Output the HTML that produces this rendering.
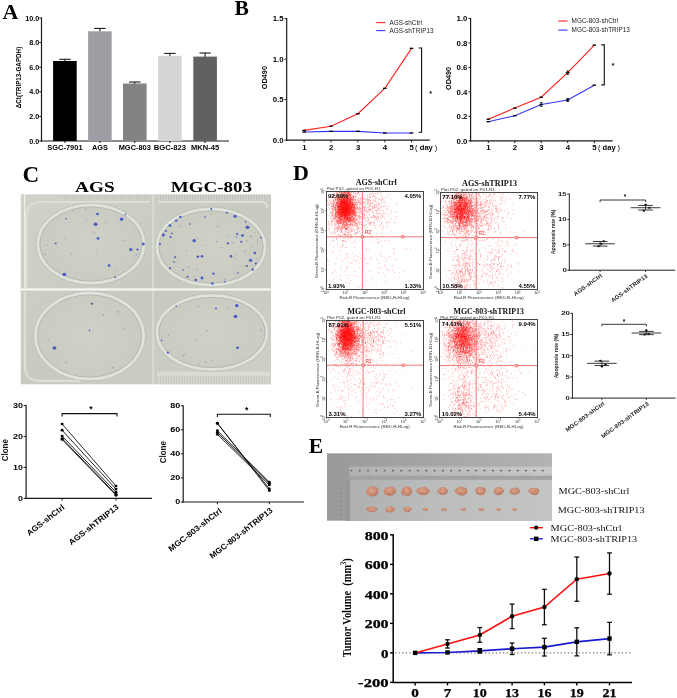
<!DOCTYPE html><html><head><meta charset="utf-8"><style>html,body{margin:0;padding:0;background:#fff;width:677px;height:698px;overflow:hidden}svg{display:block;will-change:transform}.S{font-family:"Liberation Sans", sans-serif}.Sb{font-family:"Liberation Sans", sans-serif;font-weight:bold}.R{font-family:"Liberation Serif", serif}.Rb{font-family:"Liberation Serif", serif;font-weight:bold}</style></head><body>
<svg width="677" height="698" viewBox="0 0 677 698">
<rect width="677" height="698" fill="#fff"/>
<text class="Rb" x="2.5" y="18.8" font-size="22" fill="#000">A</text>
<text class="Rb" x="234.6" y="14.6" font-size="21.5" fill="#000">B</text>
<text class="Rb" x="22.6" y="181.6" font-size="23" fill="#000">C</text>
<text class="Rb" x="293" y="179.7" font-size="22" fill="#000">D</text>
<text class="Rb" x="308.8" y="452.6" font-size="21.5" fill="#000">E</text>
<line x1="41.5" y1="17.5" x2="41.5" y2="141.6" stroke="#1a1a1a" stroke-width="1.2"/>
<line x1="40.9" y1="141" x2="229" y2="141" stroke="#1a1a1a" stroke-width="1.2"/>
<line x1="39.3" y1="141" x2="41.5" y2="141" stroke="#1a1a1a" stroke-width="1"/>
<text class="Sb" x="39.2" y="143.6" font-size="7.2" text-anchor="end">0.0</text>
<line x1="39.3" y1="116.4" x2="41.5" y2="116.4" stroke="#1a1a1a" stroke-width="1"/>
<text class="Sb" x="39.2" y="119" font-size="7.2" text-anchor="end">2.0</text>
<line x1="39.3" y1="91.8" x2="41.5" y2="91.8" stroke="#1a1a1a" stroke-width="1"/>
<text class="Sb" x="39.2" y="94.4" font-size="7.2" text-anchor="end">4.0</text>
<line x1="39.3" y1="67.2" x2="41.5" y2="67.2" stroke="#1a1a1a" stroke-width="1"/>
<text class="Sb" x="39.2" y="69.8" font-size="7.2" text-anchor="end">6.0</text>
<line x1="39.3" y1="42.6" x2="41.5" y2="42.6" stroke="#1a1a1a" stroke-width="1"/>
<text class="Sb" x="39.2" y="45.2" font-size="7.2" text-anchor="end">8.0</text>
<line x1="39.3" y1="18" x2="41.5" y2="18" stroke="#1a1a1a" stroke-width="1"/>
<text class="Sb" x="39.2" y="20.6" font-size="7.2" text-anchor="end">10.0</text>
<line x1="64.9" y1="59.3" x2="64.9" y2="61.5" stroke="#1a1a1a" stroke-width="1.1"/>
<line x1="59.2" y1="59.3" x2="70.6" y2="59.3" stroke="#1a1a1a" stroke-width="1.1"/>
<rect x="53.1" y="61" width="23.6" height="80" fill="#000000"/>
<line x1="64.9" y1="141" x2="64.9" y2="143" stroke="#1a1a1a" stroke-width="1"/>
<text class="Sb" x="64.9" y="149.7" font-size="7.3" text-anchor="middle" textLength="35.4" lengthAdjust="spacingAndGlyphs">SGC-7901</text>
<line x1="99.9" y1="28.4" x2="99.9" y2="31.8" stroke="#1a1a1a" stroke-width="1.1"/>
<line x1="94.2" y1="28.4" x2="105.6" y2="28.4" stroke="#1a1a1a" stroke-width="1.1"/>
<rect x="88.1" y="31.3" width="23.6" height="109.7" fill="#9e9da3"/>
<line x1="99.9" y1="141" x2="99.9" y2="143" stroke="#1a1a1a" stroke-width="1"/>
<text class="Sb" x="99.9" y="149.7" font-size="7.3" text-anchor="middle" textLength="16" lengthAdjust="spacingAndGlyphs">AGS</text>
<line x1="134.8" y1="82" x2="134.8" y2="84" stroke="#1a1a1a" stroke-width="1.1"/>
<line x1="129.1" y1="82" x2="140.5" y2="82" stroke="#1a1a1a" stroke-width="1.1"/>
<rect x="123" y="83.5" width="23.6" height="57.5" fill="#838383"/>
<line x1="134.8" y1="141" x2="134.8" y2="143" stroke="#1a1a1a" stroke-width="1"/>
<text class="Sb" x="134.8" y="149.7" font-size="7.3" text-anchor="middle" textLength="32.2" lengthAdjust="spacingAndGlyphs">MGC-803</text>
<line x1="169.9" y1="53.4" x2="169.9" y2="56.3" stroke="#1a1a1a" stroke-width="1.1"/>
<line x1="164.2" y1="53.4" x2="175.6" y2="53.4" stroke="#1a1a1a" stroke-width="1.1"/>
<rect x="158.1" y="55.8" width="23.6" height="85.2" fill="#d5d5d5"/>
<line x1="169.9" y1="141" x2="169.9" y2="143" stroke="#1a1a1a" stroke-width="1"/>
<text class="Sb" x="169.9" y="149.7" font-size="7.3" text-anchor="middle" textLength="32.3" lengthAdjust="spacingAndGlyphs">BGC-823</text>
<line x1="205.1" y1="53" x2="205.1" y2="57.1" stroke="#1a1a1a" stroke-width="1.1"/>
<line x1="199.4" y1="53" x2="210.8" y2="53" stroke="#1a1a1a" stroke-width="1.1"/>
<rect x="193.3" y="56.6" width="23.6" height="84.4" fill="#616161"/>
<line x1="205.1" y1="141" x2="205.1" y2="143" stroke="#1a1a1a" stroke-width="1"/>
<text class="Sb" x="205.1" y="149.7" font-size="7.3" text-anchor="middle" textLength="28" lengthAdjust="spacingAndGlyphs">MKN-45</text>
<text class="Sb" transform="translate(21.3 77.5) rotate(-90)" font-size="6.3" text-anchor="middle">ΔCt(TRIP13-GAPDH)</text>
<line x1="286.7" y1="18.1" x2="286.7" y2="140.7" stroke="#1a1a1a" stroke-width="1.2"/>
<line x1="286.1" y1="140.1" x2="429.7" y2="140.1" stroke="#1a1a1a" stroke-width="1.3"/>
<line x1="284.5" y1="140.1" x2="286.7" y2="140.1" stroke="#1a1a1a" stroke-width="1"/>
<text class="Sb" x="283.5" y="142.9" font-size="7.8" text-anchor="end">0.0</text>
<line x1="284.5" y1="99.6" x2="286.7" y2="99.6" stroke="#1a1a1a" stroke-width="1"/>
<text class="Sb" x="283.5" y="102.4" font-size="7.8" text-anchor="end">0.5</text>
<line x1="284.5" y1="59.1" x2="286.7" y2="59.1" stroke="#1a1a1a" stroke-width="1"/>
<text class="Sb" x="283.5" y="61.9" font-size="7.8" text-anchor="end">1.0</text>
<line x1="284.5" y1="18.6" x2="286.7" y2="18.6" stroke="#1a1a1a" stroke-width="1"/>
<text class="Sb" x="283.5" y="21.4" font-size="7.8" text-anchor="end">1.5</text>
<line x1="304.1" y1="140.1" x2="304.1" y2="142.3" stroke="#1a1a1a" stroke-width="1"/>
<text class="Sb" x="304.3" y="149.8" font-size="7.8" text-anchor="middle">1</text>
<line x1="331" y1="140.1" x2="331" y2="142.3" stroke="#1a1a1a" stroke-width="1"/>
<text class="Sb" x="331.2" y="149.8" font-size="7.8" text-anchor="middle">2</text>
<line x1="357.9" y1="140.1" x2="357.9" y2="142.3" stroke="#1a1a1a" stroke-width="1"/>
<text class="Sb" x="358.1" y="149.8" font-size="7.8" text-anchor="middle">3</text>
<line x1="384.8" y1="140.1" x2="384.8" y2="142.3" stroke="#1a1a1a" stroke-width="1"/>
<text class="Sb" x="385" y="149.8" font-size="7.8" text-anchor="middle">4</text>
<line x1="411.5" y1="140.1" x2="411.5" y2="142.3" stroke="#1a1a1a" stroke-width="1"/>
<text class="Sb" x="411.7" y="149.8" font-size="7.8" text-anchor="middle">5</text>
<text class="S" x="415.1" y="149.6" font-size="7.4">(</text>
<text class="Sb" x="419.8" y="149.8" font-size="7.6" textLength="13" lengthAdjust="spacingAndGlyphs">day</text>
<text class="S" x="434.8" y="149.6" font-size="7.4">)</text>
<polyline points="304.1,130.38 331,126.17 357.9,113.77 384.8,88.34 411.5,48.33" fill="none" stroke="#ff2020" stroke-width="1.1"/>
<polyline points="304.1,132 331,131.35 357.9,131.35 384.8,132.97 411.5,132.97" fill="none" stroke="#3333ff" stroke-width="1.1"/>
<line x1="302.3" y1="130.38" x2="305.9" y2="130.38" stroke="#000" stroke-width="1.3"/>
<line x1="329.2" y1="126.17" x2="332.8" y2="126.17" stroke="#000" stroke-width="1.3"/>
<line x1="356.1" y1="113.77" x2="359.7" y2="113.77" stroke="#000" stroke-width="1.3"/>
<line x1="383" y1="88.34" x2="386.6" y2="88.34" stroke="#000" stroke-width="1.3"/>
<line x1="409.7" y1="48.33" x2="413.3" y2="48.33" stroke="#000" stroke-width="1.3"/>
<line x1="302.3" y1="132" x2="305.9" y2="132" stroke="#000" stroke-width="1.3"/>
<line x1="329.2" y1="131.35" x2="332.8" y2="131.35" stroke="#000" stroke-width="1.3"/>
<line x1="356.1" y1="131.35" x2="359.7" y2="131.35" stroke="#000" stroke-width="1.3"/>
<line x1="383" y1="132.97" x2="386.6" y2="132.97" stroke="#000" stroke-width="1.3"/>
<line x1="409.7" y1="132.97" x2="413.3" y2="132.97" stroke="#000" stroke-width="1.3"/>
<polyline points="418.6,48 421.6,48 421.6,132.2 418.6,132.2" fill="none" stroke="#111" stroke-width="1.1"/>
<text class="Sb" x="430.5" y="96.2" font-size="7" text-anchor="middle">*</text>
<line x1="376.2" y1="22.6" x2="385.4" y2="22.6" stroke="#ff2020" stroke-width="1.1"/>
<line x1="376.2" y1="30.6" x2="385.4" y2="30.6" stroke="#3333ff" stroke-width="1.1"/>
<text class="S" x="389.5" y="24.8" font-size="6.4" fill="#222">AGS-shCtrl</text>
<text class="S" x="389.5" y="32.8" font-size="6.4" fill="#222">AGS-shTRIP13</text>
<text class="Sb" transform="translate(267 77.6) rotate(-90)" font-size="7.3" text-anchor="middle">OD490</text>
<line x1="470.6" y1="17.9" x2="470.6" y2="141.5" stroke="#1a1a1a" stroke-width="1.2"/>
<line x1="470" y1="140.9" x2="612.7" y2="140.9" stroke="#1a1a1a" stroke-width="1.3"/>
<line x1="468.4" y1="140.9" x2="470.6" y2="140.9" stroke="#1a1a1a" stroke-width="1"/>
<text class="Sb" x="467.4" y="143.7" font-size="7.8" text-anchor="end">0.0</text>
<line x1="468.4" y1="116.4" x2="470.6" y2="116.4" stroke="#1a1a1a" stroke-width="1"/>
<text class="Sb" x="467.4" y="119.2" font-size="7.8" text-anchor="end">0.2</text>
<line x1="468.4" y1="91.9" x2="470.6" y2="91.9" stroke="#1a1a1a" stroke-width="1"/>
<text class="Sb" x="467.4" y="94.7" font-size="7.8" text-anchor="end">0.4</text>
<line x1="468.4" y1="67.4" x2="470.6" y2="67.4" stroke="#1a1a1a" stroke-width="1"/>
<text class="Sb" x="467.4" y="70.2" font-size="7.8" text-anchor="end">0.6</text>
<line x1="468.4" y1="42.9" x2="470.6" y2="42.9" stroke="#1a1a1a" stroke-width="1"/>
<text class="Sb" x="467.4" y="45.7" font-size="7.8" text-anchor="end">0.8</text>
<line x1="468.4" y1="18.4" x2="470.6" y2="18.4" stroke="#1a1a1a" stroke-width="1"/>
<text class="Sb" x="467.4" y="21.2" font-size="7.8" text-anchor="end">1.0</text>
<line x1="488.3" y1="140.9" x2="488.3" y2="143.1" stroke="#1a1a1a" stroke-width="1"/>
<text class="Sb" x="488.5" y="149.8" font-size="7.8" text-anchor="middle">1</text>
<line x1="514.8" y1="140.9" x2="514.8" y2="143.1" stroke="#1a1a1a" stroke-width="1"/>
<text class="Sb" x="515" y="149.8" font-size="7.8" text-anchor="middle">2</text>
<line x1="541.2" y1="140.9" x2="541.2" y2="143.1" stroke="#1a1a1a" stroke-width="1"/>
<text class="Sb" x="541.4" y="149.8" font-size="7.8" text-anchor="middle">3</text>
<line x1="567.7" y1="140.9" x2="567.7" y2="143.1" stroke="#1a1a1a" stroke-width="1"/>
<text class="Sb" x="567.9" y="149.8" font-size="7.8" text-anchor="middle">4</text>
<line x1="594.3" y1="140.9" x2="594.3" y2="143.1" stroke="#1a1a1a" stroke-width="1"/>
<text class="Sb" x="594.5" y="149.8" font-size="7.8" text-anchor="middle">5</text>
<text class="S" x="597.9" y="149.6" font-size="7.4">(</text>
<text class="Sb" x="602.6" y="149.8" font-size="7.6" textLength="13" lengthAdjust="spacingAndGlyphs">day</text>
<text class="S" x="617.6" y="149.6" font-size="7.4">)</text>
<polyline points="488.3,119.22 514.8,108.07 541.2,97.17 567.7,72.67 594.3,45.11" fill="none" stroke="#ff2020" stroke-width="1.1"/>
<polyline points="488.3,121.67 514.8,115.67 541.2,104.52 567.7,99.99 594.3,85.16" fill="none" stroke="#3333ff" stroke-width="1.1"/>
<line x1="567.7" y1="70.95" x2="567.7" y2="74.38" stroke="#000" stroke-width="0.9"/>
<line x1="566.4" y1="70.95" x2="569" y2="70.95" stroke="#000" stroke-width="0.8"/>
<line x1="566.4" y1="74.38" x2="569" y2="74.38" stroke="#000" stroke-width="0.8"/>
<line x1="541.2" y1="102.68" x2="541.2" y2="106.36" stroke="#000" stroke-width="0.9"/>
<line x1="539.9" y1="102.68" x2="542.5" y2="102.68" stroke="#000" stroke-width="0.8"/>
<line x1="539.9" y1="106.36" x2="542.5" y2="106.36" stroke="#000" stroke-width="0.8"/>
<line x1="567.7" y1="98.52" x2="567.7" y2="101.46" stroke="#000" stroke-width="0.9"/>
<line x1="566.4" y1="98.52" x2="569" y2="98.52" stroke="#000" stroke-width="0.8"/>
<line x1="566.4" y1="101.46" x2="569" y2="101.46" stroke="#000" stroke-width="0.8"/>
<line x1="486.5" y1="119.22" x2="490.1" y2="119.22" stroke="#000" stroke-width="1.3"/>
<line x1="513" y1="108.07" x2="516.6" y2="108.07" stroke="#000" stroke-width="1.3"/>
<line x1="539.4" y1="97.17" x2="543" y2="97.17" stroke="#000" stroke-width="1.3"/>
<line x1="565.9" y1="72.67" x2="569.5" y2="72.67" stroke="#000" stroke-width="1.3"/>
<line x1="592.5" y1="45.11" x2="596.1" y2="45.11" stroke="#000" stroke-width="1.3"/>
<line x1="486.5" y1="121.67" x2="490.1" y2="121.67" stroke="#000" stroke-width="1.3"/>
<line x1="513" y1="115.67" x2="516.6" y2="115.67" stroke="#000" stroke-width="1.3"/>
<line x1="539.4" y1="104.52" x2="543" y2="104.52" stroke="#000" stroke-width="1.3"/>
<line x1="565.9" y1="99.99" x2="569.5" y2="99.99" stroke="#000" stroke-width="1.3"/>
<line x1="592.5" y1="85.16" x2="596.1" y2="85.16" stroke="#000" stroke-width="1.3"/>
<polyline points="601.3,44.9 604.3,44.9 604.3,84.9 601.3,84.9" fill="none" stroke="#111" stroke-width="1.1"/>
<text class="Sb" x="613" y="68" font-size="7" text-anchor="middle">*</text>
<line x1="558.3" y1="21" x2="567.5" y2="21" stroke="#ff2020" stroke-width="1.1"/>
<line x1="558.3" y1="30.1" x2="567.5" y2="30.1" stroke="#3333ff" stroke-width="1.1"/>
<text class="S" x="571.6" y="23.2" font-size="6.4" fill="#222">MGC-803-shCtrl</text>
<text class="S" x="571.6" y="32.3" font-size="6.4" fill="#222">MGC-803-shTRIP13</text>
<text class="Sb" transform="translate(451 78.4) rotate(-90)" font-size="7.3" text-anchor="middle">OD490</text>
<text class="Rb" x="75" y="191.6" font-size="15.2" textLength="39.6" lengthAdjust="spacingAndGlyphs" fill="#000">AGS</text>
<text class="Rb" x="170.8" y="191.6" font-size="15.2" textLength="81.3" lengthAdjust="spacingAndGlyphs" fill="#000">MGC-803</text>
<defs><linearGradient id="plbg" x1="0" y1="0" x2="1" y2="1"><stop offset="0" stop-color="#d0d3c9"/><stop offset="0.5" stop-color="#c7cabe"/><stop offset="1" stop-color="#cdd0c6"/></linearGradient><radialGradient id="wellg" cx="0.5" cy="0.5" r="0.6"><stop offset="0" stop-color="#d0d1c6"/><stop offset="0.8" stop-color="#cbccc1"/><stop offset="1" stop-color="#c6c8bd"/></radialGradient><pattern id="ribs" width="1.6" height="6" patternUnits="userSpaceOnUse"><rect width="1.6" height="6" fill="#d3d6ce"/><rect width="0.6" height="6" fill="#b9bcb3"/></pattern><pattern id="ribs2" width="1.6" height="9" patternUnits="userSpaceOnUse"><rect width="1.6" height="9" fill="#d8dad2"/><rect width="0.6" height="9" fill="#c2c4bb"/></pattern><clipPath id="plclip"><rect x="20.5" y="194" width="250.5" height="190.5"/></clipPath></defs>
<g clip-path="url(#plclip)">
<rect x="20.5" y="194" width="250.5" height="190.5" fill="url(#plbg)"/>
<rect x="60" y="194.3" width="90" height="4.2" fill="url(#ribs)"/>
<rect x="157" y="194.3" width="112" height="8" fill="url(#ribs)"/>
<rect x="20.5" y="194" width="250.5" height="0.8" fill="#e2e3de"/>
<rect x="157" y="376" width="113" height="8.5" fill="url(#ribs2)"/>
<rect x="157" y="371.5" width="113" height="4.5" fill="#d9dcd3"/>
<path d="M26.5 288V216Q26.5 202 41 202H150" fill="none" stroke="#dcdfd6" stroke-width="2.2"/>
<path d="M25 292V366Q25 381 41 381H80" fill="none" stroke="#dcdfd6" stroke-width="2.2"/>
<path d="M158 202H262Q267 202 267 208" fill="none" stroke="#dcdfd6" stroke-width="2.2"/>
<rect x="24" y="194" width="1.3" height="94" fill="#eeeeea"/>
<rect x="152.5" y="194" width="1.2" height="190" fill="#e2e3de"/>
<ellipse cx="91" cy="244" rx="55" ry="41" fill="url(#wellg)"/>
<ellipse cx="91" cy="244" rx="53.1" ry="39.1" fill="none" stroke="#dfe3d9" stroke-width="3.0"/>
<ellipse cx="91" cy="244" rx="51.1" ry="37.1" fill="none" stroke="#aeb1ad" stroke-width="0.7"/>
<ellipse cx="91" cy="244" rx="55" ry="41" fill="none" stroke="#b9bbb7" stroke-width="0.6"/>
<ellipse cx="211" cy="247" rx="56" ry="40" fill="url(#wellg)"/>
<ellipse cx="211" cy="247" rx="54.1" ry="38.1" fill="none" stroke="#dfe3d9" stroke-width="3.0"/>
<ellipse cx="211" cy="247" rx="52.1" ry="36.1" fill="none" stroke="#aeb1ad" stroke-width="0.7"/>
<ellipse cx="211" cy="247" rx="56" ry="40" fill="none" stroke="#b9bbb7" stroke-width="0.6"/>
<ellipse cx="89.5" cy="336" rx="56" ry="45" fill="url(#wellg)"/>
<ellipse cx="89.5" cy="336" rx="54.1" ry="43.1" fill="none" stroke="#dfe3d9" stroke-width="3.0"/>
<ellipse cx="89.5" cy="336" rx="52.1" ry="41.1" fill="none" stroke="#aeb1ad" stroke-width="0.7"/>
<ellipse cx="89.5" cy="336" rx="56" ry="45" fill="none" stroke="#b9bbb7" stroke-width="0.6"/>
<ellipse cx="212" cy="332.5" rx="57" ry="39" fill="url(#wellg)"/>
<ellipse cx="212" cy="332.5" rx="55.1" ry="37.1" fill="none" stroke="#dfe3d9" stroke-width="3.0"/>
<ellipse cx="212" cy="332.5" rx="53.1" ry="35.1" fill="none" stroke="#aeb1ad" stroke-width="0.7"/>
<ellipse cx="212" cy="332.5" rx="57" ry="39" fill="none" stroke="#b9bbb7" stroke-width="0.6"/>
<rect x="20.5" y="288.4" width="250.5" height="2.1" fill="#f8f8f6"/>
</g>
<ellipse cx="91.8" cy="303.8" rx="1.3" ry="1.0" fill="#5c6290"/>
<ellipse cx="97.6" cy="214" rx="1.43" ry="1.3" fill="#3c4fc8" opacity="0.9"/>
<ellipse cx="121.6" cy="219.2" rx="1.76" ry="1.6" fill="#3c4fc8" opacity="0.9"/>
<ellipse cx="95.6" cy="224.2" rx="1.98" ry="1.8" fill="#3c4fc8" opacity="0.9"/>
<ellipse cx="98" cy="238.4" rx="1.43" ry="1.3" fill="#3c4fc8" opacity="0.9"/>
<ellipse cx="55.7" cy="243.4" rx="0.99" ry="0.9" fill="#3c4fc8" opacity="0.9"/>
<ellipse cx="130.8" cy="249.5" rx="1.65" ry="1.5" fill="#3c4fc8" opacity="0.9"/>
<ellipse cx="137.5" cy="249.5" rx="1.21" ry="1.1" fill="#3c4fc8" opacity="0.9"/>
<ellipse cx="143.3" cy="244.1" rx="1.54" ry="1.4" fill="#3c4fc8" opacity="0.9"/>
<ellipse cx="109.1" cy="265.5" rx="1.43" ry="1.3" fill="#3c4fc8" opacity="0.9"/>
<ellipse cx="64.3" cy="274.5" rx="1.87" ry="1.7" fill="#3c4fc8" opacity="0.9"/>
<ellipse cx="115.2" cy="277.4" rx="0.88" ry="0.8" fill="#3c4fc8" opacity="0.9"/>
<ellipse cx="65.9" cy="218.8" rx="0.88" ry="0.8" fill="#3c4fc8" opacity="0.9"/>
<ellipse cx="125.4" cy="214.6" rx="0.88" ry="0.8" fill="#3c4fc8" opacity="0.9"/>
<ellipse cx="235.1" cy="216.3" rx="1.65" ry="1.5" fill="#3c4fc8" opacity="0.9"/>
<ellipse cx="247.5" cy="227.2" rx="1.98" ry="1.8" fill="#3c4fc8" opacity="0.9"/>
<ellipse cx="242.4" cy="235.5" rx="1.43" ry="1.3" fill="#3c4fc8" opacity="0.9"/>
<ellipse cx="237.2" cy="234" rx="1.1" ry="1" fill="#3c4fc8" opacity="0.9"/>
<ellipse cx="227.9" cy="243.3" rx="1.21" ry="1.1" fill="#3c4fc8" opacity="0.9"/>
<ellipse cx="194.2" cy="240.7" rx="1.76" ry="1.6" fill="#3c4fc8" opacity="0.9"/>
<ellipse cx="170.6" cy="237.1" rx="1.1" ry="1" fill="#3c4fc8" opacity="0.9"/>
<ellipse cx="163.4" cy="235" rx="1.54" ry="1.4" fill="#3c4fc8" opacity="0.9"/>
<ellipse cx="170" cy="225.6" rx="1.43" ry="1.3" fill="#3c4fc8" opacity="0.9"/>
<ellipse cx="176.2" cy="220.6" rx="1.32" ry="1.2" fill="#3c4fc8" opacity="0.9"/>
<ellipse cx="180.3" cy="216.9" rx="1.32" ry="1.2" fill="#3c4fc8" opacity="0.9"/>
<ellipse cx="172" cy="233.4" rx="0.88" ry="0.8" fill="#3c4fc8" opacity="0.9"/>
<ellipse cx="197.9" cy="256.6" rx="1.32" ry="1.2" fill="#3c4fc8" opacity="0.9"/>
<ellipse cx="202" cy="256.2" rx="1.32" ry="1.2" fill="#3c4fc8" opacity="0.9"/>
<ellipse cx="175.2" cy="257.2" rx="1.1" ry="1" fill="#3c4fc8" opacity="0.9"/>
<ellipse cx="231" cy="256.2" rx="1.32" ry="1.2" fill="#3c4fc8" opacity="0.9"/>
<ellipse cx="250.6" cy="260.3" rx="1.65" ry="1.5" fill="#3c4fc8" opacity="0.9"/>
<ellipse cx="254.8" cy="253" rx="1.32" ry="1.2" fill="#3c4fc8" opacity="0.9"/>
<ellipse cx="255.8" cy="263.4" rx="1.1" ry="1" fill="#3c4fc8" opacity="0.9"/>
<ellipse cx="252.7" cy="269.6" rx="1.32" ry="1.2" fill="#3c4fc8" opacity="0.9"/>
<ellipse cx="170" cy="268.2" rx="1.1" ry="1" fill="#3c4fc8" opacity="0.9"/>
<ellipse cx="195.8" cy="280" rx="1.32" ry="1.2" fill="#3c4fc8" opacity="0.9"/>
<ellipse cx="202" cy="277.9" rx="1.43" ry="1.3" fill="#3c4fc8" opacity="0.9"/>
<ellipse cx="213.4" cy="273.7" rx="1.21" ry="1.1" fill="#3c4fc8" opacity="0.9"/>
<ellipse cx="212.4" cy="283.5" rx="1.32" ry="1.2" fill="#3c4fc8" opacity="0.9"/>
<ellipse cx="187.6" cy="276.8" rx="1.1" ry="1" fill="#3c4fc8" opacity="0.9"/>
<ellipse cx="224.8" cy="282" rx="0.88" ry="0.8" fill="#3c4fc8" opacity="0.9"/>
<ellipse cx="211.3" cy="209" rx="0.99" ry="0.9" fill="#3c4fc8" opacity="0.9"/>
<ellipse cx="226.8" cy="212.7" rx="0.99" ry="0.9" fill="#3c4fc8" opacity="0.9"/>
<ellipse cx="245.5" cy="222" rx="0.88" ry="0.8" fill="#3c4fc8" opacity="0.9"/>
<ellipse cx="261" cy="237.6" rx="0.88" ry="0.8" fill="#3c4fc8" opacity="0.9"/>
<ellipse cx="241.3" cy="241.7" rx="1.1" ry="1" fill="#3c4fc8" opacity="0.9"/>
<ellipse cx="166" cy="231" rx="0.99" ry="0.9" fill="#3c4fc8" opacity="0.9"/>
<ellipse cx="160" cy="244" rx="0.99" ry="0.9" fill="#3c4fc8" opacity="0.9"/>
<ellipse cx="174" cy="262" rx="0.88" ry="0.8" fill="#3c4fc8" opacity="0.9"/>
<ellipse cx="183" cy="270" rx="0.88" ry="0.8" fill="#3c4fc8" opacity="0.9"/>
<ellipse cx="238" cy="273" rx="0.88" ry="0.8" fill="#3c4fc8" opacity="0.9"/>
<ellipse cx="247" cy="266" rx="0.99" ry="0.9" fill="#3c4fc8" opacity="0.9"/>
<ellipse cx="205" cy="217" rx="0.88" ry="0.8" fill="#3c4fc8" opacity="0.9"/>
<ellipse cx="190" cy="224" rx="0.88" ry="0.8" fill="#3c4fc8" opacity="0.9"/>
<ellipse cx="54.4" cy="348" rx="1.98" ry="1.8" fill="#3c4fc8" opacity="0.9"/>
<ellipse cx="89.5" cy="330.5" rx="0.88" ry="0.8" fill="#3c4fc8" opacity="0.9"/>
<ellipse cx="236.8" cy="305.7" rx="1.76" ry="1.6" fill="#3c4fc8" opacity="0.9"/>
<ellipse cx="235.5" cy="316.4" rx="1.87" ry="1.7" fill="#3c4fc8" opacity="0.9"/>
<ellipse cx="237.6" cy="347.7" rx="1.43" ry="1.3" fill="#3c4fc8" opacity="0.9"/>
<ellipse cx="167.9" cy="352.6" rx="1.21" ry="1.1" fill="#3c4fc8" opacity="0.9"/>
<ellipse cx="176.2" cy="306.3" rx="0.88" ry="0.8" fill="#3c4fc8" opacity="0.9"/>
<ellipse cx="216" cy="308.4" rx="0.99" ry="0.9" fill="#3c4fc8" opacity="0.9"/>
<ellipse cx="161.7" cy="340.2" rx="0.88" ry="0.8" fill="#3c4fc8" opacity="0.9"/>
<circle cx="180.2" cy="226.0" r="0.8" fill="#5a66b8" opacity="0.45"/>
<circle cx="251.2" cy="236.3" r="0.9" fill="#5a66b8" opacity="0.45"/>
<circle cx="244.6" cy="251.3" r="0.9" fill="#5a66b8" opacity="0.45"/>
<circle cx="182.9" cy="220.3" r="0.5" fill="#5a66b8" opacity="0.45"/>
<circle cx="186.6" cy="250.4" r="0.7" fill="#5a66b8" opacity="0.45"/>
<circle cx="205.9" cy="245.2" r="0.6" fill="#5a66b8" opacity="0.45"/>
<circle cx="202.2" cy="279.9" r="0.8" fill="#5a66b8" opacity="0.45"/>
<circle cx="235.0" cy="273.3" r="0.6" fill="#5a66b8" opacity="0.45"/>
<circle cx="197.8" cy="238.6" r="0.5" fill="#5a66b8" opacity="0.45"/>
<circle cx="226.8" cy="235.4" r="0.6" fill="#5a66b8" opacity="0.45"/>
<circle cx="257.4" cy="243.4" r="0.6" fill="#5a66b8" opacity="0.45"/>
<circle cx="246.6" cy="240.8" r="0.8" fill="#5a66b8" opacity="0.45"/>
<circle cx="224.6" cy="279.6" r="0.8" fill="#5a66b8" opacity="0.45"/>
<circle cx="257.2" cy="240.1" r="0.6" fill="#5a66b8" opacity="0.45"/>
<circle cx="197.9" cy="257.9" r="0.6" fill="#5a66b8" opacity="0.45"/>
<circle cx="236.2" cy="254.6" r="0.7" fill="#5a66b8" opacity="0.45"/>
<circle cx="252.2" cy="247.6" r="0.6" fill="#5a66b8" opacity="0.45"/>
<circle cx="194.4" cy="276.4" r="0.7" fill="#5a66b8" opacity="0.45"/>
<circle cx="197.1" cy="269.2" r="0.8" fill="#5a66b8" opacity="0.45"/>
<circle cx="257.2" cy="259.1" r="0.5" fill="#5a66b8" opacity="0.45"/>
<circle cx="210.9" cy="214.8" r="0.5" fill="#5a66b8" opacity="0.45"/>
<circle cx="218.1" cy="226.4" r="0.7" fill="#5a66b8" opacity="0.45"/>
<circle cx="221.8" cy="247.4" r="0.6" fill="#5a66b8" opacity="0.45"/>
<circle cx="232.3" cy="242.7" r="0.8" fill="#5a66b8" opacity="0.45"/>
<circle cx="254.9" cy="232.5" r="0.6" fill="#5a66b8" opacity="0.45"/>
<circle cx="188.8" cy="267.1" r="0.8" fill="#5a66b8" opacity="0.45"/>
<circle cx="244.7" cy="266.0" r="0.8" fill="#5a66b8" opacity="0.45"/>
<circle cx="217.1" cy="241.8" r="0.9" fill="#5a66b8" opacity="0.45"/>
<circle cx="235.5" cy="258.1" r="0.7" fill="#5a66b8" opacity="0.45"/>
<circle cx="236.4" cy="237.0" r="0.9" fill="#5a66b8" opacity="0.45"/>
<circle cx="65.2" cy="238.4" r="0.6" fill="#5a66b8" opacity="0.45"/>
<circle cx="96.9" cy="253.0" r="0.6" fill="#5a66b8" opacity="0.45"/>
<circle cx="73.1" cy="210.7" r="0.6" fill="#5a66b8" opacity="0.45"/>
<circle cx="136.5" cy="254.7" r="0.7" fill="#5a66b8" opacity="0.45"/>
<circle cx="71.6" cy="253.8" r="0.7" fill="#5a66b8" opacity="0.45"/>
<circle cx="105.9" cy="222.4" r="0.7" fill="#5a66b8" opacity="0.45"/>
<circle cx="134.2" cy="255.8" r="0.5" fill="#5a66b8" opacity="0.45"/>
<circle cx="47.1" cy="245.3" r="0.6" fill="#5a66b8" opacity="0.45"/>
<circle cx="85.6" cy="209.1" r="0.8" fill="#5a66b8" opacity="0.45"/>
<circle cx="94.7" cy="232.6" r="0.7" fill="#5a66b8" opacity="0.45"/>
<circle cx="117.1" cy="270.7" r="0.6" fill="#5a66b8" opacity="0.45"/>
<circle cx="45.1" cy="254.4" r="0.8" fill="#5a66b8" opacity="0.45"/>
<circle cx="123.0" cy="240.4" r="0.7" fill="#5a66b8" opacity="0.45"/>
<circle cx="86.7" cy="219.3" r="0.6" fill="#5a66b8" opacity="0.45"/>
<circle cx="196.3" cy="339.9" r="0.7" fill="#5a66b8" opacity="0.45"/>
<circle cx="260.9" cy="330.1" r="0.8" fill="#5a66b8" opacity="0.45"/>
<circle cx="182.9" cy="332.6" r="0.5" fill="#5a66b8" opacity="0.45"/>
<circle cx="205.8" cy="362.3" r="0.8" fill="#5a66b8" opacity="0.45"/>
<circle cx="183.5" cy="355.6" r="0.8" fill="#5a66b8" opacity="0.45"/>
<circle cx="198.1" cy="306.5" r="0.8" fill="#5a66b8" opacity="0.45"/>
<circle cx="184.6" cy="354.1" r="0.6" fill="#5a66b8" opacity="0.45"/>
<circle cx="168.3" cy="335.2" r="0.8" fill="#5a66b8" opacity="0.45"/>
<circle cx="198.8" cy="364.3" r="0.8" fill="#5a66b8" opacity="0.45"/>
<circle cx="207.3" cy="330.7" r="0.7" fill="#5a66b8" opacity="0.45"/>
<circle cx="211.8" cy="360.4" r="0.7" fill="#5a66b8" opacity="0.45"/>
<circle cx="228.4" cy="307.5" r="0.8" fill="#5a66b8" opacity="0.45"/>
<circle cx="66.3" cy="362.2" r="0.8" fill="#5a66b8" opacity="0.45"/>
<circle cx="103.5" cy="315.1" r="0.8" fill="#5a66b8" opacity="0.45"/>
<circle cx="117.9" cy="311.8" r="0.9" fill="#5a66b8" opacity="0.45"/>
<circle cx="124.2" cy="328.2" r="0.7" fill="#5a66b8" opacity="0.45"/>
<circle cx="112.5" cy="367.6" r="0.9" fill="#5a66b8" opacity="0.45"/>
<circle cx="48.3" cy="340.7" r="0.8" fill="#5a66b8" opacity="0.45"/>
<line x1="26.1" y1="404.9" x2="26.1" y2="499" stroke="#1a1a1a" stroke-width="1.2"/>
<line x1="25.5" y1="498.4" x2="152" y2="498.4" stroke="#1a1a1a" stroke-width="1.2"/>
<line x1="23.7" y1="498.4" x2="26.1" y2="498.4" stroke="#1a1a1a" stroke-width="1"/>
<text class="Sb" x="23.1" y="500.7" font-size="6.4" text-anchor="end" textLength="5" lengthAdjust="spacingAndGlyphs">0</text>
<line x1="23.7" y1="467.4" x2="26.1" y2="467.4" stroke="#1a1a1a" stroke-width="1"/>
<text class="Sb" x="23.1" y="469.7" font-size="6.4" text-anchor="end" textLength="10" lengthAdjust="spacingAndGlyphs">10</text>
<line x1="23.7" y1="436.4" x2="26.1" y2="436.4" stroke="#1a1a1a" stroke-width="1"/>
<text class="Sb" x="23.1" y="438.7" font-size="6.4" text-anchor="end" textLength="10" lengthAdjust="spacingAndGlyphs">20</text>
<line x1="23.7" y1="405.4" x2="26.1" y2="405.4" stroke="#1a1a1a" stroke-width="1"/>
<text class="Sb" x="23.1" y="407.7" font-size="6.4" text-anchor="end" textLength="10" lengthAdjust="spacingAndGlyphs">30</text>
<line x1="62.1" y1="498.4" x2="62.1" y2="500.6" stroke="#1a1a1a" stroke-width="1"/>
<line x1="116" y1="498.4" x2="116" y2="500.6" stroke="#1a1a1a" stroke-width="1"/>
<line x1="62.1" y1="424" x2="116" y2="486" stroke="#111" stroke-width="0.9"/>
<line x1="62.1" y1="430.2" x2="116" y2="489.1" stroke="#111" stroke-width="0.9"/>
<line x1="62.1" y1="436.09" x2="116" y2="492.2" stroke="#111" stroke-width="0.9"/>
<line x1="62.1" y1="439.5" x2="116" y2="495.3" stroke="#111" stroke-width="0.9"/>
<line x1="62.1" y1="438.57" x2="116" y2="494.37" stroke="#111" stroke-width="0.9"/>
<ellipse cx="62.1" cy="424" rx="1.5" ry="1.35" fill="#000"/>
<ellipse cx="62.1" cy="430.2" rx="1.5" ry="1.35" fill="#000"/>
<ellipse cx="62.1" cy="436.09" rx="1.5" ry="1.35" fill="#000"/>
<ellipse cx="62.1" cy="439.5" rx="1.5" ry="1.35" fill="#000"/>
<ellipse cx="62.1" cy="438.57" rx="1.5" ry="1.35" fill="#000"/>
<ellipse cx="116" cy="486" rx="1.5" ry="1.35" fill="#000"/>
<ellipse cx="116" cy="489.1" rx="1.5" ry="1.35" fill="#000"/>
<ellipse cx="116" cy="492.2" rx="1.5" ry="1.35" fill="#000"/>
<ellipse cx="116" cy="495.3" rx="1.5" ry="1.35" fill="#000"/>
<ellipse cx="116" cy="494.37" rx="1.5" ry="1.35" fill="#000"/>
<polyline points="62.1,416.4 62.1,413.6 117,413.6 117,416.4" fill="none" stroke="#111" stroke-width="1.1"/>
<text class="Sb" x="90.8" y="412.1" font-size="8.5" text-anchor="middle">*</text>
<text class="Sb" transform="translate(7.8 450.2) scale(1.2 1) rotate(-90)" font-size="8" text-anchor="middle" fill="#1a1a1a">Clone</text>
<text class="Sb" transform="translate(65.2 508.2) rotate(-38)" font-size="8" text-anchor="end" textLength="45.6" lengthAdjust="spacingAndGlyphs">AGS-shCtrl</text>
<text class="Sb" transform="translate(119.3 508) rotate(-38)" font-size="8" text-anchor="end" textLength="61" lengthAdjust="spacingAndGlyphs">AGS-shTRIP13</text>
<line x1="183.2" y1="405.18" x2="183.2" y2="502.6" stroke="#1a1a1a" stroke-width="1.2"/>
<line x1="182.6" y1="502" x2="304" y2="502" stroke="#1a1a1a" stroke-width="1.2"/>
<line x1="180.8" y1="502" x2="183.2" y2="502" stroke="#1a1a1a" stroke-width="1"/>
<text class="Sb" x="180.2" y="504.3" font-size="6.4" text-anchor="end" textLength="5" lengthAdjust="spacingAndGlyphs">0</text>
<line x1="180.8" y1="477.92" x2="183.2" y2="477.92" stroke="#1a1a1a" stroke-width="1"/>
<text class="Sb" x="180.2" y="480.22" font-size="6.4" text-anchor="end" textLength="10" lengthAdjust="spacingAndGlyphs">20</text>
<line x1="180.8" y1="453.84" x2="183.2" y2="453.84" stroke="#1a1a1a" stroke-width="1"/>
<text class="Sb" x="180.2" y="456.14" font-size="6.4" text-anchor="end" textLength="10" lengthAdjust="spacingAndGlyphs">40</text>
<line x1="180.8" y1="429.76" x2="183.2" y2="429.76" stroke="#1a1a1a" stroke-width="1"/>
<text class="Sb" x="180.2" y="432.06" font-size="6.4" text-anchor="end" textLength="10" lengthAdjust="spacingAndGlyphs">60</text>
<line x1="180.8" y1="405.68" x2="183.2" y2="405.68" stroke="#1a1a1a" stroke-width="1"/>
<text class="Sb" x="180.2" y="407.98" font-size="6.4" text-anchor="end" textLength="10" lengthAdjust="spacingAndGlyphs">80</text>
<line x1="217.4" y1="502" x2="217.4" y2="504.2" stroke="#1a1a1a" stroke-width="1"/>
<line x1="269.3" y1="502" x2="269.3" y2="504.2" stroke="#1a1a1a" stroke-width="1"/>
<line x1="217.4" y1="423.14" x2="269.3" y2="490.56" stroke="#111" stroke-width="0.9"/>
<line x1="217.4" y1="423.38" x2="269.3" y2="488.76" stroke="#111" stroke-width="0.9"/>
<line x1="217.4" y1="430.72" x2="269.3" y2="482.01" stroke="#111" stroke-width="0.9"/>
<line x1="217.4" y1="432.53" x2="269.3" y2="483.34" stroke="#111" stroke-width="0.9"/>
<line x1="217.4" y1="434.34" x2="269.3" y2="485.02" stroke="#111" stroke-width="0.9"/>
<ellipse cx="217.4" cy="423.14" rx="1.5" ry="1.35" fill="#000"/>
<ellipse cx="217.4" cy="423.38" rx="1.5" ry="1.35" fill="#000"/>
<ellipse cx="217.4" cy="430.72" rx="1.5" ry="1.35" fill="#000"/>
<ellipse cx="217.4" cy="432.53" rx="1.5" ry="1.35" fill="#000"/>
<ellipse cx="217.4" cy="434.34" rx="1.5" ry="1.35" fill="#000"/>
<ellipse cx="269.3" cy="490.56" rx="1.5" ry="1.35" fill="#000"/>
<ellipse cx="269.3" cy="488.76" rx="1.5" ry="1.35" fill="#000"/>
<ellipse cx="269.3" cy="482.01" rx="1.5" ry="1.35" fill="#000"/>
<ellipse cx="269.3" cy="483.34" rx="1.5" ry="1.35" fill="#000"/>
<ellipse cx="269.3" cy="485.02" rx="1.5" ry="1.35" fill="#000"/>
<polyline points="217.4,417.1 217.4,414.3 270.3,414.3 270.3,417.1" fill="none" stroke="#111" stroke-width="1.1"/>
<text class="Sb" x="246.7" y="412.7" font-size="8.5" text-anchor="middle">*</text>
<text class="Sb" transform="translate(166 452.2) scale(1.2 1) rotate(-90)" font-size="8" text-anchor="middle" fill="#1a1a1a">Clone</text>
<text class="Sb" transform="translate(222.3 512) rotate(-38)" font-size="8" text-anchor="end" textLength="65" lengthAdjust="spacingAndGlyphs">MGC-803-shCtrl</text>
<text class="Sb" transform="translate(273.3 511.4) rotate(-38)" font-size="8" text-anchor="end" textLength="77.5" lengthAdjust="spacingAndGlyphs">MGC-803-shTRIP13</text>
<rect x="326" y="191.2" width="97" height="98.1" fill="#fff"/>
<path d="M343.2 211.6h.7M343.4 205.0h.7M339.8 205.8h.7M350.1 210.9h.7M349.7 209.5h.7M346.5 209.0h.7M336.2 214.3h.7M347.0 211.5h.7M336.0 193.5h.7M340.1 203.8h.7M346.0 207.1h.7M347.1 202.4h.7M346.0 210.7h.7M341.2 221.2h.7M347.3 217.1h.7M341.4 201.6h.7M342.8 206.6h.7M347.7 209.5h.7M342.3 199.8h.7M341.9 217.3h.7M340.5 209.5h.7M346.6 195.6h.7M344.7 217.9h.7M334.4 204.9h.7M344.0 201.0h.7M347.0 207.0h.7M337.2 214.1h.7M347.8 215.1h.7M351.7 210.4h.7M345.1 197.1h.7M347.6 202.6h.7M342.2 197.4h.7M339.7 203.3h.7M337.2 209.4h.7M351.7 212.1h.7M346.3 201.6h.7M338.9 215.3h.7M350.0 208.8h.7M345.7 211.0h.7M352.5 212.5h.7M347.1 211.9h.7M336.7 217.8h.7M349.3 211.7h.7M334.6 202.4h.7M348.7 193.0h.7M343.6 215.7h.7M337.9 220.4h.7M347.3 206.3h.7M346.1 212.7h.7M345.1 216.7h.7M341.2 204.2h.7M349.7 207.7h.7M340.1 215.1h.7M351.8 203.9h.7M337.6 206.4h.7M343.8 205.1h.7M351.5 199.3h.7M350.8 197.4h.7M340.6 212.6h.7M350.1 214.4h.7M346.2 208.6h.7M345.3 212.1h.7M343.6 209.7h.7M347.4 207.5h.7M348.3 212.0h.7M354.6 210.1h.7M342.4 204.5h.7M344.4 214.9h.7M342.8 210.6h.7M338.9 209.5h.7M346.5 209.4h.7M342.3 212.7h.7M345.9 203.3h.7M356.7 210.3h.7M341.7 206.7h.7M343.4 207.0h.7M330.9 203.6h.7M349.5 198.2h.7M344.2 215.1h.7M348.8 219.4h.7M336.0 204.7h.7M342.8 212.5h.7M349.9 195.9h.7M347.9 195.6h.7M345.4 217.1h.7M343.8 209.0h.7M348.5 208.6h.7M344.1 219.8h.7M349.7 205.1h.7M358.2 198.3h.7M349.1 205.4h.7M345.2 213.1h.7M345.6 212.6h.7M336.9 195.4h.7M347.6 199.8h.7M339.4 195.7h.7M350.8 213.5h.7M351.9 200.0h.7M344.5 198.4h.7M348.3 220.2h.7M340.0 220.0h.7M349.4 206.1h.7M334.6 218.8h.7M344.0 202.7h.7M346.5 210.8h.7M352.0 199.3h.7M350.2 219.4h.7M351.8 206.1h.7M340.8 215.6h.7M345.1 208.5h.7M351.6 205.4h.7M333.0 204.4h.7M335.2 214.1h.7M346.1 202.6h.7M344.5 214.2h.7M344.9 218.1h.7M344.2 215.8h.7M352.0 220.4h.7M341.1 214.5h.7M335.1 198.8h.7M334.7 216.1h.7M338.3 207.4h.7M343.5 207.3h.7M341.5 209.4h.7M353.5 207.9h.7M347.2 215.5h.7M343.5 197.4h.7M341.7 216.1h.7M336.3 202.7h.7M349.5 213.8h.7M344.5 213.9h.7M345.3 198.1h.7M336.7 202.4h.7M349.1 203.0h.7M340.0 201.3h.7M336.8 206.6h.7M338.6 210.4h.7M332.7 210.1h.7M341.3 192.0h.7M348.1 205.3h.7M333.3 200.5h.7M346.0 203.8h.7M348.4 213.5h.7M347.8 210.1h.7M351.2 212.8h.7M349.0 218.0h.7M343.0 203.7h.7M354.2 193.4h.7M346.8 226.9h.7M339.9 213.0h.7M353.9 206.5h.7M347.3 214.7h.7M340.0 206.8h.7M346.0 214.1h.7M344.3 205.9h.7M339.4 204.6h.7M349.0 208.3h.7M340.2 200.8h.7M357.8 216.6h.7M347.6 211.3h.7M352.9 210.9h.7M344.2 211.7h.7M334.8 215.8h.7M346.1 201.9h.7M351.1 222.0h.7M337.5 202.2h.7M346.0 209.0h.7M342.5 199.7h.7M355.1 215.8h.7M338.5 196.7h.7M353.0 215.4h.7M353.6 214.0h.7M340.1 209.6h.7M333.7 201.5h.7M344.2 211.7h.7M340.9 206.5h.7M346.8 210.5h.7M347.7 209.2h.7M342.9 213.8h.7M344.7 200.9h.7M341.4 207.5h.7M344.0 208.8h.7M344.5 208.9h.7M343.8 197.4h.7M346.6 215.9h.7M346.7 206.0h.7M346.7 199.8h.7M335.0 208.0h.7M339.8 213.4h.7M339.3 220.1h.7M342.6 196.5h.7M340.7 211.7h.7M347.0 208.9h.7M351.9 213.2h.7M344.4 212.3h.7M352.8 215.3h.7M349.6 198.8h.7M343.8 213.3h.7M343.0 216.1h.7M347.5 214.8h.7M343.4 227.9h.7M350.7 205.8h.7M345.0 228.3h.7M342.8 214.5h.7M349.4 207.6h.7M338.7 209.0h.7M346.3 216.5h.7M348.4 207.7h.7M348.8 211.8h.7M345.5 207.9h.7M343.3 213.0h.7M339.2 202.5h.7M344.5 195.8h.7M341.1 212.0h.7M347.3 207.1h.7M343.3 196.2h.7M353.6 211.6h.7M350.0 200.4h.7M343.6 192.9h.7M348.4 215.0h.7M335.0 207.1h.7M347.7 193.4h.7M335.4 199.0h.7M341.4 196.3h.7M344.7 209.5h.7M347.7 213.1h.7M352.0 216.8h.7M337.9 203.5h.7M339.2 198.9h.7M344.1 207.5h.7M347.0 194.8h.7M338.3 207.3h.7M343.5 205.0h.7M344.2 201.4h.7M348.0 210.3h.7M344.1 202.1h.7M339.6 207.8h.7M337.0 209.1h.7M345.2 196.5h.7M343.2 205.0h.7M346.8 212.4h.7M344.3 200.7h.7M343.8 207.0h.7M348.2 209.9h.7M340.9 196.7h.7M342.6 201.6h.7M338.9 206.6h.7M342.0 208.3h.7M347.1 204.2h.7M356.1 204.9h.7M350.0 208.5h.7M340.7 209.5h.7M347.5 226.2h.7M346.1 217.7h.7M348.3 215.1h.7M347.1 206.3h.7M347.0 198.9h.7M350.4 199.4h.7M345.7 224.5h.7M343.4 207.7h.7M350.3 207.7h.7M340.5 209.6h.7M347.4 213.2h.7M340.6 221.5h.7M352.8 207.6h.7M345.8 204.1h.7M351.6 201.9h.7M347.9 203.7h.7M341.0 213.2h.7M351.2 207.4h.7M341.1 214.0h.7M344.3 210.0h.7M352.1 216.6h.7M341.9 225.8h.7M344.5 213.8h.7M341.3 207.1h.7M335.8 221.8h.7M351.3 197.8h.7M337.0 194.5h.7M350.4 203.8h.7M344.2 205.0h.7M343.9 198.8h.7M344.6 196.0h.7M344.1 210.0h.7M346.8 205.6h.7M340.0 208.8h.7M342.1 220.0h.7M348.3 206.6h.7M342.1 201.9h.7M339.8 204.7h.7M346.0 211.6h.7M347.3 224.3h.7M341.0 207.6h.7M358.5 192.6h.7M341.9 208.9h.7M345.3 210.8h.7M343.3 210.4h.7M344.8 213.7h.7M335.0 200.4h.7M344.5 199.2h.7M339.3 212.5h.7M341.3 212.6h.7M348.2 210.0h.7M347.0 206.7h.7M337.5 207.3h.7M346.8 203.3h.7M344.0 213.5h.7M340.1 212.6h.7M353.8 203.1h.7M345.2 206.3h.7M352.2 210.0h.7M349.0 202.0h.7M344.4 207.4h.7M335.6 219.0h.7M349.0 193.5h.7M348.2 206.5h.7M346.7 210.4h.7M337.0 205.8h.7M352.0 202.9h.7M339.4 196.6h.7M338.4 210.2h.7M353.0 210.9h.7M345.7 225.4h.7M341.9 202.1h.7M347.1 211.9h.7M339.4 198.1h.7M346.0 209.5h.7M338.0 205.9h.7M341.8 211.2h.7M343.9 206.8h.7M342.7 215.9h.7M351.5 204.6h.7M348.7 201.4h.7M344.9 213.5h.7M352.1 204.4h.7M344.1 209.1h.7M337.0 207.6h.7M341.1 210.5h.7M344.7 209.6h.7M341.8 214.6h.7M343.1 202.7h.7M346.9 195.0h.7M341.1 207.3h.7M348.7 206.2h.7M346.0 202.3h.7M346.0 220.8h.7M341.1 226.4h.7M341.3 207.6h.7M345.4 215.7h.7M347.5 213.9h.7M347.6 228.5h.7M345.5 209.5h.7M349.1 210.5h.7M352.8 197.6h.7M348.6 204.5h.7M349.1 224.7h.7M344.5 205.5h.7M342.0 200.8h.7M341.3 212.6h.7M344.7 208.0h.7M343.6 214.8h.7M347.0 206.4h.7M347.8 206.3h.7M338.7 219.1h.7M346.8 199.8h.7M349.9 210.3h.7M336.7 220.4h.7M346.2 214.6h.7M345.5 206.3h.7M336.8 215.3h.7M344.7 205.2h.7M346.3 208.1h.7M347.9 204.5h.7M342.4 212.9h.7M351.2 204.6h.7M343.9 220.2h.7M342.9 213.4h.7M352.9 207.8h.7M350.6 201.8h.7M345.5 206.9h.7M345.1 216.5h.7M356.4 202.2h.7M341.6 211.5h.7M339.2 211.5h.7M347.4 205.3h.7M347.2 195.1h.7M348.3 195.1h.7M341.0 203.1h.7M342.5 214.4h.7M344.9 204.3h.7M347.2 220.2h.7M344.5 210.4h.7M350.7 209.6h.7M338.1 227.4h.7M344.3 210.8h.7M349.3 212.9h.7M343.1 199.1h.7M345.0 215.8h.7M339.1 199.3h.7M344.4 192.0h.7M343.2 204.0h.7M346.8 201.9h.7M340.1 204.3h.7M344.3 202.2h.7M344.6 213.5h.7M350.4 221.1h.7M340.6 204.1h.7M332.1 222.7h.7M340.9 207.2h.7M347.1 196.6h.7M346.8 207.3h.7M335.4 209.8h.7M350.5 192.6h.7M348.5 209.2h.7M346.9 211.0h.7M351.0 205.7h.7M348.9 204.2h.7M348.1 201.0h.7M344.0 221.3h.7M346.7 206.2h.7M338.8 201.2h.7M345.5 215.0h.7M346.6 211.7h.7M344.3 218.3h.7M342.5 203.1h.7M348.9 208.0h.7M343.1 202.9h.7M343.2 212.5h.7M346.3 197.8h.7M346.6 208.9h.7M339.5 213.7h.7M343.1 204.8h.7M348.5 218.1h.7M341.1 211.0h.7M340.1 226.0h.7M342.0 217.1h.7M341.3 214.0h.7M342.3 211.5h.7M344.0 202.2h.7M355.3 208.1h.7M336.3 214.3h.7M335.9 216.7h.7M341.6 208.7h.7M350.8 208.4h.7M337.5 193.9h.7M350.4 213.4h.7M340.4 214.4h.7M347.0 212.7h.7M333.2 205.1h.7M349.0 213.4h.7M345.3 211.4h.7M357.3 199.9h.7M342.9 207.8h.7M348.9 204.0h.7M350.2 201.2h.7M345.8 203.3h.7M345.3 202.0h.7M336.5 216.2h.7M346.0 203.0h.7M345.5 215.4h.7M339.6 206.6h.7M347.2 211.7h.7M350.7 210.1h.7M344.6 205.3h.7M345.8 204.1h.7M339.4 201.6h.7M341.5 202.6h.7M338.7 212.6h.7M338.0 212.8h.7M339.4 210.3h.7M351.4 209.1h.7M340.8 207.9h.7M345.2 193.6h.7M341.5 208.8h.7M342.2 208.1h.7M348.2 213.6h.7M349.0 212.2h.7M343.1 207.4h.7M343.1 205.0h.7M343.6 193.7h.7M342.8 207.3h.7M339.6 207.3h.7M347.1 206.2h.7M343.5 192.9h.7M349.4 228.7h.7M332.0 208.5h.7M347.1 205.1h.7M348.8 210.5h.7M344.6 202.8h.7M347.7 203.6h.7M345.6 203.4h.7M333.3 207.2h.7M345.5 213.5h.7M340.1 207.2h.7M347.6 208.7h.7M350.7 223.4h.7M340.0 192.1h.7M348.8 219.7h.7M349.1 214.0h.7M341.4 201.8h.7M348.9 200.2h.7M335.4 199.5h.7M357.0 222.9h.7M341.1 201.7h.7M345.7 201.5h.7M351.1 206.9h.7M339.1 218.0h.7M341.6 209.3h.7M344.4 205.0h.7M346.1 202.0h.7M338.2 201.4h.7M344.4 207.9h.7M347.3 208.5h.7M340.5 201.8h.7M333.9 206.1h.7M346.9 211.7h.7M343.9 206.1h.7M349.2 207.6h.7M348.2 212.2h.7M345.6 218.0h.7M341.6 204.6h.7M340.5 201.1h.7M352.3 221.6h.7M344.6 212.0h.7M350.4 214.0h.7M350.5 197.4h.7M341.3 211.1h.7M351.7 208.3h.7M340.2 204.7h.7M341.2 200.6h.7M352.0 202.5h.7M344.6 224.8h.7M350.4 210.2h.7M341.4 210.8h.7M352.6 212.5h.7M350.8 208.3h.7M347.1 205.9h.7M346.6 217.9h.7M337.3 207.0h.7M345.7 202.9h.7M343.0 213.8h.7M354.5 212.5h.7M346.1 195.1h.7M354.1 208.1h.7M344.3 198.6h.7M344.2 198.7h.7M344.9 211.2h.7M344.7 209.7h.7M340.2 218.9h.7M341.2 193.0h.7M343.6 201.4h.7M339.5 204.7h.7M346.0 198.0h.7M343.8 218.9h.7M347.9 206.3h.7M345.1 206.5h.7M344.3 213.4h.7M344.4 200.4h.7M347.8 202.6h.7M345.2 224.9h.7M339.3 198.5h.7M335.1 210.4h.7M341.3 192.6h.7M337.1 212.4h.7M340.6 204.6h.7M346.2 218.4h.7M354.2 215.8h.7M345.2 209.0h.7M353.5 218.9h.7M342.9 211.2h.7M345.9 207.9h.7M342.0 196.9h.7M341.8 195.1h.7M350.6 211.8h.7M338.5 218.7h.7M349.0 192.2h.7M353.7 214.0h.7M354.8 197.7h.7M347.2 210.9h.7M345.5 208.9h.7M349.8 195.5h.7M338.3 196.3h.7M341.7 202.7h.7M346.3 209.6h.7M344.7 202.1h.7M342.3 215.1h.7M348.3 208.3h.7M342.9 219.9h.7M341.5 212.7h.7M350.3 205.4h.7M348.6 198.6h.7M349.6 209.1h.7M336.6 212.9h.7M340.0 217.8h.7M341.1 206.2h.7M345.9 204.8h.7M345.8 203.1h.7M347.9 207.5h.7M350.3 207.8h.7M335.6 208.3h.7M346.8 216.1h.7M339.1 219.9h.7M343.7 226.7h.7M343.8 212.9h.7M342.7 198.6h.7M350.0 214.8h.7M352.2 214.4h.7M341.6 194.2h.7M341.2 202.1h.7M340.4 212.2h.7M346.1 205.3h.7M345.4 206.3h.7M345.6 213.5h.7M349.3 202.0h.7M337.0 218.9h.7M345.1 216.3h.7M336.3 204.9h.7M344.6 196.0h.7M341.9 213.3h.7M349.9 220.3h.7M340.2 196.3h.7M347.1 215.0h.7M345.5 197.1h.7M348.4 213.8h.7M347.3 203.6h.7M346.0 213.8h.7M341.7 192.8h.7M346.1 211.3h.7M344.6 214.6h.7M341.6 206.8h.7M343.0 212.1h.7M352.5 205.5h.7M354.8 219.7h.7M348.5 212.2h.7M353.4 206.1h.7M343.9 199.0h.7M346.9 218.3h.7M347.2 210.9h.7M343.5 208.9h.7M337.4 215.9h.7M342.5 198.7h.7M340.7 200.9h.7M348.8 216.0h.7M337.7 214.9h.7M348.9 202.9h.7M337.1 201.5h.7M341.3 210.2h.7M345.7 195.2h.7M349.0 197.8h.7M341.0 200.7h.7M341.8 217.9h.7M348.8 212.3h.7M346.1 195.1h.7M341.9 203.1h.7M339.6 211.6h.7M340.8 201.8h.7M347.5 218.1h.7M345.4 199.7h.7M331.0 208.9h.7M350.6 209.9h.7M349.1 219.3h.7M350.1 204.0h.7M349.8 213.7h.7M336.8 204.3h.7M337.4 206.6h.7M347.4 199.0h.7M334.2 217.9h.7M346.4 219.3h.7M337.9 216.0h.7M354.9 223.6h.7M343.4 209.7h.7M343.7 215.5h.7M349.7 208.2h.7M337.7 213.4h.7M342.2 212.5h.7M345.8 220.5h.7M350.2 203.9h.7M346.2 221.6h.7M341.8 211.0h.7M350.5 217.6h.7M347.1 196.9h.7M338.2 209.5h.7M346.4 227.9h.7M340.2 216.6h.7M348.4 194.1h.7M340.4 208.8h.7M342.0 206.3h.7M346.9 201.0h.7M346.8 202.4h.7M341.8 211.8h.7M341.6 209.8h.7M352.5 207.7h.7M343.8 213.4h.7M342.7 216.2h.7M338.1 212.4h.7M341.9 201.1h.7M353.3 200.7h.7M353.3 212.8h.7M351.8 199.7h.7M350.5 219.2h.7M343.9 206.5h.7M356.8 208.9h.7M342.4 202.5h.7M346.7 210.1h.7M345.4 221.3h.7M342.9 211.3h.7M351.8 199.5h.7M349.7 222.2h.7M337.7 198.7h.7M339.3 192.7h.7M346.8 192.7h.7M347.0 219.1h.7M336.4 205.0h.7M334.9 213.7h.7M340.8 205.4h.7M344.8 211.9h.7M342.8 207.6h.7M341.8 208.4h.7M338.6 208.0h.7M334.8 203.6h.7M354.1 208.1h.7M338.2 209.6h.7M339.6 194.3h.7M340.8 213.4h.7M346.4 206.7h.7M339.9 198.9h.7M351.2 209.5h.7M337.7 227.3h.7M338.8 206.9h.7M345.6 206.2h.7M343.1 196.5h.7M339.2 221.0h.7M340.7 214.3h.7M336.0 205.3h.7M345.8 215.8h.7M338.9 212.3h.7M346.4 201.6h.7M346.9 200.3h.7M340.5 207.3h.7M330.9 206.6h.7M339.5 195.8h.7M342.4 213.6h.7M342.5 217.6h.7M338.7 197.0h.7M352.3 210.7h.7M349.2 200.9h.7M348.5 209.6h.7M347.7 207.7h.7M350.5 202.3h.7M339.7 195.7h.7M350.3 201.6h.7M339.3 200.0h.7M342.3 197.3h.7M343.0 202.5h.7M341.7 199.8h.7M344.7 203.8h.7M345.1 209.5h.7M341.8 201.1h.7M348.4 194.9h.7M340.9 205.1h.7M342.8 215.4h.7M342.3 215.2h.7M337.2 193.0h.7M350.6 211.0h.7M346.9 208.5h.7M346.9 197.8h.7M349.2 203.2h.7M349.4 208.2h.7M334.6 197.2h.7M350.1 206.4h.7M342.5 209.4h.7M342.4 203.1h.7M345.0 208.7h.7M352.1 207.9h.7M353.9 221.9h.7M353.1 216.0h.7M345.2 208.6h.7M343.8 201.7h.7M344.2 202.4h.7M352.7 211.8h.7M342.3 192.2h.7M344.2 204.2h.7M339.1 198.4h.7M333.2 212.1h.7M344.2 228.1h.7M344.3 206.3h.7M351.7 208.6h.7M345.3 204.5h.7M341.5 219.5h.7M349.5 221.2h.7M342.8 207.7h.7M340.1 215.2h.7M337.5 212.0h.7M350.0 218.8h.7M339.8 216.2h.7M340.9 201.4h.7M337.9 216.7h.7M352.7 202.7h.7M340.7 204.8h.7M357.0 215.5h.7M341.8 193.1h.7M341.1 217.0h.7M353.8 205.4h.7M341.0 203.4h.7M335.1 214.8h.7M339.1 216.0h.7M336.0 197.3h.7M345.9 201.4h.7M348.4 207.6h.7M338.6 212.5h.7M348.7 192.2h.7M353.6 211.5h.7M348.3 192.6h.7M340.9 204.7h.7M349.9 195.8h.7M343.3 210.3h.7M336.1 202.8h.7M347.1 220.2h.7M347.8 205.1h.7M338.6 200.0h.7M341.2 208.7h.7M344.3 220.8h.7M345.9 198.9h.7M352.2 215.1h.7M345.0 201.7h.7M335.1 199.3h.7M349.1 201.1h.7M337.9 209.1h.7M345.7 212.4h.7M347.8 218.8h.7M340.3 215.3h.7M339.6 213.1h.7M345.4 209.4h.7M349.3 207.4h.7M350.1 214.5h.7M345.2 203.0h.7M340.7 203.3h.7M343.5 207.3h.7M359.4 212.6h.7M348.3 200.6h.7M340.9 204.9h.7M345.5 199.2h.7M352.6 203.0h.7M344.5 209.7h.7M345.5 212.3h.7M345.9 208.8h.7M335.0 201.8h.7M332.8 212.5h.7M346.0 205.9h.7M340.4 202.8h.7M353.7 221.3h.7M344.2 217.8h.7M336.6 192.0h.7M342.1 200.5h.7M341.7 209.0h.7M359.6 202.2h.7M344.7 209.7h.7M344.3 214.9h.7M353.4 197.6h.7M345.3 205.4h.7M346.3 195.2h.7M347.1 209.0h.7M342.6 201.5h.7M337.4 200.2h.7M348.0 211.9h.7M344.4 211.6h.7M341.5 208.1h.7M344.7 211.9h.7M344.2 206.4h.7M343.8 202.3h.7M355.7 211.6h.7M346.6 225.8h.7M351.5 195.0h.7M348.0 214.2h.7M353.9 218.0h.7M348.4 198.1h.7M340.1 209.7h.7M347.0 199.3h.7M342.6 204.3h.7M344.8 210.2h.7M343.1 197.6h.7M350.7 220.3h.7M344.0 215.7h.7M346.7 212.8h.7M346.9 201.4h.7M347.4 215.6h.7M340.0 223.2h.7M354.9 222.1h.7M354.4 213.4h.7M342.8 202.7h.7M340.4 208.4h.7M344.3 212.9h.7M334.4 226.0h.7M355.9 207.3h.7M347.9 211.3h.7M345.9 205.8h.7M343.9 200.9h.7M345.4 207.3h.7M346.1 200.7h.7M344.7 207.9h.7M347.5 199.0h.7M346.6 215.4h.7M347.5 204.6h.7M342.0 205.6h.7M348.1 219.9h.7M343.7 202.4h.7M346.4 209.1h.7M340.0 201.6h.7M344.0 212.9h.7M338.5 199.4h.7M347.0 197.7h.7M345.0 210.3h.7M343.9 199.4h.7M344.2 204.8h.7M346.2 200.8h.7M350.0 194.1h.7M343.6 207.6h.7M349.3 202.6h.7M347.2 203.0h.7M348.2 221.4h.7M342.5 211.0h.7M339.9 215.3h.7M350.6 207.8h.7M338.8 210.7h.7M350.2 216.2h.7M348.6 192.9h.7M341.1 218.9h.7M338.4 216.6h.7M353.9 213.6h.7M350.1 204.8h.7M338.4 206.7h.7M343.5 207.1h.7M348.0 206.3h.7M345.5 210.9h.7M344.5 222.2h.7M346.7 208.2h.7M343.5 202.5h.7M351.2 208.7h.7M339.1 203.0h.7M343.8 203.9h.7M349.9 198.2h.7M347.0 208.6h.7M338.6 207.9h.7M344.0 211.5h.7M342.2 209.9h.7M336.2 198.8h.7M348.4 215.8h.7M344.4 202.7h.7M340.5 212.9h.7M347.8 199.2h.7M335.1 219.1h.7M345.3 200.3h.7M344.8 214.7h.7M331.5 216.4h.7M348.4 193.3h.7M350.2 210.7h.7M355.8 202.6h.7M344.5 215.9h.7M341.3 201.9h.7M342.6 206.9h.7M339.1 211.4h.7M347.2 208.1h.7M353.0 204.9h.7M351.0 203.1h.7M348.3 192.0h.7M345.5 206.1h.7M342.0 202.6h.7M342.8 201.7h.7M333.5 202.7h.7M341.8 203.3h.7M339.2 206.4h.7M348.4 205.5h.7M342.0 218.4h.7M349.4 214.9h.7M350.3 204.9h.7M343.9 216.4h.7M341.7 206.5h.7M346.4 210.5h.7M343.1 215.4h.7M343.6 213.3h.7M349.9 212.8h.7M348.2 198.2h.7M337.9 202.6h.7M346.9 219.5h.7M338.4 210.0h.7M340.2 201.6h.7M343.1 213.0h.7M345.6 216.9h.7M339.6 214.6h.7M349.2 208.1h.7M346.9 203.0h.7M339.1 204.3h.7M341.3 230.6h.7M342.1 220.7h.7M345.5 210.0h.7M348.2 201.3h.7M349.1 210.5h.7M336.9 212.3h.7M347.3 211.1h.7M352.4 204.2h.7M347.1 213.5h.7M340.0 217.1h.7M337.2 197.1h.7M347.1 198.8h.7M343.9 194.3h.7M344.8 198.4h.7M346.2 195.2h.7M346.7 205.4h.7M344.8 207.0h.7M345.2 196.9h.7M331.7 207.8h.7M339.8 203.9h.7M340.7 202.6h.7M339.2 210.1h.7M343.8 200.9h.7M339.6 214.0h.7M341.2 212.2h.7M346.7 192.3h.7M339.1 207.5h.7M346.2 213.7h.7M348.5 215.8h.7M342.6 205.8h.7M348.4 204.1h.7M349.8 194.8h.7M347.8 206.1h.7M334.7 215.3h.7M346.1 207.7h.7M339.1 203.8h.7M352.1 200.9h.7M327.1 200.6h.7M338.5 206.4h.7M342.5 200.2h.7M340.3 215.9h.7M337.3 223.2h.7M341.8 198.8h.7M348.4 212.0h.7M339.3 213.5h.7M335.3 200.1h.7M350.1 205.5h.7M338.0 211.6h.7M349.1 207.3h.7M335.5 204.7h.7M346.6 213.6h.7M353.8 205.5h.7M342.1 207.2h.7M350.5 200.0h.7M348.5 202.1h.7M346.8 213.0h.7M338.6 206.8h.7M345.7 212.2h.7M339.8 199.6h.7M334.9 227.8h.7M343.5 205.7h.7M337.0 214.9h.7M341.8 219.0h.7M348.8 207.7h.7M348.1 198.6h.7M342.9 202.9h.7M338.2 207.6h.7M343.8 219.0h.7M327.7 202.1h.7M339.9 203.8h.7M346.6 210.7h.7M344.6 203.7h.7M347.0 210.4h.7M335.3 205.4h.7M337.6 198.0h.7M345.2 208.0h.7M345.1 200.5h.7M343.5 200.2h.7M346.4 213.0h.7M353.3 217.6h.7M340.5 203.8h.7M339.8 209.9h.7M354.4 213.2h.7M333.5 197.4h.7M338.0 211.6h.7M344.5 209.9h.7M353.4 200.9h.7M340.3 223.2h.7M346.2 201.3h.7M334.4 195.3h.7M332.3 208.0h.7M344.7 215.4h.7M343.8 202.0h.7M340.8 222.7h.7M335.7 208.9h.7M344.6 212.4h.7M342.5 211.5h.7M348.6 206.3h.7M342.2 206.0h.7M339.7 205.8h.7M343.0 209.2h.7M351.2 218.0h.7M342.3 212.3h.7M346.0 213.6h.7M344.6 209.6h.7M342.2 201.2h.7M348.9 217.9h.7M347.8 211.0h.7M345.8 203.9h.7M335.6 212.8h.7M345.5 203.1h.7M339.7 217.7h.7M335.5 221.6h.7M347.7 226.5h.7M340.9 207.3h.7M342.0 208.7h.7M343.5 201.5h.7M349.9 201.2h.7M342.0 211.9h.7M341.8 204.0h.7M346.3 204.6h.7M338.3 206.7h.7M343.4 221.1h.7M339.0 215.3h.7M340.6 204.7h.7M342.9 209.7h.7M348.8 221.5h.7M341.3 218.1h.7M349.5 214.0h.7M340.7 214.7h.7M344.0 210.3h.7M343.2 212.8h.7M350.1 216.5h.7M343.5 215.5h.7M351.8 200.0h.7M351.9 196.8h.7M347.2 212.3h.7M351.9 209.7h.7M342.1 201.1h.7M338.2 213.6h.7M343.3 201.8h.7M347.2 201.4h.7M342.3 203.8h.7M352.8 219.2h.7M343.7 194.9h.7M345.9 208.1h.7M346.2 212.0h.7M342.9 214.9h.7M348.7 209.2h.7M342.5 203.7h.7M348.0 198.7h.7M343.7 201.5h.7M337.5 212.3h.7M344.4 207.8h.7M348.9 195.5h.7M344.2 209.8h.7M348.7 198.8h.7M348.1 209.3h.7M351.3 216.6h.7M347.2 224.7h.7M344.5 204.1h.7M342.8 200.0h.7M344.4 192.5h.7M344.1 210.9h.7M349.5 204.7h.7M351.4 202.3h.7M343.8 192.5h.7M340.7 201.2h.7M351.8 211.6h.7M339.1 211.7h.7M346.9 205.7h.7M344.6 205.1h.7M341.9 193.7h.7M344.1 217.5h.7M351.5 205.3h.7M340.9 205.8h.7M348.9 210.2h.7M341.7 210.3h.7M343.5 211.5h.7M342.5 196.0h.7M344.8 213.4h.7M339.1 206.7h.7M348.8 204.6h.7M341.3 223.3h.7M348.5 215.5h.7M339.9 220.2h.7M336.4 203.5h.7M348.1 217.9h.7M340.0 202.3h.7M345.5 192.5h.7M347.6 211.9h.7M342.3 211.7h.7M348.3 209.9h.7M347.0 219.3h.7M342.2 208.8h.7M342.0 215.5h.7M342.5 211.2h.7M345.2 208.0h.7M352.8 206.8h.7M351.4 213.9h.7M350.9 206.2h.7M349.0 213.4h.7M341.5 209.6h.7M343.9 207.2h.7M350.8 201.9h.7M336.4 194.0h.7M342.3 202.5h.7M344.6 211.9h.7M353.0 209.9h.7M346.7 201.8h.7M347.3 218.0h.7M351.0 192.4h.7M348.8 219.7h.7M348.5 196.0h.7M343.0 212.0h.7M346.5 201.2h.7M340.2 214.9h.7M338.1 218.6h.7M344.6 209.8h.7M338.1 202.9h.7M347.8 196.2h.7M354.5 196.7h.7M338.6 207.8h.7M346.8 213.1h.7M342.7 205.9h.7M343.4 203.1h.7M332.1 214.9h.7M345.7 208.7h.7M341.5 209.4h.7M344.4 206.9h.7M349.8 194.3h.7M345.7 199.3h.7M343.0 219.0h.7M339.3 206.7h.7M341.7 214.8h.7M339.8 194.6h.7M347.0 204.8h.7M343.0 215.8h.7M340.2 204.6h.7M345.2 210.7h.7M342.0 215.5h.7M355.3 204.4h.7M351.3 204.9h.7M345.2 204.9h.7M341.4 197.7h.7M342.6 217.5h.7M350.0 204.8h.7M342.0 202.1h.7M338.7 221.4h.7M347.7 208.4h.7M342.1 199.6h.7M350.8 213.5h.7M339.9 215.1h.7M339.2 212.4h.7M339.9 204.3h.7M346.9 210.8h.7M349.4 201.1h.7M352.1 217.8h.7M344.5 211.1h.7M340.8 206.3h.7M338.2 208.2h.7M345.5 217.8h.7M349.0 213.8h.7M342.8 205.8h.7M342.9 209.2h.7M335.2 213.4h.7M337.0 203.5h.7M344.6 203.6h.7M352.5 206.7h.7M352.0 216.5h.7M342.1 210.6h.7M350.7 204.9h.7M344.9 203.2h.7M344.8 204.8h.7M344.9 215.2h.7M351.2 208.5h.7M345.5 214.1h.7M343.1 199.4h.7M349.8 200.3h.7M349.0 200.1h.7M353.3 199.5h.7M348.6 219.0h.7M339.9 218.9h.7M340.5 194.0h.7M348.0 212.9h.7M344.2 205.2h.7M342.7 205.3h.7M335.9 203.1h.7M353.1 219.4h.7M342.8 202.0h.7M346.4 215.7h.7M348.0 198.5h.7M345.3 208.6h.7M351.4 216.7h.7M347.0 216.8h.7M342.6 219.3h.7M342.5 210.5h.7M348.9 200.5h.7M341.1 194.0h.7M345.3 207.1h.7M342.9 211.3h.7M334.3 207.3h.7M344.9 205.5h.7M348.3 221.0h.7M342.4 200.3h.7M341.6 208.2h.7M347.3 200.9h.7M349.3 199.6h.7M348.5 210.8h.7M346.7 224.1h.7M343.2 206.2h.7M346.8 214.1h.7M338.1 209.6h.7M340.9 212.3h.7M351.1 207.9h.7M344.0 208.9h.7M330.3 213.4h.7M347.2 208.8h.7M342.6 201.9h.7M343.6 216.8h.7M344.0 217.8h.7M332.2 204.0h.7M345.8 207.4h.7M336.5 202.4h.7M350.5 197.6h.7M339.7 199.1h.7M341.9 212.4h.7M347.4 191.9h.7M351.5 203.0h.7M341.7 220.3h.7M344.1 198.0h.7M341.4 201.9h.7M339.7 204.9h.7M348.7 210.2h.7M337.9 228.9h.7M339.7 208.4h.7M344.7 213.3h.7M342.9 211.0h.7M354.6 208.2h.7M339.3 210.0h.7M340.6 204.7h.7M345.4 210.1h.7M343.1 214.0h.7M343.6 197.5h.7M348.7 204.7h.7M350.3 202.5h.7M347.2 209.9h.7M331.6 196.0h.7M339.1 218.3h.7M335.4 214.5h.7M349.7 211.3h.7M347.7 203.7h.7M344.4 209.2h.7M346.5 212.9h.7M343.5 202.1h.7M341.8 210.7h.7M336.5 197.9h.7M342.5 203.3h.7M342.9 205.6h.7M348.2 192.3h.7M343.0 211.1h.7M346.8 216.7h.7M349.6 199.4h.7M347.6 204.9h.7M340.6 219.3h.7M341.5 200.9h.7M342.5 200.9h.7M349.3 210.4h.7M351.2 210.7h.7M341.5 215.6h.7M341.4 203.9h.7M343.7 207.8h.7M350.2 202.8h.7M346.2 207.3h.7M338.4 199.1h.7M343.4 210.6h.7M346.0 211.2h.7M344.7 204.0h.7M346.6 199.8h.7M338.0 204.9h.7M337.6 203.5h.7M340.9 203.2h.7M344.3 201.3h.7M342.5 194.3h.7M345.2 200.7h.7M340.6 209.4h.7M332.7 204.7h.7M345.0 208.3h.7M337.3 209.3h.7M345.2 200.0h.7M348.1 207.1h.7M344.6 204.0h.7M347.1 208.3h.7M350.0 211.0h.7M341.5 205.8h.7M348.9 204.7h.7M346.3 211.5h.7M345.1 209.2h.7M345.2 201.6h.7M350.3 206.5h.7M341.5 202.0h.7M346.2 199.1h.7M339.7 223.0h.7M350.8 215.7h.7M351.1 212.1h.7M336.4 216.7h.7M350.5 211.3h.7M335.0 217.1h.7M351.1 203.7h.7M345.1 213.5h.7M344.1 216.0h.7M344.9 212.9h.7M344.9 196.0h.7M339.7 232.0h.7M345.9 217.7h.7M350.0 220.8h.7M347.2 202.9h.7M344.6 192.6h.7M343.6 214.5h.7M334.0 209.0h.7M348.5 217.8h.7M340.0 202.4h.7M335.4 199.6h.7M347.1 223.6h.7M338.9 218.2h.7M346.6 203.7h.7M344.2 209.2h.7M354.8 221.5h.7M355.5 208.5h.7M349.3 218.1h.7M347.0 210.3h.7M343.6 204.3h.7M338.5 222.7h.7M345.8 207.2h.7M345.4 221.6h.7M344.0 205.4h.7M340.9 207.3h.7M342.4 209.1h.7M359.7 210.6h.7M340.3 222.5h.7M348.7 213.9h.7M348.0 213.9h.7M347.8 218.5h.7M349.4 218.0h.7M342.1 207.5h.7M341.0 215.0h.7M348.5 203.9h.7M347.3 227.9h.7M350.5 198.8h.7M344.1 212.4h.7M344.3 210.5h.7M350.2 210.1h.7M339.2 213.1h.7M344.0 208.4h.7M341.7 196.7h.7M338.4 204.7h.7M350.1 198.5h.7M341.0 211.6h.7M332.8 218.0h.7M340.8 212.6h.7M342.2 209.9h.7M345.0 207.5h.7M335.6 196.0h.7M344.3 218.5h.7M341.8 211.6h.7M345.3 211.3h.7M349.3 195.8h.7M345.8 206.1h.7M343.0 200.8h.7M340.7 199.5h.7M339.2 227.1h.7M352.8 207.6h.7M348.1 199.9h.7M330.9 193.3h.7M345.2 218.7h.7M344.3 199.7h.7M343.3 199.7h.7M337.7 205.7h.7M342.6 201.2h.7M340.2 200.2h.7M345.7 218.4h.7M343.5 224.9h.7M336.6 209.6h.7M338.9 206.2h.7M345.0 211.9h.7M350.0 203.2h.7M338.4 206.0h.7M345.9 202.1h.7M348.9 220.6h.7M337.6 210.3h.7M349.5 192.5h.7M345.5 205.7h.7M337.6 217.8h.7M345.6 203.8h.7M346.7 212.5h.7M348.2 212.0h.7M346.5 198.3h.7M342.4 208.5h.7M331.0 224.1h.7M342.7 199.3h.7M335.6 209.4h.7M344.7 202.9h.7M342.5 200.6h.7M340.8 206.7h.7M341.4 212.8h.7M343.8 208.5h.7M346.5 217.4h.7M347.4 209.3h.7M343.7 201.2h.7M342.8 212.8h.7M345.6 204.5h.7M338.0 195.5h.7M346.1 215.5h.7M346.3 196.8h.7M343.5 209.2h.7M340.0 210.2h.7M343.5 201.0h.7M338.4 213.8h.7M346.2 200.6h.7M339.6 214.4h.7M347.4 205.1h.7M352.3 205.2h.7M339.4 216.0h.7M343.6 210.2h.7M344.7 199.7h.7M338.7 206.0h.7M351.3 199.7h.7M351.1 209.2h.7M339.1 209.6h.7M347.3 200.5h.7M334.1 210.3h.7M339.1 210.9h.7M335.2 206.4h.7M340.6 196.0h.7M343.3 208.8h.7M341.8 198.3h.7M345.5 193.9h.7M347.1 211.3h.7M352.7 214.4h.7M346.2 209.6h.7M344.6 197.2h.7M351.6 211.6h.7M343.1 198.6h.7M351.7 211.6h.7M338.7 212.7h.7M353.7 207.3h.7M346.4 204.3h.7M341.4 215.8h.7M359.5 208.4h.7M343.9 213.7h.7M343.0 213.2h.7M348.5 199.6h.7M339.3 206.9h.7M348.5 209.7h.7M350.5 196.8h.7M346.9 202.7h.7M345.0 210.0h.7M339.8 205.7h.7M338.9 209.6h.7M340.4 203.7h.7M345.6 202.4h.7M350.1 202.6h.7M348.6 209.7h.7M339.5 205.8h.7M340.4 204.7h.7M343.2 221.6h.7M342.5 219.7h.7M346.7 197.4h.7M333.3 212.8h.7M334.9 213.1h.7M349.5 210.5h.7M343.5 205.6h.7M345.8 205.2h.7M341.9 204.6h.7M350.2 202.7h.7M346.3 198.6h.7M341.0 196.9h.7M343.5 212.8h.7M346.0 203.7h.7M347.5 204.8h.7M346.3 209.6h.7M338.2 213.5h.7M344.0 224.9h.7M343.4 203.2h.7M351.7 211.8h.7M353.7 211.4h.7M343.5 213.1h.7M340.7 204.0h.7M341.8 205.8h.7M348.3 203.8h.7M346.1 203.6h.7M343.5 208.8h.7M339.3 215.3h.7M345.5 217.4h.7M349.1 212.5h.7M343.8 199.1h.7M343.4 203.9h.7M345.7 203.9h.7M359.3 195.1h.7M350.2 203.9h.7M343.3 214.7h.7M344.5 198.1h.7M346.5 206.0h.7M334.6 209.0h.7M339.4 201.7h.7M346.8 209.8h.7M343.1 224.3h.7M346.5 202.8h.7M345.6 206.6h.7M333.9 195.3h.7M337.8 223.5h.7M343.6 205.4h.7M341.8 215.1h.7M344.6 220.7h.7M348.3 220.2h.7M343.9 210.4h.7M342.4 206.2h.7M336.2 203.0h.7M339.9 202.5h.7M350.4 209.5h.7M350.4 214.1h.7M348.9 215.2h.7M341.6 213.7h.7M342.9 203.4h.7M350.3 224.2h.7M339.8 220.9h.7M348.5 201.0h.7M345.8 210.4h.7M346.3 204.8h.7M338.3 207.7h.7M348.7 213.6h.7M347.7 216.0h.7M339.7 207.2h.7M346.1 215.2h.7M345.3 211.5h.7M345.1 223.7h.7M334.0 207.3h.7M356.4 209.3h.7M335.7 208.5h.7M337.6 202.3h.7M345.6 220.7h.7M346.7 212.7h.7M349.4 209.0h.7M340.4 206.7h.7M346.1 205.4h.7M341.3 204.7h.7M337.3 199.6h.7M344.1 204.7h.7M344.7 218.3h.7M345.9 207.3h.7M338.9 199.2h.7M346.3 200.8h.7M346.6 199.2h.7M345.1 206.9h.7M349.3 204.5h.7M342.7 209.4h.7M344.8 220.5h.7M343.3 203.4h.7M343.0 211.1h.7M345.6 212.8h.7M337.8 226.6h.7M353.4 207.3h.7M338.7 208.7h.7M344.6 196.1h.7M346.7 218.1h.7M349.5 195.9h.7M351.1 214.5h.7M342.8 211.4h.7M351.8 204.9h.7M344.4 203.2h.7M351.3 200.1h.7M349.0 195.0h.7M340.0 202.9h.7M348.5 195.0h.7M347.4 202.6h.7M350.5 205.1h.7M346.8 206.2h.7M353.1 204.7h.7M344.4 222.8h.7M344.9 212.8h.7M341.0 209.0h.7M333.6 208.3h.7M341.4 195.9h.7M337.7 216.3h.7M346.6 195.8h.7M353.2 202.1h.7M342.7 209.4h.7M339.0 195.1h.7M340.9 216.6h.7M349.1 195.3h.7M350.3 207.8h.7M346.9 207.9h.7M346.5 199.8h.7M340.1 202.1h.7M342.7 212.3h.7M338.6 219.8h.7M341.5 203.0h.7M347.9 210.8h.7M342.9 199.3h.7M339.7 195.2h.7M350.0 215.8h.7M353.5 211.3h.7M346.1 213.3h.7M349.1 205.5h.7M346.2 224.1h.7M336.3 196.7h.7M339.9 213.3h.7M350.2 204.9h.7M347.7 207.1h.7M345.9 203.3h.7M344.4 207.5h.7M349.9 224.7h.7M335.8 211.6h.7M344.5 215.0h.7M349.6 213.5h.7M348.4 200.2h.7M336.3 220.4h.7M350.3 200.2h.7M350.7 212.6h.7M332.7 214.4h.7M339.7 216.5h.7M341.2 201.8h.7M337.1 205.8h.7M349.4 202.3h.7M335.5 224.0h.7M353.4 212.8h.7M341.9 198.2h.7M336.6 211.8h.7M350.8 199.3h.7M344.5 205.4h.7M343.3 211.4h.7M354.6 202.6h.7M348.6 215.9h.7M343.1 206.4h.7M338.0 215.8h.7M341.9 202.5h.7M344.8 200.9h.7M339.5 205.2h.7M351.7 205.9h.7M347.0 196.2h.7M335.1 221.5h.7M342.6 195.6h.7M344.0 212.2h.7M336.2 200.7h.7M345.8 200.4h.7M348.3 214.9h.7M346.6 204.2h.7M344.3 202.6h.7M343.9 210.0h.7M343.1 215.0h.7M357.0 203.3h.7M346.2 213.9h.7M347.6 205.7h.7M342.2 215.3h.7M347.5 211.4h.7M340.6 212.4h.7M348.3 206.1h.7M347.6 224.3h.7M335.4 212.2h.7M338.8 197.0h.7M343.4 211.7h.7M344.8 198.5h.7M337.6 203.2h.7M344.6 201.1h.7M337.2 221.1h.7M340.4 206.3h.7M341.8 203.0h.7M344.7 205.2h.7M347.5 198.3h.7M337.3 222.6h.7M344.1 213.4h.7M350.2 211.8h.7M344.7 195.5h.7M336.8 215.1h.7M347.8 211.9h.7M339.4 198.3h.7M345.3 199.6h.7M352.2 202.7h.7M341.8 214.2h.7M346.1 200.5h.7M348.5 222.4h.7M338.6 205.6h.7M339.3 192.4h.7M347.5 212.9h.7M349.2 210.8h.7M334.7 207.3h.7M341.3 198.4h.7M339.1 213.4h.7M343.1 222.8h.7M346.8 192.7h.7M348.8 217.2h.7M344.7 198.1h.7M353.1 197.3h.7M344.1 192.7h.7M338.4 194.3h.7M349.8 216.7h.7M342.5 196.9h.7M344.2 210.4h.7M337.1 198.5h.7M344.0 213.0h.7M344.9 211.0h.7M346.0 200.3h.7M343.9 204.6h.7M346.8 201.5h.7M351.5 207.7h.7M347.1 212.4h.7M349.6 210.7h.7M336.0 202.6h.7M353.6 211.2h.7M347.2 211.2h.7M341.4 202.2h.7M341.3 216.6h.7M346.3 221.4h.7M346.9 222.3h.7M346.7 198.2h.7M353.0 210.1h.7M350.3 209.2h.7M342.9 208.8h.7M339.0 198.1h.7M340.1 203.4h.7M337.9 206.7h.7M346.0 223.4h.7M353.5 207.1h.7M348.8 205.8h.7M346.4 207.2h.7M341.8 208.1h.7M337.2 211.0h.7M343.1 199.0h.7M342.7 211.9h.7M341.2 211.2h.7M347.3 219.8h.7M339.2 206.6h.7M347.0 219.3h.7M345.8 213.4h.7M337.3 202.9h.7M352.7 205.3h.7M355.1 201.8h.7M343.1 194.9h.7M347.6 209.6h.7M354.4 208.8h.7M343.3 196.4h.7M344.1 215.0h.7M348.2 217.2h.7M348.8 207.1h.7M347.5 208.9h.7M337.9 221.0h.7M346.3 199.2h.7M346.4 209.8h.7M349.4 218.9h.7M329.5 211.9h.7M352.1 200.0h.7M335.3 209.7h.7M346.2 210.3h.7M339.0 203.8h.7M345.5 213.4h.7M355.3 209.8h.7M349.8 206.5h.7M344.0 199.7h.7M348.1 193.3h.7M345.0 208.5h.7M346.0 217.8h.7M344.0 208.2h.7M348.7 195.2h.7M343.1 208.0h.7M349.2 201.1h.7M348.5 210.6h.7M337.1 195.8h.7M337.4 208.6h.7M345.5 213.2h.7M348.6 203.1h.7M349.8 214.0h.7M346.8 211.3h.7M338.1 210.4h.7M339.4 198.0h.7M342.8 208.6h.7M344.2 204.9h.7M339.5 209.0h.7M340.8 196.3h.7M345.0 219.1h.7M342.5 199.1h.7M351.4 221.1h.7M343.0 205.8h.7M345.6 231.0h.7M345.2 215.4h.7M346.7 193.0h.7M339.0 197.7h.7M346.7 208.3h.7M353.4 205.3h.7M346.0 208.1h.7M345.2 226.0h.7M345.9 219.2h.7M351.0 202.7h.7M347.9 204.5h.7M345.0 208.8h.7M344.6 203.8h.7M352.3 205.4h.7M348.0 220.9h.7M347.6 215.7h.7M351.4 216.2h.7M353.1 196.1h.7M354.3 207.7h.7M335.8 202.4h.7M337.5 207.3h.7M337.1 199.5h.7M346.0 208.8h.7M340.5 205.6h.7M344.0 208.1h.7M344.5 205.7h.7M348.9 194.7h.7M342.0 208.6h.7M342.5 203.1h.7M342.3 209.2h.7M350.7 206.0h.7M343.2 210.3h.7M343.3 192.0h.7M345.8 204.5h.7M341.6 212.5h.7M344.7 203.0h.7M333.6 193.7h.7M344.6 206.6h.7M346.7 209.3h.7M342.1 197.4h.7M339.0 206.4h.7M338.8 213.5h.7M337.9 193.2h.7M343.5 193.3h.7M352.6 199.6h.7M344.2 205.5h.7M340.4 193.4h.7M335.2 214.4h.7M349.6 224.8h.7M337.2 212.0h.7M344.4 214.3h.7M341.9 213.3h.7M349.0 212.4h.7M351.7 206.1h.7M352.2 201.9h.7M344.6 201.1h.7M344.5 215.7h.7M348.1 208.3h.7M353.0 195.7h.7M340.4 219.6h.7M346.2 198.0h.7M351.9 216.7h.7M341.8 217.8h.7M340.3 214.9h.7M347.4 206.5h.7M337.4 205.3h.7M333.1 203.0h.7M335.2 217.2h.7M347.4 210.5h.7M342.0 224.4h.7M348.4 208.0h.7M346.9 215.2h.7M341.5 196.2h.7M344.3 194.1h.7M344.5 213.7h.7M352.0 209.6h.7M345.5 213.5h.7M351.5 204.9h.7M338.4 201.2h.7M338.2 200.4h.7M343.9 210.2h.7M345.3 208.1h.7M342.7 210.9h.7M348.9 213.6h.7M352.0 205.2h.7M343.2 221.1h.7M345.5 210.8h.7M342.8 215.3h.7M342.5 199.4h.7M344.2 204.0h.7M348.7 204.5h.7M345.1 205.8h.7M346.2 202.5h.7M350.0 196.1h.7M342.6 201.8h.7M347.7 207.8h.7M346.9 204.9h.7M340.9 198.5h.7M342.8 203.2h.7M345.9 210.3h.7M349.4 206.6h.7M340.8 199.0h.7M344.8 210.4h.7M354.2 209.0h.7M353.3 222.5h.7M339.3 217.2h.7M350.2 218.3h.7M344.5 215.1h.7M342.1 206.9h.7M344.6 221.8h.7M343.4 215.1h.7M344.8 201.8h.7M345.7 212.8h.7M340.9 212.6h.7M340.9 200.5h.7M345.6 205.6h.7M339.6 194.5h.7M344.6 209.4h.7M342.2 209.0h.7M336.9 210.6h.7M346.6 209.7h.7M341.4 208.1h.7M345.2 216.1h.7M345.9 209.5h.7M340.9 214.4h.7M350.4 203.6h.7M347.7 210.0h.7M344.3 197.2h.7M353.3 192.6h.7M346.0 204.5h.7M350.2 204.1h.7M344.7 212.4h.7M346.8 203.3h.7M347.9 210.6h.7M349.4 203.4h.7M344.3 204.4h.7M340.3 209.5h.7M346.5 218.8h.7M342.9 210.6h.7M350.2 206.6h.7M344.8 208.6h.7M341.1 199.6h.7M350.1 208.9h.7M344.1 197.6h.7M345.1 216.9h.7M338.8 200.4h.7M350.0 218.9h.7M352.2 203.1h.7M347.5 201.5h.7M347.1 204.6h.7M345.5 218.2h.7M346.2 205.6h.7M344.8 209.6h.7M341.9 209.1h.7M347.5 219.9h.7M334.2 198.0h.7M338.3 214.5h.7M356.6 209.0h.7M345.1 216.6h.7M332.4 206.1h.7M329.0 208.7h.7M342.0 203.6h.7M346.2 202.9h.7M350.0 207.5h.7M346.4 227.7h.7M342.3 214.9h.7M340.4 217.4h.7M349.3 208.6h.7M349.4 220.3h.7M351.3 207.5h.7M344.2 216.3h.7M337.2 202.7h.7M346.9 212.0h.7M353.7 221.5h.7M346.1 211.0h.7M338.0 206.0h.7M345.8 205.7h.7M344.8 212.3h.7M339.8 203.0h.7M335.7 216.6h.7M339.3 194.0h.7M348.3 205.8h.7M349.3 204.6h.7M355.0 213.2h.7M345.2 208.4h.7M343.5 213.9h.7M354.4 204.2h.7M339.1 212.2h.7M349.8 195.7h.7M341.1 199.6h.7M347.3 211.5h.7M340.9 198.6h.7M347.7 206.3h.7M354.0 215.4h.7M341.6 205.3h.7M343.1 201.8h.7M344.9 215.1h.7M337.1 205.7h.7M351.9 213.4h.7M340.5 201.1h.7M340.3 194.8h.7M350.2 208.0h.7M341.1 196.2h.7M342.6 203.5h.7M353.0 203.9h.7M345.1 215.9h.7M347.8 206.1h.7M333.8 218.5h.7M347.4 204.1h.7M344.1 200.0h.7M340.1 195.8h.7M347.0 211.6h.7M345.4 213.6h.7M347.1 208.5h.7M340.2 212.1h.7M350.3 212.5h.7M350.6 203.8h.7M339.7 217.3h.7M341.6 209.4h.7M343.6 207.7h.7M343.2 203.3h.7M335.7 222.5h.7M345.5 192.4h.7M340.0 198.7h.7M347.3 220.4h.7M343.3 213.3h.7M347.4 197.7h.7M350.5 194.3h.7M341.7 204.7h.7M350.7 208.4h.7M343.9 201.2h.7M344.9 207.8h.7M348.1 218.4h.7M348.1 207.6h.7M343.8 220.0h.7M345.5 207.4h.7M353.3 219.8h.7M347.3 206.6h.7M341.4 215.9h.7M342.3 215.0h.7M340.7 208.3h.7M346.5 208.6h.7M345.6 210.5h.7M339.0 198.8h.7M343.8 221.6h.7M343.9 200.2h.7M341.3 207.8h.7M350.3 203.1h.7M347.2 209.0h.7M342.8 200.1h.7M343.8 201.8h.7M347.1 193.7h.7M350.0 213.4h.7M347.3 219.2h.7M347.4 194.1h.7M344.8 211.0h.7M341.2 198.7h.7M346.6 211.5h.7M342.4 205.6h.7M342.0 203.1h.7M344.2 215.9h.7M336.6 204.8h.7M352.4 210.0h.7M345.3 214.0h.7M339.6 198.1h.7M336.4 196.1h.7M345.7 214.1h.7M342.5 202.2h.7M346.5 212.3h.7M345.8 192.6h.7M345.7 200.9h.7M341.3 219.2h.7M350.9 211.3h.7M345.8 208.8h.7M341.6 207.1h.7M353.8 200.7h.7M341.3 208.8h.7M348.8 214.0h.7M339.8 206.5h.7M343.2 197.9h.7M344.9 203.8h.7M349.0 210.9h.7M340.7 208.1h.7M342.8 202.6h.7M342.1 215.8h.7M342.5 194.2h.7M340.7 213.8h.7M355.0 199.3h.7M342.8 204.9h.7M337.7 210.6h.7M344.3 209.7h.7M355.4 205.4h.7M348.4 214.0h.7M341.4 202.9h.7M352.1 213.1h.7M345.2 199.0h.7M348.8 211.6h.7M355.2 219.0h.7M348.4 209.6h.7M344.8 203.2h.7M346.0 209.4h.7M347.7 216.0h.7M346.0 203.3h.7M348.4 219.6h.7M340.4 210.8h.7M347.2 211.7h.7M347.0 206.8h.7M344.0 220.6h.7M352.9 196.6h.7M332.2 210.9h.7M341.2 203.5h.7M336.8 210.3h.7M344.2 203.3h.7M348.9 226.4h.7M351.7 216.6h.7M342.5 212.6h.7M344.3 216.5h.7M347.3 207.2h.7M347.2 201.9h.7M348.4 219.2h.7M342.7 211.8h.7M336.4 214.8h.7M348.8 199.6h.7M353.0 208.4h.7M336.1 196.9h.7M348.7 205.4h.7M349.9 195.5h.7M344.0 215.1h.7M341.2 212.8h.7M342.8 210.2h.7M346.1 224.9h.7M338.5 213.6h.7M350.9 198.8h.7M344.9 225.5h.7M343.3 194.2h.7M346.0 201.9h.7M341.8 201.0h.7M345.9 203.9h.7M340.1 205.7h.7M346.5 200.8h.7M349.9 194.6h.7M346.5 204.5h.7M352.1 202.5h.7M341.3 197.1h.7M354.1 212.3h.7M339.2 204.9h.7M339.8 219.3h.7M345.5 214.6h.7M344.5 211.2h.7M344.0 209.1h.7M345.5 202.0h.7M346.2 208.8h.7M344.3 202.2h.7M339.6 209.4h.7M341.9 218.0h.7M348.9 202.0h.7M351.1 199.8h.7M340.7 222.6h.7M342.4 205.8h.7M336.5 199.6h.7M338.8 206.4h.7M335.6 215.8h.7M342.8 202.8h.7M341.4 213.3h.7M352.0 204.3h.7M352.3 220.0h.7M351.0 209.8h.7M337.3 212.7h.7M342.5 209.0h.7M335.3 205.3h.7M345.6 200.2h.7M345.9 220.5h.7M345.6 202.2h.7M340.0 210.7h.7M345.8 214.0h.7M340.6 218.9h.7M346.9 216.8h.7M337.1 207.5h.7M352.3 223.2h.7M350.9 207.5h.7M345.4 202.6h.7M349.8 202.1h.7M337.2 221.4h.7M344.8 209.2h.7M333.8 207.2h.7M354.6 195.8h.7M332.9 206.2h.7M341.9 205.9h.7M338.4 196.9h.7M338.5 212.5h.7M344.3 213.9h.7M339.2 212.1h.7M342.3 208.2h.7M349.1 207.8h.7M342.8 194.5h.7M344.8 213.6h.7M341.4 207.0h.7M335.9 197.1h.7M346.5 217.6h.7M343.0 194.4h.7M342.6 195.3h.7M343.2 222.6h.7M346.0 206.3h.7M349.6 204.5h.7M346.1 209.1h.7M346.7 196.0h.7M348.0 214.4h.7M340.1 219.2h.7M344.6 212.8h.7M347.2 214.5h.7M341.4 202.9h.7M346.3 212.3h.7M347.3 210.2h.7M342.1 216.2h.7M346.8 215.9h.7M332.0 215.4h.7M332.5 209.2h.7M341.2 208.4h.7M342.2 205.1h.7M345.4 210.2h.7M340.7 211.8h.7M340.3 210.9h.7M342.7 200.1h.7M350.3 220.6h.7M344.0 207.1h.7M349.2 197.0h.7M340.2 216.4h.7M348.9 203.6h.7M340.7 210.3h.7M337.6 203.6h.7M347.4 213.5h.7M349.8 196.1h.7M338.2 201.1h.7M338.0 223.8h.7M339.7 205.0h.7M345.5 211.1h.7M351.7 198.9h.7M348.9 208.7h.7M338.7 208.7h.7M337.6 220.4h.7M340.9 215.5h.7M350.9 202.6h.7M340.1 208.5h.7M339.3 214.6h.7M345.4 201.4h.7M341.1 213.3h.7M337.3 220.9h.7M340.6 205.9h.7M339.9 220.4h.7M348.6 217.8h.7M347.7 208.2h.7M352.9 212.8h.7M346.7 212.1h.7M348.2 209.7h.7M343.7 194.8h.7M354.7 197.1h.7M333.8 201.8h.7M354.1 217.2h.7M341.5 209.6h.7M342.8 209.8h.7M350.3 197.9h.7M333.3 194.9h.7M346.1 208.1h.7M345.2 208.7h.7M342.7 196.6h.7M346.8 210.6h.7M347.4 217.5h.7M335.6 224.6h.7M339.9 210.7h.7M344.4 213.3h.7M360.5 203.4h.7M343.7 202.7h.7M345.7 211.7h.7M339.7 218.0h.7M350.2 211.1h.7M343.9 205.6h.7M336.3 212.7h.7M339.6 203.5h.7M349.5 200.1h.7M341.9 214.4h.7M353.8 202.0h.7M350.0 202.3h.7M346.4 211.4h.7M338.8 215.7h.7M353.5 207.9h.7M345.8 198.1h.7M353.4 208.0h.7M338.1 213.6h.7M337.2 202.0h.7M333.8 218.5h.7M355.6 202.4h.7M341.2 202.9h.7M341.7 211.9h.7M351.8 199.4h.7M346.7 193.1h.7M352.1 206.8h.7M341.0 219.7h.7M344.0 218.5h.7M349.9 220.8h.7M340.5 208.0h.7M346.3 205.9h.7M352.1 201.8h.7M349.5 218.4h.7M334.7 199.7h.7M340.0 203.1h.7M346.5 206.1h.7M344.9 203.8h.7M344.1 211.4h.7M348.2 201.2h.7M343.9 201.4h.7M343.6 196.0h.7M349.3 212.9h.7M343.9 202.0h.7M342.2 202.2h.7M336.8 220.6h.7M360.9 197.7h.7M338.7 212.1h.7M347.5 194.9h.7M334.9 211.8h.7M334.5 218.9h.7M342.0 208.2h.7M344.5 203.0h.7M343.8 205.1h.7M350.7 206.8h.7M344.3 203.3h.7M341.3 201.6h.7M344.6 222.2h.7M350.1 209.4h.7M352.8 215.6h.7M345.5 206.2h.7M339.0 209.5h.7M342.9 194.8h.7M338.1 223.0h.7M345.6 211.5h.7M345.5 203.8h.7M346.8 216.2h.7M343.0 211.6h.7M349.6 203.6h.7M345.3 201.6h.7M347.5 204.5h.7M350.2 201.4h.7M352.9 205.0h.7M340.3 200.3h.7M347.8 200.7h.7M353.5 217.8h.7M347.1 196.1h.7M344.4 201.7h.7M335.4 210.9h.7M355.5 203.2h.7M348.5 217.8h.7M339.7 204.8h.7M345.8 211.3h.7M338.8 209.2h.7M344.0 215.1h.7M336.5 203.0h.7M342.0 205.0h.7M348.1 202.5h.7M358.2 201.8h.7M348.7 215.7h.7M349.3 205.9h.7M340.4 205.5h.7M347.8 208.5h.7M347.4 212.1h.7M340.1 200.0h.7M351.7 203.6h.7M336.6 222.4h.7M340.3 200.0h.7M349.3 198.4h.7M340.1 215.9h.7M340.4 227.6h.7M345.0 229.0h.7M345.1 207.9h.7M341.3 205.7h.7M342.0 207.3h.7M348.4 197.3h.7M352.0 206.9h.7M344.4 207.0h.7M349.5 210.1h.7M348.8 206.2h.7M343.9 207.1h.7M335.2 216.2h.7M336.6 199.5h.7M347.9 207.9h.7M348.6 221.1h.7M353.8 218.6h.7M343.4 223.9h.7M340.1 206.8h.7M349.5 205.8h.7M343.9 204.7h.7M350.9 216.0h.7M344.1 212.0h.7M339.7 216.4h.7M359.8 200.1h.7M351.5 207.0h.7M342.8 203.6h.7M343.6 197.5h.7M337.7 220.8h.7M344.4 211.9h.7M346.1 211.3h.7M336.9 199.9h.7M347.7 215.5h.7M338.8 202.9h.7M339.2 212.7h.7M346.2 207.8h.7M341.3 210.2h.7M346.3 203.7h.7M348.8 204.7h.7M354.1 220.8h.7M340.2 220.3h.7M346.6 204.2h.7M338.2 192.2h.7M336.4 217.3h.7M356.3 205.1h.7M347.4 217.3h.7M352.6 218.5h.7M356.4 222.6h.7M339.5 218.0h.7M346.2 220.2h.7M343.4 223.4h.7M357.2 202.5h.7M341.4 216.3h.7M350.2 214.8h.7M353.1 198.2h.7M352.6 227.6h.7M355.4 218.3h.7M344.0 218.0h.7M345.4 193.2h.7M340.9 212.5h.7M341.6 201.3h.7M344.0 208.4h.7M346.6 212.4h.7M347.5 225.4h.7M347.2 218.1h.7M342.6 221.5h.7M343.1 205.2h.7M335.5 224.1h.7M341.5 216.1h.7M355.6 219.7h.7M365.1 211.3h.7M354.1 221.7h.7M340.4 213.6h.7M341.2 200.2h.7M348.5 203.3h.7M360.3 203.7h.7M341.4 214.1h.7M341.6 213.7h.7M340.8 195.2h.7M358.9 218.6h.7M347.3 207.2h.7M344.8 216.7h.7M334.2 203.0h.7M338.4 228.7h.7M337.0 227.7h.7M342.0 247.1h.7M345.3 213.4h.7M357.5 223.9h.7M354.0 199.6h.7M355.7 234.0h.7M345.1 206.9h.7M336.7 225.7h.7M348.5 213.1h.7M335.5 233.3h.7M353.4 212.7h.7M358.5 201.1h.7M353.5 200.5h.7M358.0 209.6h.7M356.4 207.8h.7M349.4 227.3h.7M338.3 214.2h.7M338.9 223.7h.7M340.9 208.3h.7M344.3 227.6h.7M337.1 212.7h.7M343.2 206.1h.7M339.3 211.0h.7M347.7 193.7h.7M348.0 198.2h.7M346.1 241.5h.7M337.8 212.2h.7M343.8 225.3h.7M332.3 215.2h.7M348.2 226.3h.7M341.4 221.3h.7M337.0 229.2h.7M345.4 204.5h.7M347.5 234.8h.7M338.8 197.5h.7M337.4 198.6h.7M345.6 217.4h.7M344.6 215.5h.7M356.1 209.4h.7M348.1 204.5h.7M343.9 218.1h.7M349.9 193.4h.7M337.9 213.9h.7M344.8 227.3h.7M355.9 192.6h.7M337.8 217.9h.7M337.0 244.1h.7M348.0 219.7h.7M342.3 240.7h.7M350.6 204.0h.7M356.7 191.9h.7M341.0 216.6h.7M347.2 201.0h.7M359.4 231.4h.7M338.1 217.7h.7M340.6 207.6h.7M354.4 214.6h.7M345.1 214.3h.7M336.0 228.3h.7M339.6 229.4h.7M342.1 207.3h.7M358.6 215.4h.7M340.6 206.3h.7M351.1 236.4h.7M351.2 208.1h.7M336.5 204.6h.7M345.0 216.1h.7M340.4 229.0h.7M337.9 204.1h.7M350.2 219.0h.7M342.7 225.0h.7M334.0 233.4h.7M364.6 237.4h.7M347.0 237.6h.7M346.5 229.6h.7M344.3 215.4h.7M344.2 234.5h.7M353.8 217.1h.7M347.7 230.3h.7M338.0 209.3h.7M347.2 207.4h.7M345.1 233.9h.7M354.0 220.5h.7M346.1 213.8h.7M349.1 216.0h.7M339.9 222.8h.7M339.0 212.5h.7M343.0 198.6h.7M351.1 212.1h.7M336.1 212.0h.7M334.3 230.9h.7M350.4 237.8h.7M341.2 221.8h.7M337.8 202.4h.7M345.2 218.1h.7M353.8 209.7h.7M355.4 225.0h.7M338.6 210.8h.7M338.2 234.3h.7M341.3 224.0h.7M353.7 209.8h.7M341.9 217.3h.7M339.4 197.2h.7M337.8 217.2h.7M347.6 235.0h.7M330.5 219.3h.7M336.2 227.4h.7M351.9 214.6h.7M358.5 208.4h.7M341.5 199.9h.7M340.4 214.4h.7M351.7 228.9h.7M343.7 203.9h.7M343.2 207.7h.7M342.0 208.0h.7M338.6 212.4h.7M341.7 210.9h.7M334.3 214.8h.7M350.8 221.0h.7M341.4 198.8h.7M335.0 198.4h.7M340.6 209.2h.7M331.0 221.3h.7M333.0 204.5h.7M339.9 223.3h.7M361.5 208.6h.7M343.7 208.1h.7M344.3 210.9h.7M366.8 199.5h.7M345.1 203.2h.7M349.0 206.6h.7M350.8 199.6h.7M363.8 215.6h.7M331.1 221.7h.7M342.0 198.7h.7M349.7 206.6h.7M352.2 206.2h.7M353.6 214.8h.7M349.0 215.0h.7M342.9 208.5h.7M349.8 221.8h.7M342.6 240.6h.7M360.2 198.9h.7M355.1 212.1h.7M348.0 203.3h.7M359.9 202.8h.7M345.3 204.1h.7M362.2 228.5h.7M334.9 207.5h.7M349.1 207.7h.7M343.0 199.7h.7M348.1 199.6h.7M353.0 242.5h.7M343.3 233.3h.7M349.1 204.8h.7M343.1 201.2h.7M347.0 221.6h.7M353.8 209.6h.7M336.0 212.1h.7M360.0 216.5h.7M342.4 219.7h.7M338.1 229.6h.7M341.3 202.3h.7M341.1 211.9h.7M354.4 206.1h.7M331.1 212.1h.7M350.4 231.9h.7M336.6 231.2h.7M351.7 218.6h.7M339.6 202.2h.7M338.0 224.5h.7M347.8 226.1h.7M361.2 213.3h.7M345.6 236.6h.7M335.1 207.5h.7M342.9 208.4h.7M347.2 202.8h.7M355.7 196.3h.7M339.2 192.3h.7M334.3 220.2h.7M351.3 210.6h.7M353.1 220.6h.7M341.2 212.6h.7M349.1 237.7h.7M342.3 217.6h.7M350.6 228.0h.7M349.6 226.2h.7M337.1 209.8h.7M329.8 212.4h.7M365.5 216.0h.7M346.7 216.3h.7M347.2 196.9h.7M340.2 210.9h.7M347.4 202.5h.7M345.1 204.1h.7M335.0 205.0h.7M339.3 223.3h.7M357.2 220.2h.7M344.2 206.3h.7M332.9 206.6h.7M359.1 227.2h.7M347.9 210.1h.7M346.0 218.2h.7M345.9 218.3h.7M339.6 213.6h.7M343.1 226.2h.7M335.6 228.9h.7M345.3 206.9h.7M346.2 214.6h.7M344.1 218.3h.7M341.2 192.4h.7M351.8 212.8h.7M359.9 217.8h.7M329.3 228.2h.7M340.3 219.8h.7M364.5 226.4h.7M336.9 212.0h.7M332.6 221.2h.7M350.7 200.6h.7M349.8 224.5h.7M352.7 204.9h.7M340.2 199.4h.7M335.2 216.9h.7M346.3 229.0h.7M348.3 209.2h.7M334.1 231.9h.7M347.4 212.7h.7M337.6 200.3h.7M351.3 201.3h.7M350.9 220.7h.7M342.8 193.4h.7M349.4 230.2h.7M339.1 197.7h.7M355.1 214.9h.7M340.8 228.0h.7M343.7 218.6h.7M342.6 204.0h.7M347.8 202.7h.7M331.2 206.5h.7M356.3 226.5h.7M364.1 225.2h.7M359.5 216.2h.7M342.4 218.8h.7M338.1 222.0h.7M342.3 216.3h.7M338.9 211.5h.7M354.2 210.5h.7M340.4 216.6h.7M353.3 210.9h.7M336.3 194.2h.7M334.8 226.0h.7M345.3 218.9h.7M355.0 216.6h.7M350.0 207.0h.7M332.6 220.7h.7M345.2 220.1h.7M337.1 211.4h.7M362.8 202.9h.7M346.8 229.0h.7M344.1 214.6h.7M328.2 222.5h.7M342.3 228.7h.7M345.2 208.6h.7M349.6 210.2h.7M341.7 231.8h.7M354.2 214.5h.7M352.7 223.1h.7M350.8 213.7h.7M346.6 218.1h.7M350.7 217.4h.7M341.4 212.2h.7M349.8 201.3h.7M345.9 222.3h.7M347.4 209.7h.7M345.8 207.3h.7M354.2 208.6h.7M332.1 198.6h.7M348.5 215.7h.7M342.1 197.4h.7M344.8 203.1h.7M340.5 213.2h.7M339.6 216.9h.7M339.8 207.6h.7M344.1 230.7h.7M359.1 224.5h.7M339.9 213.2h.7M353.6 222.9h.7M332.5 212.5h.7M339.8 222.2h.7M351.3 206.8h.7M363.8 209.9h.7M366.3 211.2h.7M345.3 235.9h.7M341.6 207.5h.7M358.3 212.7h.7M350.0 198.1h.7M360.9 224.9h.7M349.0 221.6h.7M341.8 207.5h.7M332.9 217.6h.7M356.3 223.4h.7M353.7 221.7h.7M338.3 197.6h.7M351.3 215.2h.7M354.2 209.9h.7M338.7 218.5h.7M341.4 193.6h.7M340.9 202.7h.7M336.7 206.6h.7M353.9 241.2h.7M360.4 208.3h.7M355.5 212.3h.7M349.3 205.1h.7M345.4 193.2h.7M360.9 204.1h.7M350.9 206.2h.7M348.2 199.2h.7M342.9 224.1h.7M353.1 197.6h.7M348.4 219.4h.7M340.7 209.4h.7M344.0 218.0h.7M353.6 229.4h.7M348.7 236.9h.7M338.1 234.4h.7M343.8 222.3h.7M345.0 214.2h.7M338.4 217.8h.7M362.8 215.0h.7M345.8 213.3h.7M351.9 210.8h.7M346.0 215.8h.7M356.8 224.5h.7M337.2 205.7h.7M346.2 223.3h.7M354.1 210.7h.7M363.7 211.3h.7M357.7 230.1h.7M359.3 215.6h.7M350.8 195.1h.7M331.2 206.0h.7M352.0 225.8h.7M345.1 225.6h.7M350.8 231.3h.7M332.8 203.4h.7M338.0 200.8h.7M359.7 202.2h.7M339.1 208.5h.7M353.4 207.7h.7M352.1 219.7h.7M338.4 198.4h.7M359.6 204.7h.7M337.1 217.7h.7M346.5 202.1h.7M355.1 224.1h.7M348.3 204.2h.7M349.2 217.9h.7M338.3 213.5h.7M373.3 199.8h.7M331.8 220.4h.7M342.5 207.3h.7M351.2 211.6h.7M354.3 219.3h.7M355.7 214.6h.7M328.0 229.3h.7M331.8 225.6h.7M348.1 196.7h.7M346.6 223.6h.7M337.5 213.7h.7M339.8 201.2h.7M340.9 228.3h.7M351.7 212.8h.7M345.3 214.7h.7M348.4 215.3h.7M331.7 224.1h.7M351.9 198.8h.7M344.8 212.0h.7M341.1 219.5h.7M343.7 209.8h.7M338.0 209.8h.7M337.4 213.6h.7M357.0 225.1h.7M349.6 197.0h.7M354.6 224.2h.7M346.1 209.2h.7M355.1 200.2h.7M342.8 240.7h.7M346.2 229.4h.7M340.8 220.2h.7M346.8 195.7h.7M340.8 226.6h.7M355.9 206.0h.7M355.4 204.6h.7M348.1 212.9h.7M335.6 216.9h.7M339.1 203.0h.7M339.0 201.5h.7M353.4 214.0h.7M348.1 209.9h.7M346.5 210.0h.7M336.9 195.0h.7M346.6 225.2h.7M348.0 232.3h.7M334.6 209.9h.7M340.8 227.8h.7M360.2 206.9h.7M352.1 210.2h.7M337.7 211.8h.7M337.3 231.6h.7M350.9 227.2h.7M352.7 214.2h.7M354.5 233.5h.7M337.4 222.5h.7M348.8 211.0h.7M343.6 219.4h.7M350.8 220.9h.7M342.6 197.3h.7M357.0 228.6h.7M341.3 212.7h.7M352.8 192.1h.7M350.2 242.0h.7M348.3 204.6h.7M363.1 213.2h.7M347.8 208.0h.7M335.3 195.4h.7M353.5 211.9h.7M341.0 230.5h.7M339.8 208.9h.7M345.9 228.6h.7M357.1 231.6h.7M350.9 207.0h.7M341.9 195.3h.7M356.6 228.0h.7M346.7 202.4h.7M351.6 218.9h.7M347.3 199.1h.7M348.0 206.2h.7M352.2 220.2h.7M349.7 207.9h.7M358.7 222.3h.7M356.6 223.1h.7M351.5 217.7h.7M338.2 220.4h.7M353.6 215.2h.7M346.7 235.0h.7M333.1 209.2h.7M351.8 221.8h.7M344.2 222.8h.7M345.6 204.3h.7M342.8 222.1h.7M354.0 199.6h.7M337.8 214.5h.7M363.7 199.0h.7M335.6 218.0h.7M350.2 205.7h.7M345.8 218.8h.7M331.5 212.7h.7M351.0 224.1h.7M355.7 212.2h.7M334.0 229.1h.7M352.4 205.4h.7M354.6 225.5h.7M342.1 203.9h.7M339.0 212.0h.7M337.0 217.7h.7M361.7 198.8h.7M354.7 206.6h.7M350.5 211.5h.7M356.7 204.5h.7M352.1 203.7h.7M347.9 212.8h.7M355.1 194.1h.7M334.8 229.7h.7M349.2 233.3h.7M337.4 215.5h.7M351.0 234.2h.7M345.6 207.6h.7M352.0 211.8h.7M339.8 222.1h.7M330.2 200.8h.7M357.3 207.0h.7M343.3 217.5h.7M355.3 219.3h.7M338.0 206.2h.7M354.7 211.6h.7M340.8 223.5h.7M355.5 239.1h.7M337.1 204.5h.7M340.2 217.3h.7M342.0 226.4h.7M340.7 209.7h.7M350.7 215.4h.7M337.6 231.0h.7M350.8 207.1h.7M347.7 199.7h.7M335.8 209.4h.7M349.0 214.2h.7M339.6 196.4h.7M332.1 232.1h.7M349.1 203.4h.7M355.9 219.5h.7M342.6 205.7h.7M355.5 216.9h.7M359.6 217.4h.7M341.2 205.8h.7M340.2 216.0h.7M348.1 220.3h.7M349.7 200.4h.7M344.3 201.7h.7M350.0 197.2h.7M341.2 202.7h.7M340.9 209.9h.7M358.5 209.9h.7M334.1 209.4h.7M352.2 219.6h.7M348.0 236.9h.7M355.2 214.1h.7M356.1 196.9h.7M344.6 202.6h.7M347.5 232.4h.7M341.9 232.1h.7M337.6 230.1h.7M332.0 202.8h.7M354.3 211.9h.7M347.2 212.9h.7M347.5 210.9h.7M337.9 209.5h.7M346.9 202.2h.7M349.9 234.1h.7M332.4 206.5h.7M343.7 213.2h.7M346.8 204.3h.7M345.7 213.1h.7M345.3 231.5h.7M347.1 195.3h.7M333.1 220.1h.7M343.2 205.6h.7M334.8 209.3h.7M345.2 204.8h.7M343.1 223.6h.7M352.5 219.6h.7M344.6 196.7h.7M352.4 230.9h.7M356.5 227.0h.7M348.3 217.5h.7M345.9 228.0h.7M343.8 238.7h.7M352.4 209.1h.7M346.0 193.7h.7M340.0 209.4h.7M366.2 203.2h.7M353.6 213.9h.7M343.6 220.5h.7M329.5 224.3h.7M362.0 216.6h.7M345.5 214.9h.7M351.5 207.1h.7M347.0 219.1h.7M343.1 217.7h.7M348.8 221.6h.7M337.9 206.6h.7M342.5 227.4h.7M348.1 193.2h.7M335.5 236.3h.7M348.8 197.5h.7M338.5 214.7h.7M357.8 232.4h.7M343.0 209.4h.7M361.8 201.2h.7M358.9 217.1h.7M346.8 228.4h.7M350.0 203.0h.7M333.4 213.2h.7M350.2 229.4h.7M351.1 231.2h.7M352.6 215.6h.7M349.6 217.8h.7M340.8 211.6h.7M347.1 207.6h.7M333.9 195.7h.7M350.2 219.3h.7M346.9 199.0h.7M353.0 208.3h.7M328.9 231.8h.7M333.7 240.1h.7M350.4 207.7h.7M358.2 229.3h.7M348.1 192.4h.7M342.9 209.6h.7M349.8 211.5h.7M348.9 193.4h.7M340.7 230.3h.7M334.0 224.1h.7M365.1 220.8h.7M334.5 228.0h.7M330.7 217.1h.7M342.6 227.9h.7M355.7 215.3h.7M360.8 224.8h.7M342.1 201.2h.7M366.3 208.1h.7M349.4 211.6h.7M342.1 193.7h.7M344.8 211.6h.7M354.1 206.8h.7M333.1 200.1h.7M345.7 216.0h.7M352.0 208.4h.7M350.5 214.7h.7M359.9 212.3h.7M347.2 219.8h.7M356.1 201.9h.7M342.1 209.7h.7M328.4 228.7h.7M354.9 213.3h.7M373.8 228.3h.7M362.7 231.9h.7M353.5 196.0h.7M358.6 218.1h.7M336.1 213.6h.7M352.2 224.8h.7M347.4 206.7h.7M352.3 203.8h.7M345.4 222.2h.7M334.1 217.5h.7M329.8 201.8h.7M335.8 211.9h.7M351.9 212.4h.7M353.5 214.2h.7M344.3 218.9h.7M344.0 214.6h.7M354.6 206.1h.7M355.5 199.7h.7M344.2 192.1h.7M341.6 232.1h.7M348.9 228.3h.7M333.9 200.8h.7M349.9 223.0h.7M352.9 192.8h.7M350.2 212.1h.7M347.0 218.8h.7M343.7 192.6h.7M337.2 195.6h.7M335.1 211.4h.7M356.8 204.4h.7M339.7 199.2h.7M331.7 213.8h.7M342.0 210.1h.7M338.1 218.9h.7M336.1 219.6h.7M340.5 222.5h.7M338.7 218.3h.7M349.6 212.0h.7M359.5 215.1h.7M338.7 221.3h.7M339.2 206.5h.7M346.1 215.2h.7M360.1 191.9h.7M343.9 226.6h.7M344.7 216.9h.7M358.6 198.1h.7M346.4 222.6h.7M341.1 191.9h.7M337.7 215.3h.7M347.6 235.2h.7M357.0 194.3h.7M354.6 224.0h.7M359.4 211.2h.7M341.4 214.8h.7M358.8 220.5h.7M360.1 222.5h.7M341.1 200.8h.7M361.3 194.7h.7M343.1 209.2h.7M338.5 206.1h.7M346.1 241.7h.7M345.5 206.7h.7M347.0 224.3h.7M339.2 208.1h.7M331.5 221.5h.7M351.6 231.1h.7M336.1 239.3h.7M353.2 209.7h.7M342.8 209.3h.7M336.0 222.3h.7M341.0 204.3h.7M350.3 214.4h.7M341.2 210.2h.7M341.9 229.3h.7M354.3 204.2h.7M345.7 229.6h.7M343.6 234.5h.7M349.7 221.1h.7M328.8 223.3h.7M348.8 220.0h.7M350.0 219.4h.7M341.8 223.9h.7M346.5 200.3h.7M337.6 215.0h.7M328.9 225.7h.7M345.9 247.5h.7M333.3 210.0h.7M341.0 219.8h.7M357.7 232.5h.7M337.6 228.0h.7M335.9 216.7h.7M347.4 220.5h.7M339.4 229.2h.7M345.4 212.8h.7M343.8 200.1h.7M352.0 217.1h.7M349.8 235.6h.7M338.8 209.6h.7M346.1 223.4h.7M344.5 224.3h.7M343.6 207.9h.7M350.9 215.1h.7M345.5 228.3h.7M350.9 198.1h.7M340.3 217.0h.7M360.1 210.6h.7M344.6 216.2h.7M352.5 211.9h.7M348.4 207.9h.7M341.4 203.4h.7M351.5 206.3h.7M350.6 217.9h.7M338.0 198.2h.7M344.6 222.8h.7M367.0 231.7h.7M357.3 217.6h.7M342.8 219.5h.7M327.9 224.3h.7M346.1 220.5h.7M337.5 199.7h.7M340.7 212.5h.7M348.9 208.7h.7M348.9 221.3h.7M336.4 211.8h.7M333.1 206.3h.7M353.5 204.3h.7M361.5 219.1h.7M353.4 214.3h.7M353.2 226.3h.7M346.9 206.6h.7M341.4 236.5h.7M344.5 207.4h.7M340.1 192.5h.7M341.9 216.9h.7M342.0 203.8h.7M349.4 218.6h.7M342.4 216.7h.7M337.9 223.5h.7M337.8 208.9h.7M347.1 207.9h.7M336.5 238.5h.7M358.6 191.8h.7M347.0 197.6h.7M348.6 197.2h.7M350.8 219.5h.7M360.2 227.7h.7M342.2 224.5h.7M342.2 211.6h.7M344.0 219.4h.7M347.0 193.8h.7M340.6 221.3h.7M355.1 232.4h.7M330.9 218.6h.7M342.0 222.3h.7M332.0 211.3h.7M351.9 205.2h.7M343.0 201.1h.7M355.3 196.9h.7M338.4 209.0h.7M343.4 238.7h.7M348.3 202.9h.7M350.8 217.2h.7M348.3 212.2h.7M349.8 198.7h.7M336.0 207.8h.7M336.8 221.5h.7M362.1 228.0h.7M349.7 217.1h.7M340.3 197.2h.7M350.6 195.0h.7M348.5 211.3h.7M352.2 213.6h.7M346.9 205.9h.7M331.7 208.8h.7M351.8 225.7h.7M357.4 200.9h.7M338.2 221.5h.7M342.2 244.3h.7M348.6 194.5h.7M341.4 232.1h.7M330.8 214.9h.7M334.5 232.5h.7M342.3 200.5h.7M331.8 204.3h.7M364.1 214.2h.7M343.8 198.9h.7M348.8 207.3h.7M339.0 229.9h.7M349.7 202.2h.7M358.3 212.3h.7M350.2 214.8h.7M355.8 220.5h.7M343.1 221.7h.7M342.8 214.6h.7M359.6 200.1h.7M337.4 208.1h.7M341.9 228.9h.7M332.8 240.9h.7M359.2 207.5h.7M347.5 208.6h.7M351.6 221.1h.7M352.3 222.3h.7M362.1 210.9h.7M351.8 210.7h.7M346.3 215.7h.7M345.6 217.2h.7M338.9 211.1h.7M341.0 198.8h.7M340.1 206.9h.7M344.8 194.0h.7M343.9 199.2h.7M339.2 215.3h.7M355.2 216.5h.7M341.9 207.6h.7M357.1 193.2h.7M355.5 194.7h.7M340.7 213.6h.7M344.2 233.3h.7M350.1 212.4h.7M353.9 213.5h.7M339.3 226.7h.7M358.5 228.6h.7M336.2 236.3h.7M342.5 222.4h.7M355.9 242.0h.7M332.6 200.5h.7M355.8 219.0h.7M349.7 210.7h.7M346.0 215.8h.7M352.3 209.8h.7M338.5 208.6h.7M328.5 199.4h.7M362.4 204.6h.7M345.3 236.2h.7M354.8 214.5h.7M352.1 209.7h.7M338.5 225.2h.7M347.1 232.6h.7M343.8 208.4h.7M348.9 210.7h.7M343.4 202.1h.7M348.1 217.0h.7M361.2 212.7h.7M331.4 218.7h.7M365.1 207.6h.7M339.3 211.0h.7M344.4 194.5h.7M350.8 202.3h.7M330.6 204.2h.7M351.3 236.5h.7M356.4 215.4h.7M341.7 209.8h.7M354.1 206.7h.7M349.5 224.8h.7M338.4 205.8h.7M349.7 213.1h.7M345.0 206.5h.7M345.5 235.7h.7M357.3 193.3h.7M346.4 214.1h.7M346.3 196.1h.7M344.9 214.8h.7M340.3 216.8h.7M346.8 217.8h.7M344.6 207.4h.7M347.5 226.3h.7M353.5 212.0h.7M342.1 226.0h.7M350.5 223.8h.7M343.7 202.5h.7M347.6 205.4h.7M355.6 223.5h.7M327.8 221.2h.7M357.1 225.7h.7M342.1 202.5h.7M354.1 225.4h.7M346.5 198.9h.7M333.3 216.3h.7M339.1 204.7h.7M349.7 225.8h.7M328.8 204.8h.7M356.8 212.5h.7M343.1 220.8h.7M336.5 198.0h.7M346.2 232.1h.7M354.5 212.9h.7M354.4 208.0h.7M336.2 192.5h.7M348.3 224.0h.7M349.1 212.5h.7M342.7 226.3h.7M345.6 195.4h.7M357.4 205.1h.7M349.3 213.0h.7M354.8 216.0h.7M356.2 215.6h.7M342.2 206.8h.7M351.4 202.9h.7M353.7 210.1h.7M338.3 202.3h.7M344.8 234.7h.7M352.4 213.2h.7M338.4 236.3h.7M343.7 213.0h.7M342.5 229.3h.7M347.5 207.4h.7M347.5 200.8h.7M337.2 211.0h.7M362.6 199.4h.7M344.8 193.7h.7M347.4 215.6h.7M352.2 196.7h.7M341.0 205.1h.7M343.9 241.0h.7M344.3 212.5h.7M341.8 222.8h.7M367.4 227.2h.7M358.8 199.9h.7M354.8 213.3h.7M356.4 226.0h.7M351.5 192.5h.7M347.1 206.9h.7M349.7 213.5h.7M354.8 193.3h.7M339.8 212.1h.7M348.7 208.0h.7M345.8 213.7h.7M354.8 211.6h.7M349.4 211.8h.7M346.0 204.0h.7M342.5 223.2h.7M349.0 212.7h.7M341.9 215.6h.7M356.0 212.8h.7M342.9 198.5h.7M346.8 201.7h.7M334.0 223.7h.7M340.0 235.6h.7M345.1 196.7h.7M336.8 221.8h.7M349.4 215.6h.7M344.4 218.9h.7M358.9 219.0h.7M344.6 195.8h.7M349.7 232.2h.7M351.4 197.6h.7M347.5 229.0h.7M340.7 219.1h.7M356.1 233.1h.7M349.1 221.6h.7M343.0 212.7h.7M342.6 227.7h.7M327.5 216.1h.7M335.3 204.7h.7M333.2 201.8h.7M345.8 213.3h.7M361.0 210.3h.7M348.9 217.4h.7M348.2 231.0h.7M347.2 214.8h.7M345.1 213.1h.7M345.5 225.2h.7M346.2 213.8h.7M345.6 222.3h.7M342.0 224.6h.7M341.2 221.5h.7M362.1 215.9h.7M345.3 198.5h.7M352.2 213.2h.7M353.6 204.9h.7M350.4 235.2h.7M349.4 209.0h.7M335.1 212.9h.7M351.5 220.4h.7M336.6 200.3h.7M337.8 200.4h.7M343.7 216.3h.7M362.1 215.4h.7M358.2 192.6h.7M358.9 222.8h.7M349.7 223.2h.7M351.2 236.6h.7M331.3 232.9h.7M345.3 229.3h.7M343.1 204.9h.7M343.1 216.9h.7M347.6 205.4h.7M350.5 220.6h.7M338.3 199.3h.7M329.5 209.2h.7M346.1 204.4h.7M340.9 211.4h.7M346.2 220.0h.7M353.0 218.4h.7M355.4 201.0h.7M351.1 217.6h.7M337.2 204.6h.7M349.7 213.9h.7M335.5 206.2h.7M358.8 223.4h.7M346.7 229.6h.7M338.4 210.9h.7M354.0 208.9h.7M336.6 220.2h.7M347.3 197.6h.7M343.5 195.6h.7M367.8 204.6h.7M346.4 204.3h.7M337.7 207.4h.7M347.7 234.6h.7M348.4 232.3h.7M337.1 213.9h.7M342.3 193.7h.7M377.3 210.0h.7M348.1 203.7h.7M341.2 200.2h.7M354.6 208.0h.7M344.8 215.2h.7M335.7 215.9h.7M344.6 218.5h.7M342.8 213.5h.7M350.4 224.9h.7M340.2 225.0h.7M337.7 210.7h.7M347.1 214.8h.7M344.5 224.4h.7M340.1 231.7h.7M330.9 213.9h.7M350.5 213.2h.7M348.2 224.5h.7M339.2 220.3h.7M354.9 210.1h.7M338.8 199.9h.7M349.6 203.1h.7M366.8 220.0h.7M335.0 209.5h.7M358.8 221.4h.7M337.4 225.8h.7M342.0 240.3h.7M341.4 220.4h.7M350.7 207.5h.7M344.7 227.3h.7M350.2 212.3h.7M349.7 234.6h.7M353.8 218.9h.7M348.8 193.7h.7M347.1 207.0h.7M352.2 205.5h.7M349.8 200.0h.7M353.5 204.0h.7M345.8 220.1h.7M343.3 213.1h.7M354.9 234.8h.7M330.8 201.8h.7M351.7 224.6h.7M342.0 214.2h.7M344.4 241.1h.7M344.3 198.3h.7M333.0 197.2h.7M356.9 208.2h.7M362.4 220.9h.7M349.2 221.0h.7M352.6 224.4h.7M337.8 206.1h.7M341.4 214.3h.7M343.9 197.8h.7M340.2 235.1h.7M363.8 202.4h.7M349.2 212.6h.7M338.9 221.8h.7M345.4 233.6h.7M349.8 209.2h.7M353.1 204.2h.7M353.4 221.4h.7M331.2 210.6h.7M348.7 222.3h.7M347.3 212.8h.7M343.1 209.4h.7M346.0 199.9h.7M351.4 209.0h.7M350.4 206.7h.7M349.4 214.6h.7M353.5 218.7h.7M353.8 210.9h.7M345.5 209.8h.7M335.5 211.5h.7M355.1 222.5h.7M338.9 216.7h.7M352.3 196.2h.7M348.9 217.1h.7M352.3 216.2h.7M362.7 208.1h.7M356.7 228.6h.7M346.7 198.9h.7M357.5 212.5h.7M350.4 218.9h.7M354.0 225.5h.7M334.1 195.6h.7M347.2 213.1h.7M352.5 211.3h.7M344.5 238.0h.7M357.5 227.3h.7M354.7 203.3h.7M345.3 212.1h.7M336.8 202.3h.7M347.4 198.0h.7M350.6 218.8h.7M344.0 208.8h.7M351.1 218.9h.7M349.1 197.9h.7M332.4 238.2h.7M340.5 208.5h.7M330.7 203.2h.7M339.8 222.8h.7M342.5 207.0h.7M339.5 207.6h.7M332.8 216.3h.7M356.0 214.9h.7M341.5 228.5h.7M350.1 200.3h.7M341.2 205.5h.7M345.6 227.9h.7M340.1 211.2h.7M346.9 198.4h.7M342.0 220.5h.7M351.9 209.4h.7M356.8 220.6h.7M362.5 216.8h.7M342.7 202.8h.7M334.0 219.8h.7M350.3 223.1h.7M348.9 194.6h.7M342.6 210.0h.7M347.3 222.4h.7M357.9 216.5h.7M328.7 200.5h.7M328.1 203.6h.7M335.9 215.9h.7M344.1 226.7h.7M355.1 207.4h.7M353.9 213.2h.7M349.8 229.5h.7M336.4 212.2h.7M358.9 203.6h.7M347.8 214.6h.7M342.5 197.0h.7M340.2 201.0h.7M355.1 216.1h.7M351.9 198.4h.7M350.2 214.8h.7M354.8 204.2h.7M352.8 229.8h.7M361.1 201.6h.7M336.6 195.0h.7M354.1 220.3h.7M348.9 202.4h.7M356.5 232.7h.7M345.7 211.5h.7M356.0 219.2h.7M357.3 208.1h.7M348.9 208.9h.7M341.2 209.4h.7M343.6 219.2h.7M343.5 213.9h.7M339.2 198.0h.7M358.0 201.0h.7M361.2 224.5h.7M326.8 205.2h.7M342.5 213.3h.7M344.5 205.6h.7M356.5 211.4h.7M354.1 204.6h.7M340.2 229.3h.7M343.6 199.6h.7M344.6 225.9h.7M344.7 204.2h.7M351.4 225.0h.7M344.3 209.1h.7M342.9 246.1h.7M344.4 234.4h.7M344.8 218.0h.7M328.9 215.2h.7M346.5 209.1h.7M342.6 196.3h.7M333.5 215.0h.7M340.6 211.9h.7M344.5 206.8h.7M339.9 235.7h.7M336.8 206.8h.7M343.5 198.9h.7M338.0 223.6h.7M353.8 214.6h.7M373.2 223.1h.7M356.4 203.0h.7M355.1 233.6h.7M342.8 235.1h.7M339.3 199.1h.7M345.6 203.2h.7M351.4 199.5h.7M345.8 225.8h.7M343.8 216.8h.7M355.2 199.6h.7M335.4 214.0h.7M348.4 209.7h.7M337.9 227.8h.7M336.3 209.8h.7M345.7 221.9h.7M342.3 203.0h.7M362.9 202.7h.7M352.7 211.1h.7M342.0 212.5h.7M343.9 216.8h.7M346.6 201.1h.7M342.8 241.6h.7M361.5 220.8h.7M348.0 209.3h.7M357.7 207.5h.7M339.1 221.5h.7M337.9 203.4h.7M358.2 193.4h.7M345.5 214.5h.7M348.2 195.2h.7M344.1 208.9h.7M362.2 225.3h.7M339.7 223.7h.7M351.5 211.6h.7M344.0 209.7h.7M333.1 205.3h.7M353.9 230.6h.7M361.6 208.4h.7M369.4 196.4h.7M380.2 192.2h.7M361.8 198.1h.7M376.0 219.0h.7M363.0 229.4h.7M373.6 201.1h.7M375.5 209.9h.7M380.3 213.7h.7M393.7 222.6h.7M365.7 218.5h.7M379.6 199.3h.7M364.7 201.3h.7M347.7 216.8h.7M369.9 223.2h.7M366.5 210.8h.7M379.2 220.4h.7M375.2 198.8h.7M393.8 219.3h.7M385.5 227.4h.7M385.9 214.5h.7M376.7 216.8h.7M357.2 218.7h.7M362.4 214.5h.7M362.1 217.7h.7M367.3 236.7h.7M374.0 215.5h.7M363.1 206.9h.7M371.5 206.9h.7M367.8 200.6h.7M379.6 205.9h.7M364.0 213.9h.7M364.1 208.1h.7M367.0 200.1h.7M369.8 201.2h.7M359.7 213.8h.7M369.1 194.3h.7M368.2 212.0h.7M376.3 214.0h.7M374.6 216.4h.7M367.2 201.5h.7M378.1 205.6h.7M372.2 217.0h.7M381.3 223.1h.7M365.3 206.0h.7M377.6 194.7h.7M359.7 216.5h.7M366.0 200.1h.7M380.0 215.7h.7M381.1 206.5h.7M369.2 206.4h.7M365.3 217.6h.7M364.4 209.3h.7M373.3 215.6h.7M367.4 197.9h.7M396.7 202.3h.7M373.2 207.9h.7M390.7 231.8h.7M381.7 199.2h.7M364.2 202.0h.7M367.0 212.8h.7M364.3 207.4h.7M386.6 225.4h.7M353.8 199.8h.7M368.4 223.9h.7M368.8 230.4h.7M375.7 225.4h.7M363.6 206.7h.7M382.1 216.1h.7M353.7 207.1h.7M373.9 216.7h.7M365.8 228.6h.7M373.6 225.5h.7M376.1 210.9h.7M369.0 197.5h.7M380.6 218.1h.7M381.3 206.0h.7M362.2 206.0h.7M369.0 209.9h.7M381.8 200.3h.7M367.3 217.4h.7M381.0 233.6h.7M377.3 201.0h.7M361.9 201.6h.7M372.8 212.7h.7M371.5 203.5h.7M370.3 209.2h.7M377.9 210.9h.7M364.2 197.5h.7M386.7 209.1h.7M370.4 209.8h.7M383.2 206.7h.7M373.8 207.5h.7M377.8 199.2h.7M374.1 221.0h.7M383.7 216.6h.7M375.0 226.8h.7M379.1 224.9h.7M360.3 198.3h.7M380.0 207.2h.7M367.9 199.9h.7M386.7 197.3h.7M373.2 195.2h.7M370.4 234.0h.7M396.0 204.8h.7M362.2 227.4h.7M375.5 198.5h.7M357.9 222.0h.7M365.0 198.7h.7M373.8 208.0h.7M383.1 211.0h.7M387.7 222.1h.7M389.6 222.0h.7M372.8 215.8h.7M372.4 193.5h.7M360.6 217.9h.7M349.0 201.2h.7M359.6 209.3h.7M362.0 212.7h.7M370.2 205.0h.7M372.9 196.3h.7M369.3 214.0h.7M382.4 217.5h.7M386.6 194.9h.7M378.8 226.7h.7M376.0 198.2h.7M376.0 204.5h.7M365.8 221.4h.7M370.4 198.1h.7M365.5 230.9h.7M363.9 217.2h.7M373.9 222.5h.7M369.4 200.0h.7M365.9 199.1h.7M397.5 212.1h.7M369.0 223.4h.7M378.6 208.1h.7M378.2 212.9h.7M383.2 227.6h.7M369.1 209.7h.7M370.4 223.0h.7M375.9 218.4h.7M381.0 203.3h.7M373.4 224.8h.7M381.2 218.7h.7M369.4 206.2h.7M363.8 207.2h.7M371.5 194.8h.7M383.5 201.9h.7M374.6 216.4h.7M381.6 214.4h.7M369.7 222.1h.7M380.9 199.9h.7M369.6 225.0h.7M364.0 218.8h.7M357.4 206.9h.7M381.4 228.3h.7M376.6 218.1h.7M355.5 230.1h.7M396.2 216.4h.7M372.8 212.8h.7M372.4 203.5h.7M372.0 208.7h.7M378.7 217.3h.7M381.7 216.3h.7M362.7 224.8h.7M346.1 211.3h.7M375.4 204.4h.7M390.4 198.4h.7M360.8 204.7h.7M376.2 218.5h.7M373.2 217.1h.7M365.3 203.6h.7M373.4 195.7h.7M374.0 205.8h.7M378.8 199.3h.7M367.0 204.0h.7M368.6 199.4h.7M369.6 195.7h.7M377.4 217.2h.7M372.0 208.0h.7M363.5 199.8h.7M370.0 200.4h.7M360.7 211.8h.7M372.0 205.7h.7M364.3 209.5h.7M365.4 205.5h.7M374.0 217.7h.7M379.5 203.6h.7M383.9 197.7h.7M370.5 223.9h.7M395.2 211.4h.7M368.7 206.1h.7M360.4 208.5h.7M368.1 202.0h.7M383.8 201.8h.7M388.6 219.0h.7M378.4 203.8h.7M374.8 207.2h.7M375.9 202.9h.7M376.9 194.1h.7M351.0 215.1h.7M384.6 206.3h.7M370.6 193.7h.7M362.5 217.6h.7M365.0 209.6h.7M370.7 231.2h.7M380.8 196.0h.7M367.5 197.8h.7M358.7 202.8h.7M382.8 210.5h.7M378.7 208.6h.7M368.1 210.9h.7M371.4 230.5h.7M389.5 214.0h.7M371.0 235.4h.7M364.4 218.7h.7M383.9 205.8h.7M370.0 205.2h.7M379.8 210.3h.7M386.7 222.6h.7M372.0 237.7h.7M369.2 203.5h.7M369.9 200.7h.7M368.1 209.3h.7M380.7 193.2h.7M358.6 201.8h.7M369.2 214.9h.7M364.5 226.1h.7M367.0 207.7h.7M372.7 222.5h.7M375.0 210.3h.7M366.9 211.8h.7M376.0 206.3h.7M367.0 222.6h.7M385.8 209.2h.7M351.3 229.6h.7M370.5 237.4h.7M368.2 220.7h.7M366.2 224.6h.7M383.3 198.7h.7M384.6 240.5h.7M370.0 197.1h.7M374.8 205.8h.7M357.7 198.8h.7M374.5 193.8h.7M382.5 214.8h.7M370.4 224.9h.7M363.2 217.3h.7M359.1 206.5h.7M378.3 204.3h.7M371.0 216.9h.7M386.8 223.9h.7M376.5 207.2h.7M358.2 228.3h.7M380.5 209.6h.7M378.9 213.4h.7M370.2 210.0h.7M371.7 222.4h.7M369.6 204.2h.7M378.4 216.9h.7M376.3 213.0h.7M386.3 221.9h.7M374.1 207.8h.7M367.1 202.5h.7M373.8 205.9h.7M395.8 217.9h.7M376.0 234.0h.7M372.1 206.6h.7M384.0 218.9h.7M381.0 222.9h.7M368.6 202.9h.7M365.2 211.1h.7M381.7 198.8h.7M367.0 195.7h.7M391.3 218.6h.7M374.2 197.0h.7M362.2 203.1h.7M372.4 196.4h.7M369.9 223.1h.7M372.2 211.1h.7M352.0 207.1h.7M370.7 202.6h.7M358.8 209.2h.7M362.3 204.2h.7M356.8 209.0h.7M380.8 201.0h.7M375.2 193.8h.7M377.7 215.8h.7M368.4 219.5h.7M363.7 210.5h.7M388.3 209.8h.7M361.3 222.4h.7M377.2 207.0h.7M357.5 225.9h.7M374.9 200.9h.7M383.2 225.7h.7M364.0 215.2h.7M356.3 214.0h.7M389.5 194.9h.7M372.6 203.2h.7M371.2 210.9h.7M374.8 219.6h.7M377.0 221.2h.7M381.8 221.8h.7M365.6 214.4h.7M368.5 201.0h.7M390.9 213.1h.7M369.9 218.3h.7M370.1 204.2h.7M386.2 206.7h.7M368.9 208.9h.7M369.8 221.3h.7M377.6 209.3h.7M368.6 207.6h.7M388.3 206.7h.7M378.4 193.1h.7M375.2 217.4h.7M384.3 213.4h.7M377.6 213.5h.7M382.3 232.0h.7M374.0 201.3h.7M377.8 208.8h.7M378.2 218.3h.7M373.6 205.3h.7M375.0 196.6h.7M374.7 200.5h.7M376.4 211.3h.7M370.0 197.1h.7M372.6 202.7h.7M370.7 217.5h.7M381.2 196.2h.7M381.1 224.6h.7M382.9 213.0h.7M371.2 228.7h.7M369.0 193.6h.7M373.0 213.1h.7M362.2 196.9h.7M391.1 211.2h.7M379.6 203.7h.7M357.6 208.1h.7M384.9 202.8h.7M355.0 208.1h.7M369.4 210.2h.7M362.1 206.7h.7M339.9 275.8h.7M346.6 275.6h.7M344.6 228.7h.7M353.5 275.7h.7M344.4 234.1h.7M340.4 268.3h.7M358.3 256.6h.7M339.7 249.9h.7M354.9 275.6h.7M327.6 281.0h.7M336.3 239.0h.7M329.9 250.7h.7M333.2 251.5h.7M346.6 268.5h.7M340.5 237.3h.7M341.2 251.4h.7M328.0 264.3h.7M331.1 234.9h.7M359.6 276.7h.7M359.0 263.9h.7M341.2 260.7h.7M332.0 273.6h.7M347.7 257.3h.7M327.2 260.3h.7M360.7 284.6h.7M353.5 256.5h.7M346.4 270.7h.7M347.0 278.4h.7M338.7 225.8h.7M331.9 272.4h.7M355.4 262.0h.7M350.3 263.2h.7M346.8 254.6h.7M341.2 280.6h.7M342.5 261.4h.7M356.6 277.4h.7M341.4 266.0h.7M335.4 264.1h.7M348.1 262.0h.7M346.7 267.7h.7M345.8 254.3h.7M335.9 258.3h.7M360.5 258.4h.7M338.9 254.5h.7M333.7 269.6h.7M335.7 276.2h.7M353.8 271.0h.7M355.1 260.7h.7M328.3 261.0h.7M351.2 237.8h.7M333.4 279.1h.7M349.3 283.1h.7M351.5 263.0h.7M349.2 275.3h.7M344.8 258.7h.7M348.1 257.1h.7M368.2 250.0h.7M330.6 241.8h.7M355.2 255.7h.7M346.6 258.6h.7M347.8 239.3h.7M345.9 253.0h.7M355.5 271.7h.7M333.0 246.9h.7M350.6 280.7h.7M352.5 259.6h.7M355.8 225.1h.7M340.0 246.8h.7M335.2 270.8h.7M347.8 266.4h.7M343.9 271.7h.7M352.7 253.0h.7M354.1 247.5h.7M362.1 241.6h.7M342.4 245.1h.7M345.5 282.6h.7M358.7 268.0h.7M371.4 270.4h.7M345.1 247.5h.7M389.3 257.5h.7M406.9 248.7h.7M362.8 255.1h.7M384.9 281.4h.7M357.8 260.2h.7M392.8 248.8h.7M372.9 241.4h.7M387.0 269.4h.7M385.0 261.4h.7M389.7 256.3h.7M386.5 269.2h.7M393.2 265.0h.7M379.1 267.7h.7M360.2 233.8h.7M396.9 259.9h.7M365.9 250.0h.7M376.4 259.0h.7M369.3 271.7h.7M365.6 280.8h.7M385.9 234.9h.7M363.9 258.8h.7M381.3 252.2h.7M378.3 260.2h.7M364.8 258.8h.7M404.7 249.1h.7M366.3 267.1h.7M393.9 272.4h.7M370.8 257.0h.7M380.5 255.1h.7M382.8 272.9h.7M384.6 257.9h.7M375.8 282.6h.7M363.8 285.6h.7M386.8 259.2h.7M369.4 283.3h.7M392.4 270.6h.7M402.6 233.3h.7M379.3 253.8h.7M369.6 259.0h.7M384.5 265.2h.7M376.5 239.8h.7M384.7 266.4h.7M403.1 270.9h.7M378.4 242.2h.7M410.2 248.7h.7M380.5 268.3h.7M384.1 276.4h.7M366.0 248.5h.7M380.2 241.0h.7M370.9 277.1h.7M381.6 256.6h.7M371.4 258.7h.7M377.8 243.1h.7M387.5 240.3h.7M393.3 253.3h.7M351.2 236.6h.7M381.6 246.0h.7M399.5 277.1h.7M403.0 270.4h.7M394.1 249.6h.7M393.6 252.0h.7M377.6 239.2h.7M378.8 263.6h.7M377.4 242.7h.7M388.9 270.6h.7M377.1 268.9h.7M389.9 244.4h.7M377.7 232.2h.7M365.9 263.9h.7M367.7 263.4h.7M382.5 229.4h.7M372.4 279.1h.7M347.5 192.8h.7M392.1 266.5h.7M358.3 287.5h.7M395.3 222.8h.7M399.2 273.0h.7M340.3 279.5h.7M368.3 218.3h.7M362.9 242.7h.7M377.1 220.3h.7M332.7 252.6h.7M395.2 258.7h.7M364.7 274.3h.7M328.6 204.4h.7M328.7 245.2h.7M376.7 213.8h.7M376.9 192.3h.7M330.4 284.4h.7M411.1 198.7h.7M389.3 240.8h.7M378.1 272.7h.7" stroke="#ff1010" stroke-width=".75" stroke-opacity=".5" fill="none"/>
<line x1="362.4" y1="191.2" x2="362.4" y2="289.3" stroke="#f26a6a" stroke-width="0.9"/>
<line x1="326" y1="236.8" x2="423" y2="236.8" stroke="#f26a6a" stroke-width="0.9"/>
<circle cx="362.4" cy="236.8" r="1.5" fill="#f7b0b0" stroke="#f05050" stroke-width=".6"/>
<circle cx="402.7" cy="236.8" r="1.5" fill="#f7b0b0" stroke="#f05050" stroke-width=".6"/>
<text class="S" x="364.7" y="234.2" font-size="4.8" fill="#e03030">R2</text>
<rect x="326.5" y="191.5" width="97" height="98" fill="none" stroke="#444" stroke-width="1"/>
<text class="Sb" x="328" y="197.8" font-size="6" fill="#000">92.69%</text>
<text class="Sb" x="421.4" y="197.8" font-size="6" text-anchor="end" fill="#000">4.05%</text>
<text class="Sb" x="328" y="287.5" font-size="6" fill="#000">1.93%</text>
<text class="Sb" x="421.4" y="287.5" font-size="6" text-anchor="end" fill="#000">1.33%</text>
<text class="S" x="326.5" y="189.9" font-size="4" textLength="54" lengthAdjust="spacingAndGlyphs" fill="#333">Plot P02, gated on P01.R1</text>
<text class="S" x="326" y="294.1" font-size="3.8" text-anchor="middle" fill="#333">10<tspan font-size="2.6" dy="-1.5">0</tspan></text>
<text class="S" transform="translate(324.4 289.3) rotate(-90)" font-size="3.8" text-anchor="middle" fill="#333">10<tspan font-size="2.6" dy="-1.5">0</tspan></text>
<line x1="326" y1="289.3" x2="326" y2="290.5" stroke="#666" stroke-width="0.5"/>
<line x1="324.8" y1="289.3" x2="326" y2="289.3" stroke="#666" stroke-width="0.5"/>
<text class="S" x="345.4" y="294.1" font-size="3.8" text-anchor="middle" fill="#333">10<tspan font-size="2.6" dy="-1.5">1</tspan></text>
<text class="S" transform="translate(324.4 269.68) rotate(-90)" font-size="3.8" text-anchor="middle" fill="#333">10<tspan font-size="2.6" dy="-1.5">1</tspan></text>
<line x1="345.4" y1="289.3" x2="345.4" y2="290.5" stroke="#666" stroke-width="0.5"/>
<line x1="324.8" y1="269.68" x2="326" y2="269.68" stroke="#666" stroke-width="0.5"/>
<text class="S" x="364.8" y="294.1" font-size="3.8" text-anchor="middle" fill="#333">10<tspan font-size="2.6" dy="-1.5">2</tspan></text>
<text class="S" transform="translate(324.4 250.06) rotate(-90)" font-size="3.8" text-anchor="middle" fill="#333">10<tspan font-size="2.6" dy="-1.5">2</tspan></text>
<line x1="364.8" y1="289.3" x2="364.8" y2="290.5" stroke="#666" stroke-width="0.5"/>
<line x1="324.8" y1="250.06" x2="326" y2="250.06" stroke="#666" stroke-width="0.5"/>
<text class="S" x="384.2" y="294.1" font-size="3.8" text-anchor="middle" fill="#333">10<tspan font-size="2.6" dy="-1.5">3</tspan></text>
<text class="S" transform="translate(324.4 230.44) rotate(-90)" font-size="3.8" text-anchor="middle" fill="#333">10<tspan font-size="2.6" dy="-1.5">3</tspan></text>
<line x1="384.2" y1="289.3" x2="384.2" y2="290.5" stroke="#666" stroke-width="0.5"/>
<line x1="324.8" y1="230.44" x2="326" y2="230.44" stroke="#666" stroke-width="0.5"/>
<text class="S" x="403.6" y="294.1" font-size="3.8" text-anchor="middle" fill="#333">10<tspan font-size="2.6" dy="-1.5">4</tspan></text>
<text class="S" transform="translate(324.4 210.82) rotate(-90)" font-size="3.8" text-anchor="middle" fill="#333">10<tspan font-size="2.6" dy="-1.5">4</tspan></text>
<line x1="403.6" y1="289.3" x2="403.6" y2="290.5" stroke="#666" stroke-width="0.5"/>
<line x1="324.8" y1="210.82" x2="326" y2="210.82" stroke="#666" stroke-width="0.5"/>
<text class="S" x="423" y="294.1" font-size="3.8" text-anchor="middle" fill="#333">10<tspan font-size="2.6" dy="-1.5">5</tspan></text>
<text class="S" transform="translate(324.4 191.2) rotate(-90)" font-size="3.8" text-anchor="middle" fill="#333">10<tspan font-size="2.6" dy="-1.5">5</tspan></text>
<line x1="423" y1="289.3" x2="423" y2="290.5" stroke="#666" stroke-width="0.5"/>
<line x1="324.8" y1="191.2" x2="326" y2="191.2" stroke="#666" stroke-width="0.5"/>
<text class="S" x="374.5" y="299.1" font-size="4.4" text-anchor="middle" textLength="70" lengthAdjust="spacingAndGlyphs" fill="#333">Red-R Fluorescence (RED-R-HLog)</text>
<text class="S" transform="translate(318 241.25) rotate(-90)" font-size="4.4" text-anchor="middle" textLength="74" lengthAdjust="spacingAndGlyphs" fill="#333">Green-B Fluorescence (GRN-B-HLog)</text>
<text class="Rb" x="376.3" y="185.2" font-size="8.8" text-anchor="middle" textLength="40.9" lengthAdjust="spacingAndGlyphs" fill="#111">AGS-shCtrl</text>
<rect x="440.3" y="192" width="96.7" height="97.5" fill="#fff"/>
<path d="M452.5 192.8h.7M469.8 219.1h.7M455.8 225.8h.7M461.7 200.0h.7M451.1 206.3h.7M468.5 212.3h.7M452.8 202.9h.7M457.0 218.2h.7M461.0 200.2h.7M456.5 216.1h.7M450.1 210.1h.7M460.9 215.4h.7M454.7 216.2h.7M470.9 227.9h.7M451.8 208.2h.7M460.3 209.5h.7M455.6 215.8h.7M475.7 221.3h.7M455.8 203.6h.7M465.9 209.7h.7M457.0 219.0h.7M464.7 217.2h.7M460.5 219.4h.7M458.8 199.0h.7M461.5 196.6h.7M469.1 214.7h.7M451.4 210.0h.7M466.7 205.5h.7M464.1 203.5h.7M461.1 207.8h.7M464.5 200.3h.7M454.7 211.3h.7M458.5 212.9h.7M458.5 197.3h.7M466.0 210.8h.7M465.9 205.6h.7M459.4 219.3h.7M451.3 223.3h.7M464.6 208.0h.7M462.1 213.6h.7M456.9 210.9h.7M455.8 192.8h.7M462.7 209.3h.7M465.4 213.2h.7M465.8 215.2h.7M455.2 218.9h.7M477.7 203.7h.7M453.9 214.3h.7M467.1 217.1h.7M470.8 196.7h.7M463.8 212.4h.7M469.1 200.9h.7M461.7 205.3h.7M460.6 207.3h.7M460.6 193.4h.7M461.3 209.1h.7M457.3 202.9h.7M456.3 222.2h.7M467.1 206.9h.7M465.2 236.6h.7M455.7 212.5h.7M457.9 221.2h.7M468.2 207.5h.7M465.2 201.7h.7M452.0 215.7h.7M471.4 205.9h.7M458.3 193.2h.7M474.5 198.3h.7M455.7 206.8h.7M468.8 209.0h.7M461.4 208.7h.7M466.6 208.2h.7M462.5 207.9h.7M454.8 220.0h.7M457.3 197.2h.7M458.9 208.8h.7M466.5 196.0h.7M453.9 210.0h.7M463.8 199.1h.7M454.7 210.0h.7M460.6 194.7h.7M456.2 221.2h.7M455.1 217.5h.7M452.3 221.2h.7M471.2 203.1h.7M457.4 213.9h.7M454.0 213.2h.7M468.9 210.7h.7M463.5 207.2h.7M467.6 201.5h.7M471.1 208.3h.7M459.5 194.6h.7M458.9 210.5h.7M469.0 194.7h.7M460.7 202.6h.7M454.3 208.5h.7M456.9 215.9h.7M445.3 214.8h.7M464.6 205.6h.7M462.3 200.2h.7M455.2 202.2h.7M461.2 201.3h.7M459.0 201.2h.7M462.9 198.8h.7M461.4 209.3h.7M467.3 202.2h.7M454.6 195.8h.7M466.1 203.2h.7M467.5 207.8h.7M459.8 192.6h.7M457.4 215.2h.7M457.8 214.3h.7M451.6 217.2h.7M478.3 218.0h.7M463.4 198.0h.7M458.3 202.9h.7M456.3 215.3h.7M462.4 214.8h.7M466.6 198.7h.7M453.4 212.5h.7M461.7 209.2h.7M456.6 217.2h.7M464.5 218.2h.7M459.4 214.4h.7M461.1 200.5h.7M461.0 194.4h.7M460.4 210.0h.7M465.7 199.5h.7M453.5 202.3h.7M449.0 202.9h.7M477.3 209.7h.7M456.9 202.7h.7M472.1 198.6h.7M460.8 207.8h.7M457.1 202.4h.7M451.4 201.3h.7M469.3 220.6h.7M459.8 214.5h.7M464.3 209.4h.7M460.7 218.9h.7M464.9 206.6h.7M460.1 216.5h.7M457.9 202.4h.7M459.8 204.3h.7M469.1 211.5h.7M461.0 204.0h.7M470.0 212.3h.7M474.0 216.3h.7M460.2 203.8h.7M459.8 210.0h.7M466.3 212.6h.7M471.0 195.5h.7M461.7 196.4h.7M455.3 203.4h.7M457.6 200.2h.7M452.4 218.2h.7M459.6 216.7h.7M457.9 216.0h.7M458.1 211.9h.7M455.0 220.4h.7M464.1 217.5h.7M459.8 219.4h.7M461.9 204.3h.7M457.6 209.0h.7M456.0 198.3h.7M462.3 214.6h.7M459.7 215.7h.7M471.0 197.7h.7M463.0 200.3h.7M457.6 210.0h.7M447.2 213.7h.7M466.5 213.1h.7M465.4 224.0h.7M459.3 217.8h.7M470.2 212.7h.7M450.8 207.2h.7M459.7 194.7h.7M461.1 214.9h.7M459.9 206.9h.7M470.3 203.3h.7M455.8 208.8h.7M468.2 213.6h.7M461.9 204.3h.7M468.9 216.0h.7M451.1 211.3h.7M447.0 221.2h.7M465.2 203.1h.7M453.7 205.9h.7M451.0 213.3h.7M458.4 193.4h.7M461.4 218.6h.7M453.9 205.5h.7M472.4 210.1h.7M458.2 210.1h.7M466.2 199.9h.7M460.9 194.6h.7M452.0 195.4h.7M466.6 211.1h.7M465.9 218.9h.7M461.8 210.5h.7M463.9 212.5h.7M455.1 206.2h.7M460.6 208.8h.7M457.0 207.4h.7M463.2 210.1h.7M465.0 215.5h.7M464.8 216.7h.7M466.6 220.4h.7M465.3 203.2h.7M475.5 218.1h.7M469.0 214.7h.7M461.8 198.7h.7M464.1 205.5h.7M470.8 198.5h.7M454.9 212.5h.7M464.9 201.7h.7M461.5 210.6h.7M462.4 213.0h.7M466.2 205.4h.7M451.7 226.9h.7M459.2 200.0h.7M466.0 213.5h.7M457.8 228.5h.7M447.3 219.4h.7M461.3 211.1h.7M463.4 206.5h.7M463.4 197.4h.7M459.1 224.2h.7M446.0 219.0h.7M448.1 201.2h.7M466.8 205.0h.7M458.0 195.7h.7M460.8 207.0h.7M457.6 195.2h.7M462.4 212.1h.7M468.4 212.9h.7M470.6 218.7h.7M444.5 222.7h.7M460.9 199.6h.7M464.1 216.7h.7M452.2 198.0h.7M465.6 203.8h.7M470.3 210.3h.7M458.2 197.2h.7M465.1 193.8h.7M453.6 197.3h.7M471.7 223.0h.7M460.2 205.2h.7M465.7 219.1h.7M456.6 227.3h.7M460.2 218.1h.7M447.3 208.0h.7M457.3 225.4h.7M460.2 197.6h.7M473.2 202.6h.7M461.5 197.8h.7M465.6 210.1h.7M459.8 205.1h.7M458.1 202.4h.7M453.0 218.8h.7M466.9 196.6h.7M454.5 212.0h.7M475.1 206.7h.7M459.6 206.3h.7M463.0 207.0h.7M468.0 216.9h.7M464.8 221.9h.7M460.1 203.8h.7M463.6 199.4h.7M460.7 205.1h.7M455.0 218.0h.7M459.1 212.3h.7M458.3 209.8h.7M458.8 209.1h.7M460.9 202.7h.7M464.1 206.9h.7M455.7 199.5h.7M464.2 219.8h.7M453.6 204.9h.7M464.2 217.4h.7M465.8 198.4h.7M461.7 216.2h.7M462.9 206.6h.7M454.4 209.9h.7M461.1 208.8h.7M470.5 218.6h.7M456.7 210.5h.7M459.6 209.3h.7M471.3 216.3h.7M461.7 202.9h.7M460.5 211.6h.7M458.5 217.9h.7M461.6 198.4h.7M459.9 207.5h.7M467.5 218.0h.7M470.3 221.8h.7M463.4 209.5h.7M467.6 208.3h.7M453.9 204.6h.7M465.5 213.7h.7M454.8 218.7h.7M463.4 195.7h.7M464.3 217.1h.7M464.7 205.8h.7M456.7 218.1h.7M462.9 208.4h.7M459.1 199.7h.7M450.2 205.6h.7M468.2 215.0h.7M457.4 221.5h.7M460.1 199.9h.7M467.4 220.3h.7M459.2 198.1h.7M461.8 221.5h.7M463.1 202.2h.7M465.8 204.3h.7M469.1 205.4h.7M473.8 205.5h.7M462.7 200.5h.7M453.8 211.4h.7M463.6 200.2h.7M464.9 205.0h.7M458.2 207.9h.7M463.9 214.7h.7M468.9 211.7h.7M457.1 202.7h.7M463.7 198.3h.7M460.5 205.2h.7M460.9 210.0h.7M467.8 222.5h.7M466.8 217.1h.7M455.1 217.3h.7M469.3 196.9h.7M476.7 203.7h.7M447.2 223.5h.7M461.9 201.7h.7M458.0 217.6h.7M463.0 205.3h.7M468.4 200.5h.7M456.4 203.7h.7M457.0 214.4h.7M460.1 199.5h.7M462.5 209.4h.7M465.2 206.5h.7M463.9 200.5h.7M461.6 209.8h.7M454.2 213.5h.7M462.4 208.9h.7M458.6 225.6h.7M461.5 202.0h.7M456.4 213.5h.7M460.2 201.8h.7M457.1 216.4h.7M462.0 217.5h.7M461.4 198.4h.7M466.7 211.2h.7M457.6 205.9h.7M455.7 215.6h.7M459.0 212.6h.7M463.1 206.3h.7M463.7 206.4h.7M454.4 205.0h.7M454.4 214.9h.7M465.4 203.5h.7M465.2 210.6h.7M467.4 200.6h.7M461.7 200.1h.7M457.4 220.1h.7M449.4 200.7h.7M464.4 215.1h.7M451.2 211.6h.7M468.1 216.2h.7M457.1 220.0h.7M460.4 213.7h.7M460.3 222.0h.7M459.6 210.1h.7M463.2 202.4h.7M460.1 198.8h.7M460.1 209.2h.7M462.9 222.5h.7M449.5 212.9h.7M464.1 198.7h.7M461.9 208.4h.7M455.5 214.6h.7M473.0 214.2h.7M466.2 217.6h.7M460.7 216.8h.7M456.7 210.0h.7M465.7 219.6h.7M459.8 206.0h.7M464.3 207.8h.7M462.3 215.3h.7M456.9 215.9h.7M463.8 206.3h.7M454.0 203.2h.7M461.2 216.5h.7M449.7 214.5h.7M462.7 198.9h.7M466.6 211.9h.7M464.1 200.2h.7M454.9 216.2h.7M469.9 211.6h.7M460.3 204.7h.7M451.3 216.8h.7M460.9 218.9h.7M457.2 217.4h.7M457.2 213.4h.7M469.7 202.5h.7M466.9 208.4h.7M455.9 210.2h.7M465.3 202.5h.7M459.9 203.7h.7M456.9 206.7h.7M466.4 204.3h.7M468.9 205.3h.7M457.4 217.5h.7M469.9 203.0h.7M465.0 198.7h.7M459.1 205.3h.7M465.7 197.9h.7M458.5 202.7h.7M462.1 198.1h.7M453.5 232.3h.7M462.8 195.8h.7M466.5 197.4h.7M450.3 222.5h.7M468.9 201.4h.7M455.0 212.5h.7M473.6 213.5h.7M465.4 198.5h.7M450.9 211.8h.7M467.5 209.6h.7M461.5 220.1h.7M456.5 217.7h.7M466.4 203.2h.7M462.2 209.4h.7M464.9 200.3h.7M460.1 209.3h.7M461.7 208.7h.7M463.0 206.9h.7M458.5 217.2h.7M457.7 205.8h.7M456.3 198.9h.7M464.1 208.1h.7M460.7 212.3h.7M460.5 214.2h.7M472.2 211.4h.7M459.9 222.4h.7M465.7 194.5h.7M469.4 210.3h.7M466.5 198.8h.7M456.5 203.1h.7M464.8 199.1h.7M457.3 216.5h.7M457.7 209.5h.7M456.2 194.2h.7M461.0 207.5h.7M453.0 216.6h.7M466.3 215.9h.7M458.5 198.9h.7M461.0 209.9h.7M460.5 203.6h.7M455.6 202.3h.7M461.0 204.4h.7M471.3 206.2h.7M464.2 204.6h.7M460.4 200.4h.7M458.6 196.0h.7M449.3 219.7h.7M455.3 212.1h.7M460.8 203.7h.7M465.8 203.8h.7M464.1 205.4h.7M467.2 216.5h.7M461.9 217.6h.7M464.5 221.5h.7M460.8 195.6h.7M462.7 210.5h.7M459.4 206.8h.7M459.9 198.0h.7M471.6 202.0h.7M455.2 195.3h.7M456.5 208.2h.7M470.2 213.5h.7M457.2 198.1h.7M454.9 207.8h.7M466.6 204.5h.7M470.9 224.6h.7M467.9 207.7h.7M465.4 216.7h.7M455.6 209.0h.7M462.5 202.2h.7M465.6 207.4h.7M459.1 224.1h.7M462.5 222.1h.7M460.6 217.1h.7M457.1 209.7h.7M464.6 206.2h.7M467.9 210.0h.7M461.0 197.8h.7M478.7 202.3h.7M459.6 202.5h.7M459.7 210.3h.7M453.6 217.3h.7M459.9 213.5h.7M449.1 204.1h.7M459.7 205.2h.7M457.6 211.1h.7M463.9 200.3h.7M450.0 214.5h.7M459.6 217.4h.7M466.6 207.6h.7M453.1 205.5h.7M457.2 218.8h.7M451.5 216.1h.7M452.4 203.7h.7M453.2 202.7h.7M458.9 211.6h.7M458.0 214.2h.7M471.7 209.8h.7M454.7 207.0h.7M460.9 205.5h.7M468.2 218.1h.7M473.2 212.8h.7M445.9 207.4h.7M465.4 201.8h.7M457.9 216.0h.7M462.3 199.1h.7M461.4 198.3h.7M461.2 198.6h.7M456.0 204.2h.7M477.8 198.6h.7M454.5 204.0h.7M467.7 215.1h.7M465.5 205.8h.7M462.2 202.1h.7M460.4 201.8h.7M452.9 200.2h.7M472.8 211.8h.7M457.1 207.6h.7M458.8 218.6h.7M461.3 203.2h.7M465.4 211.1h.7M457.5 202.0h.7M462.3 194.8h.7M456.1 216.9h.7M466.5 217.7h.7M458.8 203.5h.7M459.9 204.5h.7M468.9 206.6h.7M469.4 202.6h.7M463.6 222.0h.7M457.1 203.0h.7M457.9 195.1h.7M459.7 203.1h.7M474.3 204.5h.7M448.9 216.3h.7M467.0 208.2h.7M463.1 214.4h.7M458.2 208.8h.7M462.3 222.3h.7M469.7 209.9h.7M453.6 215.8h.7M461.1 218.2h.7M461.7 210.0h.7M465.3 202.4h.7M457.6 227.6h.7M456.4 216.2h.7M465.4 215.3h.7M469.4 197.3h.7M461.7 211.3h.7M467.4 217.5h.7M456.0 206.2h.7M460.5 202.7h.7M456.6 203.0h.7M468.1 219.8h.7M465.8 222.5h.7M462.0 199.4h.7M457.6 210.2h.7M467.4 218.6h.7M456.2 216.4h.7M458.3 213.4h.7M466.8 220.8h.7M458.3 210.5h.7M463.9 205.0h.7M462.0 213.4h.7M451.8 203.1h.7M474.9 212.2h.7M458.2 193.2h.7M455.8 212.8h.7M465.4 212.2h.7M464.9 203.5h.7M470.7 199.1h.7M464.4 206.3h.7M451.4 216.0h.7M459.8 214.4h.7M468.8 209.9h.7M457.6 206.7h.7M461.0 220.5h.7M466.4 221.7h.7M465.9 202.1h.7M466.8 216.6h.7M460.7 212.3h.7M459.6 198.0h.7M460.9 214.8h.7M456.8 217.6h.7M462.7 217.8h.7M457.0 205.0h.7M455.6 202.0h.7M464.4 209.7h.7M458.6 211.0h.7M453.8 205.2h.7M452.7 196.0h.7M453.5 199.3h.7M470.6 220.0h.7M468.8 203.6h.7M465.1 199.0h.7M458.2 210.5h.7M452.1 210.1h.7M447.1 206.2h.7M460.7 209.7h.7M454.8 213.2h.7M462.1 202.4h.7M471.0 210.7h.7M465.7 224.0h.7M458.5 206.6h.7M451.3 206.6h.7M464.0 229.4h.7M464.7 210.2h.7M454.0 201.4h.7M450.6 197.0h.7M462.1 211.0h.7M456.1 206.7h.7M456.7 213.7h.7M465.1 203.8h.7M458.7 198.2h.7M458.7 226.8h.7M461.3 215.7h.7M464.8 220.9h.7M459.5 200.9h.7M467.5 216.2h.7M457.5 217.7h.7M461.3 208.1h.7M472.1 212.9h.7M463.2 205.8h.7M462.6 217.3h.7M464.1 202.2h.7M464.0 207.5h.7M463.2 206.9h.7M448.6 194.9h.7M452.6 225.5h.7M465.5 204.6h.7M462.9 216.8h.7M462.5 197.5h.7M467.1 204.0h.7M458.1 210.2h.7M459.6 225.6h.7M460.6 226.5h.7M464.0 198.1h.7M461.4 208.9h.7M469.8 219.3h.7M476.4 202.9h.7M458.8 228.1h.7M456.2 211.5h.7M470.8 200.0h.7M459.4 202.2h.7M464.5 211.9h.7M461.2 214.0h.7M456.8 205.3h.7M464.1 225.5h.7M461.2 209.0h.7M469.1 209.1h.7M469.0 210.5h.7M468.2 210.0h.7M456.0 201.3h.7M463.9 224.4h.7M472.3 205.8h.7M476.1 199.1h.7M456.4 216.4h.7M452.5 216.2h.7M463.6 213.8h.7M454.3 211.7h.7M466.9 208.1h.7M467.4 208.7h.7M463.4 205.8h.7M453.4 207.2h.7M464.3 202.1h.7M449.9 195.4h.7M469.1 206.6h.7M456.9 219.0h.7M460.4 195.8h.7M458.8 201.0h.7M460.3 200.8h.7M461.8 212.4h.7M458.0 206.8h.7M460.5 215.5h.7M457.2 214.9h.7M468.7 206.9h.7M455.7 205.9h.7M451.0 203.9h.7M454.4 207.1h.7M459.2 212.9h.7M462.1 212.1h.7M461.1 210.9h.7M454.7 214.1h.7M469.1 217.9h.7M453.5 212.0h.7M451.8 214.9h.7M460.2 204.6h.7M457.0 206.5h.7M461.4 200.3h.7M461.8 210.7h.7M464.5 208.1h.7M461.4 228.1h.7M467.4 211.2h.7M453.2 213.8h.7M460.4 211.7h.7M461.6 209.3h.7M460.5 220.2h.7M463.7 206.1h.7M460.1 226.2h.7M456.3 204.0h.7M463.3 209.8h.7M463.2 220.0h.7M468.1 212.1h.7M461.7 208.0h.7M460.1 217.0h.7M454.0 199.7h.7M458.7 200.3h.7M457.1 218.6h.7M448.1 213.4h.7M453.7 206.4h.7M458.0 200.1h.7M452.7 209.1h.7M459.1 217.8h.7M472.4 206.0h.7M456.7 206.1h.7M464.2 216.4h.7M455.8 212.5h.7M461.2 218.2h.7M459.0 206.7h.7M456.4 197.3h.7M463.0 214.6h.7M468.1 210.8h.7M458.7 200.7h.7M454.6 202.4h.7M463.4 209.3h.7M447.9 207.6h.7M459.7 199.6h.7M461.3 213.0h.7M455.3 197.0h.7M459.5 210.7h.7M459.9 221.6h.7M462.3 200.0h.7M466.0 203.0h.7M465.5 209.3h.7M468.7 200.0h.7M465.7 212.1h.7M456.1 214.5h.7M474.9 211.5h.7M456.9 207.2h.7M469.2 210.7h.7M470.2 203.0h.7M469.2 195.1h.7M460.5 206.0h.7M458.5 218.9h.7M457.9 211.5h.7M472.5 215.5h.7M459.0 202.3h.7M449.5 211.7h.7M466.7 217.9h.7M462.9 226.8h.7M456.2 215.3h.7M459.1 215.6h.7M476.7 202.0h.7M474.6 207.8h.7M452.7 209.3h.7M466.8 203.6h.7M470.9 201.1h.7M460.3 216.3h.7M460.2 203.8h.7M461.4 214.1h.7M471.8 220.1h.7M472.6 208.3h.7M451.6 208.2h.7M459.0 200.0h.7M458.4 207.9h.7M461.8 216.3h.7M456.0 218.3h.7M461.7 214.8h.7M468.9 198.0h.7M471.0 202.4h.7M463.8 217.8h.7M467.0 195.2h.7M462.4 218.2h.7M460.7 207.8h.7M461.9 222.5h.7M458.2 200.5h.7M454.9 204.0h.7M460.1 211.5h.7M461.0 193.9h.7M452.1 214.3h.7M465.8 197.0h.7M475.4 213.5h.7M451.6 212.9h.7M461.3 204.6h.7M459.3 206.6h.7M460.9 200.8h.7M458.1 213.3h.7M464.6 197.2h.7M458.5 221.8h.7M465.8 222.6h.7M453.4 199.7h.7M459.2 199.6h.7M455.0 202.6h.7M460.4 215.6h.7M464.8 193.5h.7M470.4 205.7h.7M455.5 208.2h.7M459.1 196.7h.7M470.8 203.6h.7M457.9 213.1h.7M471.5 212.6h.7M456.1 212.2h.7M468.1 211.7h.7M465.4 204.4h.7M461.1 194.2h.7M457.2 198.8h.7M461.5 221.2h.7M448.0 197.3h.7M455.9 207.7h.7M468.5 201.9h.7M456.8 218.8h.7M463.7 213.0h.7M466.5 202.2h.7M462.8 202.9h.7M457.2 209.6h.7M464.1 197.6h.7M456.9 213.7h.7M462.5 214.2h.7M459.6 201.7h.7M466.2 213.6h.7M444.4 215.9h.7M456.9 214.2h.7M470.9 206.1h.7M455.7 210.7h.7M462.0 213.3h.7M453.0 210.6h.7M466.9 214.5h.7M465.3 218.7h.7M456.5 218.9h.7M462.8 200.0h.7M459.7 210.8h.7M463.5 220.0h.7M462.6 204.1h.7M474.6 205.7h.7M456.5 216.4h.7M459.0 201.8h.7M455.1 218.6h.7M455.1 209.4h.7M458.7 206.9h.7M456.6 209.8h.7M465.1 217.5h.7M459.3 198.6h.7M452.6 208.6h.7M446.5 219.9h.7M461.7 209.6h.7M453.1 203.0h.7M457.0 214.3h.7M459.0 213.8h.7M460.1 219.3h.7M458.4 209.6h.7M460.7 198.1h.7M474.6 207.4h.7M465.3 204.7h.7M469.9 218.4h.7M468.6 216.7h.7M465.7 220.4h.7M463.9 209.7h.7M466.4 200.9h.7M446.2 215.5h.7M462.4 202.6h.7M459.9 200.4h.7M456.4 210.2h.7M462.2 215.6h.7M460.9 213.9h.7M465.6 202.6h.7M451.3 202.7h.7M460.0 204.0h.7M474.8 202.8h.7M464.4 202.1h.7M465.7 197.8h.7M467.2 210.1h.7M459.1 198.4h.7M471.5 203.7h.7M454.3 224.0h.7M472.2 208.7h.7M467.5 213.7h.7M459.3 209.7h.7M454.6 197.2h.7M462.2 214.8h.7M462.5 198.2h.7M466.6 209.3h.7M466.0 206.1h.7M459.9 217.5h.7M469.8 198.4h.7M454.8 216.8h.7M463.7 209.0h.7M455.6 217.2h.7M462.6 210.4h.7M463.8 204.2h.7M463.9 209.7h.7M465.8 211.8h.7M453.8 202.6h.7M459.9 218.5h.7M457.6 218.2h.7M468.0 216.0h.7M475.1 208.5h.7M463.4 219.0h.7M463.9 217.0h.7M460.7 220.6h.7M468.0 207.0h.7M456.2 206.1h.7M459.8 218.3h.7M463.5 208.0h.7M461.4 201.0h.7M457.6 204.7h.7M460.1 198.7h.7M459.1 217.1h.7M464.2 208.6h.7M463.6 206.6h.7M454.4 216.1h.7M475.0 212.9h.7M465.6 229.5h.7M454.2 213.1h.7M459.4 206.3h.7M451.5 208.0h.7M463.9 195.1h.7M460.2 204.5h.7M455.5 214.0h.7M471.4 212.2h.7M467.7 215.1h.7M461.1 213.5h.7M469.5 205.0h.7M460.6 197.0h.7M450.3 201.7h.7M466.9 211.7h.7M463.1 219.7h.7M450.9 220.3h.7M462.0 215.2h.7M469.8 201.8h.7M456.3 212.0h.7M461.2 203.7h.7M460.7 202.5h.7M462.3 205.4h.7M471.7 199.8h.7M465.0 209.3h.7M471.0 200.5h.7M458.7 223.2h.7M457.5 205.4h.7M459.1 200.4h.7M468.9 221.4h.7M460.6 202.3h.7M453.3 214.2h.7M458.3 213.2h.7M447.0 205.1h.7M465.3 212.1h.7M444.2 211.1h.7M462.3 208.4h.7M459.4 204.9h.7M462.4 212.9h.7M442.4 208.5h.7M467.1 206.8h.7M468.9 200.7h.7M473.0 216.7h.7M459.1 231.8h.7M470.2 222.0h.7M454.3 207.7h.7M464.3 217.5h.7M462.0 197.7h.7M468.9 207.2h.7M464.1 205.9h.7M460.8 197.0h.7M465.5 203.3h.7M450.8 212.1h.7M461.3 216.7h.7M466.4 198.4h.7M460.4 208.6h.7M462.0 199.7h.7M462.0 216.9h.7M469.0 220.9h.7M459.9 204.0h.7M444.0 221.6h.7M467.0 208.5h.7M463.7 212.7h.7M460.2 220.2h.7M472.5 215.5h.7M458.2 210.7h.7M467.4 214.7h.7M457.4 216.6h.7M465.9 213.5h.7M459.0 208.4h.7M450.0 208.3h.7M458.8 206.1h.7M459.8 205.9h.7M462.0 209.4h.7M457.8 207.5h.7M461.0 212.7h.7M464.2 205.6h.7M456.5 194.8h.7M454.0 212.0h.7M456.0 222.1h.7M460.5 205.4h.7M460.6 204.0h.7M457.7 209.1h.7M452.8 209.7h.7M460.9 201.0h.7M467.7 211.6h.7M468.0 203.0h.7M454.0 198.6h.7M452.0 192.7h.7M470.9 204.6h.7M462.7 204.1h.7M460.6 221.8h.7M451.1 200.3h.7M462.3 201.0h.7M465.7 219.5h.7M466.9 214.9h.7M460.5 217.0h.7M456.7 198.6h.7M459.9 206.5h.7M468.9 200.3h.7M468.4 202.0h.7M453.9 194.3h.7M461.3 196.4h.7M462.8 209.0h.7M458.4 212.3h.7M450.8 214.4h.7M461.6 204.0h.7M462.7 214.0h.7M461.4 202.0h.7M466.2 202.9h.7M463.7 216.7h.7M469.4 222.0h.7M467.7 209.8h.7M460.3 210.1h.7M464.7 233.7h.7M465.5 201.6h.7M470.7 195.2h.7M467.5 197.8h.7M454.9 204.3h.7M459.8 197.2h.7M465.2 207.6h.7M469.6 200.0h.7M450.6 214.3h.7M460.1 216.8h.7M447.4 198.1h.7M462.0 225.0h.7M458.8 220.4h.7M471.0 197.1h.7M457.8 193.1h.7M456.4 200.5h.7M464.1 218.1h.7M475.8 205.5h.7M466.4 210.4h.7M462.3 224.8h.7M465.7 221.7h.7M463.3 215.8h.7M464.6 207.7h.7M457.3 205.2h.7M461.6 205.3h.7M459.5 202.6h.7M466.7 206.5h.7M460.8 206.7h.7M469.4 204.0h.7M470.0 201.3h.7M470.7 213.7h.7M458.6 212.4h.7M468.3 200.5h.7M460.1 211.2h.7M460.3 206.1h.7M461.6 211.2h.7M466.2 221.0h.7M459.6 233.2h.7M459.5 223.5h.7M460.7 196.3h.7M458.9 205.6h.7M457.7 207.4h.7M465.5 211.9h.7M466.7 207.2h.7M460.1 218.7h.7M471.8 211.7h.7M462.4 201.3h.7M474.1 211.9h.7M465.2 195.1h.7M465.2 229.0h.7M460.5 206.8h.7M470.7 207.0h.7M466.6 224.9h.7M454.5 201.6h.7M465.6 209.5h.7M461.8 207.1h.7M462.3 211.5h.7M458.7 206.2h.7M462.9 199.4h.7M465.4 207.5h.7M454.5 219.9h.7M454.5 225.9h.7M457.2 218.7h.7M461.1 222.1h.7M460.2 217.2h.7M459.6 192.8h.7M463.9 212.5h.7M463.9 222.6h.7M457.1 196.5h.7M463.1 202.7h.7M460.9 208.5h.7M456.6 217.7h.7M460.8 223.6h.7M463.0 217.4h.7M459.8 203.0h.7M458.4 201.1h.7M464.2 209.7h.7M455.1 195.6h.7M456.4 193.2h.7M456.2 195.8h.7M465.7 198.8h.7M458.0 207.5h.7M461.7 212.1h.7M466.1 213.9h.7M459.5 219.1h.7M463.7 202.6h.7M470.5 198.6h.7M464.4 219.1h.7M462.2 211.4h.7M462.3 214.1h.7M462.9 208.6h.7M463.0 206.0h.7M473.2 211.0h.7M457.6 214.0h.7M459.2 198.5h.7M459.9 212.8h.7M468.6 217.4h.7M462.9 207.2h.7M462.7 218.7h.7M460.8 218.3h.7M456.8 208.4h.7M466.1 214.4h.7M462.7 204.2h.7M450.9 204.8h.7M456.5 205.1h.7M470.9 202.0h.7M466.6 208.4h.7M455.0 209.4h.7M466.0 198.5h.7M454.6 205.3h.7M465.8 203.5h.7M464.0 212.4h.7M461.6 212.3h.7M469.1 206.9h.7M463.5 199.6h.7M457.3 207.7h.7M466.3 202.9h.7M453.3 216.3h.7M455.2 209.5h.7M464.4 200.6h.7M463.5 217.8h.7M459.9 214.7h.7M462.3 200.7h.7M457.9 203.4h.7M469.4 218.2h.7M463.0 195.4h.7M458.6 205.1h.7M450.1 208.4h.7M463.2 197.4h.7M459.0 204.7h.7M472.4 214.1h.7M466.1 209.2h.7M454.0 216.3h.7M465.8 205.6h.7M461.5 212.8h.7M460.2 212.0h.7M469.1 205.8h.7M459.4 208.7h.7M465.3 205.2h.7M462.0 202.8h.7M461.1 213.1h.7M456.7 207.0h.7M452.9 202.6h.7M462.0 213.0h.7M455.5 207.7h.7M456.1 211.2h.7M463.1 212.2h.7M460.3 196.6h.7M458.2 197.3h.7M457.5 208.0h.7M467.8 203.1h.7M457.0 210.2h.7M449.4 225.2h.7M452.5 217.0h.7M467.3 216.6h.7M460.9 214.6h.7M459.5 216.6h.7M457.7 201.7h.7M463.7 204.7h.7M465.4 201.3h.7M463.1 200.3h.7M460.9 226.5h.7M455.2 198.2h.7M452.1 206.6h.7M471.0 204.7h.7M467.0 207.0h.7M457.8 225.3h.7M467.8 193.1h.7M455.8 212.0h.7M465.3 206.6h.7M463.3 213.0h.7M459.5 216.9h.7M456.6 214.8h.7M466.9 210.2h.7M459.5 208.4h.7M448.6 210.6h.7M466.0 200.9h.7M463.6 208.9h.7M451.3 201.0h.7M459.9 212.4h.7M461.9 197.9h.7M458.4 209.4h.7M454.1 204.8h.7M471.6 215.9h.7M458.8 216.4h.7M455.4 221.3h.7M459.3 209.7h.7M458.1 209.3h.7M463.4 208.8h.7M456.7 214.8h.7M464.8 208.5h.7M467.6 202.3h.7M468.9 207.2h.7M470.3 204.8h.7M460.0 210.3h.7M467.9 220.6h.7M458.9 202.4h.7M465.9 218.9h.7M465.6 205.8h.7M468.9 208.3h.7M462.5 213.7h.7M462.8 214.5h.7M464.1 213.0h.7M462.5 217.2h.7M462.2 221.0h.7M461.8 215.2h.7M458.3 211.0h.7M464.0 209.7h.7M470.5 208.9h.7M468.0 211.5h.7M467.9 201.0h.7M459.4 216.6h.7M456.8 211.8h.7M464.8 210.1h.7M464.0 213.0h.7M460.1 212.0h.7M458.5 204.7h.7M452.3 207.6h.7M451.6 208.7h.7M462.7 199.4h.7M461.9 210.9h.7M459.5 200.9h.7M460.9 211.9h.7M466.9 224.7h.7M450.0 211.4h.7M464.0 203.2h.7M463.4 226.0h.7M462.2 219.9h.7M467.7 204.8h.7M448.1 218.2h.7M470.4 193.8h.7M460.4 202.7h.7M462.7 209.0h.7M468.1 203.6h.7M472.7 194.2h.7M462.8 231.0h.7M460.9 213.8h.7M458.8 236.2h.7M466.7 205.6h.7M450.4 210.3h.7M458.7 213.2h.7M447.6 206.9h.7M452.3 197.3h.7M463.9 218.0h.7M468.3 203.0h.7M464.5 193.6h.7M452.9 213.1h.7M459.2 200.0h.7M450.7 206.5h.7M455.4 217.9h.7M450.4 203.3h.7M461.9 218.0h.7M461.1 223.8h.7M461.3 207.6h.7M464.1 211.5h.7M452.8 200.5h.7M460.1 211.4h.7M454.4 202.5h.7M457.2 211.4h.7M459.0 213.6h.7M463.8 200.8h.7M459.8 198.1h.7M462.1 215.3h.7M455.8 193.6h.7M464.5 206.1h.7M461.3 212.4h.7M463.7 216.3h.7M458.7 205.9h.7M459.1 211.8h.7M460.1 219.4h.7M457.8 208.4h.7M459.4 226.3h.7M455.9 200.1h.7M459.3 214.9h.7M461.6 207.0h.7M460.3 206.5h.7M471.8 211.6h.7M464.0 216.7h.7M456.3 198.1h.7M459.4 221.0h.7M467.3 203.6h.7M454.2 216.3h.7M467.9 199.2h.7M470.9 202.0h.7M465.9 206.8h.7M459.6 203.3h.7M465.6 213.7h.7M466.2 206.1h.7M456.5 226.6h.7M471.5 206.9h.7M454.8 221.2h.7M462.3 209.0h.7M466.5 211.5h.7M462.2 225.3h.7M450.4 213.9h.7M455.7 209.1h.7M460.5 210.7h.7M447.4 214.4h.7M475.2 205.0h.7M466.8 213.8h.7M463.2 204.3h.7M465.2 210.8h.7M470.0 215.5h.7M470.4 212.6h.7M462.5 203.4h.7M476.2 219.8h.7M462.1 205.4h.7M464.9 220.0h.7M464.6 216.5h.7M463.0 211.5h.7M454.0 209.5h.7M461.8 207.9h.7M460.1 211.1h.7M458.1 206.8h.7M453.8 228.1h.7M456.2 198.3h.7M458.3 205.0h.7M471.2 217.1h.7M459.3 213.2h.7M454.9 194.8h.7M463.5 213.4h.7M457.4 208.5h.7M443.3 207.4h.7M467.8 209.9h.7M462.6 213.4h.7M449.1 197.6h.7M454.0 210.6h.7M466.8 206.9h.7M467.4 225.5h.7M451.7 197.7h.7M467.9 220.4h.7M463.9 211.6h.7M465.6 214.1h.7M453.9 214.8h.7M467.4 205.1h.7M456.1 204.4h.7M458.0 213.0h.7M466.1 208.7h.7M459.7 193.5h.7M459.0 200.1h.7M458.2 211.4h.7M462.5 238.2h.7M456.3 204.0h.7M454.7 206.3h.7M459.8 217.0h.7M449.9 216.2h.7M465.3 204.1h.7M457.4 210.2h.7M464.6 207.2h.7M460.6 208.7h.7M455.0 210.8h.7M464.9 208.9h.7M454.7 208.5h.7M460.8 211.2h.7M459.0 215.5h.7M468.0 215.5h.7M462.9 218.8h.7M461.2 207.1h.7M453.0 208.7h.7M468.7 200.5h.7M466.1 197.8h.7M463.3 223.9h.7M461.8 198.7h.7M463.2 207.3h.7M466.2 204.1h.7M451.2 204.5h.7M465.0 217.1h.7M463.1 208.7h.7M465.6 206.9h.7M458.8 210.4h.7M468.0 204.3h.7M464.4 203.2h.7M457.1 210.0h.7M453.5 201.4h.7M454.4 203.5h.7M456.0 228.0h.7M465.1 209.1h.7M464.1 203.3h.7M467.7 205.2h.7M453.7 203.2h.7M452.4 196.7h.7M465.7 204.1h.7M465.6 203.9h.7M460.1 203.9h.7M458.2 203.0h.7M470.4 208.1h.7M449.8 222.6h.7M468.9 217.9h.7M460.8 207.2h.7M458.6 209.6h.7M464.3 208.5h.7M456.6 200.5h.7M471.4 222.5h.7M454.1 203.2h.7M461.2 213.4h.7M460.8 210.5h.7M463.6 218.0h.7M453.7 217.6h.7M464.1 213.0h.7M452.4 206.6h.7M459.9 213.8h.7M465.5 214.2h.7M449.7 230.0h.7M462.5 225.8h.7M461.8 205.1h.7M486.7 222.4h.7M469.1 208.2h.7M459.8 228.1h.7M466.1 236.1h.7M473.3 200.4h.7M447.3 228.7h.7M467.6 210.8h.7M459.1 207.0h.7M478.9 212.0h.7M448.8 225.5h.7M461.1 218.5h.7M458.3 213.6h.7M444.1 220.8h.7M455.4 209.2h.7M464.9 230.1h.7M441.5 212.4h.7M467.0 226.8h.7M453.3 218.1h.7M465.6 225.8h.7M456.0 211.7h.7M457.0 228.4h.7M472.1 208.5h.7M460.6 216.8h.7M453.3 212.7h.7M470.0 223.8h.7M455.4 205.9h.7M460.8 195.7h.7M464.8 215.6h.7M449.2 211.2h.7M455.6 210.7h.7M453.6 231.1h.7M452.7 223.6h.7M463.8 232.1h.7M461.3 214.1h.7M484.6 211.5h.7M458.9 200.1h.7M460.5 234.2h.7M454.7 219.6h.7M471.6 225.9h.7M465.7 221.2h.7M458.7 208.8h.7M478.4 194.5h.7M457.0 206.6h.7M447.0 205.5h.7M454.3 229.6h.7M445.3 197.1h.7M464.3 194.9h.7M442.8 206.4h.7M450.4 202.1h.7M460.3 219.8h.7M455.7 210.7h.7M468.6 212.3h.7M468.8 206.9h.7M466.5 229.9h.7M448.7 251.2h.7M458.8 210.0h.7M460.3 219.9h.7M450.4 214.6h.7M456.3 231.8h.7M445.5 222.2h.7M458.8 204.9h.7M463.1 211.2h.7M462.2 217.1h.7M473.2 209.2h.7M479.1 229.2h.7M476.6 216.6h.7M464.5 201.7h.7M474.5 199.9h.7M454.3 214.2h.7M464.0 218.4h.7M450.8 209.9h.7M466.5 228.8h.7M469.1 219.3h.7M459.4 207.5h.7M457.0 213.0h.7M466.8 208.0h.7M481.3 201.8h.7M469.5 211.7h.7M460.5 209.5h.7M476.4 210.5h.7M467.0 215.6h.7M468.9 221.4h.7M477.5 205.2h.7M454.0 235.0h.7M473.9 215.1h.7M459.1 217.3h.7M474.2 204.8h.7M475.6 213.5h.7M458.4 209.3h.7M442.0 218.1h.7M449.4 207.3h.7M453.3 217.1h.7M468.7 214.7h.7M463.6 219.2h.7M477.0 221.3h.7M476.7 213.4h.7M465.2 206.2h.7M467.4 203.7h.7M466.3 206.4h.7M458.5 229.2h.7M463.2 223.9h.7M475.8 212.0h.7M455.7 225.8h.7M451.1 205.1h.7M472.7 205.7h.7M472.5 210.4h.7M459.8 215.0h.7M457.1 227.3h.7M472.2 215.0h.7M467.6 220.8h.7M477.8 194.8h.7M471.5 225.4h.7M458.9 214.4h.7M458.6 229.4h.7M451.0 221.6h.7M474.0 221.2h.7M457.3 208.6h.7M441.8 201.6h.7M472.2 202.6h.7M446.3 211.2h.7M447.7 219.8h.7M453.6 225.9h.7M460.7 196.8h.7M454.5 206.3h.7M453.8 229.3h.7M452.3 218.7h.7M456.3 221.4h.7M448.3 195.0h.7M466.7 231.7h.7M448.7 210.4h.7M457.0 202.8h.7M471.0 214.8h.7M448.7 211.6h.7M474.5 205.5h.7M457.0 204.1h.7M463.4 207.4h.7M470.3 204.0h.7M448.0 219.7h.7M464.5 217.2h.7M456.4 208.8h.7M466.8 259.8h.7M454.2 212.0h.7M457.5 221.0h.7M461.9 221.0h.7M477.3 210.9h.7M459.1 218.8h.7M481.7 209.8h.7M477.8 228.7h.7M452.5 219.1h.7M474.4 214.9h.7M463.4 240.8h.7M465.2 240.6h.7M453.4 234.4h.7M454.0 208.4h.7M461.4 223.5h.7M468.4 220.6h.7M454.8 236.1h.7M473.2 214.7h.7M456.4 213.6h.7M459.7 205.7h.7M461.8 206.1h.7M467.9 206.2h.7M466.5 218.1h.7M463.4 220.6h.7M452.1 245.8h.7M455.3 223.2h.7M462.1 208.9h.7M478.4 227.7h.7M459.3 221.1h.7M468.3 233.6h.7M471.5 212.2h.7M459.5 199.9h.7M464.4 224.8h.7M458.2 222.4h.7M463.1 208.5h.7M450.3 227.9h.7M485.9 220.9h.7M451.6 201.5h.7M464.3 222.2h.7M479.4 216.2h.7M463.2 219.0h.7M458.5 210.7h.7M471.9 192.9h.7M460.8 221.1h.7M446.2 212.2h.7M476.4 218.8h.7M468.6 222.9h.7M464.0 218.6h.7M454.2 211.6h.7M479.4 199.1h.7M460.3 198.6h.7M456.8 204.7h.7M450.3 217.2h.7M452.9 220.7h.7M460.7 218.8h.7M463.9 229.1h.7M463.4 192.9h.7M476.2 202.5h.7M461.0 218.2h.7M453.6 215.3h.7M476.1 193.4h.7M446.1 208.7h.7M460.3 198.4h.7M465.6 197.8h.7M467.4 213.4h.7M463.5 197.7h.7M459.9 220.1h.7M445.3 201.2h.7M471.1 238.8h.7M468.2 213.3h.7M451.6 209.2h.7M459.5 219.6h.7M459.5 244.8h.7M450.8 214.1h.7M471.3 219.2h.7M474.8 221.5h.7M486.3 224.1h.7M466.3 233.1h.7M457.7 207.4h.7M452.3 217.2h.7M466.1 225.8h.7M475.7 221.9h.7M473.7 211.1h.7M452.8 223.2h.7M471.6 230.8h.7M460.4 208.3h.7M458.5 218.6h.7M461.5 211.9h.7M464.4 210.5h.7M465.2 206.7h.7M447.3 210.3h.7M480.0 204.1h.7M470.7 230.9h.7M456.8 217.3h.7M476.6 216.4h.7M443.0 206.9h.7M454.9 215.5h.7M464.7 209.0h.7M459.0 204.0h.7M467.4 216.6h.7M465.3 207.9h.7M466.7 210.4h.7M464.8 212.1h.7M455.7 200.5h.7M444.2 197.1h.7M466.4 254.7h.7M446.3 204.0h.7M461.9 258.6h.7M460.0 199.6h.7M466.0 240.1h.7M473.8 199.6h.7M461.0 206.2h.7M469.3 196.0h.7M464.9 216.8h.7M467.4 219.4h.7M458.9 202.3h.7M467.0 211.2h.7M463.4 227.9h.7M461.0 235.2h.7M469.9 195.5h.7M456.4 229.3h.7M457.2 229.1h.7M456.6 212.6h.7M471.8 194.3h.7M462.7 208.4h.7M463.6 235.5h.7M466.7 197.1h.7M471.1 208.4h.7M463.6 228.6h.7M459.0 226.1h.7M463.7 202.7h.7M459.0 197.0h.7M473.2 216.1h.7M471.2 200.1h.7M470.1 199.1h.7M464.7 213.9h.7M456.4 217.9h.7M462.3 203.2h.7M454.9 197.7h.7M475.0 215.9h.7M458.5 222.7h.7M453.8 199.4h.7M465.4 234.0h.7M464.9 216.0h.7M478.6 194.6h.7M491.1 200.2h.7M461.3 197.2h.7M450.4 211.0h.7M485.2 202.2h.7M456.1 217.4h.7M452.3 210.8h.7M459.1 210.3h.7M457.1 212.5h.7M444.9 208.5h.7M457.0 201.1h.7M474.0 239.2h.7M469.6 203.1h.7M475.5 220.3h.7M454.2 221.6h.7M456.5 221.2h.7M470.7 228.6h.7M452.0 212.4h.7M462.0 198.6h.7M465.9 222.7h.7M448.9 207.1h.7M451.5 198.0h.7M451.9 231.3h.7M455.7 209.0h.7M471.4 226.9h.7M456.0 208.8h.7M456.6 238.8h.7M460.4 228.8h.7M460.3 213.3h.7M466.9 219.6h.7M466.8 218.0h.7M467.7 213.3h.7M465.9 197.6h.7M472.8 198.7h.7M475.3 226.8h.7M461.4 210.3h.7M469.4 210.2h.7M450.7 217.5h.7M450.4 208.2h.7M479.1 224.2h.7M457.7 213.1h.7M455.8 213.9h.7M448.2 222.6h.7M462.1 206.3h.7M456.1 247.2h.7M457.8 208.0h.7M456.5 207.8h.7M474.4 222.6h.7M466.0 218.6h.7M476.3 223.1h.7M464.1 217.5h.7M463.9 214.3h.7M467.4 214.6h.7M471.3 217.9h.7M459.3 221.6h.7M463.8 208.4h.7M458.4 208.7h.7M459.2 208.4h.7M471.3 250.9h.7M460.9 228.2h.7M457.5 212.0h.7M455.0 196.8h.7M453.9 207.5h.7M463.5 209.7h.7M450.6 209.3h.7M476.4 202.9h.7M462.6 226.7h.7M454.3 206.8h.7M489.5 229.7h.7M457.0 216.0h.7M463.0 215.9h.7M466.4 210.2h.7M440.9 201.8h.7M463.4 196.7h.7M458.9 233.0h.7M464.3 205.7h.7M463.3 227.3h.7M445.7 198.2h.7M455.7 208.5h.7M461.2 206.7h.7M463.0 215.1h.7M450.9 206.1h.7M450.2 217.6h.7M464.5 222.3h.7M453.7 207.3h.7M440.9 214.1h.7M446.6 218.4h.7M472.2 219.6h.7M468.0 216.9h.7M465.5 225.9h.7M474.0 239.5h.7M459.5 224.5h.7M470.2 219.4h.7M464.5 198.0h.7M472.3 202.8h.7M455.8 203.2h.7M467.3 201.8h.7M466.3 221.1h.7M463.0 209.7h.7M467.6 230.5h.7M457.6 200.7h.7M456.3 202.9h.7M459.7 212.0h.7M454.3 208.6h.7M452.4 216.9h.7M464.1 233.1h.7M459.3 225.6h.7M464.9 202.3h.7M471.4 206.3h.7M465.4 208.9h.7M459.9 215.9h.7M474.5 192.8h.7M451.4 215.3h.7M471.2 211.6h.7M460.2 220.6h.7M476.9 202.6h.7M446.9 210.4h.7M469.3 197.4h.7M472.7 225.8h.7M469.5 203.3h.7M449.7 222.3h.7M464.5 222.7h.7M472.6 226.6h.7M459.4 213.9h.7M466.3 223.4h.7M460.2 207.5h.7M452.7 226.9h.7M465.2 206.8h.7M449.9 207.5h.7M449.9 208.3h.7M456.8 220.4h.7M456.3 196.7h.7M469.0 211.4h.7M446.1 203.0h.7M461.7 213.5h.7M444.5 212.4h.7M464.8 226.4h.7M472.4 212.4h.7M449.7 209.3h.7M468.2 202.4h.7M473.9 201.9h.7M451.3 224.4h.7M461.0 218.0h.7M459.1 214.4h.7M456.5 237.8h.7M468.2 212.4h.7M466.5 224.5h.7M457.0 216.2h.7M463.9 206.9h.7M454.7 211.5h.7M459.1 208.9h.7M443.6 214.9h.7M468.2 214.9h.7M478.2 224.8h.7M458.6 205.5h.7M466.7 209.3h.7M446.7 215.5h.7M459.2 211.2h.7M467.8 216.4h.7M481.2 204.7h.7M461.1 217.9h.7M457.8 207.5h.7M478.6 195.7h.7M450.9 228.3h.7M476.6 215.6h.7M464.3 200.1h.7M458.6 197.4h.7M461.1 212.9h.7M463.2 223.9h.7M450.9 198.2h.7M458.5 208.5h.7M461.6 231.2h.7M462.2 200.5h.7M459.1 203.0h.7M459.7 221.3h.7M451.3 222.8h.7M478.9 233.1h.7M477.4 215.1h.7M449.2 239.1h.7M461.5 216.9h.7M458.6 202.2h.7M467.8 196.5h.7M449.0 220.9h.7M458.5 203.5h.7M466.7 231.8h.7M459.3 212.3h.7M467.3 225.7h.7M471.8 222.5h.7M455.7 220.7h.7M462.1 192.7h.7M473.7 221.2h.7M475.0 213.2h.7M468.9 213.1h.7M463.5 225.4h.7M462.5 221.6h.7M461.7 229.3h.7M468.2 193.3h.7M477.7 219.5h.7M457.2 206.2h.7M480.8 215.1h.7M466.8 221.4h.7M456.3 235.9h.7M481.9 204.3h.7M472.7 193.6h.7M458.8 214.8h.7M462.5 221.1h.7M465.8 218.7h.7M460.7 217.8h.7M456.8 238.5h.7M462.6 229.5h.7M463.0 212.1h.7M460.3 197.9h.7M481.6 219.2h.7M463.2 208.2h.7M474.1 209.9h.7M457.7 207.3h.7M476.6 217.9h.7M460.6 206.0h.7M474.1 217.6h.7M458.9 225.2h.7M470.3 201.6h.7M472.9 227.6h.7M459.7 197.4h.7M472.3 209.7h.7M460.1 210.4h.7M459.5 224.4h.7M451.7 220.6h.7M472.9 227.1h.7M468.8 217.3h.7M460.2 212.5h.7M453.8 234.8h.7M460.9 201.5h.7M469.9 232.8h.7M464.7 210.1h.7M451.6 222.0h.7M459.8 205.8h.7M467.7 198.0h.7M456.3 196.3h.7M459.8 223.9h.7M449.8 230.9h.7M455.7 208.0h.7M471.4 205.0h.7M475.7 211.5h.7M461.2 202.1h.7M472.8 213.2h.7M457.5 202.3h.7M456.1 212.8h.7M455.4 223.9h.7M461.7 206.4h.7M466.4 231.7h.7M442.6 218.5h.7M472.2 215.7h.7M469.8 195.0h.7M455.1 226.5h.7M461.2 214.8h.7M468.0 218.6h.7M466.3 207.9h.7M459.3 230.2h.7M457.5 196.2h.7M458.8 225.1h.7M478.8 215.9h.7M456.3 221.5h.7M464.9 228.6h.7M467.0 223.3h.7M466.9 219.2h.7M453.7 212.0h.7M477.0 230.4h.7M471.1 218.9h.7M461.1 218.3h.7M459.1 227.4h.7M459.3 204.7h.7M447.2 233.2h.7M455.2 203.4h.7M465.9 236.2h.7M468.4 209.9h.7M467.4 203.9h.7M459.9 214.4h.7M462.3 223.6h.7M467.2 237.2h.7M469.9 210.5h.7M464.6 203.6h.7M456.5 209.8h.7M471.6 205.5h.7M447.8 201.6h.7M451.1 211.8h.7M459.4 199.7h.7M454.9 208.9h.7M465.9 221.6h.7M474.5 210.9h.7M468.1 215.0h.7M452.2 206.2h.7M482.5 212.1h.7M477.5 224.2h.7M477.6 211.7h.7M470.9 210.3h.7M452.1 199.7h.7M466.4 194.2h.7M465.7 203.3h.7M465.6 197.2h.7M470.2 211.2h.7M448.2 196.4h.7M462.9 193.9h.7M465.4 220.0h.7M456.3 231.2h.7M475.7 217.9h.7M466.5 219.8h.7M459.9 230.1h.7M462.5 219.4h.7M469.9 200.5h.7M475.2 204.0h.7M468.2 223.0h.7M464.0 228.0h.7M457.8 239.2h.7M466.9 208.9h.7M486.3 214.0h.7M447.5 231.5h.7M476.6 206.9h.7M453.3 227.9h.7M462.9 202.2h.7M457.9 214.9h.7M471.4 233.3h.7M456.7 232.9h.7M448.5 222.8h.7M461.1 219.4h.7M458.4 205.3h.7M465.0 227.9h.7M442.0 214.7h.7M458.7 200.9h.7M450.0 220.4h.7M467.5 222.0h.7M444.1 195.3h.7M456.8 208.7h.7M478.6 209.3h.7M463.6 226.3h.7M477.7 218.6h.7M465.5 237.8h.7M455.5 210.2h.7M474.4 217.9h.7M473.5 215.3h.7M462.8 206.9h.7M451.1 220.3h.7M465.7 221.1h.7M457.5 208.9h.7M465.9 221.5h.7M480.7 203.3h.7M471.5 224.9h.7M460.0 215.7h.7M461.9 232.8h.7M485.8 218.0h.7M460.1 225.7h.7M466.9 211.8h.7M469.3 224.8h.7M458.8 224.5h.7M441.8 198.2h.7M459.6 216.0h.7M449.0 232.2h.7M458.9 215.9h.7M462.0 223.3h.7M457.1 223.2h.7M454.8 195.8h.7M467.1 216.0h.7M463.4 206.1h.7M460.7 209.2h.7M459.0 205.8h.7M471.8 192.8h.7M447.0 218.3h.7M480.9 204.6h.7M454.1 199.6h.7M453.0 229.4h.7M468.7 225.1h.7M465.6 216.9h.7M457.1 202.1h.7M468.1 244.6h.7M459.0 229.7h.7M455.9 214.5h.7M478.0 213.1h.7M468.2 207.1h.7M479.7 198.9h.7M467.6 211.1h.7M464.2 218.5h.7M474.5 224.8h.7M472.1 218.6h.7M452.6 230.6h.7M476.5 220.0h.7M469.7 211.2h.7M449.2 226.2h.7M455.7 237.7h.7M468.7 213.8h.7M456.8 215.4h.7M453.1 209.4h.7M477.1 210.4h.7M479.3 212.8h.7M466.2 202.6h.7M459.6 208.5h.7M449.6 237.9h.7M467.8 213.0h.7M452.3 214.4h.7M452.7 202.1h.7M460.7 240.7h.7M446.4 220.9h.7M449.4 212.4h.7M462.9 204.7h.7M478.7 220.6h.7M456.6 193.7h.7M464.0 205.7h.7M471.8 201.1h.7M473.4 208.3h.7M464.2 210.7h.7M468.1 228.2h.7M457.4 202.8h.7M479.8 225.8h.7M479.9 225.9h.7M463.6 234.2h.7M456.2 208.7h.7M458.7 222.5h.7M454.5 211.8h.7M454.6 211.1h.7M472.7 227.8h.7M460.3 245.6h.7M455.9 219.7h.7M451.4 229.4h.7M447.1 250.3h.7M461.2 217.4h.7M473.9 214.4h.7M456.5 206.5h.7M453.6 220.9h.7M458.0 220.4h.7M448.5 208.7h.7M481.3 218.5h.7M461.4 228.7h.7M464.9 233.0h.7M451.6 223.5h.7M452.5 222.5h.7M485.0 233.0h.7M454.4 219.2h.7M466.5 205.1h.7M464.5 200.8h.7M471.2 225.4h.7M460.8 222.6h.7M484.3 212.0h.7M445.0 218.2h.7M458.1 204.3h.7M470.6 226.5h.7M467.8 234.3h.7M456.5 208.9h.7M460.3 214.8h.7M453.4 216.8h.7M472.0 206.2h.7M467.5 212.1h.7M460.8 215.5h.7M476.2 220.5h.7M468.6 215.9h.7M442.4 225.7h.7M462.1 215.2h.7M457.6 194.9h.7M476.0 236.8h.7M467.3 199.4h.7M460.5 207.6h.7M456.5 204.4h.7M457.8 223.7h.7M477.1 225.6h.7M462.1 212.2h.7M460.0 213.8h.7M456.5 211.8h.7M470.1 211.2h.7M454.7 212.5h.7M463.0 213.0h.7M459.8 222.8h.7M461.8 201.5h.7M467.5 205.2h.7M469.4 224.2h.7M466.7 217.9h.7M449.7 211.6h.7M463.4 222.0h.7M451.8 212.1h.7M447.9 216.2h.7M462.9 215.5h.7M477.5 223.2h.7M460.4 206.8h.7M458.1 223.8h.7M470.7 207.8h.7M461.1 208.6h.7M468.6 216.4h.7M455.5 203.0h.7M474.3 196.6h.7M481.1 207.3h.7M470.1 221.0h.7M470.0 228.2h.7M457.8 213.8h.7M471.3 221.0h.7M455.1 204.6h.7M448.7 217.3h.7M457.2 194.7h.7M457.0 218.1h.7M463.9 211.3h.7M463.7 222.1h.7M451.0 203.9h.7M471.2 223.2h.7M449.1 205.0h.7M475.7 223.4h.7M460.8 226.7h.7M475.0 231.6h.7M449.2 197.9h.7M457.4 213.4h.7M458.9 217.1h.7M476.0 227.7h.7M471.4 214.0h.7M477.6 219.7h.7M464.4 213.8h.7M445.0 240.8h.7M462.0 225.2h.7M483.4 211.7h.7M451.3 226.7h.7M464.4 202.3h.7M471.2 214.2h.7M452.9 218.8h.7M452.5 226.1h.7M482.8 218.0h.7M464.3 213.1h.7M470.2 214.4h.7M471.9 231.7h.7M470.2 202.1h.7M468.4 210.8h.7M465.1 226.1h.7M456.0 216.6h.7M475.9 203.7h.7M460.4 223.0h.7M460.0 226.8h.7M452.7 195.4h.7M465.7 212.3h.7M465.1 226.0h.7M472.0 209.7h.7M453.0 217.1h.7M464.2 195.7h.7M469.5 213.5h.7M472.5 209.7h.7M471.2 200.3h.7M444.8 204.1h.7M468.7 219.1h.7M444.5 215.9h.7M468.5 234.8h.7M469.5 220.4h.7M447.3 218.7h.7M443.7 210.4h.7M458.7 202.0h.7M452.7 212.3h.7M467.6 206.1h.7M465.0 222.8h.7M462.0 237.7h.7M459.2 205.0h.7M444.3 227.3h.7M468.5 211.8h.7M465.1 212.4h.7M470.4 213.9h.7M464.3 213.1h.7M467.3 198.7h.7M465.9 221.9h.7M479.9 204.9h.7M463.6 225.7h.7M455.9 206.8h.7M466.4 239.5h.7M472.3 225.8h.7M453.1 222.2h.7M472.9 198.5h.7M462.3 211.7h.7M468.8 214.0h.7M442.7 207.3h.7M468.3 219.3h.7M469.2 193.1h.7M464.1 230.6h.7M447.6 222.1h.7M455.3 220.8h.7M463.1 194.0h.7M452.3 229.7h.7M461.1 229.3h.7M465.3 225.0h.7M458.4 216.7h.7M458.7 225.2h.7M456.7 227.7h.7M476.9 199.1h.7M460.6 220.7h.7M478.8 228.2h.7M463.0 192.7h.7M470.1 206.8h.7M464.0 219.0h.7M448.9 227.1h.7M470.8 221.1h.7M467.8 218.4h.7M449.0 207.8h.7M469.8 210.0h.7M462.4 218.6h.7M463.0 217.2h.7M466.7 214.1h.7M451.8 210.7h.7M471.1 205.7h.7M466.6 217.8h.7M462.0 204.5h.7M456.2 225.5h.7M454.9 218.3h.7M463.2 216.5h.7M471.2 212.3h.7M459.5 205.8h.7M462.5 214.6h.7M453.5 234.1h.7M455.2 212.4h.7M450.2 215.9h.7M465.5 227.3h.7M471.3 207.9h.7M477.2 212.7h.7M476.7 235.0h.7M458.4 200.8h.7M467.2 231.7h.7M465.9 227.5h.7M467.7 224.9h.7M474.6 210.4h.7M448.9 212.6h.7M454.7 199.4h.7M460.6 222.8h.7M444.8 195.5h.7M469.6 203.1h.7M458.5 230.6h.7M472.7 218.4h.7M467.3 218.7h.7M449.1 216.3h.7M466.4 212.6h.7M469.5 224.8h.7M462.6 211.0h.7M451.1 228.0h.7M456.8 217.9h.7M476.5 223.5h.7M450.2 213.0h.7M455.4 193.9h.7M454.6 221.2h.7M465.3 211.5h.7M463.8 199.7h.7M454.9 212.0h.7M469.6 210.1h.7M460.6 218.1h.7M475.9 198.6h.7M467.1 216.3h.7M461.5 217.0h.7M443.5 214.4h.7M459.9 198.9h.7M470.0 212.6h.7M458.9 223.3h.7M453.5 205.2h.7M469.8 224.7h.7M481.0 208.4h.7M448.5 195.8h.7M450.9 215.3h.7M459.9 205.8h.7M452.7 205.5h.7M458.7 228.6h.7M468.0 230.8h.7M469.8 223.3h.7M473.1 219.5h.7M476.5 227.9h.7M479.1 216.7h.7M454.9 244.8h.7M459.5 220.4h.7M458.6 205.5h.7M466.2 200.3h.7M460.6 231.3h.7M463.3 224.1h.7M468.1 218.7h.7M463.1 221.5h.7M453.0 221.1h.7M452.0 204.8h.7M456.6 197.7h.7M443.7 218.7h.7M466.8 222.1h.7M482.8 216.2h.7M469.1 204.9h.7M468.7 200.1h.7M480.5 202.2h.7M458.2 223.2h.7M441.5 230.4h.7M453.2 216.4h.7M471.3 215.9h.7M470.8 207.9h.7M476.2 205.9h.7M454.0 214.2h.7M478.0 205.4h.7M461.9 209.6h.7M453.3 198.0h.7M467.6 222.7h.7M455.0 216.8h.7M466.3 218.7h.7M460.5 214.6h.7M464.6 201.0h.7M460.7 223.7h.7M456.8 230.1h.7M459.8 200.5h.7M459.3 197.5h.7M467.8 194.5h.7M462.2 211.1h.7M459.2 219.2h.7M464.7 207.2h.7M469.7 208.5h.7M470.5 230.4h.7M465.6 225.4h.7M449.5 220.9h.7M448.1 211.9h.7M454.7 204.6h.7M453.2 214.3h.7M468.0 199.9h.7M447.9 219.7h.7M470.2 204.1h.7M465.3 204.5h.7M472.0 235.4h.7M456.0 208.2h.7M476.7 233.2h.7M461.9 221.8h.7M447.1 210.4h.7M459.3 212.2h.7M464.8 194.9h.7M452.3 240.2h.7M445.8 214.7h.7M468.8 220.0h.7M462.6 194.3h.7M457.6 194.9h.7M480.4 218.4h.7M468.8 216.5h.7M458.4 228.5h.7M470.3 221.8h.7M467.5 223.0h.7M459.4 219.3h.7M462.8 210.9h.7M468.1 240.2h.7M443.0 231.6h.7M457.9 228.7h.7M452.5 211.7h.7M471.6 213.1h.7M465.3 199.2h.7M451.3 234.4h.7M463.5 212.9h.7M449.1 201.3h.7M452.3 213.4h.7M460.9 206.5h.7M455.7 215.4h.7M473.0 196.8h.7M448.7 227.8h.7M448.6 209.0h.7M463.1 236.3h.7M461.3 227.1h.7M463.3 204.1h.7M469.7 232.1h.7M460.1 224.0h.7M452.1 232.1h.7M456.0 204.2h.7M468.3 238.5h.7M448.6 211.6h.7M466.2 207.1h.7M447.4 218.1h.7M471.4 215.3h.7M452.0 210.3h.7M443.9 213.3h.7M473.4 227.6h.7M461.2 219.3h.7M457.1 215.6h.7M456.4 216.0h.7M457.2 216.4h.7M468.5 213.8h.7M449.9 220.1h.7M459.7 207.9h.7M467.3 203.8h.7M470.7 220.9h.7M455.5 205.5h.7M460.9 202.9h.7M463.4 209.7h.7M451.7 221.7h.7M457.5 219.6h.7M457.9 210.5h.7M466.9 225.7h.7M471.3 213.7h.7M475.9 209.9h.7M448.5 203.4h.7M445.3 218.0h.7M462.3 213.6h.7M464.2 212.7h.7M459.6 210.1h.7M462.4 200.2h.7M474.0 232.9h.7M462.3 242.0h.7M452.9 225.1h.7M446.9 221.4h.7M455.0 226.4h.7M463.1 225.7h.7M467.7 220.5h.7M459.5 233.6h.7M465.4 219.9h.7M475.4 210.8h.7M478.3 227.4h.7M462.8 196.2h.7M473.4 210.2h.7M462.9 215.5h.7M470.9 221.8h.7M445.0 205.9h.7M465.3 216.1h.7M469.5 221.0h.7M477.2 205.1h.7M474.2 218.7h.7M464.8 222.4h.7M458.9 222.8h.7M460.1 222.9h.7M454.9 228.4h.7M447.8 206.0h.7M461.6 217.0h.7M454.6 209.1h.7M464.4 226.9h.7M474.1 208.2h.7M461.4 210.2h.7M447.8 208.5h.7M472.6 197.5h.7M488.7 226.0h.7M478.2 216.3h.7M476.9 207.0h.7M473.9 223.3h.7M469.4 223.2h.7M467.5 222.0h.7M473.2 219.2h.7M467.9 219.3h.7M463.4 203.3h.7M445.3 201.6h.7M450.5 195.9h.7M468.5 210.0h.7M473.9 252.5h.7M469.3 208.3h.7M465.6 211.5h.7M464.7 239.7h.7M477.0 229.8h.7M464.7 236.0h.7M469.8 225.0h.7M451.2 206.5h.7M463.7 211.4h.7M455.1 212.7h.7M465.0 200.8h.7M460.8 236.3h.7M460.3 214.1h.7M473.9 216.4h.7M474.9 218.1h.7M473.0 230.7h.7M476.4 216.5h.7M468.1 262.4h.7M450.7 216.5h.7M466.5 205.4h.7M469.8 212.1h.7M469.5 216.4h.7M453.4 227.0h.7M480.8 225.5h.7M464.7 192.8h.7M465.1 213.7h.7M466.3 226.1h.7M468.7 242.2h.7M444.4 218.4h.7M461.8 231.6h.7M461.8 202.1h.7M461.6 219.4h.7M455.2 204.4h.7M464.6 224.9h.7M459.9 220.1h.7M457.4 209.8h.7M463.9 226.0h.7M476.9 212.5h.7M466.3 238.4h.7M469.9 209.6h.7M465.9 196.5h.7M442.6 204.6h.7M455.4 197.5h.7M471.7 208.5h.7M462.9 215.0h.7M460.2 199.6h.7M461.8 222.7h.7M460.2 212.8h.7M465.0 217.0h.7M459.0 227.4h.7M466.8 232.7h.7M446.8 207.7h.7M466.4 193.9h.7M456.9 229.5h.7M465.2 205.3h.7M461.1 215.5h.7M458.2 210.2h.7M456.2 216.8h.7M476.8 232.1h.7M450.6 242.8h.7M461.0 196.7h.7M448.3 215.9h.7M464.3 206.2h.7M454.7 211.4h.7M464.6 222.4h.7M456.6 217.3h.7M465.6 224.0h.7M448.4 233.5h.7M451.1 211.6h.7M457.8 208.2h.7M455.0 224.2h.7M469.4 218.4h.7M450.4 206.3h.7M461.6 219.0h.7M457.0 210.8h.7M486.4 214.8h.7M455.2 234.3h.7M470.0 199.3h.7M469.4 216.2h.7M454.8 223.9h.7M456.5 210.3h.7M462.4 216.7h.7M458.1 217.8h.7M462.2 216.5h.7M465.8 206.2h.7M449.5 213.2h.7M473.5 218.2h.7M464.2 204.9h.7M451.6 198.7h.7M453.7 209.5h.7M447.9 212.6h.7M447.7 222.2h.7M457.1 216.9h.7M465.7 223.7h.7M458.9 212.3h.7M460.0 220.8h.7M455.8 212.1h.7M463.5 209.8h.7M452.2 230.9h.7M466.8 202.8h.7M480.3 204.6h.7M454.1 209.5h.7M467.1 232.6h.7M474.8 220.9h.7M462.8 222.3h.7M454.9 205.4h.7M467.0 216.6h.7M464.3 201.5h.7M464.4 196.3h.7M470.7 214.2h.7M456.2 208.3h.7M487.7 252.8h.7M455.7 231.0h.7M462.3 217.3h.7M453.4 197.9h.7M464.3 208.6h.7M466.8 227.2h.7M461.1 220.7h.7M463.8 217.0h.7M457.4 217.1h.7M466.2 215.0h.7M458.0 196.1h.7M452.4 233.5h.7M471.5 217.8h.7M464.9 212.2h.7M468.4 226.0h.7M459.9 217.9h.7M471.0 194.5h.7M453.6 207.0h.7M451.5 208.7h.7M454.4 209.2h.7M466.6 199.6h.7M463.1 231.2h.7M463.9 199.0h.7M456.6 228.5h.7M459.8 206.3h.7M469.4 205.3h.7M452.0 221.7h.7M462.4 206.1h.7M466.5 227.8h.7M472.1 215.4h.7M466.4 220.2h.7M448.6 234.7h.7M456.1 207.2h.7M454.7 202.2h.7M472.2 214.2h.7M463.7 213.5h.7M452.7 212.9h.7M445.5 222.1h.7M451.0 220.3h.7M451.9 206.0h.7M469.4 221.5h.7M468.0 234.8h.7M459.6 207.8h.7M445.0 201.3h.7M467.3 203.7h.7M454.2 225.9h.7M466.5 214.0h.7M470.5 209.9h.7M461.1 231.6h.7M456.8 219.3h.7M468.0 212.7h.7M495.5 218.0h.7M495.0 192.7h.7M475.3 215.5h.7M498.6 228.5h.7M486.4 203.6h.7M480.9 218.7h.7M485.5 195.2h.7M485.2 212.7h.7M478.3 228.8h.7M490.9 224.7h.7M487.3 201.0h.7M497.7 224.8h.7M480.0 196.9h.7M494.9 205.6h.7M474.0 211.2h.7M492.1 203.5h.7M486.6 223.5h.7M494.1 194.3h.7M493.8 232.4h.7M495.9 211.1h.7M490.1 194.1h.7M480.0 206.2h.7M508.1 212.1h.7M476.0 231.5h.7M499.2 193.2h.7M484.1 192.8h.7M505.8 200.0h.7M475.2 236.3h.7M491.9 216.2h.7M495.3 200.8h.7M495.5 208.9h.7M491.7 214.8h.7M500.8 197.4h.7M471.6 219.6h.7M511.2 218.4h.7M484.5 219.8h.7M473.5 213.2h.7M468.5 213.5h.7M493.9 231.6h.7M480.9 222.8h.7M500.4 200.1h.7M477.0 217.1h.7M464.9 208.7h.7M493.9 228.6h.7M459.9 216.5h.7M475.5 218.9h.7M486.0 220.2h.7M483.1 219.7h.7M476.0 200.9h.7M499.2 209.3h.7M475.9 202.2h.7M476.1 213.5h.7M482.4 222.0h.7M474.1 211.3h.7M470.4 206.8h.7M500.5 210.7h.7M495.6 211.4h.7M474.7 202.0h.7M474.4 216.0h.7M488.7 245.9h.7M503.8 221.9h.7M475.9 213.4h.7M476.7 239.1h.7M478.6 225.6h.7M472.0 220.9h.7M473.3 206.8h.7M488.0 213.7h.7M485.6 211.4h.7M477.2 210.9h.7M485.5 201.4h.7M492.2 214.1h.7M478.3 227.1h.7M499.5 207.8h.7M501.6 217.1h.7M476.8 225.0h.7M491.0 222.8h.7M486.6 230.1h.7M496.0 208.3h.7M470.4 211.6h.7M486.9 200.7h.7M484.2 229.4h.7M481.2 225.1h.7M476.4 200.9h.7M496.0 210.1h.7M488.5 224.0h.7M503.3 197.8h.7M492.3 214.7h.7M487.7 232.8h.7M483.6 205.3h.7M490.0 201.8h.7M489.6 203.5h.7M491.5 209.2h.7M478.6 218.3h.7M494.0 193.6h.7M472.6 209.1h.7M482.2 227.4h.7M502.8 217.6h.7M497.7 208.3h.7M471.8 215.6h.7M467.7 230.9h.7M488.8 225.5h.7M479.4 193.5h.7M484.0 217.7h.7M483.9 206.2h.7M487.0 209.9h.7M500.8 197.0h.7M462.9 211.0h.7M489.0 194.4h.7M485.7 217.2h.7M489.7 215.6h.7M478.2 195.4h.7M496.2 208.0h.7M471.7 230.0h.7M513.3 213.8h.7M469.2 223.1h.7M489.6 226.5h.7M486.3 192.9h.7M484.4 207.1h.7M489.2 209.9h.7M492.0 198.0h.7M480.4 206.1h.7M486.1 239.7h.7M467.2 224.0h.7M487.2 223.5h.7M486.7 215.1h.7M490.0 217.4h.7M473.4 210.5h.7M505.3 228.5h.7M477.2 201.1h.7M484.3 224.3h.7M495.8 205.3h.7M461.1 211.5h.7M468.6 225.9h.7M501.7 219.8h.7M492.4 218.6h.7M505.5 224.7h.7M501.3 198.8h.7M480.6 212.0h.7M462.6 208.8h.7M485.9 211.3h.7M512.7 209.7h.7M484.0 210.7h.7M482.5 195.6h.7M497.9 212.3h.7M489.9 212.5h.7M477.9 193.6h.7M483.1 218.2h.7M484.8 220.5h.7M477.8 208.7h.7M487.7 210.9h.7M487.9 228.7h.7M481.7 213.6h.7M479.2 218.4h.7M488.4 203.5h.7M475.5 198.2h.7M483.1 213.8h.7M480.9 210.8h.7M487.5 239.3h.7M498.5 238.9h.7M487.5 214.6h.7M506.6 216.5h.7M493.0 206.2h.7M480.3 221.1h.7M479.7 204.4h.7M470.3 215.5h.7M485.1 218.4h.7M476.9 197.7h.7M497.7 212.3h.7M494.4 198.7h.7M489.2 223.5h.7M500.1 232.6h.7M466.8 199.4h.7M480.5 202.9h.7M483.8 202.8h.7M470.6 211.5h.7M487.4 203.1h.7M486.4 197.0h.7M482.6 208.1h.7M481.2 211.1h.7M472.7 196.5h.7M477.3 220.5h.7M476.0 201.2h.7M507.0 209.1h.7M482.0 201.8h.7M501.6 218.1h.7M488.8 230.5h.7M497.7 217.0h.7M480.6 221.3h.7M485.0 234.7h.7M472.6 216.2h.7M496.4 222.3h.7M482.2 207.4h.7M481.4 220.0h.7M481.8 210.4h.7M496.9 210.7h.7M488.6 210.6h.7M476.1 216.3h.7M479.3 204.9h.7M486.6 238.6h.7M478.0 200.9h.7M467.0 217.4h.7M485.4 202.3h.7M481.7 223.4h.7M496.8 216.3h.7M498.2 223.8h.7M481.1 221.2h.7M487.7 220.9h.7M489.0 236.8h.7M472.7 216.2h.7M474.5 239.0h.7M480.5 207.7h.7M485.8 211.5h.7M504.1 211.4h.7M488.6 224.4h.7M502.0 200.9h.7M489.2 196.6h.7M491.2 228.5h.7M480.5 208.8h.7M498.6 217.1h.7M494.5 206.7h.7M482.7 207.7h.7M502.6 194.6h.7M480.5 230.2h.7M485.3 199.3h.7M488.5 209.5h.7M484.7 217.8h.7M494.4 194.6h.7M488.1 229.5h.7M471.8 210.9h.7M473.7 219.8h.7M477.0 208.1h.7M481.6 217.3h.7M472.1 195.7h.7M488.0 227.9h.7M480.6 216.8h.7M488.8 213.3h.7M485.8 205.6h.7M483.4 226.0h.7M490.7 227.0h.7M478.3 213.4h.7M479.2 196.6h.7M495.5 208.7h.7M488.5 195.5h.7M483.3 210.6h.7M481.9 223.9h.7M490.8 213.6h.7M488.4 206.8h.7M478.5 208.7h.7M475.2 210.0h.7M484.8 225.2h.7M481.4 240.4h.7M480.4 213.5h.7M485.7 204.8h.7M497.8 205.2h.7M492.0 197.0h.7M500.3 199.8h.7M478.2 219.8h.7M468.1 230.9h.7M490.6 194.2h.7M481.3 220.2h.7M481.8 229.7h.7M478.4 214.0h.7M498.1 229.4h.7M488.5 218.8h.7M482.4 211.2h.7M479.9 216.6h.7M494.8 200.2h.7M473.6 212.5h.7M507.1 214.7h.7M487.3 211.5h.7M468.3 203.6h.7M504.9 197.9h.7M507.4 242.9h.7M501.7 210.4h.7M492.2 205.5h.7M481.2 214.4h.7M452.7 218.6h.7M482.6 199.2h.7M483.0 219.6h.7M477.8 216.2h.7M471.7 213.1h.7M473.8 221.0h.7M474.9 219.3h.7M464.9 214.1h.7M497.5 202.2h.7M486.5 201.8h.7M491.0 220.9h.7M498.0 227.7h.7M499.6 203.4h.7M487.1 218.2h.7M487.9 196.5h.7M507.3 242.1h.7M505.2 209.8h.7M509.8 199.6h.7M491.5 221.3h.7M470.7 208.0h.7M491.1 219.8h.7M460.8 216.3h.7M502.7 193.8h.7M490.0 223.0h.7M475.6 193.2h.7M488.7 206.7h.7M484.9 209.6h.7M484.7 215.6h.7M480.3 211.6h.7M479.9 201.6h.7M489.6 202.1h.7M491.5 211.6h.7M497.3 218.9h.7M464.8 211.6h.7M492.8 213.3h.7M486.3 224.8h.7M493.0 196.0h.7M486.9 223.8h.7M487.5 196.8h.7M494.1 219.1h.7M498.0 214.0h.7M487.1 222.1h.7M474.3 232.3h.7M490.1 214.6h.7M493.9 221.3h.7M462.7 223.0h.7M484.7 202.6h.7M495.4 223.1h.7M489.9 204.6h.7M487.0 200.6h.7M512.5 204.1h.7M495.1 231.3h.7M476.8 205.6h.7M462.3 209.1h.7M471.9 213.8h.7M483.5 212.1h.7M486.3 206.4h.7M487.1 211.2h.7M478.3 208.2h.7M479.9 196.6h.7M491.5 211.5h.7M487.6 225.7h.7M495.9 206.7h.7M489.5 226.1h.7M484.2 216.5h.7M490.3 199.6h.7M488.8 207.3h.7M483.1 217.1h.7M492.8 201.2h.7M483.2 209.6h.7M475.9 216.4h.7M483.7 203.6h.7M495.8 211.0h.7M473.6 210.8h.7M483.9 215.4h.7M509.6 218.5h.7M501.1 209.9h.7M490.8 217.9h.7M484.8 214.9h.7M481.1 220.2h.7M476.3 232.3h.7M446.7 195.5h.7M484.5 216.3h.7M487.4 192.7h.7M490.3 201.4h.7M488.0 206.9h.7M483.0 193.9h.7M472.1 205.3h.7M474.6 214.9h.7M471.1 214.5h.7M491.7 203.1h.7M475.8 207.8h.7M494.2 228.5h.7M508.6 213.0h.7M492.4 214.2h.7M485.6 199.2h.7M482.1 225.2h.7M500.4 204.8h.7M468.8 234.4h.7M486.2 217.3h.7M489.2 200.4h.7M482.9 204.5h.7M483.1 240.5h.7M469.6 205.9h.7M478.8 221.2h.7M502.3 203.2h.7M491.9 209.5h.7M465.0 225.9h.7M504.2 202.2h.7M492.5 205.8h.7M484.8 206.5h.7M484.4 212.5h.7M479.4 215.2h.7M472.2 221.6h.7M494.6 207.9h.7M480.2 222.8h.7M485.5 235.1h.7M490.3 194.9h.7M480.5 204.0h.7M482.8 232.0h.7M514.5 232.3h.7M490.6 218.5h.7M464.0 241.2h.7M459.4 271.5h.7M458.1 269.1h.7M457.1 256.2h.7M471.0 244.9h.7M469.8 256.0h.7M461.2 244.0h.7M467.3 258.0h.7M479.6 259.0h.7M464.6 281.1h.7M456.4 260.4h.7M455.7 279.7h.7M464.9 286.1h.7M453.3 259.0h.7M462.1 265.7h.7M465.0 287.6h.7M463.8 260.9h.7M462.6 261.9h.7M461.5 271.0h.7M454.4 275.3h.7M467.8 281.6h.7M455.1 273.5h.7M469.1 265.4h.7M467.6 264.9h.7M462.9 263.9h.7M453.0 260.3h.7M464.1 268.0h.7M462.8 263.9h.7M468.8 269.5h.7M465.5 265.3h.7M471.7 270.5h.7M465.8 250.3h.7M458.4 276.4h.7M454.1 251.5h.7M462.1 250.0h.7M470.2 278.0h.7M460.8 288.7h.7M458.4 255.5h.7M469.0 272.2h.7M461.4 286.3h.7M462.0 280.9h.7M464.4 288.0h.7M466.6 265.4h.7M473.0 267.0h.7M474.6 254.3h.7M463.3 240.9h.7M460.3 278.5h.7M465.2 276.9h.7M470.3 250.8h.7M467.6 273.8h.7M471.6 272.4h.7M467.0 271.2h.7M456.3 265.0h.7M461.7 253.5h.7M462.6 265.4h.7M475.2 268.6h.7M463.8 273.3h.7M467.6 249.6h.7M457.3 259.6h.7M470.8 276.1h.7M457.6 282.3h.7M460.8 276.6h.7M456.5 270.6h.7M477.3 243.7h.7M459.7 275.8h.7M461.5 278.1h.7M470.7 256.2h.7M476.0 234.9h.7M466.6 285.8h.7M458.4 259.9h.7M455.4 269.2h.7M455.3 281.8h.7M458.4 279.2h.7M452.5 284.3h.7M467.5 285.1h.7M469.5 272.7h.7M473.7 267.0h.7M459.9 271.9h.7M464.7 274.6h.7M461.4 286.0h.7M477.4 266.6h.7M453.1 265.5h.7M453.7 254.4h.7M456.0 286.7h.7M464.0 281.8h.7M462.3 286.2h.7M468.9 275.0h.7M453.2 256.7h.7M464.7 257.6h.7M461.9 269.8h.7M472.2 262.5h.7M463.9 265.6h.7M457.9 278.1h.7M469.5 252.2h.7M464.0 279.2h.7M456.0 266.4h.7M465.1 270.8h.7M472.2 259.8h.7M461.3 279.3h.7M462.5 268.6h.7M462.2 277.6h.7M468.0 257.4h.7M456.9 256.3h.7M465.9 246.3h.7M479.4 264.4h.7M463.0 278.9h.7M461.7 268.5h.7M476.8 244.7h.7M464.7 261.8h.7M460.7 271.2h.7M450.7 280.6h.7M464.4 279.7h.7M459.0 282.3h.7M459.9 282.7h.7M472.1 280.7h.7M453.4 273.0h.7M464.4 254.4h.7M456.3 277.7h.7M460.8 270.0h.7M460.1 272.1h.7M473.8 259.9h.7M466.5 278.7h.7M458.5 256.9h.7M457.1 280.0h.7M464.1 286.2h.7M465.5 273.6h.7M463.1 275.2h.7M463.3 281.3h.7M457.3 286.8h.7M473.9 270.8h.7M466.8 255.8h.7M463.7 252.3h.7M469.7 272.7h.7M470.3 287.6h.7M458.1 283.3h.7M462.3 279.6h.7M458.8 280.8h.7M462.0 272.9h.7M466.4 269.7h.7M476.9 241.5h.7M451.6 265.1h.7M467.7 272.3h.7M465.9 251.2h.7M467.0 279.5h.7M474.0 283.4h.7M458.9 261.9h.7M455.5 265.4h.7M474.1 273.1h.7M467.0 269.8h.7M454.4 279.4h.7M458.2 249.9h.7M453.9 271.1h.7M466.4 266.6h.7M456.5 272.1h.7M474.3 281.1h.7M464.4 280.0h.7M461.2 260.0h.7M456.4 273.0h.7M461.0 272.2h.7M457.3 261.3h.7M455.2 257.1h.7M452.1 260.8h.7M461.4 281.6h.7M451.1 278.1h.7M462.3 272.0h.7M448.5 278.7h.7M467.5 287.8h.7M463.5 259.5h.7M466.6 285.5h.7M464.6 271.7h.7M461.4 281.3h.7M450.9 276.2h.7M454.4 265.0h.7M463.0 259.4h.7M481.4 276.5h.7M444.8 270.8h.7M458.1 263.8h.7M463.7 253.7h.7M468.9 273.4h.7M460.3 274.9h.7M455.2 274.8h.7M465.4 288.4h.7M476.6 263.5h.7M465.6 261.3h.7M463.9 287.9h.7M467.4 268.1h.7M475.2 284.3h.7M471.4 273.2h.7M472.1 270.1h.7M468.9 272.7h.7M463.0 250.9h.7M469.7 280.0h.7M458.8 273.0h.7M467.1 280.8h.7M470.8 274.0h.7M464.4 276.0h.7M458.5 264.8h.7M461.5 250.4h.7M470.1 255.9h.7M473.3 285.1h.7M476.8 264.0h.7M461.0 265.9h.7M468.5 259.8h.7M460.9 240.4h.7M463.4 275.0h.7M476.6 260.6h.7M469.6 279.9h.7M469.1 256.9h.7M469.6 274.5h.7M458.3 266.5h.7M473.5 249.2h.7M445.9 275.9h.7M468.1 271.6h.7M459.2 246.8h.7M466.6 263.7h.7M460.4 276.6h.7M449.1 270.9h.7M462.2 287.7h.7M456.3 250.2h.7M469.1 267.3h.7M453.8 286.9h.7M466.5 248.3h.7M463.8 253.3h.7M473.4 281.7h.7M452.7 283.6h.7M457.4 265.1h.7M459.6 287.1h.7M466.6 280.2h.7M460.0 265.0h.7M470.5 263.6h.7M461.1 279.9h.7M461.8 285.9h.7M466.9 281.1h.7M479.0 264.5h.7M477.5 254.2h.7M457.6 237.3h.7M458.4 260.9h.7M479.1 264.7h.7M470.5 269.5h.7M450.3 213.7h.7M460.6 244.9h.7M469.1 259.0h.7M467.6 262.7h.7M466.4 258.7h.7M465.7 252.8h.7M457.6 274.0h.7M468.7 254.7h.7M456.7 249.3h.7M475.3 276.2h.7M465.3 265.9h.7M476.4 280.2h.7M467.1 268.1h.7M460.5 272.2h.7M472.7 252.0h.7M451.5 281.6h.7M467.1 250.9h.7M468.8 274.5h.7M456.1 249.5h.7M452.3 273.0h.7M454.1 277.1h.7M462.0 281.2h.7M469.1 259.1h.7M460.5 282.6h.7M458.6 286.4h.7M467.2 284.8h.7M458.9 283.2h.7M461.6 275.2h.7M467.5 264.1h.7M462.8 238.3h.7M458.3 280.8h.7M455.5 242.0h.7M453.1 267.8h.7M467.7 279.6h.7M453.2 277.8h.7M454.6 287.5h.7M465.8 263.0h.7M459.8 270.9h.7M459.1 288.6h.7M465.2 263.9h.7M466.2 252.4h.7M464.1 267.4h.7M459.1 271.2h.7M464.6 251.2h.7M468.5 263.6h.7M457.4 286.9h.7M469.2 276.8h.7M457.3 286.9h.7M465.6 256.5h.7M466.9 269.6h.7M462.3 258.0h.7M464.5 284.3h.7M457.3 283.5h.7M450.6 273.6h.7M464.9 258.4h.7M464.1 253.3h.7M475.8 277.6h.7M470.5 258.7h.7M447.7 270.8h.7M472.2 269.7h.7M470.9 277.7h.7M465.3 287.0h.7M459.0 266.1h.7M470.5 278.5h.7M459.4 256.5h.7M473.1 225.8h.7M469.2 269.9h.7M454.3 277.8h.7M465.0 236.1h.7M456.8 282.9h.7M459.8 271.1h.7M465.3 269.7h.7M458.7 286.4h.7M458.4 277.9h.7M465.9 282.6h.7M468.3 276.0h.7M476.3 283.2h.7M458.0 259.0h.7M465.9 263.6h.7M456.4 270.6h.7M468.1 270.9h.7M467.8 274.4h.7M472.1 265.0h.7M462.2 255.8h.7M460.9 257.8h.7M453.0 268.8h.7M467.6 239.9h.7M454.6 252.0h.7M465.5 280.0h.7M465.2 269.3h.7M457.9 274.6h.7M457.3 268.7h.7M465.7 268.3h.7M471.0 240.9h.7M452.5 286.2h.7M459.3 265.3h.7M459.4 271.1h.7M462.0 277.1h.7M449.0 270.4h.7M457.2 275.0h.7M456.4 272.9h.7M464.9 271.4h.7M464.6 281.3h.7M456.1 271.3h.7M470.0 285.2h.7M469.5 260.1h.7M458.7 286.0h.7M463.1 276.2h.7M460.7 285.0h.7M464.2 257.8h.7M465.5 267.0h.7M461.3 280.0h.7M464.0 263.8h.7M455.3 265.6h.7M462.1 255.0h.7M458.8 272.9h.7M454.9 267.4h.7M464.7 274.3h.7M451.9 272.5h.7M456.6 287.5h.7M465.4 255.4h.7M469.3 265.0h.7M462.3 273.3h.7M454.5 288.6h.7M464.0 257.3h.7M454.0 278.5h.7M471.0 277.7h.7M465.1 266.0h.7M470.2 279.7h.7M457.8 263.3h.7M448.8 288.4h.7M482.7 270.3h.7M465.9 282.8h.7M456.4 260.1h.7M473.7 285.0h.7M468.0 270.5h.7M462.7 274.1h.7M465.8 263.4h.7M459.5 258.5h.7M458.6 261.3h.7M470.2 269.6h.7M462.7 282.0h.7M470.5 275.4h.7M473.3 262.5h.7M459.6 281.7h.7M467.3 247.5h.7M461.0 281.8h.7M452.6 274.9h.7M457.5 249.5h.7M461.5 271.2h.7M460.3 263.1h.7M468.7 257.3h.7M487.6 242.3h.7M506.1 241.3h.7M511.9 249.1h.7M493.5 285.2h.7M483.0 280.8h.7M480.5 255.6h.7M499.8 266.9h.7M497.5 266.6h.7M510.3 239.3h.7M486.9 274.5h.7M478.8 252.3h.7M519.3 281.2h.7M499.3 263.3h.7M492.3 249.7h.7M485.0 248.3h.7M480.8 264.1h.7M498.4 248.9h.7M495.4 243.4h.7M497.9 257.6h.7M493.3 264.9h.7M507.5 265.2h.7M487.3 264.4h.7M498.1 269.8h.7M504.9 250.6h.7M481.6 271.1h.7M482.3 268.6h.7M522.3 279.9h.7M478.8 250.6h.7M498.1 258.2h.7M501.3 265.7h.7M497.5 270.1h.7M477.8 278.4h.7M479.3 249.7h.7M469.0 262.3h.7M498.2 256.9h.7M481.6 231.4h.7M499.8 245.9h.7M490.2 265.7h.7M493.3 268.1h.7M511.3 272.3h.7M483.5 261.7h.7M491.6 250.1h.7M500.8 256.8h.7M496.5 271.4h.7M515.9 253.7h.7M510.6 266.6h.7M486.4 264.6h.7M487.5 256.4h.7M476.1 258.2h.7M473.1 276.3h.7M499.5 256.5h.7M494.4 264.0h.7M491.4 266.4h.7M492.2 268.7h.7M485.6 263.3h.7M511.6 250.9h.7M485.6 275.7h.7M497.4 264.5h.7M496.0 256.6h.7M488.5 269.6h.7M495.9 271.5h.7M495.0 282.3h.7M504.3 251.7h.7M510.6 254.4h.7M504.7 251.7h.7M497.8 264.6h.7M509.0 232.0h.7M473.9 276.4h.7M502.0 255.2h.7M495.1 237.7h.7M490.1 253.1h.7M503.4 266.0h.7M492.4 278.9h.7M487.3 273.3h.7M491.7 269.0h.7M491.0 282.4h.7M502.4 250.8h.7M489.4 281.5h.7M509.5 245.4h.7M495.8 271.4h.7M519.1 272.1h.7M492.0 275.8h.7M494.9 250.4h.7M493.6 259.5h.7M491.9 263.8h.7M497.9 251.6h.7M501.2 240.4h.7M501.1 269.6h.7M498.5 241.5h.7M488.9 265.6h.7M499.0 273.3h.7M478.0 263.0h.7M505.5 246.3h.7M481.3 256.1h.7M491.3 259.0h.7M507.3 266.7h.7M474.0 273.9h.7M495.1 274.9h.7M493.8 282.4h.7M495.6 255.9h.7M481.5 275.9h.7M492.7 238.1h.7M503.0 281.2h.7M472.1 270.9h.7M501.0 287.2h.7M507.0 252.3h.7M498.9 273.3h.7M478.6 283.3h.7M499.3 274.8h.7M484.8 274.6h.7M493.6 258.5h.7M494.5 267.8h.7M478.1 262.9h.7M498.0 240.1h.7M501.2 262.9h.7M483.2 247.3h.7M481.2 275.5h.7M484.9 265.6h.7M489.5 275.7h.7M507.5 275.9h.7M501.1 278.1h.7M512.1 250.7h.7M496.9 253.8h.7M494.6 259.9h.7M495.3 273.1h.7M480.4 226.3h.7M497.0 278.0h.7M489.9 283.9h.7M517.9 264.0h.7M491.9 270.3h.7M502.2 241.9h.7M499.4 234.1h.7M482.8 266.2h.7M497.4 246.2h.7M494.6 281.3h.7M476.8 271.0h.7M507.5 244.1h.7M506.7 269.4h.7M490.8 263.4h.7M493.7 263.6h.7M491.9 252.7h.7M503.7 287.2h.7M492.0 283.2h.7M485.9 245.0h.7M500.8 266.5h.7M498.9 249.5h.7M489.9 277.5h.7M510.9 266.8h.7M498.1 225.9h.7M487.2 281.6h.7M514.2 251.5h.7M467.4 270.3h.7M480.3 257.2h.7M487.7 257.9h.7M483.9 272.4h.7M497.2 244.5h.7M500.0 266.1h.7M483.1 264.9h.7M497.5 252.9h.7M495.4 256.7h.7M472.3 243.6h.7M487.5 255.7h.7M498.6 286.6h.7M489.4 264.8h.7M491.6 239.3h.7M493.2 260.2h.7M485.2 273.8h.7M498.2 258.8h.7M484.7 267.5h.7M485.5 251.1h.7M488.7 276.6h.7M490.9 260.9h.7M490.4 271.7h.7M492.2 275.0h.7M492.3 275.2h.7M490.8 252.6h.7M498.2 260.3h.7M489.1 283.7h.7M488.7 252.2h.7M490.3 283.7h.7M479.8 279.8h.7M499.3 257.6h.7M490.3 252.9h.7M472.6 250.1h.7M479.1 240.5h.7M489.2 271.7h.7M484.0 258.6h.7M485.7 260.4h.7M497.9 280.5h.7M500.0 268.6h.7M508.2 273.5h.7M498.8 271.4h.7M502.3 248.7h.7M484.4 264.6h.7M475.1 259.5h.7M490.2 267.9h.7M500.9 281.9h.7M468.9 266.4h.7M497.2 283.8h.7M487.1 269.3h.7M492.0 250.0h.7M496.2 277.0h.7M489.9 264.7h.7M505.0 260.7h.7M490.3 267.5h.7M498.2 269.1h.7M506.5 269.7h.7M481.0 240.3h.7M492.6 287.2h.7M493.9 257.2h.7M496.4 270.9h.7M506.5 245.2h.7M501.6 266.0h.7M502.1 278.7h.7M470.2 276.5h.7M498.7 252.2h.7M492.2 278.4h.7M477.8 275.9h.7M501.8 288.3h.7M484.7 254.6h.7M504.0 259.4h.7M497.7 226.3h.7M518.5 236.9h.7M476.2 270.5h.7M498.7 251.8h.7M470.3 271.2h.7M495.9 250.3h.7M494.8 255.1h.7M482.7 273.3h.7M493.4 263.9h.7M480.4 253.3h.7M490.5 254.8h.7M497.0 263.8h.7M491.1 260.9h.7M497.7 277.8h.7M482.1 277.0h.7M502.8 274.6h.7M487.6 266.3h.7M515.5 244.4h.7M502.2 259.6h.7M510.8 265.3h.7M502.3 254.5h.7M488.2 286.3h.7M480.1 255.9h.7M490.8 245.5h.7M500.0 245.8h.7M493.9 259.9h.7M486.8 279.8h.7M487.3 259.4h.7M491.5 282.5h.7M448.2 220.1h.7M456.8 276.6h.7M533.6 211.4h.7M468.2 216.7h.7M498.5 261.1h.7M465.3 272.4h.7M483.9 240.7h.7M475.7 236.8h.7M444.2 196.8h.7M532.9 220.7h.7M474.3 287.0h.7M470.5 201.9h.7M523.6 231.4h.7M502.6 221.6h.7M453.0 214.0h.7M513.8 244.8h.7M504.0 263.1h.7M495.4 258.3h.7M459.4 210.7h.7M482.5 273.8h.7M462.3 267.8h.7M519.6 263.6h.7" stroke="#ff1010" stroke-width=".75" stroke-opacity=".5" fill="none"/>
<line x1="476.2" y1="192" x2="476.2" y2="289.5" stroke="#f26a6a" stroke-width="0.9"/>
<line x1="440.3" y1="237.6" x2="537" y2="237.6" stroke="#f26a6a" stroke-width="0.9"/>
<circle cx="476.2" cy="237.6" r="1.5" fill="#f7b0b0" stroke="#f05050" stroke-width=".6"/>
<circle cx="516.5" cy="237.6" r="1.5" fill="#f7b0b0" stroke="#f05050" stroke-width=".6"/>
<text class="S" x="478.5" y="235" font-size="4.8" fill="#e03030">R2</text>
<rect x="440.5" y="192.5" width="97" height="97" fill="none" stroke="#444" stroke-width="1"/>
<text class="Sb" x="442.3" y="198.6" font-size="6" fill="#000">77.10%</text>
<text class="Sb" x="535.4" y="198.6" font-size="6" text-anchor="end" fill="#000">7.77%</text>
<text class="Sb" x="442.3" y="287.7" font-size="6" fill="#000">10.58%</text>
<text class="Sb" x="535.4" y="287.7" font-size="6" text-anchor="end" fill="#000">4.55%</text>
<text class="S" x="440.8" y="190.7" font-size="4" textLength="54" lengthAdjust="spacingAndGlyphs" fill="#333">Plot P02, gated on P01.R1</text>
<text class="S" x="440.3" y="294.3" font-size="3.8" text-anchor="middle" fill="#333">10<tspan font-size="2.6" dy="-1.5">0</tspan></text>
<text class="S" transform="translate(438.7 289.5) rotate(-90)" font-size="3.8" text-anchor="middle" fill="#333">10<tspan font-size="2.6" dy="-1.5">0</tspan></text>
<line x1="440.3" y1="289.5" x2="440.3" y2="290.7" stroke="#666" stroke-width="0.5"/>
<line x1="439.1" y1="289.5" x2="440.3" y2="289.5" stroke="#666" stroke-width="0.5"/>
<text class="S" x="459.64" y="294.3" font-size="3.8" text-anchor="middle" fill="#333">10<tspan font-size="2.6" dy="-1.5">1</tspan></text>
<text class="S" transform="translate(438.7 270) rotate(-90)" font-size="3.8" text-anchor="middle" fill="#333">10<tspan font-size="2.6" dy="-1.5">1</tspan></text>
<line x1="459.64" y1="289.5" x2="459.64" y2="290.7" stroke="#666" stroke-width="0.5"/>
<line x1="439.1" y1="270" x2="440.3" y2="270" stroke="#666" stroke-width="0.5"/>
<text class="S" x="478.98" y="294.3" font-size="3.8" text-anchor="middle" fill="#333">10<tspan font-size="2.6" dy="-1.5">2</tspan></text>
<text class="S" transform="translate(438.7 250.5) rotate(-90)" font-size="3.8" text-anchor="middle" fill="#333">10<tspan font-size="2.6" dy="-1.5">2</tspan></text>
<line x1="478.98" y1="289.5" x2="478.98" y2="290.7" stroke="#666" stroke-width="0.5"/>
<line x1="439.1" y1="250.5" x2="440.3" y2="250.5" stroke="#666" stroke-width="0.5"/>
<text class="S" x="498.32" y="294.3" font-size="3.8" text-anchor="middle" fill="#333">10<tspan font-size="2.6" dy="-1.5">3</tspan></text>
<text class="S" transform="translate(438.7 231) rotate(-90)" font-size="3.8" text-anchor="middle" fill="#333">10<tspan font-size="2.6" dy="-1.5">3</tspan></text>
<line x1="498.32" y1="289.5" x2="498.32" y2="290.7" stroke="#666" stroke-width="0.5"/>
<line x1="439.1" y1="231" x2="440.3" y2="231" stroke="#666" stroke-width="0.5"/>
<text class="S" x="517.66" y="294.3" font-size="3.8" text-anchor="middle" fill="#333">10<tspan font-size="2.6" dy="-1.5">4</tspan></text>
<text class="S" transform="translate(438.7 211.5) rotate(-90)" font-size="3.8" text-anchor="middle" fill="#333">10<tspan font-size="2.6" dy="-1.5">4</tspan></text>
<line x1="517.66" y1="289.5" x2="517.66" y2="290.7" stroke="#666" stroke-width="0.5"/>
<line x1="439.1" y1="211.5" x2="440.3" y2="211.5" stroke="#666" stroke-width="0.5"/>
<text class="S" x="537" y="294.3" font-size="3.8" text-anchor="middle" fill="#333">10<tspan font-size="2.6" dy="-1.5">5</tspan></text>
<text class="S" transform="translate(438.7 192) rotate(-90)" font-size="3.8" text-anchor="middle" fill="#333">10<tspan font-size="2.6" dy="-1.5">5</tspan></text>
<line x1="537" y1="289.5" x2="537" y2="290.7" stroke="#666" stroke-width="0.5"/>
<line x1="439.1" y1="192" x2="440.3" y2="192" stroke="#666" stroke-width="0.5"/>
<text class="S" x="488.65" y="299.3" font-size="4.4" text-anchor="middle" textLength="70" lengthAdjust="spacingAndGlyphs" fill="#333">Red-R Fluorescence (RED-R-HLog)</text>
<text class="S" transform="translate(432.3 241.75) rotate(-90)" font-size="4.4" text-anchor="middle" textLength="74" lengthAdjust="spacingAndGlyphs" fill="#333">Green-B Fluorescence (GRN-B-HLog)</text>
<text class="Rb" x="489.5" y="186" font-size="8.8" text-anchor="middle" textLength="55" lengthAdjust="spacingAndGlyphs" fill="#111">AGS-shTRIP13</text>
<rect x="326.5" y="320" width="96.5" height="97.8" fill="#fff"/>
<path d="M348.5 338.3h.7M347.7 329.9h.7M352.8 337.1h.7M345.1 324.3h.7M339.5 350.4h.7M345.9 344.8h.7M351.3 342.7h.7M344.3 326.1h.7M345.5 337.3h.7M345.6 333.6h.7M346.9 323.7h.7M351.1 326.0h.7M346.8 328.6h.7M352.4 331.4h.7M342.0 333.0h.7M350.3 325.5h.7M340.3 331.6h.7M350.5 356.0h.7M345.4 344.4h.7M344.3 341.6h.7M341.1 333.6h.7M343.2 339.6h.7M357.6 336.9h.7M340.3 350.8h.7M344.9 332.6h.7M348.5 342.9h.7M347.2 339.3h.7M347.1 325.7h.7M349.8 343.9h.7M342.6 320.9h.7M343.5 337.8h.7M352.7 338.2h.7M331.2 330.8h.7M346.5 338.3h.7M339.2 333.1h.7M346.9 342.3h.7M350.0 350.7h.7M343.1 332.4h.7M344.2 340.5h.7M355.5 337.8h.7M347.0 328.2h.7M340.3 351.8h.7M345.8 348.7h.7M350.0 331.9h.7M347.4 328.2h.7M349.2 334.9h.7M349.9 347.2h.7M343.5 343.3h.7M348.3 331.6h.7M347.5 347.1h.7M347.0 344.8h.7M347.8 347.3h.7M345.6 333.3h.7M343.9 349.7h.7M342.8 352.5h.7M353.7 331.8h.7M342.8 339.7h.7M350.5 351.6h.7M353.4 330.0h.7M350.3 331.7h.7M351.3 340.3h.7M353.0 335.4h.7M350.1 325.0h.7M341.8 340.7h.7M346.8 343.9h.7M357.0 330.7h.7M340.8 326.8h.7M343.4 346.4h.7M348.1 333.5h.7M349.4 334.7h.7M347.5 336.0h.7M340.0 343.4h.7M347.1 355.8h.7M346.8 330.9h.7M347.1 329.7h.7M346.1 332.9h.7M347.9 328.0h.7M345.8 332.5h.7M341.8 335.5h.7M349.5 342.6h.7M347.8 335.1h.7M350.8 333.6h.7M349.5 320.8h.7M340.7 329.7h.7M351.6 333.8h.7M348.5 326.4h.7M339.3 360.9h.7M354.0 351.7h.7M346.4 330.2h.7M347.5 333.9h.7M344.0 322.5h.7M355.7 324.7h.7M344.5 339.4h.7M344.9 338.2h.7M350.7 330.4h.7M348.8 334.9h.7M340.2 338.6h.7M341.3 345.2h.7M346.4 337.6h.7M351.0 328.7h.7M342.6 348.8h.7M349.8 339.9h.7M337.0 336.2h.7M341.9 330.6h.7M338.7 321.4h.7M344.3 339.4h.7M344.0 334.4h.7M346.7 348.0h.7M343.6 337.1h.7M359.4 335.7h.7M350.3 325.4h.7M341.4 332.0h.7M360.9 330.4h.7M353.1 331.5h.7M347.2 345.4h.7M342.6 332.4h.7M341.1 329.5h.7M351.2 331.1h.7M341.4 341.4h.7M347.7 335.5h.7M356.2 338.6h.7M351.9 324.9h.7M346.1 347.2h.7M350.0 344.1h.7M339.4 333.4h.7M354.4 348.9h.7M353.0 343.0h.7M346.9 343.0h.7M352.3 327.3h.7M351.5 343.0h.7M343.9 350.1h.7M352.6 343.9h.7M344.2 338.4h.7M346.3 350.7h.7M358.3 328.3h.7M356.1 339.8h.7M343.2 329.4h.7M353.9 338.8h.7M343.2 334.2h.7M344.6 334.7h.7M355.2 329.8h.7M348.9 344.3h.7M356.5 330.4h.7M345.0 332.3h.7M340.4 335.9h.7M342.7 333.9h.7M347.2 342.6h.7M346.8 357.3h.7M348.1 340.5h.7M349.0 335.0h.7M351.2 337.3h.7M339.9 331.2h.7M353.7 321.5h.7M355.1 336.9h.7M347.8 346.9h.7M347.6 331.6h.7M335.8 330.3h.7M340.7 342.1h.7M347.0 327.5h.7M352.2 343.7h.7M357.4 338.2h.7M340.4 336.7h.7M350.2 343.7h.7M340.0 340.1h.7M349.8 339.3h.7M338.5 331.7h.7M345.9 333.8h.7M351.0 332.4h.7M348.8 328.6h.7M346.3 345.6h.7M343.9 335.5h.7M339.4 325.1h.7M349.4 346.1h.7M343.3 334.1h.7M348.1 331.9h.7M346.9 332.2h.7M349.5 331.2h.7M344.2 323.6h.7M342.7 322.5h.7M345.8 344.6h.7M340.2 328.2h.7M342.7 339.8h.7M345.0 332.8h.7M341.8 333.3h.7M344.8 328.6h.7M353.5 340.0h.7M345.7 338.5h.7M357.8 341.1h.7M343.9 335.4h.7M352.1 339.7h.7M345.1 336.5h.7M341.0 332.8h.7M344.5 333.5h.7M353.2 335.9h.7M352.2 335.6h.7M339.1 346.4h.7M343.8 334.6h.7M351.9 348.0h.7M347.3 346.8h.7M344.1 341.3h.7M342.0 344.3h.7M343.7 341.4h.7M340.6 348.3h.7M354.5 333.4h.7M346.8 327.2h.7M345.5 322.9h.7M350.1 335.0h.7M352.2 335.6h.7M345.4 328.3h.7M349.6 334.5h.7M340.6 322.5h.7M351.2 334.7h.7M346.2 330.8h.7M343.9 335.5h.7M347.5 325.1h.7M358.7 343.6h.7M337.1 336.2h.7M352.1 329.9h.7M339.8 340.3h.7M343.5 335.6h.7M354.7 335.6h.7M353.1 328.8h.7M337.5 332.2h.7M344.6 341.5h.7M341.0 331.8h.7M342.9 329.9h.7M344.9 337.0h.7M339.1 327.5h.7M342.0 346.1h.7M345.7 322.6h.7M348.9 343.7h.7M338.6 324.9h.7M348.7 336.0h.7M349.5 349.6h.7M349.8 344.3h.7M344.1 347.9h.7M343.1 338.5h.7M336.6 332.0h.7M350.4 327.5h.7M344.8 324.1h.7M346.8 331.4h.7M343.1 332.6h.7M344.5 335.5h.7M345.2 345.5h.7M353.1 333.7h.7M348.2 327.6h.7M349.5 340.5h.7M343.7 325.7h.7M349.0 339.4h.7M341.0 339.0h.7M352.8 327.0h.7M343.7 326.1h.7M348.2 328.6h.7M354.8 340.6h.7M345.6 332.0h.7M351.5 332.0h.7M344.6 336.4h.7M351.7 347.9h.7M344.8 324.9h.7M342.1 334.0h.7M349.7 339.0h.7M347.5 322.6h.7M347.0 331.0h.7M341.9 340.7h.7M352.6 337.1h.7M349.4 344.1h.7M346.7 331.8h.7M353.8 330.1h.7M345.1 338.4h.7M344.5 327.2h.7M351.9 335.3h.7M343.2 330.4h.7M349.5 342.5h.7M347.6 345.4h.7M346.5 349.2h.7M351.0 325.5h.7M346.2 338.3h.7M346.5 326.9h.7M348.9 334.9h.7M339.4 324.4h.7M344.7 343.4h.7M346.4 337.0h.7M351.2 333.5h.7M346.7 334.8h.7M351.0 329.8h.7M348.5 329.2h.7M347.1 344.9h.7M342.8 339.6h.7M347.0 337.4h.7M349.2 336.1h.7M349.0 351.0h.7M343.4 326.1h.7M350.2 338.8h.7M356.2 330.0h.7M350.1 330.7h.7M344.4 330.3h.7M342.8 327.3h.7M345.1 334.0h.7M346.9 342.4h.7M342.4 334.7h.7M342.5 342.5h.7M342.3 332.4h.7M342.9 344.6h.7M340.9 325.6h.7M344.8 332.4h.7M342.3 345.1h.7M345.7 324.1h.7M343.6 331.2h.7M342.4 331.8h.7M344.8 340.7h.7M358.6 329.5h.7M344.5 345.1h.7M354.7 342.1h.7M345.5 352.0h.7M347.1 345.6h.7M344.1 324.9h.7M353.0 327.8h.7M341.8 336.6h.7M342.3 341.2h.7M347.0 333.7h.7M344.0 347.9h.7M353.2 345.1h.7M340.5 349.6h.7M347.2 350.1h.7M349.2 329.6h.7M338.9 329.7h.7M352.4 331.6h.7M354.4 324.4h.7M349.7 334.4h.7M340.1 338.7h.7M344.8 333.0h.7M336.9 326.8h.7M343.6 334.1h.7M342.8 352.9h.7M344.7 337.2h.7M345.1 346.3h.7M349.4 344.0h.7M339.4 336.8h.7M346.0 340.9h.7M343.5 336.7h.7M342.0 332.4h.7M348.3 331.1h.7M342.7 334.2h.7M348.2 339.0h.7M341.1 331.8h.7M341.2 326.8h.7M357.8 345.8h.7M349.9 333.0h.7M350.7 348.7h.7M352.4 341.7h.7M342.0 356.0h.7M350.2 342.9h.7M348.3 338.7h.7M344.7 320.9h.7M355.0 357.7h.7M348.9 341.3h.7M346.5 342.0h.7M345.9 334.8h.7M349.5 320.8h.7M353.2 332.1h.7M349.2 340.7h.7M354.1 349.9h.7M340.5 327.2h.7M347.4 321.4h.7M349.5 334.4h.7M342.9 342.7h.7M342.2 329.1h.7M346.5 342.9h.7M345.6 332.5h.7M347.5 332.3h.7M337.8 343.4h.7M348.8 344.9h.7M347.1 339.5h.7M338.7 323.7h.7M337.4 345.6h.7M343.2 346.9h.7M348.5 331.6h.7M346.0 328.6h.7M344.4 338.4h.7M349.7 331.3h.7M339.0 345.2h.7M341.2 341.6h.7M339.3 327.7h.7M337.0 341.1h.7M348.5 362.1h.7M355.3 336.6h.7M336.8 333.5h.7M347.6 338.6h.7M347.1 326.8h.7M344.9 351.7h.7M343.8 332.1h.7M340.8 330.1h.7M352.1 338.6h.7M344.0 332.3h.7M350.2 330.6h.7M342.6 332.8h.7M334.3 345.3h.7M342.5 342.0h.7M346.3 344.2h.7M343.8 356.6h.7M349.0 333.6h.7M345.1 354.1h.7M347.9 322.9h.7M339.0 338.7h.7M349.3 333.7h.7M353.2 337.6h.7M355.9 342.7h.7M349.9 342.2h.7M353.4 340.6h.7M348.2 338.2h.7M347.3 340.3h.7M354.0 321.7h.7M344.2 322.9h.7M343.6 337.9h.7M347.2 338.8h.7M349.8 339.2h.7M344.8 334.4h.7M341.3 331.7h.7M345.8 338.7h.7M338.8 345.0h.7M346.0 322.2h.7M345.6 340.4h.7M346.8 331.9h.7M342.1 337.4h.7M347.1 338.1h.7M344.5 346.0h.7M337.7 335.4h.7M347.1 342.6h.7M344.9 339.3h.7M345.4 345.3h.7M343.5 340.1h.7M347.8 322.0h.7M351.8 330.5h.7M340.9 329.8h.7M350.3 332.0h.7M349.9 327.4h.7M347.5 320.7h.7M344.9 346.5h.7M343.8 337.0h.7M337.7 349.7h.7M345.2 339.3h.7M344.4 326.6h.7M344.6 332.7h.7M341.3 334.1h.7M341.6 331.3h.7M332.8 327.1h.7M347.7 337.3h.7M345.1 339.0h.7M354.3 338.5h.7M346.8 334.7h.7M347.8 340.9h.7M335.7 353.4h.7M350.7 339.5h.7M343.3 334.5h.7M342.6 346.8h.7M343.0 321.7h.7M345.1 328.2h.7M347.1 336.7h.7M342.2 322.4h.7M344.6 324.5h.7M345.2 336.9h.7M344.3 336.8h.7M344.2 349.4h.7M337.8 326.2h.7M351.4 325.1h.7M349.0 333.6h.7M346.1 323.5h.7M344.2 334.2h.7M336.1 335.6h.7M346.8 332.4h.7M339.0 345.1h.7M345.5 325.8h.7M341.9 337.9h.7M343.5 341.4h.7M340.2 337.6h.7M348.2 339.8h.7M342.2 327.4h.7M340.7 336.1h.7M336.3 358.9h.7M344.7 345.5h.7M344.5 346.5h.7M344.8 343.9h.7M350.7 337.8h.7M340.1 338.9h.7M346.7 332.8h.7M344.9 341.2h.7M336.4 340.0h.7M353.5 329.7h.7M351.7 331.5h.7M344.6 332.4h.7M345.9 328.9h.7M343.2 333.4h.7M341.7 334.8h.7M350.7 328.4h.7M346.9 329.0h.7M340.6 335.2h.7M344.7 343.7h.7M349.2 336.1h.7M343.0 346.7h.7M339.9 328.9h.7M349.3 338.7h.7M348.8 333.5h.7M349.3 345.1h.7M337.0 339.7h.7M350.4 326.7h.7M341.6 338.4h.7M348.8 335.2h.7M338.4 337.1h.7M345.5 332.2h.7M346.4 330.3h.7M348.6 332.6h.7M353.9 336.8h.7M343.5 321.7h.7M344.7 334.9h.7M353.2 338.4h.7M346.8 327.7h.7M346.9 327.2h.7M339.5 339.0h.7M343.9 324.1h.7M351.2 345.4h.7M348.0 321.6h.7M342.1 327.2h.7M347.1 363.6h.7M350.2 334.4h.7M342.1 323.7h.7M342.6 336.7h.7M344.8 339.5h.7M348.4 325.8h.7M349.8 335.5h.7M353.4 334.1h.7M344.3 334.3h.7M351.6 339.5h.7M351.4 343.9h.7M347.5 354.6h.7M345.6 333.3h.7M351.2 325.6h.7M347.5 343.5h.7M339.5 344.7h.7M357.5 327.8h.7M340.0 324.8h.7M353.3 341.6h.7M349.2 329.2h.7M349.1 329.1h.7M348.7 328.9h.7M340.2 331.5h.7M348.0 337.9h.7M343.5 342.8h.7M348.8 333.9h.7M345.9 331.4h.7M348.5 337.1h.7M352.5 327.3h.7M340.2 334.1h.7M344.9 332.7h.7M336.1 338.2h.7M353.9 338.2h.7M351.8 340.1h.7M347.3 338.5h.7M351.2 339.0h.7M349.2 334.7h.7M342.7 338.1h.7M344.3 340.0h.7M335.8 349.9h.7M352.3 347.8h.7M348.0 326.4h.7M344.3 325.5h.7M348.1 335.3h.7M352.7 339.4h.7M346.5 332.2h.7M337.9 332.1h.7M344.3 328.2h.7M347.0 341.9h.7M350.0 322.7h.7M333.2 346.7h.7M352.9 333.8h.7M345.0 338.0h.7M351.3 336.2h.7M344.7 337.0h.7M348.1 352.3h.7M346.4 327.5h.7M355.3 347.7h.7M353.2 327.3h.7M343.5 323.7h.7M345.7 346.3h.7M350.7 335.6h.7M347.4 339.3h.7M345.7 326.4h.7M343.1 349.0h.7M341.9 325.7h.7M349.0 332.4h.7M344.8 336.5h.7M345.7 321.4h.7M350.8 337.0h.7M354.5 342.3h.7M343.7 331.6h.7M349.9 329.6h.7M351.1 336.7h.7M345.9 348.8h.7M342.0 349.9h.7M344.7 353.2h.7M351.9 330.9h.7M354.8 338.8h.7M348.1 331.9h.7M346.2 331.8h.7M344.9 341.9h.7M350.3 345.6h.7M352.2 334.6h.7M350.0 333.2h.7M349.2 340.5h.7M348.3 328.6h.7M340.9 349.6h.7M342.8 330.1h.7M348.3 332.1h.7M348.5 346.7h.7M339.2 336.1h.7M349.3 323.6h.7M350.0 347.6h.7M346.7 339.3h.7M345.1 343.5h.7M344.1 335.4h.7M343.4 329.3h.7M352.0 334.9h.7M350.8 322.0h.7M340.9 327.8h.7M355.5 345.1h.7M357.1 331.6h.7M349.4 338.4h.7M345.3 340.3h.7M346.4 339.3h.7M338.2 326.6h.7M341.8 349.4h.7M350.7 327.3h.7M348.9 330.6h.7M341.2 327.6h.7M360.6 336.1h.7M346.1 345.7h.7M347.9 326.1h.7M356.7 353.7h.7M350.3 328.2h.7M346.3 336.3h.7M341.3 357.4h.7M346.6 330.7h.7M345.3 332.6h.7M334.6 336.5h.7M352.1 337.2h.7M348.6 334.7h.7M338.3 340.3h.7M349.8 326.7h.7M341.2 330.5h.7M344.7 330.4h.7M347.1 345.3h.7M342.3 322.4h.7M346.1 341.0h.7M353.4 343.2h.7M347.2 335.7h.7M338.4 341.1h.7M350.3 334.7h.7M345.1 338.8h.7M348.6 339.7h.7M348.5 322.6h.7M343.9 321.6h.7M350.3 356.9h.7M342.8 334.2h.7M347.7 329.5h.7M354.6 337.1h.7M356.7 354.4h.7M348.8 329.0h.7M352.8 333.1h.7M342.7 333.6h.7M351.9 328.7h.7M345.5 342.6h.7M345.2 342.7h.7M352.3 331.2h.7M341.0 325.5h.7M352.5 339.9h.7M346.9 332.1h.7M351.6 331.4h.7M359.4 338.0h.7M339.0 344.1h.7M347.7 335.2h.7M345.7 345.3h.7M344.2 348.3h.7M342.9 342.9h.7M339.4 343.3h.7M341.9 333.3h.7M350.1 328.9h.7M349.0 335.3h.7M352.7 342.8h.7M347.7 333.7h.7M342.3 347.0h.7M345.4 324.9h.7M342.4 331.6h.7M347.7 342.9h.7M344.2 340.2h.7M348.1 335.1h.7M342.7 341.1h.7M346.1 333.2h.7M345.9 333.3h.7M347.9 344.3h.7M346.8 330.0h.7M345.9 334.0h.7M348.8 341.5h.7M354.2 342.6h.7M338.5 328.2h.7M340.5 337.7h.7M357.5 339.0h.7M343.8 346.7h.7M349.4 328.5h.7M341.9 347.4h.7M342.9 339.9h.7M340.0 335.2h.7M342.3 321.4h.7M344.0 330.8h.7M347.7 321.0h.7M347.6 332.2h.7M338.9 345.2h.7M344.3 338.7h.7M353.8 338.6h.7M350.8 337.0h.7M343.7 336.8h.7M339.0 339.2h.7M350.3 338.8h.7M343.2 325.2h.7M342.9 332.8h.7M339.6 351.1h.7M342.6 336.3h.7M344.2 336.3h.7M336.2 326.7h.7M346.2 334.9h.7M348.3 330.8h.7M350.3 337.0h.7M346.2 335.4h.7M351.4 334.9h.7M353.8 336.3h.7M347.5 335.2h.7M347.8 339.1h.7M343.4 341.8h.7M358.6 339.7h.7M346.9 328.6h.7M342.7 328.4h.7M347.6 329.5h.7M354.0 331.7h.7M342.1 327.7h.7M345.9 334.0h.7M350.8 329.2h.7M348.0 343.1h.7M345.0 320.8h.7M347.5 343.7h.7M348.2 335.3h.7M337.2 348.6h.7M345.5 325.4h.7M344.8 336.5h.7M346.6 327.8h.7M357.8 345.5h.7M351.1 340.5h.7M344.5 325.5h.7M340.3 344.1h.7M346.7 348.7h.7M335.6 346.2h.7M348.6 330.7h.7M350.5 329.7h.7M345.0 339.5h.7M347.1 337.6h.7M347.4 343.8h.7M355.6 329.7h.7M346.1 338.0h.7M342.6 331.1h.7M347.6 335.3h.7M350.2 333.2h.7M343.2 323.1h.7M338.3 337.4h.7M347.8 331.8h.7M349.4 325.3h.7M344.7 333.3h.7M342.8 332.8h.7M347.7 355.0h.7M346.3 341.1h.7M350.3 327.3h.7M348.6 331.8h.7M350.6 330.4h.7M351.4 327.8h.7M344.1 342.2h.7M351.2 342.4h.7M355.8 343.7h.7M346.3 343.0h.7M342.4 341.9h.7M348.2 334.0h.7M342.9 344.0h.7M336.8 333.8h.7M339.6 332.3h.7M344.2 328.3h.7M343.4 337.6h.7M355.7 349.6h.7M345.4 331.7h.7M349.2 328.2h.7M339.2 343.3h.7M344.4 347.8h.7M347.9 323.1h.7M347.7 339.2h.7M346.6 323.9h.7M339.1 350.7h.7M333.0 327.2h.7M350.2 350.1h.7M349.4 335.0h.7M348.1 344.7h.7M343.8 345.8h.7M347.5 336.9h.7M348.4 337.8h.7M341.9 348.1h.7M344.0 333.0h.7M335.1 321.5h.7M349.0 334.4h.7M345.8 332.1h.7M349.3 329.8h.7M339.3 321.7h.7M342.5 337.8h.7M353.2 339.9h.7M343.1 324.2h.7M350.3 339.4h.7M346.1 340.4h.7M349.1 339.4h.7M352.7 322.4h.7M343.2 330.8h.7M341.6 351.6h.7M348.0 338.7h.7M350.1 333.2h.7M350.3 333.5h.7M349.9 339.9h.7M352.6 322.6h.7M341.9 328.9h.7M342.4 338.4h.7M350.9 332.3h.7M351.5 342.6h.7M343.5 340.7h.7M353.2 331.2h.7M335.9 339.8h.7M347.7 340.4h.7M348.8 334.8h.7M346.3 328.5h.7M355.7 348.2h.7M345.7 328.1h.7M348.4 348.6h.7M346.6 328.4h.7M350.8 337.4h.7M342.6 333.4h.7M347.1 326.0h.7M347.7 345.9h.7M351.4 345.7h.7M349.9 334.5h.7M349.3 345.5h.7M346.6 339.6h.7M343.4 335.4h.7M344.1 326.4h.7M348.3 353.8h.7M338.3 331.3h.7M347.3 329.1h.7M347.2 342.4h.7M338.7 334.5h.7M349.2 340.1h.7M355.1 337.0h.7M352.3 330.6h.7M342.1 330.9h.7M344.3 342.8h.7M350.0 335.5h.7M342.2 336.6h.7M344.5 332.2h.7M338.2 348.5h.7M349.2 360.2h.7M359.2 335.8h.7M357.0 331.9h.7M359.7 335.0h.7M337.7 335.3h.7M350.3 349.7h.7M351.1 350.2h.7M347.3 322.7h.7M347.2 328.0h.7M341.8 325.7h.7M347.0 344.1h.7M345.0 324.5h.7M344.0 334.1h.7M352.0 336.4h.7M354.9 353.9h.7M344.0 358.2h.7M339.1 343.3h.7M340.3 330.3h.7M348.9 337.3h.7M347.9 333.9h.7M337.7 321.8h.7M342.4 327.0h.7M344.2 321.1h.7M345.9 339.5h.7M344.1 346.7h.7M347.4 343.3h.7M342.2 337.2h.7M338.1 332.0h.7M347.6 353.4h.7M348.0 332.3h.7M351.5 336.4h.7M346.5 336.6h.7M351.1 349.0h.7M339.7 336.3h.7M344.2 335.6h.7M357.8 333.5h.7M334.7 342.7h.7M344.2 327.6h.7M357.0 352.4h.7M351.4 337.6h.7M343.0 347.8h.7M345.3 337.4h.7M345.6 336.8h.7M337.0 325.1h.7M340.9 331.2h.7M345.6 334.7h.7M344.4 344.3h.7M336.5 330.9h.7M345.3 328.1h.7M353.1 334.4h.7M351.7 340.1h.7M345.2 343.8h.7M339.5 325.0h.7M344.4 333.7h.7M338.1 326.6h.7M340.2 355.5h.7M352.5 340.5h.7M347.5 346.7h.7M347.0 345.9h.7M350.7 353.4h.7M351.6 330.6h.7M349.4 344.9h.7M349.6 354.0h.7M347.9 331.9h.7M350.7 345.1h.7M346.4 339.8h.7M347.1 337.6h.7M348.2 332.0h.7M350.0 338.5h.7M354.8 338.0h.7M347.0 325.0h.7M357.3 333.4h.7M344.0 333.1h.7M346.5 334.5h.7M354.6 331.3h.7M345.4 331.6h.7M349.4 321.5h.7M351.3 332.3h.7M339.6 347.9h.7M340.1 341.3h.7M346.6 329.7h.7M338.5 329.3h.7M350.1 334.8h.7M343.7 343.6h.7M346.7 336.0h.7M342.3 323.6h.7M344.2 337.8h.7M344.5 338.0h.7M345.2 333.3h.7M346.3 338.3h.7M335.7 335.2h.7M345.5 331.5h.7M351.1 345.1h.7M352.0 341.5h.7M348.6 336.4h.7M350.1 329.7h.7M345.8 338.0h.7M345.8 324.8h.7M346.0 331.8h.7M343.4 340.5h.7M351.6 336.0h.7M340.9 333.8h.7M345.6 326.4h.7M343.5 336.4h.7M343.6 339.0h.7M340.2 340.7h.7M343.1 336.3h.7M346.5 330.9h.7M347.4 340.6h.7M345.3 334.7h.7M340.9 334.8h.7M347.2 330.2h.7M346.5 332.1h.7M341.5 334.5h.7M342.7 342.5h.7M342.6 346.9h.7M346.3 334.9h.7M342.9 338.8h.7M341.5 322.2h.7M351.9 330.7h.7M354.0 337.1h.7M354.3 322.9h.7M344.3 337.3h.7M343.7 335.7h.7M345.6 340.6h.7M349.4 325.4h.7M354.3 322.7h.7M342.4 339.4h.7M345.6 340.8h.7M348.2 328.6h.7M338.5 344.8h.7M345.4 334.2h.7M344.9 332.9h.7M342.9 335.5h.7M347.6 324.7h.7M338.8 339.7h.7M350.6 330.5h.7M345.6 330.9h.7M348.3 334.4h.7M343.7 328.7h.7M348.5 338.1h.7M344.3 338.4h.7M331.4 331.4h.7M343.6 337.0h.7M352.5 338.3h.7M340.4 342.5h.7M345.1 341.9h.7M339.6 321.4h.7M338.7 340.0h.7M352.2 337.1h.7M347.3 334.1h.7M347.4 326.5h.7M352.4 341.7h.7M351.1 334.4h.7M350.5 343.2h.7M358.6 344.0h.7M342.8 328.4h.7M350.6 339.2h.7M349.1 335.5h.7M342.5 336.2h.7M339.3 337.4h.7M357.5 341.1h.7M342.3 327.8h.7M358.1 340.5h.7M343.9 339.9h.7M344.8 326.2h.7M347.1 339.3h.7M352.7 324.6h.7M353.6 333.0h.7M336.7 343.3h.7M351.3 339.5h.7M350.5 327.6h.7M348.9 321.4h.7M343.2 356.1h.7M354.5 338.3h.7M348.9 335.8h.7M349.5 336.8h.7M341.9 332.1h.7M337.1 327.8h.7M345.6 338.2h.7M357.4 321.6h.7M356.7 331.5h.7M344.3 334.4h.7M357.2 326.1h.7M344.6 339.6h.7M351.1 338.3h.7M347.0 343.3h.7M341.7 348.2h.7M344.0 338.2h.7M341.9 330.0h.7M351.3 339.8h.7M345.5 341.8h.7M336.4 336.6h.7M338.1 343.5h.7M342.4 335.1h.7M342.4 352.2h.7M353.9 321.0h.7M349.7 332.6h.7M353.7 337.9h.7M342.8 331.5h.7M346.7 349.2h.7M346.9 330.8h.7M344.5 342.1h.7M345.0 349.7h.7M350.8 336.4h.7M347.0 332.4h.7M334.8 344.9h.7M353.9 333.4h.7M347.9 323.9h.7M345.5 336.6h.7M346.1 335.6h.7M351.4 341.0h.7M350.3 330.3h.7M344.0 335.2h.7M338.6 323.2h.7M348.1 335.2h.7M346.9 345.0h.7M336.0 338.5h.7M345.3 324.3h.7M349.8 346.8h.7M339.2 335.5h.7M351.2 335.5h.7M344.3 343.2h.7M338.0 334.8h.7M343.3 334.5h.7M340.3 336.6h.7M352.6 338.9h.7M340.1 330.9h.7M342.7 322.8h.7M350.1 339.3h.7M345.6 347.4h.7M350.0 330.3h.7M346.7 334.0h.7M346.4 346.1h.7M352.7 327.2h.7M356.1 321.9h.7M345.2 355.4h.7M349.9 344.9h.7M347.2 339.4h.7M343.3 347.4h.7M345.5 330.8h.7M339.2 353.4h.7M339.2 326.7h.7M348.9 335.5h.7M355.0 340.4h.7M348.1 328.7h.7M349.2 323.3h.7M342.8 346.7h.7M347.8 325.6h.7M343.4 334.1h.7M348.0 336.9h.7M344.3 336.3h.7M351.7 330.1h.7M340.0 328.4h.7M347.8 355.2h.7M340.4 331.0h.7M343.0 344.7h.7M349.3 334.0h.7M348.0 348.4h.7M345.1 325.9h.7M346.6 325.0h.7M347.6 342.5h.7M344.7 343.0h.7M352.4 350.6h.7M344.8 340.2h.7M350.5 342.1h.7M351.2 339.4h.7M349.9 343.0h.7M348.9 340.2h.7M347.9 334.8h.7M337.6 334.8h.7M346.7 330.8h.7M344.4 345.8h.7M344.0 334.4h.7M352.6 337.9h.7M349.1 330.9h.7M343.8 322.2h.7M349.6 335.6h.7M343.1 335.9h.7M352.0 343.1h.7M350.5 345.0h.7M347.7 335.4h.7M346.5 339.4h.7M338.2 337.8h.7M346.7 328.1h.7M343.8 345.0h.7M344.6 334.6h.7M353.8 327.4h.7M346.3 331.9h.7M344.0 333.9h.7M349.2 333.2h.7M351.1 341.5h.7M341.3 335.9h.7M345.7 324.7h.7M337.9 343.8h.7M348.0 345.5h.7M354.2 341.8h.7M348.3 346.0h.7M345.9 332.2h.7M351.3 340.8h.7M344.0 332.0h.7M340.4 352.7h.7M344.7 331.3h.7M343.6 331.1h.7M347.1 335.7h.7M347.2 349.2h.7M346.8 330.5h.7M356.3 331.1h.7M349.9 337.4h.7M345.8 327.1h.7M347.3 337.1h.7M355.4 322.9h.7M339.0 340.0h.7M344.9 344.8h.7M337.7 323.0h.7M353.8 328.1h.7M342.2 334.0h.7M354.3 333.8h.7M350.3 334.0h.7M341.3 337.5h.7M337.7 343.8h.7M338.7 336.5h.7M336.1 334.5h.7M348.5 329.2h.7M356.0 335.3h.7M348.7 323.2h.7M344.1 337.3h.7M350.2 340.2h.7M339.7 323.1h.7M341.1 344.6h.7M338.0 325.1h.7M347.1 334.9h.7M346.2 328.5h.7M348.2 334.4h.7M345.6 337.2h.7M345.4 333.7h.7M352.0 341.1h.7M346.9 336.4h.7M353.1 324.3h.7M337.1 335.6h.7M338.2 326.5h.7M347.6 337.0h.7M344.8 329.0h.7M339.4 329.4h.7M342.5 335.0h.7M351.0 332.8h.7M341.0 338.8h.7M352.4 337.9h.7M344.3 332.1h.7M344.9 326.6h.7M350.9 332.7h.7M355.8 345.2h.7M344.1 356.5h.7M344.2 328.8h.7M337.9 335.3h.7M348.4 332.3h.7M345.9 339.1h.7M342.7 334.8h.7M345.2 347.7h.7M349.7 334.5h.7M341.5 334.1h.7M342.6 332.3h.7M348.2 341.9h.7M351.3 330.5h.7M347.4 335.0h.7M350.5 353.3h.7M351.4 342.7h.7M347.7 339.6h.7M336.9 338.1h.7M345.7 335.0h.7M350.0 361.1h.7M347.8 325.4h.7M344.6 342.1h.7M349.9 336.9h.7M349.1 328.9h.7M344.8 329.1h.7M344.3 337.2h.7M347.0 343.3h.7M355.6 339.5h.7M342.0 335.5h.7M342.8 328.9h.7M344.5 343.1h.7M342.7 338.1h.7M342.9 342.5h.7M352.0 323.6h.7M350.0 328.3h.7M348.1 334.6h.7M350.6 325.1h.7M355.6 338.2h.7M343.4 345.8h.7M353.0 339.7h.7M344.1 328.8h.7M342.2 348.6h.7M346.8 335.2h.7M344.8 345.4h.7M344.8 342.4h.7M337.9 329.0h.7M348.1 327.6h.7M348.4 339.8h.7M348.6 334.9h.7M346.0 364.4h.7M347.8 330.3h.7M333.5 350.7h.7M346.4 350.2h.7M346.4 344.4h.7M353.0 330.8h.7M335.4 345.1h.7M355.7 323.2h.7M344.1 334.8h.7M345.3 340.4h.7M345.9 340.3h.7M342.6 322.5h.7M355.2 337.6h.7M348.4 326.0h.7M348.7 335.0h.7M348.8 336.5h.7M351.5 346.9h.7M344.8 332.3h.7M350.0 323.6h.7M343.1 332.5h.7M336.4 351.2h.7M345.2 333.7h.7M340.8 339.9h.7M344.3 325.7h.7M348.1 348.0h.7M339.4 335.2h.7M356.9 333.8h.7M343.1 348.6h.7M347.6 343.1h.7M354.4 340.8h.7M348.1 351.3h.7M339.3 326.2h.7M345.4 330.4h.7M338.8 341.3h.7M345.6 338.9h.7M344.6 335.3h.7M339.2 350.0h.7M351.5 324.5h.7M344.3 338.4h.7M344.5 335.1h.7M350.1 339.4h.7M341.8 334.0h.7M346.1 333.3h.7M346.7 323.0h.7M346.8 338.9h.7M348.4 339.2h.7M343.8 336.6h.7M351.1 336.1h.7M347.6 336.0h.7M349.1 324.9h.7M346.2 342.5h.7M342.2 340.1h.7M344.3 332.0h.7M341.1 328.0h.7M352.1 323.5h.7M347.2 324.3h.7M356.2 341.3h.7M342.7 326.1h.7M345.2 338.3h.7M354.5 347.5h.7M341.8 337.4h.7M350.9 329.6h.7M344.2 343.1h.7M339.9 335.8h.7M346.2 333.1h.7M346.6 322.1h.7M350.4 331.8h.7M355.9 351.8h.7M344.3 351.4h.7M353.3 328.9h.7M345.3 345.4h.7M343.0 332.6h.7M334.5 323.9h.7M340.9 329.6h.7M343.0 337.6h.7M347.7 332.5h.7M340.0 337.5h.7M349.4 335.1h.7M353.1 331.8h.7M350.5 337.7h.7M352.8 348.9h.7M340.9 320.6h.7M351.4 338.1h.7M348.1 331.9h.7M342.9 345.4h.7M348.8 331.1h.7M346.7 337.9h.7M340.2 330.3h.7M348.9 336.7h.7M339.9 338.1h.7M356.0 340.6h.7M340.2 331.7h.7M343.5 329.1h.7M342.5 330.7h.7M346.1 325.3h.7M350.9 338.2h.7M355.8 342.4h.7M351.1 339.8h.7M346.0 326.7h.7M349.7 336.3h.7M343.4 338.9h.7M348.1 330.2h.7M353.4 331.6h.7M347.1 344.3h.7M344.0 333.0h.7M348.7 332.9h.7M344.1 326.3h.7M347.6 332.4h.7M350.5 343.9h.7M346.4 341.9h.7M343.1 348.7h.7M343.9 334.5h.7M344.7 331.5h.7M350.3 335.6h.7M342.3 341.9h.7M346.7 340.3h.7M347.5 331.8h.7M337.9 333.1h.7M342.3 345.5h.7M345.5 347.7h.7M357.5 345.1h.7M357.9 328.0h.7M344.1 327.1h.7M340.1 325.1h.7M350.8 329.1h.7M345.0 340.3h.7M344.6 348.3h.7M352.2 341.5h.7M354.5 340.0h.7M347.4 344.6h.7M351.5 324.6h.7M351.8 344.0h.7M335.8 352.3h.7M347.3 347.2h.7M340.9 337.4h.7M343.2 328.8h.7M347.8 323.8h.7M346.4 341.3h.7M343.0 326.8h.7M349.2 343.2h.7M350.9 331.3h.7M344.6 346.9h.7M350.7 338.4h.7M347.6 334.4h.7M349.4 341.4h.7M346.7 337.9h.7M339.9 334.6h.7M354.1 337.5h.7M340.0 331.9h.7M347.0 347.5h.7M356.7 335.4h.7M345.8 336.8h.7M341.3 346.5h.7M340.8 341.7h.7M344.4 327.3h.7M348.1 349.3h.7M340.8 337.5h.7M343.2 344.5h.7M339.5 325.3h.7M344.7 325.2h.7M351.2 323.6h.7M346.8 331.7h.7M351.2 331.4h.7M345.6 349.5h.7M349.6 346.0h.7M353.3 339.8h.7M348.0 322.1h.7M338.3 332.4h.7M347.9 344.8h.7M342.9 333.1h.7M356.4 326.7h.7M345.6 334.9h.7M343.2 347.9h.7M339.0 333.4h.7M338.6 330.0h.7M338.6 335.8h.7M348.2 329.8h.7M348.6 334.1h.7M344.7 336.5h.7M352.3 326.1h.7M350.6 338.0h.7M345.5 329.8h.7M348.1 342.3h.7M342.1 341.8h.7M346.7 342.5h.7M347.8 334.1h.7M347.5 341.0h.7M339.6 335.8h.7M335.0 337.4h.7M344.2 335.9h.7M351.2 343.3h.7M353.3 343.4h.7M345.5 329.3h.7M358.8 330.2h.7M344.8 339.2h.7M342.6 337.0h.7M347.5 331.4h.7M341.6 336.0h.7M348.5 327.7h.7M347.2 336.6h.7M342.3 339.1h.7M340.0 343.1h.7M343.1 344.1h.7M347.0 336.2h.7M340.1 341.9h.7M341.3 353.9h.7M348.6 337.4h.7M346.6 341.3h.7M348.7 339.0h.7M350.7 334.5h.7M354.2 323.4h.7M338.7 340.5h.7M346.4 323.4h.7M340.8 329.9h.7M352.5 341.0h.7M338.6 324.8h.7M347.2 325.7h.7M343.6 331.0h.7M346.7 340.5h.7M343.2 331.5h.7M347.8 349.0h.7M348.5 332.8h.7M351.0 334.6h.7M340.0 341.1h.7M354.3 326.6h.7M350.2 325.7h.7M346.1 334.8h.7M344.9 334.8h.7M349.7 331.6h.7M345.4 333.2h.7M347.8 330.5h.7M350.3 338.2h.7M343.7 325.3h.7M345.3 344.0h.7M349.6 335.8h.7M356.1 348.4h.7M349.0 347.1h.7M345.3 332.8h.7M346.7 331.6h.7M353.0 340.3h.7M353.9 332.0h.7M353.6 336.9h.7M349.0 339.0h.7M340.5 343.1h.7M344.4 340.9h.7M346.3 327.7h.7M345.1 338.1h.7M345.1 349.6h.7M352.3 336.5h.7M344.8 347.5h.7M346.7 345.2h.7M350.2 343.2h.7M345.8 334.3h.7M348.7 340.0h.7M346.2 335.8h.7M347.7 344.5h.7M348.2 333.2h.7M351.7 341.6h.7M344.0 335.0h.7M335.4 334.6h.7M341.3 336.7h.7M343.1 345.8h.7M352.7 332.7h.7M342.3 346.3h.7M340.1 332.8h.7M344.7 337.7h.7M346.8 328.2h.7M350.7 338.8h.7M348.1 348.6h.7M355.5 337.8h.7M344.6 333.4h.7M346.0 326.9h.7M343.2 331.5h.7M349.0 341.7h.7M334.8 322.5h.7M343.6 326.9h.7M346.4 321.3h.7M345.4 337.3h.7M348.4 332.1h.7M348.5 341.8h.7M344.9 327.0h.7M344.1 338.0h.7M347.9 321.8h.7M339.4 322.4h.7M355.1 339.1h.7M347.4 325.9h.7M336.4 352.2h.7M354.2 338.8h.7M346.3 337.7h.7M347.9 325.1h.7M344.6 333.9h.7M344.5 329.5h.7M347.3 332.3h.7M347.8 341.8h.7M342.4 334.0h.7M342.4 342.3h.7M350.0 344.0h.7M351.6 336.6h.7M341.8 329.4h.7M352.3 336.7h.7M350.3 330.9h.7M345.4 351.3h.7M351.2 322.6h.7M343.2 336.8h.7M351.5 343.5h.7M350.6 345.6h.7M349.8 342.6h.7M342.3 325.7h.7M344.1 346.0h.7M353.0 326.8h.7M345.2 336.2h.7M349.3 338.3h.7M353.6 337.8h.7M345.5 333.6h.7M351.7 333.5h.7M349.0 332.2h.7M345.1 329.1h.7M350.4 332.5h.7M342.1 341.6h.7M344.5 352.7h.7M344.4 336.2h.7M342.8 348.1h.7M347.9 333.7h.7M352.5 335.7h.7M352.1 328.7h.7M353.4 330.2h.7M346.7 352.1h.7M344.1 335.8h.7M345.8 336.5h.7M347.2 334.4h.7M348.6 332.0h.7M352.9 341.2h.7M341.1 331.3h.7M345.0 343.4h.7M337.3 344.7h.7M337.2 330.5h.7M342.4 332.8h.7M350.3 343.2h.7M346.0 333.9h.7M341.9 345.2h.7M344.2 357.8h.7M339.1 330.2h.7M349.8 350.6h.7M345.0 339.2h.7M343.6 337.4h.7M336.4 340.9h.7M344.0 339.1h.7M345.9 327.7h.7M339.1 327.5h.7M346.3 341.5h.7M351.8 343.5h.7M356.3 343.8h.7M355.1 342.1h.7M348.0 321.5h.7M351.1 334.5h.7M344.7 324.7h.7M352.5 335.5h.7M344.5 329.2h.7M346.1 339.2h.7M349.4 336.5h.7M347.5 336.1h.7M344.5 345.0h.7M345.9 330.9h.7M354.7 327.9h.7M344.3 336.6h.7M345.7 334.9h.7M351.1 343.8h.7M340.1 350.9h.7M340.9 327.2h.7M349.8 327.4h.7M340.8 342.4h.7M348.9 338.7h.7M353.2 344.1h.7M344.3 331.8h.7M348.5 332.2h.7M347.8 342.8h.7M347.8 324.1h.7M354.4 335.1h.7M348.2 322.2h.7M346.3 325.1h.7M354.1 331.7h.7M339.9 334.6h.7M342.1 336.1h.7M342.0 321.6h.7M345.6 333.2h.7M342.7 341.2h.7M350.5 334.8h.7M346.1 338.6h.7M350.9 337.1h.7M341.1 340.8h.7M357.8 340.8h.7M348.0 331.0h.7M339.2 339.8h.7M349.3 339.3h.7M347.2 346.1h.7M345.8 337.0h.7M350.2 340.2h.7M349.8 339.4h.7M347.9 326.1h.7M345.0 343.9h.7M345.8 332.1h.7M343.8 337.1h.7M342.6 321.5h.7M355.4 333.6h.7M346.8 340.6h.7M355.6 329.8h.7M345.8 332.8h.7M351.0 343.2h.7M354.0 332.0h.7M340.7 330.4h.7M337.4 338.4h.7M336.7 339.1h.7M341.5 339.1h.7M353.5 334.6h.7M345.8 335.9h.7M343.5 338.4h.7M345.3 336.9h.7M342.6 339.9h.7M348.1 328.6h.7M346.1 324.2h.7M339.7 326.5h.7M348.4 332.4h.7M346.2 337.8h.7M345.1 334.1h.7M343.8 353.2h.7M342.5 340.5h.7M345.3 350.3h.7M341.0 334.8h.7M348.3 331.6h.7M356.6 337.7h.7M348.4 321.9h.7M348.5 325.8h.7M349.1 338.6h.7M345.9 331.0h.7M342.6 330.4h.7M353.8 329.0h.7M345.0 338.9h.7M339.9 332.2h.7M351.9 337.6h.7M349.1 341.4h.7M350.1 340.2h.7M335.1 333.8h.7M353.2 326.1h.7M350.9 347.4h.7M345.9 333.3h.7M341.6 340.8h.7M347.6 340.1h.7M346.1 335.9h.7M343.6 344.3h.7M345.7 345.7h.7M350.7 329.6h.7M341.1 344.0h.7M348.3 332.6h.7M349.2 332.7h.7M349.9 330.8h.7M344.2 341.1h.7M348.2 323.9h.7M348.9 341.3h.7M338.6 327.8h.7M341.0 327.6h.7M343.1 351.0h.7M341.6 327.8h.7M345.2 346.3h.7M344.5 343.3h.7M351.3 332.2h.7M348.3 343.6h.7M347.5 348.7h.7M348.3 348.5h.7M341.7 337.5h.7M335.0 324.0h.7M343.8 332.3h.7M345.4 339.8h.7M339.5 321.6h.7M350.0 338.0h.7M350.9 342.4h.7M347.9 331.3h.7M348.8 327.9h.7M340.2 332.9h.7M357.1 327.7h.7M352.8 334.1h.7M354.6 331.5h.7M340.8 330.3h.7M345.5 340.1h.7M343.0 337.2h.7M357.6 335.7h.7M349.6 356.9h.7M342.8 335.4h.7M344.8 337.7h.7M342.6 333.1h.7M349.9 335.6h.7M337.2 344.8h.7M348.2 351.2h.7M342.4 338.4h.7M342.0 341.9h.7M343.7 346.0h.7M341.0 341.0h.7M350.0 343.8h.7M348.8 331.8h.7M347.0 336.0h.7M346.4 343.8h.7M341.9 333.0h.7M352.7 334.4h.7M349.0 331.2h.7M346.7 346.1h.7M354.0 335.9h.7M343.3 347.7h.7M337.3 334.0h.7M349.8 354.8h.7M351.4 334.4h.7M346.1 335.1h.7M341.8 332.2h.7M347.9 321.7h.7M350.8 336.5h.7M338.5 323.4h.7M343.0 348.9h.7M348.7 326.4h.7M343.9 322.1h.7M341.8 321.4h.7M355.0 341.2h.7M352.6 339.2h.7M342.8 343.5h.7M348.7 329.7h.7M338.5 335.2h.7M340.5 333.1h.7M351.0 339.9h.7M347.0 333.3h.7M347.3 327.6h.7M350.1 348.4h.7M343.4 322.8h.7M346.4 321.4h.7M355.8 334.6h.7M348.4 336.9h.7M343.9 329.3h.7M341.2 351.7h.7M346.7 344.3h.7M353.6 333.0h.7M343.9 332.2h.7M348.1 327.3h.7M350.9 333.4h.7M342.7 341.2h.7M353.2 328.1h.7M345.5 334.0h.7M348.9 341.9h.7M345.8 327.8h.7M343.5 342.6h.7M355.2 336.9h.7M342.4 356.2h.7M351.9 329.4h.7M340.3 327.8h.7M360.6 345.7h.7M341.6 329.0h.7M344.6 324.8h.7M349.2 326.4h.7M345.2 340.2h.7M345.1 343.5h.7M343.8 345.1h.7M343.1 330.5h.7M339.3 338.1h.7M349.7 335.5h.7M353.3 340.7h.7M348.0 321.7h.7M345.5 338.3h.7M340.6 347.5h.7M347.9 347.8h.7M340.4 350.2h.7M353.0 336.5h.7M344.7 348.8h.7M341.6 333.6h.7M351.8 334.7h.7M342.4 325.8h.7M344.0 345.9h.7M359.6 327.2h.7M340.5 340.6h.7M345.5 331.9h.7M345.6 346.5h.7M350.1 329.1h.7M348.8 325.2h.7M344.2 342.9h.7M354.7 339.6h.7M336.8 333.7h.7M350.9 340.7h.7M348.2 330.7h.7M337.0 331.4h.7M347.1 329.8h.7M342.2 338.6h.7M344.7 336.9h.7M351.5 329.4h.7M351.2 326.0h.7M350.6 338.7h.7M348.8 341.4h.7M347.4 320.9h.7M354.5 337.2h.7M347.4 335.8h.7M348.3 333.5h.7M339.8 325.5h.7M355.0 340.5h.7M341.1 348.8h.7M347.7 326.1h.7M342.6 329.9h.7M351.9 341.7h.7M345.1 333.4h.7M342.9 336.3h.7M341.3 342.8h.7M345.9 343.3h.7M354.0 337.9h.7M341.8 337.5h.7M342.1 344.4h.7M344.8 333.9h.7M336.1 341.1h.7M343.9 346.3h.7M348.9 334.9h.7M350.6 333.1h.7M342.4 335.0h.7M345.2 344.5h.7M343.0 326.4h.7M353.0 342.9h.7M344.6 336.4h.7M338.5 349.3h.7M345.8 339.6h.7M349.6 337.4h.7M347.6 334.0h.7M346.0 333.4h.7M358.5 336.0h.7M346.2 340.1h.7M349.8 322.3h.7M346.1 348.7h.7M345.5 333.7h.7M349.3 334.6h.7M343.8 330.0h.7M338.0 336.9h.7M349.2 340.5h.7M342.7 338.9h.7M341.3 321.7h.7M349.5 324.7h.7M339.6 332.7h.7M344.8 348.4h.7M351.4 353.0h.7M347.3 321.6h.7M340.1 337.7h.7M339.7 339.0h.7M351.5 340.4h.7M338.2 344.8h.7M354.8 344.1h.7M357.9 328.6h.7M345.8 342.6h.7M351.3 348.0h.7M345.7 329.6h.7M345.4 329.3h.7M346.9 332.5h.7M350.2 329.5h.7M350.9 328.8h.7M352.4 345.7h.7M346.3 333.6h.7M348.1 339.2h.7M341.4 341.4h.7M337.4 325.5h.7M340.6 337.1h.7M351.7 330.5h.7M344.8 338.2h.7M348.1 340.3h.7M340.1 338.1h.7M351.1 341.8h.7M353.6 323.1h.7M352.3 323.2h.7M340.9 337.1h.7M357.8 345.6h.7M345.8 336.2h.7M351.8 325.0h.7M344.7 330.4h.7M352.3 340.2h.7M348.0 345.8h.7M345.2 327.7h.7M347.8 335.3h.7M338.6 337.1h.7M342.2 347.0h.7M350.2 343.0h.7M351.3 335.4h.7M351.9 340.6h.7M349.2 344.5h.7M356.1 321.2h.7M344.2 323.0h.7M340.4 341.3h.7M341.7 333.7h.7M343.7 343.7h.7M354.3 336.4h.7M343.1 330.6h.7M345.5 321.7h.7M340.5 337.1h.7M347.7 336.9h.7M348.1 329.2h.7M345.9 326.9h.7M349.0 337.4h.7M344.5 336.7h.7M351.5 336.0h.7M355.9 345.7h.7M347.0 333.8h.7M340.8 326.4h.7M347.5 336.5h.7M348.2 349.6h.7M348.5 338.8h.7M345.4 326.2h.7M344.3 334.7h.7M350.0 341.3h.7M341.6 334.5h.7M350.2 323.4h.7M345.3 323.2h.7M343.2 345.2h.7M348.3 353.8h.7M341.5 343.2h.7M345.7 322.0h.7M347.5 337.4h.7M345.2 345.7h.7M345.0 341.7h.7M346.5 331.0h.7M348.4 344.4h.7M353.5 345.5h.7M338.3 324.2h.7M345.2 345.5h.7M337.4 336.7h.7M340.8 342.1h.7M351.5 333.2h.7M353.1 341.8h.7M345.8 347.7h.7M356.8 334.8h.7M347.8 338.3h.7M350.5 332.1h.7M345.5 345.5h.7M346.0 346.7h.7M347.9 350.0h.7M353.7 325.8h.7M349.9 333.5h.7M343.7 342.9h.7M351.7 340.0h.7M351.9 349.3h.7M348.3 340.8h.7M348.9 348.3h.7M342.4 335.0h.7M340.8 330.9h.7M348.3 332.6h.7M343.0 333.6h.7M352.0 353.1h.7M347.2 329.5h.7M347.6 330.4h.7M348.2 341.4h.7M355.9 329.3h.7M346.0 328.6h.7M351.8 327.6h.7M352.9 350.9h.7M338.4 344.9h.7M357.7 336.6h.7M346.4 352.8h.7M345.6 334.9h.7M342.3 341.2h.7M353.0 329.1h.7M350.6 340.0h.7M354.2 334.9h.7M343.0 337.6h.7M348.9 333.4h.7M342.1 341.1h.7M339.0 326.0h.7M346.1 324.3h.7M349.1 322.1h.7M345.7 339.3h.7M353.2 328.6h.7M348.0 345.8h.7M342.8 338.9h.7M352.1 345.1h.7M346.4 338.8h.7M343.2 340.3h.7M348.7 331.3h.7M358.2 341.2h.7M342.7 336.0h.7M349.0 326.9h.7M342.3 342.0h.7M346.3 335.2h.7M351.7 333.5h.7M339.5 326.3h.7M345.9 334.1h.7M344.8 328.3h.7M338.2 333.6h.7M348.7 338.1h.7M349.7 360.7h.7M341.0 330.6h.7M350.0 334.9h.7M362.0 334.9h.7M346.1 335.8h.7M345.6 330.0h.7M351.9 338.6h.7M348.2 333.5h.7M337.5 331.8h.7M335.8 330.4h.7M348.4 333.5h.7M347.0 349.1h.7M349.3 344.2h.7M345.1 332.9h.7M339.9 348.2h.7M352.1 335.1h.7M348.9 337.8h.7M353.2 340.0h.7M346.2 326.8h.7M345.4 345.8h.7M343.2 333.6h.7M349.6 349.4h.7M335.3 334.5h.7M344.2 342.6h.7M344.7 320.9h.7M335.2 321.5h.7M344.6 326.6h.7M339.9 352.5h.7M339.3 333.0h.7M352.4 335.6h.7M336.8 335.7h.7M346.4 347.0h.7M342.6 322.6h.7M344.6 326.1h.7M347.5 341.1h.7M346.2 335.2h.7M340.6 323.8h.7M348.0 347.5h.7M350.5 356.2h.7M346.3 337.8h.7M349.0 342.7h.7M352.9 335.1h.7M351.1 333.4h.7M350.1 346.9h.7M346.4 320.8h.7M353.3 330.3h.7M343.8 344.0h.7M350.8 339.8h.7M343.7 341.7h.7M347.2 332.5h.7M342.7 339.6h.7M342.8 346.7h.7M337.8 327.0h.7M347.4 321.0h.7M355.6 323.6h.7M343.5 332.0h.7M347.4 347.4h.7M344.4 331.2h.7M352.8 335.4h.7M350.3 336.0h.7M344.0 330.3h.7M341.7 328.8h.7M347.4 335.1h.7M350.4 336.5h.7M348.5 328.1h.7M338.6 344.2h.7M355.2 333.0h.7M350.7 328.0h.7M342.1 338.8h.7M350.7 340.4h.7M351.9 336.3h.7M345.8 336.3h.7M342.2 332.4h.7M338.4 325.5h.7M350.3 330.8h.7M335.4 325.8h.7M350.3 334.9h.7M346.1 340.5h.7M352.1 332.9h.7M347.7 352.5h.7M349.4 330.9h.7M342.4 331.6h.7M349.6 331.9h.7M349.6 337.1h.7M338.8 331.3h.7M336.8 334.2h.7M342.7 343.3h.7M337.6 337.9h.7M341.7 331.2h.7M338.2 351.2h.7M345.4 336.2h.7M357.7 320.7h.7M346.0 327.6h.7M345.2 331.9h.7M349.0 341.9h.7M346.8 345.6h.7M344.9 324.6h.7M338.2 342.7h.7M344.8 339.6h.7M350.0 327.7h.7M352.8 341.8h.7M354.5 341.6h.7M340.9 340.4h.7M347.1 323.3h.7M350.8 333.3h.7M348.5 349.5h.7M352.9 332.0h.7M350.1 344.3h.7M347.3 344.8h.7M349.3 331.7h.7M353.4 333.5h.7M344.2 332.3h.7M337.8 344.6h.7M345.1 341.9h.7M348.2 338.7h.7M345.1 327.4h.7M347.9 342.2h.7M346.2 343.8h.7M334.7 327.7h.7M333.6 331.8h.7M347.3 324.7h.7M343.8 334.7h.7M342.5 333.5h.7M351.2 335.6h.7M351.6 339.3h.7M344.0 336.2h.7M351.0 330.7h.7M343.3 346.0h.7M350.6 341.0h.7M343.9 334.0h.7M348.4 339.0h.7M350.8 326.1h.7M350.9 327.0h.7M341.8 331.4h.7M343.9 344.4h.7M352.4 353.6h.7M343.2 336.8h.7M352.9 320.8h.7M350.4 351.6h.7M351.3 329.2h.7M346.1 336.8h.7M343.2 326.7h.7M352.2 328.1h.7M351.7 326.3h.7M334.3 351.5h.7M343.4 332.2h.7M350.7 323.2h.7M346.5 345.2h.7M350.5 348.1h.7M345.9 322.5h.7M346.6 340.0h.7M341.5 332.8h.7M346.4 354.3h.7M343.3 328.8h.7M345.6 330.1h.7M346.8 331.1h.7M340.5 329.5h.7M337.1 350.0h.7M353.3 334.5h.7M347.6 341.4h.7M348.1 327.9h.7M342.2 342.4h.7M345.2 339.1h.7M344.6 343.0h.7M345.8 337.6h.7M351.0 346.9h.7M344.2 321.6h.7M348.4 328.0h.7M341.7 348.9h.7M346.0 326.3h.7M340.2 338.8h.7M348.2 338.9h.7M341.0 329.6h.7M346.4 332.1h.7M346.9 332.6h.7M346.3 337.1h.7M349.7 346.5h.7M353.5 322.5h.7M347.7 345.8h.7M349.6 346.9h.7M346.6 354.4h.7M349.1 321.4h.7M350.1 332.8h.7M351.8 329.5h.7M350.7 324.4h.7M345.2 334.6h.7M352.1 328.6h.7M348.1 345.1h.7M337.7 348.8h.7M346.1 337.3h.7M356.0 335.0h.7M350.1 346.3h.7M353.7 346.0h.7M343.6 338.8h.7M339.5 325.0h.7M345.1 332.9h.7M343.8 328.9h.7M354.8 324.2h.7M349.1 324.7h.7M348.1 328.2h.7M352.2 346.1h.7M345.2 334.0h.7M348.2 322.2h.7M349.6 361.2h.7M344.3 321.2h.7M343.7 335.5h.7M345.0 350.5h.7M349.6 330.5h.7M347.7 331.6h.7M342.7 348.6h.7M345.7 330.5h.7M353.4 333.1h.7M349.9 325.8h.7M344.6 343.2h.7M353.0 332.9h.7M344.2 344.5h.7M345.9 330.6h.7M345.4 333.5h.7M344.0 344.8h.7M354.6 327.7h.7M343.3 334.3h.7M342.8 336.3h.7M347.2 335.4h.7M342.9 338.1h.7M340.3 332.1h.7M345.8 335.9h.7M350.6 333.9h.7M341.6 339.0h.7M345.8 342.2h.7M354.5 348.6h.7M346.4 327.0h.7M347.6 333.8h.7M342.9 322.3h.7M352.1 327.0h.7M351.5 344.6h.7M342.0 339.0h.7M346.1 322.9h.7M343.4 336.6h.7M351.1 329.2h.7M345.5 344.4h.7M344.5 329.6h.7M339.1 339.1h.7M343.1 327.1h.7M344.2 329.0h.7M360.6 330.6h.7M350.2 324.4h.7M350.6 338.5h.7M344.6 354.8h.7M341.9 326.0h.7M343.0 334.8h.7M350.2 334.7h.7M342.7 327.0h.7M354.4 331.5h.7M354.9 334.5h.7M344.7 332.2h.7M348.9 342.3h.7M344.7 339.8h.7M340.2 321.2h.7M338.7 331.3h.7M342.5 350.1h.7M345.1 335.2h.7M345.5 321.5h.7M337.9 366.2h.7M352.6 321.7h.7M338.1 345.6h.7M344.1 333.1h.7M354.2 326.6h.7M337.6 346.6h.7M340.1 342.8h.7M332.6 335.8h.7M362.6 321.9h.7M347.4 339.2h.7M349.0 338.8h.7M353.8 331.9h.7M340.3 343.4h.7M353.9 335.8h.7M355.8 340.9h.7M337.9 335.8h.7M353.5 354.5h.7M346.5 349.3h.7M358.6 344.7h.7M359.5 349.5h.7M340.2 324.4h.7M341.3 363.5h.7M357.4 328.8h.7M347.7 368.2h.7M341.3 341.0h.7M345.1 352.2h.7M332.8 345.3h.7M349.5 356.0h.7M351.4 346.0h.7M340.3 344.6h.7M343.9 364.8h.7M350.6 341.4h.7M349.2 342.0h.7M344.8 349.6h.7M347.9 329.2h.7M355.1 350.9h.7M357.1 335.6h.7M355.5 361.1h.7M353.3 346.3h.7M339.8 340.2h.7M356.4 348.0h.7M343.7 343.9h.7M347.1 331.4h.7M347.7 352.3h.7M338.9 335.6h.7M347.7 327.7h.7M340.6 347.0h.7M365.3 342.2h.7M343.9 362.1h.7M345.5 360.4h.7M364.3 384.5h.7M356.0 336.8h.7M342.9 335.9h.7M339.4 328.9h.7M350.9 342.9h.7M349.6 339.1h.7M336.2 348.6h.7M348.2 351.9h.7M349.3 328.0h.7M355.6 351.6h.7M346.0 350.7h.7M351.6 335.0h.7M349.9 331.2h.7M358.8 335.3h.7M355.7 364.9h.7M348.6 350.1h.7M365.2 349.2h.7M338.4 343.4h.7M365.3 342.7h.7M359.1 355.3h.7M343.0 346.1h.7M362.0 331.0h.7M348.9 334.1h.7M343.8 338.7h.7M331.1 333.0h.7M334.4 328.7h.7M343.5 355.0h.7M339.3 352.9h.7M344.8 331.2h.7M334.6 343.4h.7M347.4 351.8h.7M352.5 359.0h.7M348.3 343.0h.7M352.0 344.8h.7M368.7 340.0h.7M352.2 353.3h.7M351.3 337.0h.7M340.1 353.7h.7M342.8 346.8h.7M342.5 349.3h.7M358.8 330.2h.7M341.8 353.7h.7M340.9 355.3h.7M351.2 329.5h.7M343.6 358.9h.7M354.9 343.5h.7M349.9 355.9h.7M343.2 346.1h.7M351.8 359.0h.7M345.2 339.1h.7M350.2 338.7h.7M346.1 348.8h.7M344.2 337.9h.7M350.2 343.1h.7M345.2 340.4h.7M338.5 331.8h.7M342.4 327.2h.7M360.2 369.2h.7M346.2 340.3h.7M347.0 336.8h.7M343.6 353.4h.7M352.3 324.6h.7M349.8 330.7h.7M353.1 331.5h.7M350.5 331.9h.7M346.6 346.3h.7M353.6 323.5h.7M343.7 330.8h.7M334.6 344.7h.7M346.3 337.6h.7M341.6 364.9h.7M345.2 345.3h.7M339.5 339.7h.7M329.7 338.1h.7M348.5 329.2h.7M339.3 327.6h.7M343.8 355.3h.7M348.8 333.3h.7M344.1 351.7h.7M342.7 329.8h.7M354.2 341.4h.7M358.5 338.3h.7M345.6 347.0h.7M349.6 341.9h.7M340.5 332.7h.7M342.0 334.9h.7M358.2 329.6h.7M351.7 347.1h.7M335.7 354.7h.7M349.8 346.3h.7M349.6 354.4h.7M351.1 332.9h.7M343.0 330.2h.7M341.8 330.2h.7M349.8 354.1h.7M346.4 354.8h.7M357.0 350.3h.7M356.6 347.8h.7M336.8 331.7h.7M349.8 341.1h.7M337.8 340.6h.7M336.3 338.1h.7M352.9 344.9h.7M343.4 349.5h.7M363.4 337.6h.7M349.0 322.6h.7M346.3 353.2h.7M345.6 322.1h.7M365.9 356.8h.7M340.1 337.2h.7M348.5 354.0h.7M359.1 350.0h.7M335.7 326.0h.7M354.1 323.8h.7M358.2 351.6h.7M348.6 352.1h.7M342.3 354.9h.7M348.8 333.5h.7M345.4 348.2h.7M344.8 335.2h.7M361.7 378.8h.7M337.2 357.5h.7M347.8 340.9h.7M341.4 337.7h.7M350.4 346.7h.7M343.4 334.1h.7M353.2 360.9h.7M344.6 348.0h.7M353.9 345.9h.7M340.6 341.5h.7M348.7 326.5h.7M348.4 341.0h.7M342.4 362.8h.7M350.5 330.0h.7M357.6 337.3h.7M340.0 325.5h.7M356.6 325.7h.7M350.7 347.3h.7M343.5 350.9h.7M356.3 340.3h.7M348.0 350.0h.7M348.6 358.5h.7M354.1 342.3h.7M349.9 336.0h.7M353.4 331.6h.7M347.8 324.7h.7M367.1 345.1h.7M348.5 347.3h.7M334.7 360.3h.7M334.9 349.4h.7M344.9 351.0h.7M353.2 344.6h.7M356.1 337.1h.7M350.0 337.1h.7M342.6 326.9h.7M351.1 363.8h.7M341.3 334.7h.7M342.5 346.3h.7M332.1 343.3h.7M342.2 327.9h.7M350.0 343.8h.7M350.4 357.2h.7M336.8 355.8h.7M352.4 373.3h.7M359.1 347.9h.7M332.5 344.5h.7M360.3 352.1h.7M347.5 324.9h.7M348.5 321.8h.7M341.7 335.8h.7M351.4 332.8h.7M347.5 340.8h.7M350.2 349.2h.7M351.9 337.4h.7M349.4 332.8h.7M338.3 333.5h.7M354.3 345.9h.7M335.5 327.5h.7M334.1 346.7h.7M332.0 370.2h.7M359.3 361.8h.7M352.1 356.6h.7M358.7 328.2h.7M360.7 330.6h.7M366.3 346.0h.7M355.2 334.6h.7M355.6 348.3h.7M345.0 348.3h.7M344.7 323.9h.7M352.8 367.2h.7M344.2 333.0h.7M358.6 339.0h.7M350.8 341.3h.7M328.3 322.9h.7M350.6 342.4h.7M345.8 323.2h.7M349.1 337.2h.7M339.9 337.9h.7M350.0 369.8h.7M357.0 328.9h.7M328.9 330.5h.7M363.7 350.9h.7M342.3 346.5h.7M331.1 338.4h.7M340.1 324.2h.7M344.8 330.3h.7M350.6 324.1h.7M351.2 347.1h.7M354.7 349.7h.7M353.7 355.2h.7M358.3 355.4h.7M357.7 323.3h.7M345.9 360.7h.7M343.1 351.0h.7M356.7 359.1h.7M343.1 344.3h.7M347.0 349.8h.7M332.4 340.0h.7M357.6 340.9h.7M356.3 360.3h.7M349.3 335.4h.7M343.5 324.9h.7M344.5 338.5h.7M355.9 331.8h.7M342.4 340.2h.7M346.3 358.2h.7M348.2 360.2h.7M346.6 326.0h.7M348.2 328.6h.7M355.5 337.3h.7M345.1 369.2h.7M345.4 334.7h.7M345.3 351.0h.7M350.1 341.5h.7M357.6 332.9h.7M354.1 352.2h.7M350.6 334.3h.7M346.9 356.1h.7M340.4 353.8h.7M352.4 346.8h.7M352.4 334.6h.7M361.4 341.9h.7M354.8 338.3h.7M345.4 355.7h.7M340.2 340.6h.7M356.2 341.4h.7M333.1 340.1h.7M367.2 355.4h.7M346.3 346.0h.7M345.8 344.2h.7M347.1 343.7h.7M344.3 352.7h.7M334.4 331.9h.7M349.0 348.7h.7M335.3 349.5h.7M362.6 349.5h.7M347.0 355.1h.7M361.6 354.6h.7M349.8 337.0h.7M343.6 335.2h.7M338.3 345.9h.7M356.5 337.2h.7M354.5 350.2h.7M347.1 340.4h.7M360.3 330.9h.7M342.5 335.5h.7M341.9 348.8h.7M353.0 337.3h.7M349.0 373.2h.7M356.0 327.3h.7M355.3 332.3h.7M353.1 350.5h.7M336.5 366.1h.7M336.8 335.1h.7M353.8 349.5h.7M349.9 336.8h.7M354.7 346.2h.7M345.5 356.4h.7M361.0 333.2h.7M344.9 327.0h.7M338.4 343.6h.7M356.1 321.8h.7M346.3 345.7h.7M343.4 353.0h.7M353.1 340.5h.7M357.8 346.1h.7M357.2 349.6h.7M346.1 361.7h.7M342.7 346.4h.7M345.6 330.1h.7M337.7 357.1h.7M359.2 356.2h.7M332.2 350.2h.7M349.2 349.5h.7M350.4 349.4h.7M352.0 356.0h.7M349.5 334.1h.7M330.3 345.5h.7M331.0 333.5h.7M348.0 339.6h.7M342.1 365.1h.7M336.7 357.7h.7M345.8 339.6h.7M348.8 347.7h.7M334.0 348.1h.7M346.9 340.9h.7M348.4 339.7h.7M357.1 329.4h.7M342.0 348.1h.7M346.6 353.8h.7M348.8 365.3h.7M356.5 328.8h.7M356.9 330.0h.7M350.7 336.3h.7M336.9 352.3h.7M352.8 337.0h.7M341.3 330.9h.7M347.0 356.2h.7M344.5 340.4h.7M344.9 324.7h.7M345.1 332.8h.7M357.8 343.6h.7M358.6 340.2h.7M349.5 360.1h.7M351.9 342.3h.7M352.1 345.9h.7M357.4 333.1h.7M344.4 329.3h.7M358.0 350.0h.7M345.7 348.9h.7M363.7 351.9h.7M347.5 328.5h.7M352.8 376.3h.7M357.8 337.2h.7M335.6 354.4h.7M341.4 335.9h.7M365.8 335.8h.7M346.3 376.8h.7M354.6 338.0h.7M349.6 333.0h.7M350.6 350.0h.7M345.7 352.0h.7M354.3 325.7h.7M362.8 343.4h.7M355.2 360.5h.7M348.0 373.6h.7M341.0 327.1h.7M345.3 366.0h.7M361.3 352.3h.7M340.4 336.1h.7M346.6 342.6h.7M338.9 341.8h.7M344.3 347.3h.7M340.4 334.0h.7M349.2 350.1h.7M348.8 343.5h.7M346.9 332.9h.7M344.7 329.6h.7M352.5 346.5h.7M346.8 329.6h.7M344.9 338.9h.7M356.4 336.6h.7M349.8 332.3h.7M353.4 337.5h.7M345.4 336.4h.7M357.5 324.3h.7M343.3 324.6h.7M354.4 344.7h.7M345.1 349.2h.7M349.4 334.6h.7M347.6 349.0h.7M355.6 364.4h.7M350.4 341.9h.7M348.9 330.1h.7M346.8 348.5h.7M344.9 337.1h.7M337.8 349.1h.7M356.6 341.1h.7M349.5 343.7h.7M348.5 338.2h.7M356.0 370.8h.7M356.2 345.1h.7M345.2 324.8h.7M356.3 338.4h.7M352.6 334.3h.7M328.2 368.6h.7M338.3 349.0h.7M349.5 339.6h.7M335.7 364.2h.7M344.1 348.0h.7M348.3 366.0h.7M340.8 335.9h.7M350.3 350.6h.7M348.0 356.1h.7M357.3 346.5h.7M337.1 328.6h.7M335.0 334.7h.7M355.3 362.5h.7M349.7 352.6h.7M345.0 337.3h.7M346.5 329.6h.7M350.1 348.8h.7M349.7 359.1h.7M348.8 357.7h.7M347.9 329.4h.7M346.1 336.5h.7M339.1 338.0h.7M354.6 342.0h.7M353.5 329.3h.7M361.8 329.0h.7M338.2 343.7h.7M352.8 358.2h.7M354.0 353.8h.7M335.8 343.6h.7M360.0 325.5h.7M353.2 352.2h.7M345.6 328.0h.7M358.7 341.1h.7M349.4 342.8h.7M350.8 349.2h.7M349.5 354.0h.7M347.8 323.3h.7M341.7 348.4h.7M340.9 344.0h.7M354.1 332.5h.7M347.8 324.5h.7M338.1 347.5h.7M349.8 326.5h.7M344.6 331.9h.7M345.4 332.6h.7M344.0 370.6h.7M344.0 323.6h.7M344.8 357.1h.7M346.3 349.7h.7M345.3 335.6h.7M359.6 344.6h.7M343.5 350.3h.7M336.9 321.4h.7M345.7 335.4h.7M348.7 324.7h.7M351.4 338.4h.7M346.0 345.3h.7M345.2 354.7h.7M341.0 344.9h.7M340.1 334.4h.7M351.5 324.0h.7M343.4 334.5h.7M336.5 333.9h.7M355.6 353.2h.7M339.7 330.8h.7M365.7 331.0h.7M350.3 334.3h.7M345.5 320.7h.7M339.4 338.6h.7M342.4 349.7h.7M343.6 345.9h.7M351.9 325.0h.7M357.4 338.2h.7M367.4 333.4h.7M356.0 350.3h.7M336.2 351.7h.7M347.9 353.2h.7M339.1 350.9h.7M347.6 348.7h.7M352.8 342.3h.7M358.7 322.4h.7M344.9 354.3h.7M339.6 350.6h.7M348.2 344.7h.7M328.7 329.3h.7M353.3 325.2h.7M354.1 350.2h.7M338.8 326.9h.7M335.0 344.8h.7M357.8 374.0h.7M359.3 334.7h.7M334.8 354.8h.7M354.0 341.6h.7M336.8 325.0h.7M345.8 360.7h.7M360.0 328.4h.7M333.7 339.4h.7M354.3 330.8h.7M348.7 352.8h.7M334.3 365.0h.7M359.2 341.9h.7M350.1 348.2h.7M342.1 350.8h.7M348.5 330.9h.7M347.0 337.2h.7M344.0 350.3h.7M354.1 353.4h.7M344.2 349.7h.7M345.6 363.1h.7M339.2 354.5h.7M353.7 323.6h.7M340.8 340.1h.7M351.1 339.4h.7M351.0 344.7h.7M334.6 357.2h.7M359.2 333.3h.7M353.4 337.1h.7M341.1 337.3h.7M332.2 332.5h.7M353.1 354.2h.7M351.6 344.1h.7M342.6 353.7h.7M362.9 345.6h.7M361.7 342.6h.7M345.9 352.8h.7M348.8 338.0h.7M343.5 342.7h.7M351.7 363.5h.7M350.7 347.1h.7M352.0 352.7h.7M353.9 336.7h.7M338.8 347.0h.7M351.2 333.9h.7M345.7 347.3h.7M360.3 333.2h.7M340.5 340.9h.7M341.5 334.6h.7M340.4 356.5h.7M351.4 343.4h.7M360.5 382.8h.7M352.6 352.4h.7M340.3 348.7h.7M343.0 321.6h.7M351.0 333.6h.7M359.4 337.7h.7M345.8 330.0h.7M346.6 340.0h.7M352.9 331.2h.7M342.2 327.3h.7M342.5 335.9h.7M346.7 332.4h.7M355.0 331.7h.7M349.8 339.3h.7M350.8 342.2h.7M344.5 340.9h.7M343.8 339.2h.7M356.9 352.1h.7M358.5 330.3h.7M357.3 346.8h.7M353.0 337.6h.7M361.7 329.6h.7M349.8 323.6h.7M345.7 346.1h.7M349.8 344.7h.7M358.2 327.7h.7M334.3 354.4h.7M336.1 337.1h.7M366.1 350.6h.7M346.9 353.3h.7M341.3 350.7h.7M344.8 332.2h.7M340.3 333.5h.7M349.9 364.6h.7M355.4 353.3h.7M346.9 363.3h.7M347.1 359.9h.7M338.3 349.1h.7M339.6 337.0h.7M350.9 342.2h.7M334.5 339.7h.7M347.0 320.7h.7M342.8 354.4h.7M344.6 338.7h.7M347.0 338.4h.7M339.4 339.2h.7M332.6 343.1h.7M345.5 323.9h.7M336.1 343.8h.7M344.4 332.9h.7M343.6 344.0h.7M355.9 335.6h.7M332.9 329.7h.7M340.5 346.7h.7M356.6 345.7h.7M341.3 353.3h.7M344.4 325.9h.7M346.4 367.4h.7M347.7 332.2h.7M353.7 331.0h.7M356.8 350.3h.7M337.6 335.7h.7M345.0 330.8h.7M350.7 338.1h.7M361.1 344.6h.7M355.2 353.6h.7M351.3 351.7h.7M342.5 354.0h.7M355.5 354.9h.7M343.6 334.0h.7M356.9 340.2h.7M367.8 347.7h.7M339.0 349.4h.7M368.4 326.1h.7M341.4 336.8h.7M341.7 356.7h.7M345.9 322.9h.7M353.9 345.4h.7M336.9 353.1h.7M337.5 329.5h.7M359.4 334.7h.7M348.3 330.4h.7M345.5 331.0h.7M355.1 335.4h.7M341.3 334.8h.7M333.0 346.3h.7M334.1 325.2h.7M349.9 336.9h.7M363.7 323.2h.7M350.6 364.0h.7M342.9 324.3h.7M355.8 364.9h.7M341.9 351.7h.7M353.1 342.6h.7M354.3 337.6h.7M353.0 337.7h.7M346.6 327.1h.7M347.6 339.7h.7M340.9 331.7h.7M344.9 359.0h.7M351.6 349.6h.7M358.2 350.0h.7M360.9 359.2h.7M353.6 339.8h.7M349.0 340.0h.7M342.2 321.3h.7M351.2 323.8h.7M353.4 363.4h.7M348.8 329.1h.7M343.0 348.8h.7M347.3 335.5h.7M350.0 326.2h.7M340.0 346.1h.7M342.3 349.0h.7M344.2 342.0h.7M346.7 357.3h.7M345.8 342.1h.7M339.2 342.9h.7M346.7 344.9h.7M332.2 349.0h.7M348.6 345.0h.7M351.0 354.0h.7M340.4 334.3h.7M349.9 322.0h.7M352.1 334.9h.7M352.9 360.2h.7M362.6 332.0h.7M348.5 331.3h.7M337.3 342.6h.7M343.1 325.2h.7M345.4 333.3h.7M339.1 343.6h.7M352.1 345.8h.7M342.6 329.6h.7M330.2 349.9h.7M355.6 329.9h.7M337.3 325.8h.7M358.9 338.5h.7M344.6 341.9h.7M348.0 337.0h.7M346.6 349.2h.7M355.3 327.0h.7M346.9 340.1h.7M349.4 371.3h.7M353.3 350.5h.7M347.2 348.0h.7M357.4 356.5h.7M341.6 343.3h.7M350.7 327.4h.7M345.3 335.2h.7M354.9 341.6h.7M363.5 347.9h.7M344.6 344.5h.7M348.7 331.0h.7M350.8 323.5h.7M349.5 335.1h.7M348.8 332.3h.7M361.4 332.7h.7M354.1 341.9h.7M357.0 332.5h.7M338.2 349.8h.7M356.1 349.3h.7M359.3 341.5h.7M341.1 347.5h.7M334.7 337.1h.7M352.7 358.4h.7M344.9 338.4h.7M337.4 339.4h.7M342.6 341.2h.7M342.2 346.7h.7M347.2 332.5h.7M352.5 347.7h.7M346.0 338.8h.7M354.3 347.4h.7M346.7 365.7h.7M344.2 324.9h.7M343.0 343.7h.7M334.4 364.8h.7M355.1 329.1h.7M350.9 325.2h.7M347.7 338.1h.7M344.2 337.1h.7M348.0 354.1h.7M340.9 334.2h.7M359.3 341.6h.7M340.5 341.3h.7M339.4 330.1h.7M343.8 322.1h.7M361.9 336.1h.7M349.7 337.9h.7M347.1 330.9h.7M351.2 335.6h.7M341.4 352.5h.7M359.7 346.6h.7M351.9 337.0h.7M348.9 350.0h.7M348.2 357.6h.7M359.0 344.0h.7M349.7 330.6h.7M344.6 332.9h.7M345.3 329.9h.7M350.9 345.1h.7M346.8 361.4h.7M349.9 340.3h.7M349.5 333.6h.7M353.8 329.7h.7M347.6 365.8h.7M350.1 327.9h.7M339.3 355.3h.7M333.5 361.7h.7M358.2 335.3h.7M350.0 335.2h.7M340.7 346.5h.7M342.7 348.6h.7M350.5 333.3h.7M348.6 341.6h.7M346.7 338.3h.7M357.4 332.0h.7M349.1 353.9h.7M351.0 335.9h.7M339.1 337.7h.7M332.8 335.6h.7M347.8 357.4h.7M352.8 353.9h.7M351.5 344.0h.7M335.7 333.9h.7M346.2 340.0h.7M338.4 322.1h.7M349.3 337.7h.7M348.0 338.3h.7M346.1 326.8h.7M354.6 345.9h.7M347.7 362.3h.7M342.4 351.2h.7M347.5 341.3h.7M354.6 341.0h.7M347.8 326.2h.7M350.1 346.0h.7M344.7 326.6h.7M355.4 342.8h.7M356.9 340.2h.7M367.8 326.1h.7M353.5 342.8h.7M349.8 338.5h.7M352.3 351.5h.7M348.7 328.4h.7M355.4 353.2h.7M339.0 344.0h.7M359.7 348.6h.7M344.1 344.5h.7M350.7 327.7h.7M345.8 337.1h.7M345.4 357.3h.7M334.3 328.6h.7M342.5 356.5h.7M347.3 337.9h.7M346.3 360.2h.7M362.9 344.0h.7M340.5 337.7h.7M334.5 352.4h.7M346.4 354.7h.7M343.5 332.0h.7M331.4 344.2h.7M339.8 340.0h.7M356.0 364.1h.7M360.6 344.5h.7M336.9 330.9h.7M351.9 341.2h.7M341.8 340.0h.7M349.1 368.5h.7M345.5 348.1h.7M350.3 350.3h.7M342.7 359.2h.7M358.3 347.3h.7M339.6 327.9h.7M346.4 339.6h.7M341.2 339.6h.7M335.9 338.8h.7M337.6 344.5h.7M328.9 331.9h.7M344.6 323.3h.7M344.5 338.6h.7M358.0 349.4h.7M344.8 351.0h.7M347.4 350.9h.7M344.6 344.4h.7M345.4 352.6h.7M361.4 360.6h.7M358.8 339.2h.7M360.2 337.5h.7M347.7 330.2h.7M355.1 321.3h.7M347.3 349.5h.7M339.2 346.9h.7M339.6 337.1h.7M350.6 358.1h.7M363.9 329.0h.7M335.0 332.1h.7M349.6 339.7h.7M337.9 330.4h.7M349.5 341.5h.7M363.5 326.8h.7M343.5 383.3h.7M338.4 354.3h.7M343.9 342.5h.7M357.3 334.2h.7M345.9 341.3h.7M348.2 361.8h.7M358.9 333.1h.7M357.7 322.6h.7M342.6 332.3h.7M343.1 342.9h.7M349.9 330.0h.7M350.8 333.0h.7M351.9 344.4h.7M339.2 329.8h.7M355.4 340.0h.7M350.1 336.8h.7M359.9 346.4h.7M342.5 343.5h.7M339.5 335.9h.7M345.1 328.4h.7M341.2 353.8h.7M341.0 338.1h.7M338.4 356.0h.7M340.5 349.9h.7M352.7 347.4h.7M341.0 338.0h.7M336.7 326.8h.7M350.3 340.8h.7M355.9 346.3h.7M357.7 344.2h.7M346.8 343.1h.7M354.6 352.5h.7M352.9 335.1h.7M339.8 353.0h.7M356.0 328.6h.7M348.2 329.0h.7M348.5 366.7h.7M345.2 335.8h.7M347.4 335.4h.7M350.9 321.7h.7M353.7 331.6h.7M348.2 371.1h.7M357.4 343.3h.7M346.8 346.9h.7M355.0 381.7h.7M363.1 358.8h.7M341.7 358.7h.7M346.7 343.1h.7M345.2 336.6h.7M352.3 343.3h.7M353.7 334.7h.7M341.2 335.9h.7M345.9 345.4h.7M362.1 342.6h.7M346.0 371.5h.7M362.0 352.0h.7M345.2 340.7h.7M350.2 363.1h.7M358.7 344.4h.7M352.1 341.0h.7M331.5 347.6h.7M355.3 323.4h.7M366.0 350.4h.7M352.0 358.6h.7M340.6 339.9h.7M336.5 352.7h.7M351.7 368.9h.7M353.8 336.0h.7M332.3 337.0h.7M345.3 340.3h.7M344.0 337.0h.7M349.1 333.7h.7M341.6 338.2h.7M347.5 328.8h.7M336.4 339.2h.7M348.1 356.4h.7M343.6 340.7h.7M346.4 333.3h.7M333.7 327.6h.7M340.8 334.5h.7M333.5 344.1h.7M350.6 325.7h.7M342.3 335.4h.7M352.6 355.3h.7M352.5 349.3h.7M357.6 349.2h.7M349.5 347.5h.7M355.4 342.9h.7M355.8 334.2h.7M339.3 340.4h.7M352.2 365.9h.7M346.4 328.3h.7M334.0 329.7h.7M345.2 335.8h.7M350.5 341.2h.7M343.2 371.4h.7M343.4 337.5h.7M338.1 333.0h.7M345.3 331.5h.7M348.4 348.1h.7M347.0 352.4h.7M343.7 345.0h.7M340.5 320.8h.7M339.8 337.2h.7M351.7 363.3h.7M351.0 348.5h.7M341.2 361.5h.7M342.8 339.3h.7M362.8 352.1h.7M364.8 333.5h.7M351.0 325.8h.7M350.7 333.0h.7M358.1 347.4h.7M334.6 336.2h.7M341.8 341.9h.7M355.8 326.1h.7M346.0 349.0h.7M340.8 335.6h.7M342.7 353.6h.7M353.7 326.9h.7M356.2 360.7h.7M345.3 344.9h.7M352.4 349.5h.7M364.9 342.2h.7M345.5 343.6h.7M354.6 344.5h.7M341.4 330.2h.7M335.7 342.9h.7M350.1 342.8h.7M355.4 337.7h.7M339.0 341.6h.7M360.0 357.6h.7M347.9 364.1h.7M340.6 333.9h.7M345.0 366.0h.7M348.4 329.8h.7M349.7 328.8h.7M342.2 344.2h.7M347.1 334.4h.7M348.0 331.9h.7M358.0 345.1h.7M350.3 358.1h.7M362.4 322.4h.7M349.0 325.9h.7M352.9 333.7h.7M342.6 337.5h.7M356.9 328.9h.7M350.8 337.5h.7M345.4 342.4h.7M361.6 335.6h.7M349.5 345.6h.7M336.1 337.5h.7M352.2 345.3h.7M348.7 328.6h.7M345.1 347.9h.7M342.3 352.3h.7M351.1 360.6h.7M335.6 340.5h.7M335.7 327.0h.7M363.2 349.8h.7M350.7 327.8h.7M348.2 346.7h.7M347.2 326.4h.7M364.8 360.4h.7M348.3 337.0h.7M359.2 361.2h.7M344.7 352.5h.7M350.3 343.7h.7M336.7 366.5h.7M347.2 327.7h.7M337.5 359.5h.7M350.1 352.6h.7M348.9 323.8h.7M346.4 331.1h.7M339.5 342.7h.7M342.3 344.8h.7M349.0 334.6h.7M341.0 337.7h.7M356.0 354.0h.7M357.3 330.3h.7M341.1 343.7h.7M347.7 348.9h.7M351.2 323.2h.7M349.7 359.4h.7M347.1 340.1h.7M348.4 321.5h.7M353.4 346.0h.7M354.5 334.1h.7M342.4 327.8h.7M346.8 340.4h.7M352.4 329.0h.7M342.2 326.5h.7M344.0 351.4h.7M354.8 341.2h.7M356.6 346.2h.7M344.5 348.9h.7M338.1 331.9h.7M349.5 341.0h.7M342.8 336.8h.7M339.6 331.1h.7M369.0 348.2h.7M355.4 355.7h.7M336.0 350.0h.7M342.2 323.3h.7M343.7 342.2h.7M356.3 354.3h.7M349.1 356.1h.7M332.3 339.3h.7M352.7 371.2h.7M346.3 337.5h.7M352.0 338.1h.7M340.6 335.2h.7M350.1 371.5h.7M346.3 334.9h.7M336.1 334.7h.7M343.4 342.3h.7M352.2 335.7h.7M352.6 331.3h.7M343.5 344.7h.7M344.7 349.4h.7M354.3 333.1h.7M364.4 349.3h.7M343.2 326.0h.7M346.7 341.1h.7M352.9 344.7h.7M352.8 322.2h.7M343.4 339.8h.7M353.9 339.1h.7M349.8 328.3h.7M356.9 341.6h.7M337.6 337.2h.7M346.0 342.6h.7M363.0 325.9h.7M358.2 325.4h.7M347.1 326.6h.7M347.4 354.3h.7M361.3 351.8h.7M346.9 351.0h.7M336.2 338.7h.7M345.6 324.6h.7M357.1 329.4h.7M357.1 337.7h.7M356.1 348.4h.7M358.5 329.4h.7M337.8 342.8h.7M366.3 355.8h.7M348.5 354.1h.7M347.8 343.2h.7M357.5 344.7h.7M347.0 342.0h.7M357.1 356.8h.7M359.9 346.6h.7M340.3 351.5h.7M345.6 330.7h.7M347.2 331.7h.7M338.1 341.7h.7M340.8 351.7h.7M350.5 325.1h.7M351.4 345.7h.7M338.9 350.6h.7M344.9 337.1h.7M343.8 349.4h.7M350.9 358.5h.7M352.4 341.6h.7M357.0 338.8h.7M336.7 354.1h.7M356.4 347.2h.7M351.5 324.1h.7M343.9 330.7h.7M356.4 330.7h.7M355.5 350.1h.7M350.7 345.8h.7M357.4 343.6h.7M353.7 347.1h.7M335.1 364.5h.7M352.2 339.8h.7M353.0 329.1h.7M346.8 326.1h.7M347.0 354.2h.7M337.9 328.0h.7M352.2 332.6h.7M368.3 329.7h.7M357.0 341.2h.7M351.7 353.9h.7M363.3 357.7h.7M353.4 339.4h.7M354.3 351.5h.7M347.7 330.0h.7M340.9 322.9h.7M350.9 354.5h.7M352.4 338.1h.7M339.5 346.5h.7M370.0 360.4h.7M347.6 358.7h.7M348.2 340.8h.7M349.0 324.2h.7M360.6 335.2h.7M349.1 343.9h.7M352.8 331.0h.7M342.8 337.4h.7M340.7 330.3h.7M354.0 337.1h.7M353.0 337.4h.7M351.0 332.7h.7M360.1 333.4h.7M351.9 363.4h.7M360.2 332.4h.7M342.9 344.1h.7M350.3 356.8h.7M344.8 348.1h.7M346.8 333.5h.7M359.6 359.3h.7M353.0 345.0h.7M345.4 363.5h.7M341.1 355.4h.7M343.4 348.9h.7M349.4 336.5h.7M346.7 343.9h.7M344.8 332.2h.7M359.0 331.3h.7M349.1 326.8h.7M338.6 334.6h.7M365.2 343.2h.7M354.0 351.5h.7M340.3 329.2h.7M347.6 353.6h.7M349.5 326.0h.7M347.5 320.8h.7M350.5 324.1h.7M342.0 333.2h.7M354.7 335.5h.7M346.2 334.2h.7M348.8 335.8h.7M338.8 337.6h.7M333.0 350.8h.7M347.0 330.1h.7M336.2 337.2h.7M356.4 332.9h.7M349.5 369.3h.7M353.5 339.1h.7M339.0 356.1h.7M355.9 336.7h.7M354.4 348.0h.7M360.9 352.3h.7M349.1 350.5h.7M346.5 327.7h.7M345.6 335.2h.7M357.6 341.9h.7M352.4 330.9h.7M354.0 333.7h.7M336.3 348.7h.7M350.0 358.6h.7M361.4 340.7h.7M348.4 323.9h.7M358.6 347.2h.7M359.9 354.6h.7M356.2 360.0h.7M352.3 331.8h.7M349.9 341.3h.7M343.4 339.3h.7M349.6 332.5h.7M367.5 358.8h.7M355.4 338.2h.7M332.5 326.4h.7M345.2 353.1h.7M331.6 338.3h.7M357.7 348.1h.7M340.1 338.8h.7M351.2 354.2h.7M344.5 337.5h.7M346.7 326.2h.7M343.3 349.8h.7M344.6 333.9h.7M342.2 330.3h.7M353.8 344.5h.7M351.4 343.0h.7M348.5 349.0h.7M342.4 336.3h.7M339.1 356.5h.7M354.0 341.7h.7M351.5 349.5h.7M353.8 348.4h.7M348.1 339.5h.7M356.0 349.8h.7M351.2 355.1h.7M342.1 341.2h.7M339.4 354.9h.7M353.5 341.3h.7M344.7 339.1h.7M327.7 351.2h.7M353.1 347.8h.7M341.8 335.9h.7M344.2 339.8h.7M342.8 329.5h.7M362.6 332.4h.7M349.9 345.9h.7M358.2 356.6h.7M345.4 348.8h.7M355.1 345.4h.7M364.8 356.3h.7M382.0 336.3h.7M373.1 340.6h.7M372.1 345.7h.7M364.4 332.8h.7M369.9 323.9h.7M359.8 328.9h.7M359.8 346.8h.7M382.1 342.8h.7M361.4 341.2h.7M373.1 322.8h.7M383.1 342.4h.7M362.7 360.2h.7M363.0 355.6h.7M376.4 331.5h.7M364.2 328.1h.7M385.9 365.0h.7M373.9 338.3h.7M365.9 336.0h.7M366.6 349.7h.7M364.2 336.2h.7M386.5 353.1h.7M390.2 328.6h.7M368.6 338.0h.7M379.6 332.4h.7M368.3 333.1h.7M360.5 348.5h.7M367.4 339.5h.7M364.9 346.8h.7M391.1 330.5h.7M372.5 337.3h.7M386.6 332.0h.7M383.2 340.9h.7M380.9 332.3h.7M364.3 334.5h.7M380.8 336.4h.7M379.7 354.6h.7M356.5 326.2h.7M366.0 330.5h.7M377.2 325.6h.7M363.2 336.3h.7M371.4 338.8h.7M366.5 342.8h.7M374.9 342.1h.7M360.8 330.3h.7M354.3 334.7h.7M362.2 344.7h.7M368.7 350.0h.7M393.0 340.7h.7M376.0 324.5h.7M365.1 362.8h.7M378.1 351.6h.7M369.6 334.6h.7M373.3 332.8h.7M376.7 344.6h.7M369.5 335.4h.7M357.3 345.2h.7M385.2 343.4h.7M357.8 339.7h.7M362.2 348.3h.7M375.0 341.5h.7M380.3 344.3h.7M397.4 322.6h.7M373.1 346.8h.7M382.4 332.5h.7M361.6 356.5h.7M370.1 346.0h.7M377.5 344.2h.7M382.3 341.4h.7M384.5 337.8h.7M362.8 353.2h.7M372.4 346.0h.7M373.0 340.6h.7M386.9 324.0h.7M363.3 340.5h.7M383.7 340.8h.7M377.0 346.7h.7M393.1 353.6h.7M354.6 334.4h.7M362.7 338.9h.7M381.4 344.5h.7M363.3 323.5h.7M386.1 340.5h.7M369.3 327.1h.7M365.0 354.6h.7M364.5 337.5h.7M367.8 335.9h.7M359.6 351.3h.7M372.6 346.3h.7M361.9 335.7h.7M391.6 337.2h.7M367.4 322.5h.7M365.2 343.6h.7M367.2 330.7h.7M382.8 355.3h.7M370.7 367.1h.7M367.9 333.3h.7M355.9 327.0h.7M364.3 364.1h.7M360.5 336.9h.7M373.2 342.9h.7M349.3 335.5h.7M359.8 336.3h.7M352.3 332.9h.7M368.8 325.0h.7M373.1 341.8h.7M379.6 324.8h.7M358.5 337.7h.7M372.2 331.1h.7M355.1 337.4h.7M382.5 327.4h.7M377.0 324.0h.7M378.3 322.6h.7M382.0 336.8h.7M382.7 333.0h.7M357.8 327.0h.7M361.6 340.4h.7M365.2 343.7h.7M370.3 332.3h.7M366.3 334.6h.7M376.4 351.9h.7M366.7 338.1h.7M381.8 352.7h.7M362.8 324.6h.7M365.9 351.1h.7M367.2 348.0h.7M370.0 344.1h.7M375.9 336.4h.7M365.2 338.4h.7M395.3 326.8h.7M379.4 335.1h.7M358.3 336.5h.7M380.4 324.2h.7M360.5 345.8h.7M357.9 350.5h.7M382.9 330.3h.7M373.3 350.4h.7M356.9 338.7h.7M382.9 354.8h.7M375.6 336.5h.7M363.0 345.5h.7M371.9 359.2h.7M390.9 346.5h.7M363.7 337.0h.7M382.7 340.9h.7M377.2 331.4h.7M348.8 345.8h.7M390.1 333.4h.7M386.3 364.1h.7M385.7 326.7h.7M373.1 339.6h.7M375.4 331.5h.7M376.5 339.7h.7M360.2 327.1h.7M388.5 340.7h.7M376.4 360.3h.7M365.4 351.4h.7M383.3 330.1h.7M370.2 341.6h.7M365.8 352.3h.7M369.4 355.2h.7M354.8 334.5h.7M375.4 350.3h.7M379.6 349.7h.7M379.0 339.9h.7M387.5 346.9h.7M365.5 347.6h.7M378.1 340.2h.7M377.9 335.2h.7M368.1 320.6h.7M367.8 353.3h.7M346.2 333.8h.7M378.1 345.1h.7M356.3 337.6h.7M374.3 349.8h.7M372.9 331.0h.7M377.6 339.4h.7M360.8 338.3h.7M374.7 337.2h.7M367.5 337.8h.7M372.8 345.8h.7M360.9 332.7h.7M378.2 333.3h.7M362.7 324.3h.7M357.7 327.5h.7M371.2 344.9h.7M373.4 339.7h.7M377.9 337.2h.7M358.9 339.1h.7M373.4 360.7h.7M372.0 361.0h.7M370.4 323.4h.7M369.2 335.3h.7M370.9 334.5h.7M395.2 341.4h.7M370.2 337.7h.7M371.5 349.7h.7M371.8 348.2h.7M362.3 340.6h.7M370.9 340.1h.7M359.9 331.2h.7M356.4 342.7h.7M384.4 337.7h.7M357.9 334.3h.7M368.5 339.2h.7M367.1 340.9h.7M376.2 342.0h.7M380.7 349.3h.7M356.1 326.6h.7M369.6 339.1h.7M373.8 325.7h.7M359.3 357.0h.7M373.3 341.9h.7M374.1 335.6h.7M370.7 353.0h.7M370.8 322.6h.7M360.2 324.0h.7M383.2 331.5h.7M360.4 336.0h.7M358.1 342.8h.7M372.9 340.4h.7M383.1 333.9h.7M381.1 357.6h.7M363.5 346.6h.7M361.8 339.3h.7M377.0 332.4h.7M360.9 337.0h.7M371.1 342.3h.7M382.6 343.2h.7M356.9 336.5h.7M382.2 360.7h.7M370.4 332.2h.7M384.2 337.5h.7M371.5 321.0h.7M361.4 342.5h.7M390.3 342.2h.7M370.2 334.2h.7M360.3 325.4h.7M379.3 358.0h.7M368.6 328.9h.7M356.1 333.3h.7M368.8 351.3h.7M387.6 330.6h.7M374.4 343.4h.7M373.5 337.3h.7M373.8 340.1h.7M370.0 336.0h.7M368.2 362.8h.7M371.8 349.9h.7M362.8 354.0h.7M382.4 339.7h.7M396.4 347.0h.7M390.5 328.7h.7M349.5 346.2h.7M372.4 331.3h.7M361.5 344.0h.7M380.3 350.2h.7M371.5 333.6h.7M358.1 327.7h.7M385.4 323.9h.7M370.8 332.9h.7M364.9 324.3h.7M367.8 343.3h.7M369.0 341.6h.7M365.0 327.0h.7M379.9 336.8h.7M369.3 343.8h.7M381.6 332.1h.7M372.5 335.7h.7M385.3 323.7h.7M364.5 337.4h.7M347.4 321.7h.7M376.6 350.1h.7M388.3 334.9h.7M377.2 338.6h.7M364.1 340.7h.7M371.3 351.9h.7M369.3 322.9h.7M374.3 331.6h.7M373.0 342.3h.7M375.3 346.9h.7M365.8 337.5h.7M376.6 331.8h.7M370.9 332.6h.7M382.0 337.8h.7M362.1 340.6h.7M364.4 334.7h.7M359.2 335.6h.7M379.7 345.6h.7M377.7 328.8h.7M371.5 337.6h.7M369.3 334.9h.7M356.7 358.2h.7M364.3 339.5h.7M373.6 326.2h.7M365.6 341.9h.7M371.4 343.7h.7M361.6 337.1h.7M362.2 338.2h.7M365.2 332.5h.7M377.6 349.9h.7M371.0 340.6h.7M362.2 332.8h.7M367.4 342.4h.7M383.3 353.0h.7M377.6 334.5h.7M379.2 322.5h.7M358.3 339.8h.7M365.8 345.9h.7M370.1 344.3h.7M357.0 338.9h.7M372.7 342.5h.7M379.8 341.0h.7M364.9 323.9h.7M378.0 335.2h.7M381.0 351.1h.7M365.6 332.1h.7M384.5 340.3h.7M360.6 336.2h.7M367.8 351.3h.7M359.1 331.0h.7M379.9 347.2h.7M374.0 332.6h.7M378.6 341.1h.7M372.4 324.3h.7M354.0 333.7h.7M367.4 351.0h.7M395.1 323.4h.7M364.1 347.0h.7M381.5 346.6h.7M370.4 332.6h.7M367.4 323.4h.7M364.9 329.7h.7M383.2 353.2h.7M374.6 321.3h.7M370.0 332.4h.7M383.9 327.4h.7M375.8 337.4h.7M380.2 331.9h.7M388.2 341.6h.7M370.1 335.7h.7M367.1 349.8h.7M379.9 335.4h.7M399.9 343.2h.7M381.2 355.2h.7M383.0 343.0h.7M362.1 328.3h.7M379.7 337.1h.7M369.0 351.6h.7M379.0 353.7h.7M368.9 327.5h.7M370.8 347.6h.7M361.1 337.7h.7M378.0 340.5h.7M377.1 348.6h.7M362.7 341.6h.7M371.7 337.8h.7M404.9 334.7h.7M359.3 329.7h.7M365.1 338.7h.7M375.9 332.8h.7M396.0 343.2h.7M372.2 334.2h.7M374.1 328.8h.7M370.0 332.3h.7M379.7 329.6h.7M334.5 385.5h.7M354.8 398.2h.7M341.1 390.5h.7M337.7 379.3h.7M347.6 381.4h.7M337.1 386.6h.7M345.3 400.6h.7M340.5 395.3h.7M346.1 357.4h.7M347.6 375.7h.7M348.1 394.3h.7M335.4 355.3h.7M349.5 379.3h.7M354.3 369.8h.7M333.2 368.7h.7M347.1 415.0h.7M346.6 372.9h.7M350.0 369.2h.7M345.3 415.5h.7M344.2 369.2h.7M344.8 397.5h.7M330.8 399.4h.7M345.4 356.0h.7M349.4 375.2h.7M340.5 410.0h.7M350.6 383.0h.7M358.7 383.5h.7M361.2 387.8h.7M334.7 376.7h.7M327.5 382.3h.7M342.0 376.5h.7M348.5 392.9h.7M355.2 374.8h.7M351.5 375.6h.7M340.6 406.9h.7M339.8 399.6h.7M340.8 406.8h.7M347.8 399.3h.7M359.8 373.5h.7M351.7 395.1h.7M335.5 391.0h.7M347.9 374.0h.7M340.5 411.9h.7M341.8 370.3h.7M340.5 398.4h.7M342.1 398.2h.7M346.9 380.8h.7M347.8 388.7h.7M332.4 385.1h.7M360.2 380.4h.7M345.8 416.0h.7M335.9 407.3h.7M347.1 379.9h.7M345.3 401.0h.7M347.8 384.2h.7M348.2 396.4h.7M335.4 370.9h.7M337.9 390.6h.7M344.2 403.7h.7M342.5 390.7h.7M355.7 372.3h.7M328.9 414.2h.7M354.0 379.1h.7M356.2 397.1h.7M330.7 379.7h.7M345.9 404.1h.7M345.8 407.0h.7M335.3 388.2h.7M357.7 387.1h.7M339.8 382.6h.7M344.9 388.2h.7M358.7 412.8h.7M344.0 406.4h.7M338.4 401.9h.7M354.0 384.6h.7M342.7 396.8h.7M354.8 384.4h.7M351.4 391.4h.7M339.5 409.9h.7M358.2 372.6h.7M346.6 386.7h.7M334.3 393.7h.7M344.4 382.4h.7M332.9 404.1h.7M354.8 392.9h.7M359.9 390.8h.7M330.2 372.2h.7M344.0 385.6h.7M342.1 391.6h.7M351.3 416.6h.7M349.0 388.5h.7M340.1 367.0h.7M357.9 386.4h.7M343.7 370.1h.7M348.6 390.7h.7M337.8 399.3h.7M366.1 387.7h.7M343.1 401.3h.7M338.7 387.2h.7M358.7 387.9h.7M346.5 377.6h.7M333.5 387.3h.7M343.8 373.0h.7M340.1 397.5h.7M338.1 373.3h.7M348.8 386.0h.7M350.4 380.2h.7M357.6 417.2h.7M372.8 399.0h.7M395.2 383.1h.7M362.4 393.7h.7M385.2 397.6h.7M359.2 385.5h.7M402.0 371.4h.7M392.2 367.9h.7M371.0 371.4h.7M390.1 404.5h.7M384.0 377.5h.7M383.4 396.9h.7M395.4 371.3h.7M376.4 399.0h.7M376.1 374.9h.7M387.3 406.8h.7M383.0 388.3h.7M374.2 386.5h.7M374.7 386.0h.7M364.3 383.4h.7M379.1 375.1h.7M393.8 413.6h.7M368.0 372.5h.7M352.8 390.1h.7M370.1 387.3h.7M360.7 393.9h.7M366.5 392.9h.7M374.4 401.1h.7M371.3 400.4h.7M372.9 371.2h.7M388.3 390.6h.7M395.4 390.0h.7M368.6 372.0h.7M381.6 370.6h.7M376.5 363.9h.7M393.0 399.6h.7M382.7 380.4h.7M362.0 410.6h.7M385.3 385.3h.7M365.3 390.2h.7M371.5 385.1h.7M362.0 409.8h.7M382.4 388.8h.7M385.3 383.8h.7M387.0 401.8h.7M392.8 389.9h.7M375.9 409.6h.7M376.3 381.1h.7M389.4 383.9h.7M387.8 407.3h.7M368.9 389.6h.7M379.5 388.1h.7M374.8 410.1h.7M379.4 392.7h.7M378.4 381.6h.7M382.0 403.9h.7M366.7 397.4h.7M394.6 402.1h.7M393.6 391.7h.7M372.2 382.6h.7M376.8 378.1h.7M392.6 406.1h.7M382.9 396.7h.7M373.2 371.6h.7M376.5 383.6h.7M374.7 376.6h.7M375.9 396.0h.7M379.0 410.7h.7M376.5 413.3h.7M377.5 391.3h.7M380.6 391.0h.7M368.5 364.9h.7M360.1 381.4h.7M371.9 387.1h.7M379.2 404.3h.7M359.3 378.9h.7M383.6 377.1h.7M382.1 378.5h.7M363.5 378.6h.7M372.8 367.0h.7M375.6 379.0h.7M389.0 370.5h.7M382.6 379.6h.7M370.1 398.5h.7M385.2 374.6h.7M363.5 367.3h.7M368.9 403.4h.7M368.5 390.9h.7M363.4 388.8h.7M390.5 399.8h.7M373.6 398.0h.7M367.8 364.6h.7M369.9 363.8h.7M383.1 403.7h.7M378.5 395.7h.7M374.9 382.9h.7M384.7 374.6h.7M357.7 400.6h.7M374.1 368.5h.7M383.1 373.6h.7M366.3 406.8h.7M386.3 411.4h.7M397.3 411.3h.7M386.5 385.4h.7M369.3 409.6h.7M390.1 384.9h.7M365.5 395.8h.7M394.8 408.5h.7M367.4 370.7h.7M380.8 383.2h.7M373.4 412.2h.7M384.1 407.1h.7M368.7 389.0h.7M390.6 399.4h.7M392.1 405.8h.7M382.0 383.9h.7M369.5 373.6h.7M370.4 382.7h.7M378.6 383.0h.7M380.6 404.0h.7M368.4 332.9h.7M412.0 388.5h.7M356.5 358.5h.7M343.1 344.1h.7M350.6 405.9h.7M378.4 328.0h.7M412.2 351.6h.7M330.5 392.9h.7M398.0 397.5h.7M338.0 407.3h.7M343.0 381.4h.7M420.9 388.8h.7M363.9 383.2h.7M376.5 383.3h.7M381.7 409.3h.7M398.6 358.3h.7M398.5 386.5h.7M351.3 387.1h.7M381.2 337.6h.7M380.4 373.0h.7" stroke="#ff1010" stroke-width=".75" stroke-opacity=".5" fill="none"/>
<line x1="363.1" y1="320" x2="363.1" y2="417.8" stroke="#f26a6a" stroke-width="0.9"/>
<line x1="326.5" y1="365.2" x2="423" y2="365.2" stroke="#f26a6a" stroke-width="0.9"/>
<circle cx="363.1" cy="365.2" r="1.5" fill="#f7b0b0" stroke="#f05050" stroke-width=".6"/>
<circle cx="403.4" cy="365.2" r="1.5" fill="#f7b0b0" stroke="#f05050" stroke-width=".6"/>
<text class="S" x="365.4" y="362.6" font-size="4.8" fill="#e03030">R2</text>
<rect x="326.5" y="320.5" width="97" height="97" fill="none" stroke="#444" stroke-width="1"/>
<text class="Sb" x="328.5" y="326.6" font-size="6" fill="#000">87.91%</text>
<text class="Sb" x="421.4" y="326.6" font-size="6" text-anchor="end" fill="#000">5.51%</text>
<text class="Sb" x="328.5" y="416" font-size="6" fill="#000">3.31%</text>
<text class="Sb" x="421.4" y="416" font-size="6" text-anchor="end" fill="#000">3.27%</text>
<text class="S" x="327" y="318.7" font-size="4" textLength="54" lengthAdjust="spacingAndGlyphs" fill="#333">Plot P02, gated on P01.R1</text>
<text class="S" x="326.5" y="422.6" font-size="3.8" text-anchor="middle" fill="#333">10<tspan font-size="2.6" dy="-1.5">0</tspan></text>
<text class="S" transform="translate(324.9 417.8) rotate(-90)" font-size="3.8" text-anchor="middle" fill="#333">10<tspan font-size="2.6" dy="-1.5">0</tspan></text>
<line x1="326.5" y1="417.8" x2="326.5" y2="419" stroke="#666" stroke-width="0.5"/>
<line x1="325.3" y1="417.8" x2="326.5" y2="417.8" stroke="#666" stroke-width="0.5"/>
<text class="S" x="345.8" y="422.6" font-size="3.8" text-anchor="middle" fill="#333">10<tspan font-size="2.6" dy="-1.5">1</tspan></text>
<text class="S" transform="translate(324.9 398.24) rotate(-90)" font-size="3.8" text-anchor="middle" fill="#333">10<tspan font-size="2.6" dy="-1.5">1</tspan></text>
<line x1="345.8" y1="417.8" x2="345.8" y2="419" stroke="#666" stroke-width="0.5"/>
<line x1="325.3" y1="398.24" x2="326.5" y2="398.24" stroke="#666" stroke-width="0.5"/>
<text class="S" x="365.1" y="422.6" font-size="3.8" text-anchor="middle" fill="#333">10<tspan font-size="2.6" dy="-1.5">2</tspan></text>
<text class="S" transform="translate(324.9 378.68) rotate(-90)" font-size="3.8" text-anchor="middle" fill="#333">10<tspan font-size="2.6" dy="-1.5">2</tspan></text>
<line x1="365.1" y1="417.8" x2="365.1" y2="419" stroke="#666" stroke-width="0.5"/>
<line x1="325.3" y1="378.68" x2="326.5" y2="378.68" stroke="#666" stroke-width="0.5"/>
<text class="S" x="384.4" y="422.6" font-size="3.8" text-anchor="middle" fill="#333">10<tspan font-size="2.6" dy="-1.5">3</tspan></text>
<text class="S" transform="translate(324.9 359.12) rotate(-90)" font-size="3.8" text-anchor="middle" fill="#333">10<tspan font-size="2.6" dy="-1.5">3</tspan></text>
<line x1="384.4" y1="417.8" x2="384.4" y2="419" stroke="#666" stroke-width="0.5"/>
<line x1="325.3" y1="359.12" x2="326.5" y2="359.12" stroke="#666" stroke-width="0.5"/>
<text class="S" x="403.7" y="422.6" font-size="3.8" text-anchor="middle" fill="#333">10<tspan font-size="2.6" dy="-1.5">4</tspan></text>
<text class="S" transform="translate(324.9 339.56) rotate(-90)" font-size="3.8" text-anchor="middle" fill="#333">10<tspan font-size="2.6" dy="-1.5">4</tspan></text>
<line x1="403.7" y1="417.8" x2="403.7" y2="419" stroke="#666" stroke-width="0.5"/>
<line x1="325.3" y1="339.56" x2="326.5" y2="339.56" stroke="#666" stroke-width="0.5"/>
<text class="S" x="423" y="422.6" font-size="3.8" text-anchor="middle" fill="#333">10<tspan font-size="2.6" dy="-1.5">5</tspan></text>
<text class="S" transform="translate(324.9 320) rotate(-90)" font-size="3.8" text-anchor="middle" fill="#333">10<tspan font-size="2.6" dy="-1.5">5</tspan></text>
<line x1="423" y1="417.8" x2="423" y2="419" stroke="#666" stroke-width="0.5"/>
<line x1="325.3" y1="320" x2="326.5" y2="320" stroke="#666" stroke-width="0.5"/>
<text class="S" x="374.75" y="427.6" font-size="4.4" text-anchor="middle" textLength="70" lengthAdjust="spacingAndGlyphs" fill="#333">Red-R Fluorescence (RED-R-HLog)</text>
<text class="S" transform="translate(318.5 369.9) rotate(-90)" font-size="4.4" text-anchor="middle" textLength="74" lengthAdjust="spacingAndGlyphs" fill="#333">Green-B Fluorescence (GRN-B-HLog)</text>
<text class="Rb" x="376.5" y="314" font-size="8.8" text-anchor="middle" textLength="58.1" lengthAdjust="spacingAndGlyphs" fill="#111">MGC-803-shCtrl</text>
<rect x="439.8" y="319.8" width="97.4" height="98" fill="#fff"/>
<path d="M451.5 334.6h.7M468.5 352.1h.7M463.0 335.6h.7M451.5 344.6h.7M459.8 357.1h.7M472.8 342.7h.7M470.7 335.2h.7M455.0 336.1h.7M458.5 341.4h.7M461.7 327.4h.7M460.9 334.7h.7M478.6 335.4h.7M460.9 351.3h.7M452.6 332.2h.7M466.2 352.5h.7M454.3 338.7h.7M461.5 334.5h.7M452.9 335.3h.7M466.1 344.4h.7M458.6 335.3h.7M463.4 329.7h.7M454.9 338.6h.7M468.1 350.3h.7M466.0 336.5h.7M463.9 323.6h.7M459.2 321.3h.7M466.5 357.2h.7M461.0 328.1h.7M463.7 330.0h.7M466.3 323.8h.7M470.3 350.8h.7M461.5 326.7h.7M464.4 326.7h.7M463.9 335.0h.7M470.6 343.0h.7M455.3 336.6h.7M458.8 348.8h.7M469.2 335.8h.7M463.6 327.5h.7M455.4 338.7h.7M465.3 329.4h.7M472.4 340.8h.7M472.7 322.0h.7M460.2 340.9h.7M466.6 339.6h.7M457.6 333.8h.7M454.1 342.4h.7M456.9 338.2h.7M468.4 351.3h.7M469.7 338.2h.7M449.2 335.3h.7M456.1 345.6h.7M451.7 335.2h.7M448.0 333.4h.7M459.6 335.0h.7M464.9 335.0h.7M468.0 339.0h.7M457.8 326.1h.7M469.6 343.1h.7M459.7 323.2h.7M457.9 332.1h.7M465.2 338.4h.7M467.1 344.2h.7M457.9 327.7h.7M459.9 329.1h.7M465.6 347.5h.7M465.2 328.8h.7M469.8 353.2h.7M469.3 344.9h.7M457.4 342.4h.7M465.8 332.6h.7M463.0 332.9h.7M461.3 340.1h.7M461.0 346.3h.7M451.7 347.0h.7M471.5 332.4h.7M450.5 334.1h.7M464.1 337.7h.7M468.1 329.2h.7M468.2 326.0h.7M456.9 333.9h.7M458.2 335.3h.7M458.4 340.8h.7M465.2 329.5h.7M456.7 333.8h.7M474.4 345.6h.7M457.6 324.0h.7M456.1 356.6h.7M456.6 338.2h.7M471.2 340.7h.7M457.4 326.0h.7M467.0 343.6h.7M461.1 337.1h.7M469.7 338.5h.7M469.5 345.1h.7M464.3 352.4h.7M460.0 344.2h.7M456.5 348.0h.7M452.5 325.9h.7M457.3 354.4h.7M464.6 353.6h.7M466.9 324.0h.7M462.8 340.3h.7M459.4 345.2h.7M466.9 335.3h.7M459.8 327.8h.7M477.5 350.3h.7M462.8 340.9h.7M463.6 338.5h.7M461.8 335.6h.7M462.2 330.3h.7M459.0 353.0h.7M469.1 348.7h.7M473.6 334.3h.7M461.6 341.8h.7M463.8 333.5h.7M456.8 345.6h.7M466.0 325.6h.7M457.3 336.8h.7M459.7 322.6h.7M465.0 327.5h.7M463.0 327.5h.7M467.1 346.7h.7M465.7 338.1h.7M468.1 336.3h.7M477.0 328.8h.7M456.3 352.8h.7M472.3 329.2h.7M460.7 346.1h.7M458.4 323.7h.7M468.2 331.4h.7M462.2 333.5h.7M465.7 330.5h.7M462.3 335.0h.7M456.8 342.3h.7M455.3 337.5h.7M474.1 335.3h.7M461.0 338.7h.7M465.6 352.4h.7M460.8 325.7h.7M462.2 330.4h.7M455.8 338.0h.7M459.1 345.3h.7M468.1 344.7h.7M457.9 327.5h.7M458.3 328.8h.7M458.8 342.6h.7M464.5 335.0h.7M466.2 343.4h.7M465.9 348.5h.7M471.4 333.5h.7M455.6 333.3h.7M457.2 343.6h.7M461.2 328.7h.7M463.5 342.2h.7M470.1 338.5h.7M460.9 331.3h.7M456.5 331.8h.7M464.6 340.2h.7M460.3 348.1h.7M455.8 341.0h.7M459.3 346.3h.7M465.1 342.2h.7M466.1 345.9h.7M456.7 328.7h.7M459.3 348.4h.7M450.0 345.2h.7M460.5 340.4h.7M457.8 339.7h.7M467.0 323.4h.7M469.0 333.4h.7M463.3 323.5h.7M464.7 338.5h.7M473.9 323.4h.7M460.9 338.7h.7M465.3 352.8h.7M456.0 347.3h.7M461.1 329.4h.7M465.8 339.4h.7M462.2 343.2h.7M453.3 337.1h.7M457.8 335.8h.7M463.6 335.4h.7M464.5 327.5h.7M462.5 335.8h.7M477.2 340.7h.7M455.5 338.1h.7M474.3 342.0h.7M454.1 353.3h.7M467.0 341.8h.7M470.6 320.9h.7M464.1 334.3h.7M469.2 326.2h.7M465.5 346.1h.7M463.3 338.1h.7M455.0 330.6h.7M464.2 334.0h.7M466.4 327.7h.7M462.3 329.1h.7M452.9 337.9h.7M461.7 338.6h.7M459.5 349.4h.7M479.5 349.2h.7M455.0 335.4h.7M471.1 344.6h.7M456.9 332.8h.7M462.8 331.7h.7M463.7 354.9h.7M469.0 356.2h.7M465.6 325.0h.7M465.2 352.2h.7M462.4 333.3h.7M467.9 324.5h.7M460.7 335.4h.7M462.9 339.8h.7M469.0 338.1h.7M471.7 338.9h.7M476.2 344.4h.7M463.3 327.2h.7M460.4 332.3h.7M470.3 333.9h.7M462.2 340.5h.7M462.1 343.3h.7M459.0 329.9h.7M460.8 345.4h.7M462.9 331.6h.7M464.7 334.5h.7M471.7 339.5h.7M459.6 334.2h.7M472.1 330.9h.7M464.4 351.5h.7M466.9 345.2h.7M456.2 338.3h.7M471.0 343.1h.7M451.7 347.4h.7M467.5 338.1h.7M466.8 327.9h.7M471.5 348.9h.7M467.3 345.2h.7M455.2 335.2h.7M462.5 343.1h.7M454.9 337.6h.7M469.8 328.5h.7M472.3 341.5h.7M459.4 328.7h.7M472.0 332.2h.7M458.0 335.6h.7M469.0 347.8h.7M471.2 337.4h.7M460.6 337.3h.7M452.7 350.7h.7M465.2 355.2h.7M454.2 328.5h.7M453.3 348.3h.7M458.7 338.3h.7M457.7 326.0h.7M458.3 339.1h.7M459.6 332.5h.7M463.0 331.5h.7M462.1 326.3h.7M453.3 324.6h.7M455.9 343.1h.7M453.2 324.9h.7M477.7 332.6h.7M469.1 328.1h.7M460.1 334.2h.7M459.6 340.8h.7M463.1 346.5h.7M460.8 339.1h.7M457.2 346.8h.7M454.7 323.9h.7M458.0 330.6h.7M452.5 320.6h.7M456.4 337.6h.7M471.9 330.0h.7M456.8 337.3h.7M467.3 348.5h.7M466.8 330.3h.7M464.1 351.3h.7M467.6 357.2h.7M459.6 337.7h.7M461.6 343.9h.7M469.3 336.1h.7M466.3 340.0h.7M463.5 324.3h.7M463.7 344.3h.7M459.1 322.1h.7M468.4 351.1h.7M461.1 345.8h.7M454.3 348.0h.7M460.7 347.1h.7M455.5 339.2h.7M452.8 341.4h.7M459.0 343.4h.7M464.8 343.5h.7M460.3 330.8h.7M461.0 340.2h.7M457.6 341.3h.7M462.5 336.7h.7M470.5 345.0h.7M451.6 326.3h.7M475.3 350.4h.7M463.8 328.4h.7M457.3 339.3h.7M469.9 331.9h.7M466.4 341.2h.7M458.3 344.9h.7M451.0 334.8h.7M459.2 351.6h.7M459.7 324.9h.7M465.1 324.7h.7M465.0 338.1h.7M463.9 337.6h.7M465.1 344.6h.7M455.8 341.1h.7M453.6 333.7h.7M455.4 347.8h.7M464.7 332.4h.7M460.7 327.2h.7M466.4 328.7h.7M465.9 348.0h.7M450.4 352.6h.7M467.7 348.5h.7M457.0 321.6h.7M460.3 333.5h.7M463.1 325.7h.7M476.8 342.3h.7M465.0 338.6h.7M450.8 343.2h.7M458.8 321.5h.7M456.4 333.8h.7M470.8 350.6h.7M456.7 344.5h.7M462.6 343.4h.7M462.4 331.3h.7M454.3 341.0h.7M457.3 329.3h.7M466.7 356.1h.7M472.3 331.4h.7M473.4 320.6h.7M466.6 338.7h.7M461.0 339.3h.7M455.2 328.4h.7M452.7 326.2h.7M455.0 330.6h.7M462.8 321.1h.7M464.1 335.8h.7M459.2 333.1h.7M466.9 321.3h.7M462.7 333.8h.7M464.7 340.9h.7M474.3 334.8h.7M467.4 324.3h.7M454.0 328.4h.7M449.7 342.4h.7M460.5 328.1h.7M462.8 348.6h.7M457.7 337.3h.7M470.5 351.3h.7M467.5 333.8h.7M465.0 336.6h.7M457.5 326.5h.7M463.6 321.8h.7M455.9 327.4h.7M467.6 328.2h.7M459.4 328.0h.7M462.9 343.8h.7M476.4 346.9h.7M463.8 326.5h.7M472.1 336.5h.7M457.1 342.6h.7M465.7 341.1h.7M460.3 320.8h.7M468.7 339.8h.7M458.3 337.7h.7M471.7 337.3h.7M451.0 331.4h.7M468.7 345.7h.7M458.8 338.5h.7M458.5 340.7h.7M463.4 343.1h.7M462.9 335.2h.7M462.6 340.7h.7M460.2 344.9h.7M457.5 340.5h.7M465.0 341.8h.7M465.4 332.6h.7M470.1 325.4h.7M468.6 329.4h.7M461.1 344.9h.7M460.3 336.7h.7M463.6 328.3h.7M458.3 333.8h.7M466.4 333.9h.7M454.4 334.3h.7M472.3 337.1h.7M464.9 336.3h.7M461.7 328.8h.7M462.3 337.3h.7M456.5 344.6h.7M463.4 349.7h.7M462.8 344.1h.7M454.7 340.9h.7M461.4 333.6h.7M455.7 346.0h.7M463.7 345.4h.7M469.0 328.3h.7M451.4 336.7h.7M460.6 325.7h.7M461.1 332.4h.7M457.4 336.4h.7M458.9 336.4h.7M469.6 343.1h.7M464.7 348.2h.7M463.0 337.6h.7M462.5 321.6h.7M462.6 325.1h.7M471.8 339.1h.7M457.8 344.8h.7M462.8 328.5h.7M468.9 342.7h.7M466.3 348.0h.7M454.0 327.2h.7M460.6 337.4h.7M456.7 331.5h.7M465.7 357.6h.7M466.4 323.8h.7M468.7 340.1h.7M464.4 331.1h.7M456.5 327.8h.7M473.7 344.9h.7M456.2 336.1h.7M455.1 330.7h.7M463.7 353.1h.7M453.2 350.4h.7M467.9 324.6h.7M457.0 347.8h.7M474.6 343.9h.7M464.0 341.6h.7M458.4 331.0h.7M456.8 334.4h.7M459.7 337.7h.7M459.6 346.9h.7M455.2 344.5h.7M463.7 347.1h.7M461.9 352.2h.7M460.0 352.3h.7M456.7 342.2h.7M464.3 334.6h.7M464.2 335.6h.7M464.6 339.6h.7M454.4 336.5h.7M466.5 327.6h.7M465.3 341.4h.7M468.3 336.9h.7M457.0 331.3h.7M459.1 345.7h.7M469.4 340.7h.7M459.2 346.3h.7M455.2 347.6h.7M460.3 337.8h.7M456.3 345.0h.7M465.9 348.3h.7M460.0 356.3h.7M447.8 337.7h.7M465.0 343.2h.7M458.5 338.5h.7M459.1 342.0h.7M463.5 329.2h.7M467.9 321.8h.7M460.3 341.9h.7M450.3 326.1h.7M472.8 345.8h.7M455.9 336.3h.7M464.1 362.3h.7M463.2 342.8h.7M464.1 332.0h.7M462.1 335.4h.7M460.8 336.4h.7M458.2 328.2h.7M463.5 342.5h.7M472.2 356.3h.7M460.8 336.4h.7M464.5 341.6h.7M459.6 332.3h.7M479.8 336.5h.7M452.7 331.1h.7M465.5 336.7h.7M456.5 330.2h.7M476.3 325.1h.7M469.2 337.9h.7M470.4 338.8h.7M468.0 334.6h.7M460.5 346.6h.7M456.3 321.6h.7M466.0 338.8h.7M459.4 340.4h.7M462.5 327.9h.7M460.8 344.0h.7M456.5 358.3h.7M461.3 326.6h.7M470.2 337.9h.7M464.6 352.4h.7M462.6 336.0h.7M474.2 337.7h.7M458.8 335.3h.7M466.3 348.3h.7M458.8 330.7h.7M464.4 341.5h.7M461.2 332.7h.7M453.6 343.7h.7M461.6 322.7h.7M468.0 337.1h.7M455.6 343.7h.7M469.4 342.6h.7M478.0 333.0h.7M456.7 340.0h.7M464.5 346.2h.7M461.9 327.6h.7M457.2 348.0h.7M462.5 336.1h.7M468.4 329.5h.7M466.5 322.9h.7M462.7 332.0h.7M467.5 344.2h.7M462.6 337.3h.7M452.4 331.8h.7M465.7 358.2h.7M472.8 352.1h.7M462.0 328.8h.7M455.4 334.0h.7M455.2 347.4h.7M460.0 321.6h.7M456.1 351.8h.7M467.3 340.1h.7M457.4 329.6h.7M471.0 344.9h.7M465.5 324.9h.7M466.5 351.9h.7M455.5 335.1h.7M453.8 339.4h.7M460.8 341.4h.7M459.6 337.4h.7M466.2 351.7h.7M473.6 338.9h.7M459.5 325.7h.7M463.9 341.1h.7M469.4 323.3h.7M466.6 358.8h.7M457.0 323.1h.7M463.0 328.5h.7M458.7 340.6h.7M466.7 346.4h.7M454.8 348.5h.7M461.4 340.4h.7M469.3 339.1h.7M474.8 334.0h.7M456.8 323.7h.7M472.7 339.0h.7M459.0 333.0h.7M471.4 339.3h.7M468.9 341.0h.7M470.9 338.8h.7M477.0 341.7h.7M462.7 333.6h.7M477.4 337.9h.7M467.4 322.6h.7M451.7 338.7h.7M462.0 340.2h.7M454.6 338.6h.7M468.7 330.4h.7M462.7 338.6h.7M469.3 355.7h.7M471.2 336.8h.7M468.9 332.3h.7M468.1 327.2h.7M457.6 341.4h.7M466.4 338.7h.7M470.9 342.0h.7M462.4 336.3h.7M461.0 337.6h.7M458.3 331.7h.7M459.6 333.4h.7M470.1 329.8h.7M460.7 337.6h.7M455.3 331.0h.7M462.6 325.0h.7M458.5 335.6h.7M463.6 340.3h.7M457.0 348.6h.7M468.5 340.3h.7M460.4 334.2h.7M476.0 352.7h.7M462.9 331.7h.7M469.0 335.6h.7M466.3 353.9h.7M459.1 340.7h.7M446.7 333.3h.7M462.6 348.7h.7M461.2 336.1h.7M466.6 341.1h.7M462.9 322.5h.7M469.4 343.7h.7M463.7 331.3h.7M454.7 335.9h.7M459.1 333.0h.7M459.7 325.7h.7M466.6 335.2h.7M463.2 341.2h.7M459.3 328.5h.7M453.7 332.9h.7M467.1 347.4h.7M469.6 345.4h.7M464.8 332.3h.7M459.7 333.9h.7M461.5 327.2h.7M464.6 344.1h.7M459.5 320.6h.7M460.3 349.7h.7M456.1 345.2h.7M458.4 336.0h.7M463.0 337.6h.7M466.8 333.8h.7M454.6 346.5h.7M463.4 349.7h.7M456.6 329.9h.7M463.6 332.8h.7M455.1 345.5h.7M461.3 332.5h.7M461.4 338.1h.7M460.9 336.6h.7M469.7 330.0h.7M464.0 333.4h.7M459.5 339.2h.7M456.2 343.7h.7M456.5 349.8h.7M462.6 352.0h.7M469.8 341.1h.7M466.4 332.9h.7M457.7 346.3h.7M457.5 347.4h.7M464.5 339.0h.7M466.2 338.8h.7M458.2 334.8h.7M455.0 351.8h.7M466.9 332.8h.7M466.3 346.8h.7M463.6 331.2h.7M460.8 339.1h.7M464.8 329.7h.7M453.6 341.2h.7M468.6 339.5h.7M456.2 352.6h.7M470.5 342.2h.7M458.3 334.4h.7M453.6 356.7h.7M454.1 330.5h.7M458.9 339.8h.7M471.1 339.7h.7M456.1 339.3h.7M451.2 340.5h.7M467.1 352.5h.7M456.8 336.4h.7M454.3 346.4h.7M456.6 334.1h.7M462.8 346.5h.7M457.4 331.8h.7M456.7 343.0h.7M453.1 337.9h.7M461.3 344.8h.7M462.4 340.0h.7M463.7 328.1h.7M472.6 348.4h.7M462.5 341.3h.7M453.6 321.7h.7M459.7 337.6h.7M462.1 328.2h.7M468.1 336.6h.7M466.5 321.4h.7M461.8 354.2h.7M459.0 346.6h.7M458.0 336.2h.7M458.2 335.9h.7M456.8 365.4h.7M455.1 345.9h.7M459.8 346.3h.7M460.3 335.0h.7M458.8 327.8h.7M462.1 332.7h.7M462.3 341.9h.7M458.3 353.7h.7M463.9 330.1h.7M460.7 342.9h.7M463.5 335.0h.7M457.5 350.5h.7M459.6 343.2h.7M460.7 341.5h.7M461.6 337.0h.7M469.2 323.8h.7M466.7 331.7h.7M460.8 336.0h.7M475.3 360.3h.7M462.1 351.2h.7M465.3 330.7h.7M466.7 323.7h.7M464.9 331.8h.7M448.0 330.5h.7M466.7 332.2h.7M463.8 336.8h.7M463.2 345.6h.7M460.0 348.3h.7M449.9 340.3h.7M463.0 349.1h.7M456.0 323.4h.7M464.5 320.8h.7M468.0 344.4h.7M463.4 346.5h.7M471.9 346.0h.7M459.9 348.1h.7M458.9 322.2h.7M459.7 334.5h.7M459.1 354.6h.7M451.2 321.5h.7M454.9 341.8h.7M472.4 344.0h.7M470.5 328.8h.7M465.8 338.7h.7M446.0 332.0h.7M464.2 344.0h.7M463.5 325.8h.7M467.3 335.5h.7M452.2 342.9h.7M462.1 340.8h.7M453.0 341.1h.7M467.0 322.0h.7M467.8 331.1h.7M464.5 322.4h.7M466.9 342.3h.7M469.0 350.4h.7M466.6 335.7h.7M461.8 335.7h.7M457.1 336.1h.7M458.6 329.2h.7M465.0 342.9h.7M466.1 330.8h.7M466.3 332.5h.7M464.4 335.1h.7M452.5 350.2h.7M464.3 353.5h.7M470.7 337.1h.7M462.0 333.7h.7M471.8 322.8h.7M458.9 327.8h.7M460.7 327.4h.7M461.6 338.0h.7M456.2 344.6h.7M460.8 335.3h.7M457.4 345.6h.7M472.7 336.0h.7M463.5 320.8h.7M474.0 335.6h.7M465.6 336.0h.7M450.3 327.8h.7M457.4 332.7h.7M475.7 342.5h.7M461.8 327.3h.7M467.1 330.0h.7M453.3 338.4h.7M465.0 336.6h.7M457.1 337.1h.7M471.4 339.5h.7M465.9 331.2h.7M454.4 338.5h.7M470.8 334.8h.7M453.5 340.2h.7M466.1 337.9h.7M461.9 344.7h.7M461.7 351.8h.7M463.5 341.2h.7M474.7 323.8h.7M461.3 340.8h.7M455.1 333.2h.7M455.1 356.3h.7M455.7 326.9h.7M461.5 327.3h.7M464.2 338.9h.7M468.6 340.4h.7M463.1 336.2h.7M455.1 332.8h.7M454.8 336.8h.7M468.0 343.4h.7M471.7 337.0h.7M460.7 347.2h.7M453.8 342.2h.7M459.0 333.6h.7M466.8 346.6h.7M454.9 331.5h.7M458.3 337.5h.7M457.4 356.4h.7M473.9 344.0h.7M456.0 336.5h.7M456.4 335.9h.7M458.1 331.0h.7M462.5 342.4h.7M457.3 350.2h.7M459.8 337.2h.7M458.3 321.7h.7M467.1 344.2h.7M462.1 335.1h.7M464.5 330.5h.7M453.3 351.6h.7M466.1 342.6h.7M466.2 334.8h.7M453.1 334.4h.7M464.2 330.1h.7M468.5 342.3h.7M466.1 341.0h.7M459.0 335.7h.7M466.7 350.3h.7M464.3 329.0h.7M461.8 348.9h.7M466.5 337.1h.7M475.2 345.7h.7M460.0 350.2h.7M460.7 340.6h.7M457.6 329.0h.7M468.1 337.4h.7M463.0 326.5h.7M459.5 333.7h.7M466.3 323.4h.7M460.4 344.0h.7M464.9 330.9h.7M465.8 336.4h.7M460.7 348.9h.7M452.9 328.7h.7M469.4 345.8h.7M465.2 330.3h.7M463.9 341.7h.7M466.3 350.1h.7M452.5 337.0h.7M470.4 337.3h.7M468.4 342.3h.7M472.1 345.0h.7M469.1 323.3h.7M454.2 339.2h.7M459.7 343.1h.7M463.1 329.8h.7M463.4 330.8h.7M458.1 339.4h.7M465.4 347.5h.7M465.1 338.8h.7M463.8 333.0h.7M466.9 355.9h.7M469.9 327.2h.7M467.3 339.5h.7M472.2 335.4h.7M456.6 324.2h.7M467.8 351.3h.7M456.4 337.1h.7M479.9 334.1h.7M463.9 346.8h.7M454.9 336.6h.7M455.9 333.7h.7M465.3 324.7h.7M464.5 346.8h.7M463.2 336.5h.7M457.3 334.7h.7M469.3 340.7h.7M473.2 326.7h.7M458.5 338.3h.7M465.1 330.8h.7M460.0 331.4h.7M466.1 331.5h.7M457.9 347.7h.7M466.0 329.8h.7M448.2 333.4h.7M457.5 328.4h.7M466.7 328.6h.7M465.4 328.9h.7M466.7 330.9h.7M473.6 332.7h.7M461.5 342.0h.7M463.4 332.2h.7M459.1 333.9h.7M453.3 334.6h.7M467.9 338.7h.7M462.1 353.1h.7M461.4 329.6h.7M461.0 333.8h.7M471.1 341.3h.7M456.9 337.0h.7M462.6 348.4h.7M466.6 333.2h.7M469.1 344.3h.7M466.2 339.5h.7M464.8 337.9h.7M462.4 330.6h.7M466.9 332.8h.7M457.1 348.3h.7M462.3 331.8h.7M459.2 336.3h.7M462.7 331.0h.7M471.5 331.6h.7M457.6 351.1h.7M467.6 340.3h.7M464.2 336.2h.7M461.2 329.0h.7M453.6 345.5h.7M458.0 322.6h.7M458.2 344.6h.7M459.9 331.2h.7M475.0 343.1h.7M467.2 335.6h.7M462.6 352.8h.7M465.4 339.6h.7M463.4 344.7h.7M466.0 337.5h.7M458.8 331.7h.7M465.8 339.4h.7M466.7 328.3h.7M447.9 324.2h.7M459.6 333.2h.7M454.8 341.3h.7M462.2 328.4h.7M468.2 337.1h.7M460.9 334.6h.7M461.0 342.4h.7M449.9 343.3h.7M467.1 339.1h.7M477.9 338.4h.7M465.7 342.1h.7M467.6 323.8h.7M453.7 327.4h.7M470.7 340.4h.7M447.9 345.9h.7M471.0 344.1h.7M453.9 338.1h.7M467.5 347.1h.7M458.0 350.7h.7M468.6 334.7h.7M459.0 334.1h.7M463.3 324.8h.7M465.9 343.9h.7M466.9 339.9h.7M480.3 339.4h.7M461.2 346.3h.7M463.5 337.9h.7M474.7 355.7h.7M457.3 348.8h.7M459.9 351.6h.7M458.9 359.8h.7M458.6 332.2h.7M462.2 340.9h.7M462.6 350.2h.7M469.6 330.5h.7M466.5 333.5h.7M456.4 328.3h.7M461.8 343.2h.7M462.2 338.1h.7M468.1 355.4h.7M456.0 327.6h.7M468.2 342.8h.7M468.8 346.4h.7M455.3 333.9h.7M461.6 347.1h.7M470.8 330.9h.7M459.8 330.7h.7M456.8 343.6h.7M463.7 337.6h.7M465.5 329.3h.7M456.4 349.2h.7M461.3 330.3h.7M455.2 331.5h.7M449.3 344.0h.7M460.4 348.9h.7M465.4 334.8h.7M456.5 334.9h.7M445.4 345.2h.7M460.9 331.3h.7M474.1 330.6h.7M472.0 344.5h.7M460.9 336.7h.7M468.3 330.0h.7M469.3 339.1h.7M454.6 334.3h.7M453.2 332.2h.7M450.4 327.4h.7M467.0 352.3h.7M469.8 354.0h.7M460.4 344.0h.7M454.0 335.2h.7M444.1 328.0h.7M462.2 344.4h.7M455.0 349.4h.7M467.5 341.1h.7M460.1 338.3h.7M463.6 349.6h.7M457.0 333.8h.7M454.5 341.3h.7M463.9 329.4h.7M471.4 347.8h.7M467.3 342.9h.7M471.8 352.1h.7M465.6 330.7h.7M458.5 329.4h.7M465.2 339.5h.7M461.6 330.7h.7M461.1 346.4h.7M456.0 336.4h.7M465.6 330.8h.7M460.2 340.3h.7M465.8 348.1h.7M460.5 344.6h.7M466.3 338.7h.7M450.9 321.7h.7M458.4 329.6h.7M466.7 331.6h.7M463.8 334.6h.7M448.0 334.0h.7M457.5 343.8h.7M460.4 339.2h.7M456.4 336.6h.7M463.6 331.0h.7M475.0 343.0h.7M471.6 351.2h.7M455.7 332.2h.7M465.7 345.3h.7M461.8 335.6h.7M462.6 324.2h.7M466.0 327.9h.7M470.9 327.3h.7M456.4 351.7h.7M460.5 345.2h.7M463.8 346.1h.7M470.0 338.2h.7M463.4 339.7h.7M460.0 325.5h.7M458.7 335.5h.7M463.3 335.1h.7M467.5 341.7h.7M462.7 345.6h.7M475.1 325.7h.7M463.3 342.6h.7M459.8 343.0h.7M470.0 344.4h.7M467.5 341.9h.7M471.3 347.3h.7M460.9 340.4h.7M461.7 330.3h.7M461.4 345.1h.7M461.4 346.6h.7M465.4 342.3h.7M457.0 331.2h.7M469.0 344.0h.7M458.1 325.7h.7M456.0 341.8h.7M456.6 353.4h.7M453.3 340.2h.7M460.1 327.5h.7M465.8 344.0h.7M461.4 328.0h.7M466.5 344.2h.7M462.9 330.9h.7M462.9 349.8h.7M461.5 344.4h.7M468.9 324.7h.7M458.4 335.0h.7M459.3 341.9h.7M458.8 334.0h.7M467.1 331.0h.7M447.9 336.8h.7M458.6 323.8h.7M475.7 341.8h.7M461.2 337.0h.7M446.1 345.4h.7M456.4 343.8h.7M448.1 347.2h.7M463.4 325.7h.7M463.0 342.4h.7M460.1 355.9h.7M458.2 350.8h.7M469.1 327.8h.7M451.6 337.8h.7M470.5 331.0h.7M468.0 338.5h.7M463.1 326.4h.7M457.8 336.3h.7M466.2 322.3h.7M467.0 339.4h.7M456.9 341.5h.7M464.6 320.9h.7M463.8 331.8h.7M464.2 344.0h.7M463.0 332.6h.7M464.8 334.5h.7M464.1 344.3h.7M467.3 334.8h.7M463.4 341.8h.7M461.8 334.8h.7M471.9 352.5h.7M458.6 329.0h.7M472.8 343.0h.7M474.6 344.4h.7M449.4 326.9h.7M468.3 336.1h.7M465.9 340.4h.7M457.1 322.7h.7M466.0 336.4h.7M468.8 340.4h.7M452.3 330.9h.7M459.7 338.7h.7M466.3 323.9h.7M465.0 346.2h.7M468.0 344.2h.7M469.1 323.1h.7M458.8 341.6h.7M471.5 332.6h.7M453.8 333.6h.7M472.1 340.6h.7M452.9 330.6h.7M465.9 345.7h.7M466.6 351.2h.7M463.7 341.4h.7M464.4 346.1h.7M462.5 345.2h.7M467.0 331.9h.7M465.7 337.1h.7M463.3 335.9h.7M463.9 339.0h.7M454.5 328.2h.7M462.8 329.3h.7M452.7 355.6h.7M461.4 324.4h.7M467.7 338.7h.7M465.2 337.1h.7M460.6 340.4h.7M453.8 339.9h.7M468.3 344.3h.7M466.7 337.6h.7M469.7 344.1h.7M450.4 331.3h.7M454.0 331.9h.7M473.7 330.3h.7M467.8 326.8h.7M452.7 326.9h.7M461.1 330.6h.7M448.4 329.7h.7M462.5 332.7h.7M454.8 321.9h.7M458.0 343.5h.7M469.1 357.2h.7M461.7 330.6h.7M455.9 343.4h.7M459.1 332.8h.7M454.2 335.8h.7M466.1 328.3h.7M464.9 333.4h.7M465.5 327.7h.7M458.2 328.4h.7M462.2 331.4h.7M454.5 334.9h.7M467.9 343.3h.7M462.6 334.1h.7M470.1 327.3h.7M477.1 344.8h.7M464.7 340.0h.7M473.1 323.3h.7M457.3 337.4h.7M460.9 343.2h.7M464.6 328.5h.7M455.1 351.2h.7M457.3 325.5h.7M457.3 332.1h.7M465.9 335.1h.7M453.1 351.2h.7M471.8 336.9h.7M452.2 340.5h.7M465.0 335.1h.7M468.5 352.1h.7M461.3 335.2h.7M463.9 338.4h.7M461.5 350.8h.7M468.9 347.9h.7M454.5 341.7h.7M460.3 321.0h.7M471.5 322.9h.7M455.4 339.9h.7M471.4 345.5h.7M464.4 344.9h.7M460.3 336.0h.7M461.6 328.5h.7M470.6 322.8h.7M463.7 337.7h.7M452.9 324.6h.7M464.9 328.9h.7M463.4 332.5h.7M462.5 332.0h.7M461.2 344.4h.7M452.9 327.5h.7M465.0 340.3h.7M466.9 338.7h.7M448.2 346.0h.7M458.0 335.5h.7M454.5 343.1h.7M463.4 325.9h.7M465.9 346.0h.7M466.9 342.0h.7M476.8 343.2h.7M473.5 338.7h.7M469.8 341.9h.7M463.7 349.2h.7M462.0 337.9h.7M464.5 337.1h.7M459.5 336.3h.7M465.4 348.3h.7M462.7 340.2h.7M466.0 328.3h.7M456.6 337.5h.7M460.5 327.5h.7M459.1 321.1h.7M469.3 341.0h.7M462.3 338.9h.7M458.1 344.5h.7M462.4 340.4h.7M462.3 333.9h.7M459.7 336.9h.7M470.6 335.4h.7M458.0 330.6h.7M467.7 349.6h.7M466.3 340.5h.7M467.0 326.9h.7M459.9 341.1h.7M464.7 354.3h.7M459.5 344.6h.7M472.3 328.2h.7M461.7 342.7h.7M465.0 339.7h.7M471.8 347.9h.7M456.7 330.0h.7M457.1 334.5h.7M467.1 338.4h.7M468.3 342.1h.7M459.4 325.4h.7M454.5 333.3h.7M474.3 331.9h.7M467.2 342.5h.7M462.8 328.4h.7M474.0 336.5h.7M474.7 339.2h.7M462.0 336.6h.7M459.7 330.4h.7M466.2 329.3h.7M466.8 326.6h.7M451.8 334.0h.7M469.3 329.7h.7M474.4 347.6h.7M461.8 347.7h.7M460.9 336.1h.7M465.2 336.0h.7M470.1 326.2h.7M456.2 322.0h.7M460.7 334.4h.7M455.8 342.1h.7M454.0 327.5h.7M471.8 330.9h.7M462.8 337.0h.7M461.6 342.5h.7M461.1 336.8h.7M458.1 334.9h.7M462.4 345.2h.7M458.5 326.8h.7M460.2 331.1h.7M460.9 348.0h.7M459.8 353.1h.7M469.8 336.7h.7M461.9 337.6h.7M457.5 341.6h.7M465.6 333.7h.7M459.7 341.2h.7M454.6 331.3h.7M456.7 320.9h.7M456.5 341.7h.7M470.2 328.1h.7M459.1 341.7h.7M463.5 330.3h.7M458.6 346.2h.7M451.7 323.7h.7M462.5 339.4h.7M457.3 327.7h.7M469.4 338.0h.7M455.2 339.7h.7M461.0 347.1h.7M468.0 328.1h.7M458.1 336.2h.7M459.6 341.4h.7M460.9 352.4h.7M456.3 323.4h.7M456.9 335.4h.7M457.0 333.9h.7M453.5 349.1h.7M461.4 338.2h.7M448.2 350.5h.7M475.2 340.5h.7M462.1 359.3h.7M461.4 354.9h.7M458.0 331.9h.7M475.6 323.3h.7M468.9 360.7h.7M463.6 343.6h.7M471.7 328.6h.7M461.0 347.7h.7M464.3 336.7h.7M475.0 371.7h.7M448.2 347.1h.7M467.9 376.7h.7M457.8 367.1h.7M476.3 350.2h.7M463.8 367.9h.7M445.1 340.1h.7M452.8 349.9h.7M462.8 347.9h.7M466.9 373.2h.7M476.3 344.6h.7M459.7 361.8h.7M465.9 357.7h.7M462.9 348.5h.7M445.6 359.7h.7M465.7 329.2h.7M453.8 342.2h.7M462.7 336.2h.7M465.1 361.4h.7M463.5 342.2h.7M480.4 358.8h.7M458.5 343.1h.7M456.5 341.1h.7M458.5 331.0h.7M468.6 337.7h.7M453.9 335.5h.7M452.3 341.3h.7M460.1 330.8h.7M471.1 346.3h.7M470.1 344.8h.7M467.8 321.8h.7M459.1 356.8h.7M457.0 348.1h.7M448.0 370.8h.7M467.7 331.2h.7M465.8 341.4h.7M465.6 336.9h.7M461.5 357.9h.7M469.6 345.5h.7M468.0 344.9h.7M465.1 329.5h.7M460.2 363.2h.7M463.3 349.5h.7M477.2 359.3h.7M479.6 358.2h.7M478.4 328.3h.7M467.1 344.3h.7M446.8 347.7h.7M464.6 345.5h.7M466.6 343.8h.7M478.5 338.1h.7M460.5 351.1h.7M466.7 352.6h.7M463.6 346.7h.7M457.5 366.0h.7M452.7 340.5h.7M449.6 357.1h.7M459.3 342.5h.7M449.4 365.5h.7M456.4 358.9h.7M462.6 343.2h.7M460.8 333.4h.7M467.2 353.1h.7M485.1 321.3h.7M460.2 330.8h.7M457.9 324.9h.7M452.9 354.2h.7M457.0 339.3h.7M470.6 346.8h.7M465.4 341.7h.7M463.4 336.9h.7M475.2 341.5h.7M456.4 338.4h.7M464.8 334.9h.7M477.5 349.2h.7M468.4 345.5h.7M452.4 336.9h.7M467.6 345.7h.7M457.4 324.3h.7M454.3 350.8h.7M441.6 368.3h.7M475.9 339.8h.7M458.1 348.4h.7M454.9 345.5h.7M456.4 335.8h.7M457.7 362.9h.7M474.3 361.6h.7M451.6 327.2h.7M452.8 339.7h.7M470.2 364.2h.7M448.3 355.8h.7M457.6 336.9h.7M471.0 371.9h.7M473.6 331.5h.7M465.3 350.7h.7M452.7 365.3h.7M461.4 358.7h.7M460.9 336.3h.7M458.1 352.4h.7M467.2 360.9h.7M469.8 340.4h.7M474.4 351.7h.7M460.3 346.7h.7M458.7 330.4h.7M464.4 336.7h.7M461.4 340.4h.7M449.6 341.3h.7M465.3 330.0h.7M468.8 335.1h.7M473.5 366.4h.7M464.7 330.1h.7M461.4 370.5h.7M460.2 349.6h.7M462.7 338.1h.7M465.5 363.0h.7M479.0 325.1h.7M459.2 339.1h.7M472.7 335.7h.7M455.6 336.0h.7M462.9 351.5h.7M466.6 328.2h.7M450.1 383.2h.7M462.3 330.2h.7M474.4 329.1h.7M459.1 359.2h.7M467.8 367.3h.7M463.7 353.6h.7M455.0 341.7h.7M477.1 349.6h.7M462.1 329.5h.7M471.5 371.2h.7M466.1 365.3h.7M467.1 332.2h.7M469.3 335.5h.7M465.0 361.6h.7M463.9 345.4h.7M450.3 335.2h.7M462.5 322.6h.7M470.1 354.2h.7M464.4 333.4h.7M451.9 330.8h.7M463.7 338.0h.7M447.7 343.2h.7M453.6 325.2h.7M459.5 342.0h.7M467.0 321.0h.7M462.1 351.6h.7M467.5 332.3h.7M454.3 341.4h.7M461.4 350.3h.7M445.6 335.6h.7M461.8 346.9h.7M459.6 334.8h.7M458.2 330.0h.7M460.2 351.9h.7M463.9 345.4h.7M457.0 371.5h.7M448.0 349.8h.7M465.0 354.0h.7M457.2 349.9h.7M453.0 340.1h.7M473.4 342.9h.7M476.7 352.5h.7M454.3 345.8h.7M453.7 345.3h.7M473.5 326.2h.7M453.2 351.4h.7M458.3 367.1h.7M453.7 324.2h.7M455.9 334.2h.7M450.0 339.6h.7M460.4 337.7h.7M465.9 330.0h.7M449.6 348.3h.7M452.4 351.2h.7M477.4 348.5h.7M458.2 336.8h.7M474.7 324.5h.7M453.0 362.9h.7M469.2 350.3h.7M459.4 333.9h.7M457.2 333.6h.7M456.0 345.3h.7M447.4 370.9h.7M448.0 332.9h.7M462.5 341.8h.7M459.9 336.6h.7M468.6 331.7h.7M467.1 336.0h.7M472.9 357.3h.7M471.3 373.9h.7M461.3 336.8h.7M462.8 324.9h.7M464.4 337.8h.7M466.2 335.3h.7M463.7 374.7h.7M447.8 343.3h.7M451.7 345.9h.7M444.7 345.6h.7M467.7 332.8h.7M470.9 354.9h.7M460.2 364.3h.7M462.2 345.8h.7M465.2 341.0h.7M445.5 350.3h.7M462.7 326.2h.7M488.5 335.0h.7M464.5 364.2h.7M481.8 342.7h.7M467.1 346.6h.7M454.6 346.0h.7M453.0 357.1h.7M478.7 331.1h.7M464.4 334.3h.7M477.6 336.4h.7M460.2 349.4h.7M474.3 336.9h.7M461.1 325.5h.7M459.4 369.3h.7M472.1 324.3h.7M468.4 324.4h.7M479.9 342.9h.7M459.7 359.0h.7M458.7 340.3h.7M467.1 357.2h.7M469.1 360.2h.7M443.5 324.4h.7M448.8 336.4h.7M463.4 327.6h.7M459.9 332.7h.7M457.3 347.8h.7M465.0 375.1h.7M468.0 334.4h.7M462.1 344.3h.7M463.1 328.0h.7M454.8 362.8h.7M449.9 329.7h.7M474.3 338.3h.7M450.9 352.2h.7M472.9 327.3h.7M453.4 329.9h.7M449.7 345.1h.7M454.2 346.9h.7M466.5 327.5h.7M473.3 335.0h.7M476.6 354.1h.7M480.4 335.3h.7M474.0 344.0h.7M472.0 321.1h.7M478.9 356.1h.7M450.7 348.6h.7M471.7 328.0h.7M474.0 322.0h.7M454.9 340.0h.7M462.7 350.6h.7M463.0 346.6h.7M463.9 336.6h.7M462.9 357.3h.7M474.4 350.8h.7M467.9 370.7h.7M456.4 335.5h.7M469.6 340.5h.7M468.3 337.2h.7M470.8 356.0h.7M469.4 334.2h.7M471.3 350.3h.7M467.8 336.3h.7M475.2 332.2h.7M469.1 352.6h.7M467.7 360.2h.7M473.5 346.7h.7M485.2 345.9h.7M470.6 327.4h.7M461.3 352.1h.7M457.0 334.0h.7M467.8 336.0h.7M455.6 352.4h.7M461.8 326.5h.7M475.6 349.4h.7M456.5 348.4h.7M472.2 342.2h.7M464.4 341.6h.7M463.6 344.4h.7M456.4 337.0h.7M474.4 325.1h.7M456.1 329.8h.7M469.5 367.7h.7M457.0 350.7h.7M451.6 324.2h.7M477.5 331.2h.7M478.4 326.5h.7M461.0 340.0h.7M469.0 330.3h.7M452.9 329.8h.7M449.5 338.5h.7M451.4 340.1h.7M464.2 344.0h.7M467.8 325.2h.7M468.0 341.3h.7M462.8 330.1h.7M456.0 333.8h.7M480.2 353.8h.7M457.6 324.1h.7M458.2 348.0h.7M466.6 364.2h.7M462.7 361.8h.7M459.2 342.1h.7M474.3 332.1h.7M486.7 337.4h.7M479.3 332.3h.7M461.1 334.3h.7M464.7 354.3h.7M474.9 353.7h.7M464.9 328.7h.7M454.4 380.3h.7M450.6 355.8h.7M456.5 338.8h.7M471.7 328.9h.7M455.7 336.6h.7M448.6 339.7h.7M469.3 347.5h.7M472.1 347.0h.7M458.3 339.6h.7M457.1 332.5h.7M458.1 363.9h.7M467.0 344.6h.7M444.2 343.6h.7M454.2 341.6h.7M448.7 378.2h.7M459.8 339.2h.7M468.2 352.3h.7M464.7 344.6h.7M446.7 343.0h.7M450.3 350.1h.7M462.5 334.2h.7M460.7 366.0h.7M455.7 344.6h.7M464.7 326.7h.7M469.5 360.2h.7M463.9 327.9h.7M455.0 347.1h.7M476.6 354.7h.7M468.9 359.7h.7M470.5 372.9h.7M465.8 353.7h.7M470.7 347.4h.7M445.4 354.4h.7M481.2 351.3h.7M454.3 364.8h.7M447.6 357.7h.7M446.0 363.1h.7M471.6 351.6h.7M471.9 333.1h.7M451.6 365.4h.7M458.8 352.9h.7M455.0 370.4h.7M459.9 369.4h.7M471.9 331.5h.7M455.7 336.9h.7M446.9 330.9h.7M456.7 353.8h.7M465.3 343.8h.7M471.0 341.2h.7M463.3 343.3h.7M449.3 354.8h.7M474.4 364.4h.7M458.4 373.2h.7M464.3 357.4h.7M460.8 346.2h.7M466.2 357.3h.7M459.2 349.9h.7M468.7 358.1h.7M468.8 323.1h.7M479.1 332.0h.7M470.2 332.5h.7M459.7 336.4h.7M444.4 335.6h.7M459.8 368.0h.7M461.0 336.4h.7M468.2 353.3h.7M462.4 351.5h.7M447.9 332.6h.7M481.8 327.7h.7M448.2 321.0h.7M455.6 369.0h.7M480.3 365.6h.7M489.0 366.6h.7M475.6 337.1h.7M464.8 326.0h.7M479.5 364.8h.7M462.5 322.1h.7M464.1 336.4h.7M459.2 354.6h.7M470.0 344.7h.7M474.7 354.5h.7M467.2 347.6h.7M448.8 350.7h.7M467.0 353.0h.7M461.3 324.5h.7M473.7 336.5h.7M462.3 332.0h.7M462.2 333.1h.7M454.3 347.3h.7M458.8 345.2h.7M463.7 341.8h.7M459.6 331.4h.7M466.6 356.5h.7M459.9 364.8h.7M464.5 359.5h.7M450.3 343.8h.7M458.9 320.4h.7M448.5 353.0h.7M459.7 363.7h.7M467.9 335.4h.7M476.9 362.5h.7M448.3 348.0h.7M466.6 326.3h.7M448.6 332.2h.7M471.2 327.5h.7M460.9 340.2h.7M470.9 372.3h.7M465.7 357.3h.7M478.8 347.2h.7M478.4 360.3h.7M470.3 339.2h.7M459.2 342.1h.7M459.5 353.8h.7M467.4 360.2h.7M465.2 343.1h.7M473.1 351.9h.7M449.2 360.6h.7M460.5 330.2h.7M458.1 330.8h.7M461.3 329.8h.7M452.0 336.0h.7M470.5 343.8h.7M463.4 349.3h.7M465.9 338.2h.7M469.1 352.9h.7M441.9 334.4h.7M462.3 363.6h.7M465.0 347.2h.7M463.3 344.4h.7M470.9 355.3h.7M446.9 327.3h.7M480.8 333.3h.7M463.6 358.0h.7M456.1 329.8h.7M467.1 329.2h.7M469.6 349.0h.7M468.9 342.8h.7M456.4 328.8h.7M457.7 354.5h.7M471.5 320.5h.7M464.8 337.8h.7M464.8 334.3h.7M460.1 365.2h.7M456.7 330.0h.7M473.5 351.3h.7M464.3 372.5h.7M469.5 337.9h.7M470.5 338.6h.7M458.9 357.1h.7M450.4 349.9h.7M458.4 334.1h.7M463.2 327.9h.7M468.5 330.0h.7M460.0 339.9h.7M463.1 367.6h.7M450.5 340.4h.7M469.3 382.7h.7M463.0 357.7h.7M468.6 332.3h.7M466.3 359.9h.7M467.8 340.1h.7M463.2 326.3h.7M452.0 330.6h.7M477.8 333.6h.7M473.0 333.8h.7M474.9 330.5h.7M450.0 347.1h.7M469.6 334.0h.7M461.9 332.9h.7M453.5 356.3h.7M476.2 349.7h.7M469.9 342.7h.7M462.2 331.2h.7M467.8 347.1h.7M470.8 349.5h.7M452.9 322.2h.7M460.6 344.4h.7M448.2 343.0h.7M448.3 346.1h.7M449.4 337.9h.7M463.6 337.3h.7M463.9 339.8h.7M446.9 332.1h.7M460.8 341.5h.7M449.5 356.6h.7M469.6 325.6h.7M463.8 331.0h.7M454.1 328.3h.7M477.3 341.4h.7M472.5 336.1h.7M454.4 349.5h.7M474.4 374.7h.7M457.6 344.7h.7M449.8 335.5h.7M473.6 353.5h.7M457.3 323.0h.7M460.9 374.5h.7M449.4 345.4h.7M451.8 335.0h.7M465.1 329.8h.7M461.1 339.4h.7M458.7 343.9h.7M444.6 346.9h.7M479.1 341.0h.7M447.1 352.1h.7M456.6 337.3h.7M459.7 359.6h.7M457.1 334.1h.7M466.5 334.0h.7M461.1 354.3h.7M463.1 350.9h.7M463.6 364.7h.7M463.7 346.8h.7M458.2 353.8h.7M444.7 326.0h.7M476.8 339.1h.7M467.6 364.6h.7M454.9 355.2h.7M452.0 337.0h.7M474.0 341.3h.7M453.0 335.9h.7M469.0 356.0h.7M447.4 334.2h.7M471.4 328.5h.7M446.0 356.7h.7M476.2 341.5h.7M461.1 339.4h.7M469.5 351.6h.7M469.0 332.0h.7M470.9 370.7h.7M469.4 355.4h.7M460.2 338.5h.7M482.6 342.9h.7M460.6 334.1h.7M469.6 364.2h.7M457.0 347.6h.7M455.4 339.4h.7M473.0 356.8h.7M451.3 347.5h.7M460.3 348.3h.7M463.1 350.4h.7M452.9 348.9h.7M446.3 335.4h.7M452.2 336.0h.7M465.6 359.9h.7M456.9 361.6h.7M458.3 341.0h.7M449.9 337.3h.7M484.5 348.2h.7M468.7 352.6h.7M446.4 334.6h.7M465.2 324.8h.7M471.9 339.9h.7M454.4 333.5h.7M473.5 348.4h.7M474.2 342.3h.7M466.2 362.5h.7M450.9 338.4h.7M469.3 350.4h.7M468.8 322.7h.7M465.7 343.8h.7M469.3 323.6h.7M458.8 342.1h.7M478.4 344.7h.7M449.0 327.4h.7M459.2 360.3h.7M456.4 359.1h.7M449.5 335.9h.7M451.0 330.1h.7M471.4 348.4h.7M458.6 347.7h.7M460.1 338.6h.7M464.3 352.8h.7M467.5 342.2h.7M477.6 342.7h.7M449.1 363.4h.7M457.0 328.6h.7M463.3 344.6h.7M461.1 323.9h.7M459.9 349.9h.7M477.8 349.6h.7M473.9 363.8h.7M471.4 354.8h.7M470.4 351.7h.7M452.0 321.1h.7M455.0 350.7h.7M474.6 339.4h.7M458.1 363.1h.7M472.4 346.3h.7M473.9 348.4h.7M461.1 343.7h.7M459.4 350.0h.7M461.8 339.9h.7M469.3 323.8h.7M462.5 334.5h.7M472.6 372.8h.7M466.8 359.9h.7M472.8 343.3h.7M462.1 366.2h.7M465.6 353.2h.7M444.5 344.4h.7M473.4 333.1h.7M457.7 347.6h.7M467.7 327.9h.7M463.0 352.1h.7M449.2 354.2h.7M444.5 356.6h.7M468.6 361.7h.7M440.9 343.5h.7M459.1 344.8h.7M453.5 360.7h.7M460.4 341.7h.7M451.1 336.2h.7M443.6 338.3h.7M454.7 343.4h.7M444.7 339.0h.7M467.6 337.8h.7M460.7 329.5h.7M457.3 344.9h.7M457.1 354.2h.7M450.0 337.5h.7M467.1 358.1h.7M444.8 348.6h.7M457.6 342.3h.7M462.4 340.6h.7M466.5 339.7h.7M470.0 350.8h.7M444.6 350.2h.7M447.7 329.9h.7M469.3 348.2h.7M461.6 322.9h.7M463.4 343.3h.7M465.1 351.0h.7M464.2 336.6h.7M469.3 351.3h.7M464.0 330.3h.7M463.5 336.4h.7M462.5 356.8h.7M467.2 342.4h.7M463.2 343.9h.7M460.8 337.2h.7M467.5 335.9h.7M462.4 348.3h.7M460.4 345.0h.7M475.2 349.0h.7M463.3 336.4h.7M454.3 344.2h.7M463.8 360.0h.7M452.9 359.7h.7M460.4 345.0h.7M470.7 354.0h.7M466.3 332.7h.7M461.8 340.0h.7M472.9 330.8h.7M474.0 345.0h.7M456.2 344.8h.7M466.2 327.5h.7M473.6 340.6h.7M471.9 336.8h.7M456.5 353.0h.7M468.2 343.4h.7M447.8 357.1h.7M469.8 321.7h.7M447.7 339.7h.7M466.7 345.1h.7M448.8 346.5h.7M466.2 350.3h.7M460.3 333.3h.7M454.5 355.2h.7M464.2 344.0h.7M465.6 352.8h.7M466.0 356.7h.7M449.3 358.5h.7M469.9 335.0h.7M468.2 333.0h.7M465.4 336.8h.7M450.0 354.2h.7M460.2 367.3h.7M447.5 349.2h.7M454.3 327.0h.7M454.2 333.3h.7M466.1 352.0h.7M442.9 322.8h.7M464.2 337.3h.7M471.3 349.1h.7M456.4 334.5h.7M479.2 329.9h.7M451.8 329.8h.7M465.8 347.1h.7M469.0 322.6h.7M464.2 329.8h.7M463.1 321.2h.7M453.5 338.1h.7M465.5 333.0h.7M462.9 352.0h.7M476.1 358.9h.7M472.5 357.2h.7M448.7 334.7h.7M461.3 342.7h.7M474.1 351.1h.7M469.3 348.4h.7M447.2 361.1h.7M465.1 342.0h.7M468.3 354.9h.7M464.5 332.9h.7M474.1 350.1h.7M477.9 339.2h.7M451.2 348.0h.7M458.1 351.6h.7M478.9 327.2h.7M472.3 330.3h.7M465.4 350.8h.7M479.8 344.6h.7M466.4 338.6h.7M457.8 335.0h.7M456.6 351.8h.7M463.3 363.3h.7M448.6 336.1h.7M460.3 360.2h.7M453.5 350.2h.7M473.2 358.9h.7M458.7 341.2h.7M471.8 340.3h.7M468.7 344.1h.7M472.2 349.4h.7M466.9 338.5h.7M467.9 341.3h.7M492.1 348.9h.7M463.7 339.1h.7M443.4 342.8h.7M466.6 349.3h.7M460.7 359.9h.7M466.7 334.3h.7M452.2 359.8h.7M458.3 335.3h.7M451.0 333.9h.7M468.8 351.0h.7M461.6 354.5h.7M472.1 354.8h.7M444.5 342.8h.7M458.1 368.2h.7M478.1 348.9h.7M453.5 358.1h.7M460.9 335.4h.7M473.5 346.5h.7M462.8 333.0h.7M455.3 368.5h.7M455.7 322.3h.7M475.9 337.7h.7M461.0 344.1h.7M483.5 324.9h.7M465.3 347.2h.7M466.0 348.7h.7M465.3 378.2h.7M465.8 361.6h.7M462.5 333.0h.7M483.9 323.3h.7M475.9 336.6h.7M459.6 334.5h.7M456.7 330.1h.7M461.3 346.0h.7M464.0 361.1h.7M465.3 326.0h.7M478.4 332.0h.7M460.0 342.1h.7M454.2 370.3h.7M458.1 347.2h.7M454.8 334.2h.7M460.8 342.2h.7M465.9 330.1h.7M472.4 355.1h.7M466.3 337.1h.7M474.2 343.4h.7M468.8 350.1h.7M451.2 346.8h.7M469.5 325.8h.7M475.2 328.5h.7M445.2 354.0h.7M470.3 353.5h.7M459.4 362.0h.7M473.7 357.9h.7M465.4 339.8h.7M460.5 335.0h.7M460.4 367.7h.7M456.6 360.3h.7M461.6 359.1h.7M456.3 338.8h.7M459.5 336.8h.7M464.7 339.2h.7M463.5 343.5h.7M479.1 341.6h.7M470.6 367.3h.7M452.7 347.2h.7M463.6 350.5h.7M447.6 335.4h.7M476.5 335.5h.7M459.8 326.8h.7M463.2 348.0h.7M466.8 372.5h.7M460.4 354.4h.7M449.5 341.7h.7M457.4 346.6h.7M474.6 342.8h.7M468.2 353.5h.7M466.9 350.3h.7M456.0 357.5h.7M463.0 333.3h.7M444.0 373.8h.7M463.8 353.5h.7M471.6 341.7h.7M454.1 353.3h.7M465.1 368.3h.7M460.5 340.0h.7M448.6 336.6h.7M461.4 345.0h.7M474.6 335.9h.7M466.6 342.2h.7M453.2 339.2h.7M461.4 339.2h.7M463.5 349.4h.7M451.2 338.0h.7M466.8 331.0h.7M473.3 331.9h.7M464.5 342.9h.7M460.7 334.6h.7M462.7 342.9h.7M464.6 344.6h.7M454.6 352.5h.7M458.1 345.6h.7M475.4 363.1h.7M454.8 355.8h.7M464.0 381.6h.7M471.6 334.9h.7M465.6 348.3h.7M463.6 330.7h.7M463.3 355.8h.7M470.6 337.0h.7M469.2 350.8h.7M465.8 335.3h.7M446.2 346.2h.7M469.4 361.1h.7M463.7 355.6h.7M447.9 361.2h.7M478.8 333.5h.7M452.5 346.4h.7M470.6 338.5h.7M440.5 356.7h.7M473.7 343.1h.7M470.4 332.3h.7M454.4 322.8h.7M469.0 329.9h.7M470.7 344.6h.7M458.3 336.9h.7M465.6 339.0h.7M468.0 325.5h.7M457.5 329.4h.7M456.5 343.2h.7M464.1 323.8h.7M458.6 366.8h.7M473.6 349.6h.7M462.7 335.8h.7M459.5 334.6h.7M448.8 324.5h.7M457.1 361.5h.7M466.5 341.3h.7M460.2 340.1h.7M451.9 359.4h.7M475.4 335.4h.7M464.2 342.6h.7M463.4 345.4h.7M442.1 331.9h.7M465.6 346.5h.7M442.8 352.7h.7M466.5 327.1h.7M460.6 351.0h.7M449.5 350.4h.7M472.8 370.7h.7M476.4 335.3h.7M474.3 323.6h.7M467.5 352.0h.7M452.2 341.5h.7M457.1 335.1h.7M475.6 345.8h.7M461.9 350.1h.7M461.0 359.1h.7M451.8 333.9h.7M455.7 330.4h.7M458.0 340.7h.7M464.6 339.9h.7M457.2 332.6h.7M476.1 346.2h.7M463.2 323.6h.7M449.9 341.1h.7M465.5 350.8h.7M461.9 347.8h.7M459.8 335.2h.7M458.4 338.3h.7M467.6 362.0h.7M460.7 346.0h.7M445.7 379.4h.7M463.0 342.7h.7M462.4 335.8h.7M455.4 344.5h.7M452.5 342.1h.7M465.1 335.8h.7M458.3 338.9h.7M469.2 335.5h.7M455.5 350.4h.7M473.5 330.0h.7M474.5 328.5h.7M474.0 357.1h.7M465.9 355.4h.7M467.1 359.7h.7M465.0 353.2h.7M473.0 339.8h.7M441.6 337.4h.7M454.7 354.9h.7M475.8 330.6h.7M468.3 328.6h.7M467.7 351.2h.7M459.6 344.9h.7M467.2 359.6h.7M467.3 330.6h.7M449.2 334.6h.7M451.3 324.2h.7M478.3 352.7h.7M451.2 341.8h.7M465.9 332.8h.7M450.7 341.1h.7M466.0 357.8h.7M451.8 331.5h.7M468.4 345.1h.7M449.2 342.8h.7M458.2 352.2h.7M471.5 347.4h.7M462.6 342.1h.7M464.1 340.8h.7M452.7 336.2h.7M463.1 351.6h.7M467.4 361.0h.7M452.5 321.8h.7M459.5 351.2h.7M453.8 382.1h.7M444.1 333.9h.7M459.3 345.2h.7M472.3 361.1h.7M452.2 347.5h.7M458.4 329.8h.7M467.1 322.3h.7M451.9 347.6h.7M450.7 337.9h.7M459.2 345.3h.7M468.5 331.8h.7M458.2 361.3h.7M463.2 352.2h.7M456.1 329.9h.7M466.3 341.5h.7M451.6 321.6h.7M452.2 337.9h.7M456.2 344.4h.7M445.8 327.5h.7M471.7 354.1h.7M469.8 355.1h.7M473.4 344.5h.7M466.4 362.1h.7M464.0 352.1h.7M449.5 346.4h.7M471.1 349.9h.7M455.9 342.0h.7M458.7 377.6h.7M457.7 338.0h.7M476.6 342.8h.7M469.3 351.6h.7M470.3 348.4h.7M474.8 340.9h.7M443.6 336.1h.7M469.8 353.9h.7M454.6 345.6h.7M470.8 334.9h.7M471.0 340.0h.7M472.0 362.7h.7M468.9 365.4h.7M453.7 347.0h.7M447.8 320.7h.7M472.7 325.0h.7M452.9 339.1h.7M467.8 347.5h.7M469.2 354.3h.7M463.0 339.5h.7M470.0 349.0h.7M464.0 333.4h.7M450.5 340.8h.7M459.8 353.8h.7M476.0 321.5h.7M465.5 342.3h.7M476.6 360.0h.7M476.0 341.3h.7M457.0 362.6h.7M469.7 344.7h.7M443.9 334.1h.7M473.2 350.1h.7M456.1 333.2h.7M464.5 326.7h.7M451.8 372.1h.7M455.4 341.2h.7M457.9 334.2h.7M459.5 341.5h.7M469.4 346.8h.7M465.4 342.9h.7M469.1 336.0h.7M473.7 347.5h.7M468.1 335.7h.7M457.1 348.1h.7M467.5 347.9h.7M443.4 341.6h.7M472.2 338.2h.7M463.3 347.6h.7M461.0 345.5h.7M442.0 332.1h.7M470.2 322.0h.7M448.4 349.8h.7M460.3 331.6h.7M480.7 365.2h.7M458.7 340.9h.7M465.1 350.4h.7M460.9 328.8h.7M466.4 327.0h.7M463.9 337.7h.7M457.2 355.7h.7M457.3 352.3h.7M470.0 355.0h.7M448.6 344.3h.7M465.0 343.8h.7M467.8 344.3h.7M465.1 368.5h.7M465.3 330.4h.7M475.8 360.6h.7M443.5 359.0h.7M454.4 342.4h.7M459.6 344.5h.7M466.8 361.8h.7M456.3 345.0h.7M468.0 339.6h.7M447.1 355.9h.7M455.7 355.5h.7M448.3 365.2h.7M452.6 334.3h.7M467.3 341.5h.7M458.4 358.1h.7M476.6 367.5h.7M464.7 337.3h.7M464.4 339.8h.7M457.1 362.0h.7M463.1 348.0h.7M471.1 360.2h.7M462.1 363.0h.7M469.2 338.7h.7M468.4 348.4h.7M463.8 327.0h.7M453.1 320.7h.7M452.0 341.9h.7M463.3 343.8h.7M460.6 323.9h.7M468.0 363.6h.7M454.6 342.5h.7M464.8 336.1h.7M469.4 328.2h.7M473.0 327.0h.7M469.9 345.9h.7M453.8 349.4h.7M464.8 329.9h.7M468.1 323.5h.7M460.5 337.4h.7M442.4 339.8h.7M463.5 339.9h.7M457.5 361.1h.7M466.0 344.9h.7M454.8 328.3h.7M462.0 356.5h.7M468.8 345.2h.7M444.9 368.3h.7M450.2 335.2h.7M463.0 361.3h.7M456.4 360.6h.7M470.6 354.2h.7M462.9 343.1h.7M455.3 347.4h.7M473.7 346.8h.7M466.7 326.0h.7M469.2 331.4h.7M447.6 348.5h.7M446.2 350.8h.7M471.9 348.5h.7M470.3 364.0h.7M471.1 352.1h.7M456.3 352.9h.7M466.2 346.4h.7M467.5 344.4h.7M463.2 322.4h.7M459.4 330.0h.7M462.1 330.6h.7M450.1 350.3h.7M477.3 336.6h.7M453.7 353.8h.7M466.4 347.5h.7M470.0 344.1h.7M473.5 349.3h.7M460.6 348.5h.7M474.2 363.1h.7M462.6 375.3h.7M459.8 321.7h.7M451.1 321.4h.7M464.9 336.6h.7M461.8 330.3h.7M463.5 331.7h.7M459.9 355.2h.7M461.5 352.1h.7M468.0 341.1h.7M458.0 340.3h.7M466.9 321.8h.7M446.0 339.3h.7M459.7 351.5h.7M461.4 343.8h.7M456.5 323.1h.7M451.5 374.2h.7M462.3 336.1h.7M468.5 341.6h.7M460.3 356.7h.7M441.2 331.3h.7M445.6 346.0h.7M461.4 334.4h.7M448.6 346.4h.7M470.4 337.4h.7M466.3 341.3h.7M456.1 357.1h.7M457.7 336.1h.7M481.1 349.0h.7M461.3 349.1h.7M465.3 351.8h.7M467.2 353.7h.7M471.0 339.5h.7M451.5 368.6h.7M464.5 339.2h.7M475.5 329.0h.7M452.4 364.5h.7M458.5 356.2h.7M470.3 335.4h.7M473.7 324.7h.7M444.0 337.4h.7M474.9 326.6h.7M465.9 367.9h.7M454.7 329.1h.7M448.3 340.2h.7M458.6 365.2h.7M478.4 358.1h.7M467.7 343.7h.7M442.5 349.3h.7M470.8 332.0h.7M449.4 343.2h.7M454.6 343.7h.7M463.3 367.6h.7M449.7 362.2h.7M463.8 321.9h.7M460.0 327.4h.7M449.4 328.6h.7M447.9 349.4h.7M486.8 356.1h.7M457.9 329.8h.7M455.9 339.8h.7M479.1 336.6h.7M461.5 356.5h.7M459.2 330.8h.7M474.3 326.2h.7M457.2 327.8h.7M446.8 324.5h.7M453.9 335.0h.7M465.5 327.8h.7M454.0 345.0h.7M468.0 352.2h.7M459.4 347.4h.7M446.7 357.1h.7M462.7 346.9h.7M465.3 352.4h.7M464.8 351.1h.7M458.4 358.0h.7M479.2 360.7h.7M460.8 347.2h.7M455.1 338.3h.7M461.7 360.4h.7M459.2 356.4h.7M443.9 374.9h.7M449.2 333.3h.7M450.1 332.2h.7M462.0 341.0h.7M452.4 337.8h.7M460.2 351.3h.7M458.7 356.5h.7M463.2 355.5h.7M474.3 338.9h.7M474.3 340.3h.7M455.5 344.6h.7M481.9 352.2h.7M478.0 343.6h.7M465.0 330.8h.7M461.3 356.1h.7M456.1 347.4h.7M449.5 331.8h.7M460.2 364.3h.7M466.4 352.1h.7M458.7 320.7h.7M455.9 353.8h.7M472.7 328.3h.7M443.3 345.2h.7M461.9 335.0h.7M483.7 350.7h.7M466.7 339.5h.7M465.2 353.3h.7M461.0 335.5h.7M460.0 333.5h.7M463.2 333.9h.7M472.0 363.2h.7M472.6 343.0h.7M453.1 350.2h.7M468.4 346.3h.7M455.0 336.4h.7M474.4 341.1h.7M470.3 350.3h.7M456.9 349.8h.7M457.9 355.4h.7M461.1 339.1h.7M458.0 334.0h.7M449.3 332.9h.7M452.9 373.0h.7M467.1 348.0h.7M460.6 337.0h.7M469.0 327.1h.7M457.2 322.8h.7M463.2 361.4h.7M449.3 327.8h.7M472.4 335.0h.7M471.1 340.0h.7M460.4 335.9h.7M461.2 331.8h.7M464.9 333.9h.7M460.6 351.0h.7M461.2 323.3h.7M462.7 349.1h.7M458.4 349.0h.7M473.1 338.2h.7M462.9 340.1h.7M464.1 325.2h.7M460.7 351.6h.7M471.2 361.1h.7M464.2 337.0h.7M471.4 327.0h.7M461.7 326.3h.7M461.1 362.6h.7M472.0 349.3h.7M469.4 347.1h.7M460.1 362.0h.7M471.4 345.4h.7M471.3 347.7h.7M472.6 320.9h.7M453.4 336.4h.7M463.5 336.6h.7M464.4 334.6h.7M466.7 373.0h.7M456.0 337.9h.7M452.4 352.7h.7M449.2 355.8h.7M459.5 332.6h.7M478.1 337.7h.7M469.4 367.5h.7M449.9 336.4h.7M471.8 348.7h.7M465.7 349.7h.7M474.4 352.1h.7M469.6 353.6h.7M462.5 333.6h.7M465.0 340.1h.7M468.6 324.8h.7M473.0 359.2h.7M462.6 335.6h.7M459.9 333.0h.7M447.7 350.7h.7M447.6 347.0h.7M462.4 329.9h.7M460.7 345.9h.7M466.7 346.5h.7M454.4 342.6h.7M466.1 337.3h.7M448.5 352.3h.7M460.7 356.9h.7M473.8 349.6h.7M464.0 355.9h.7M476.7 338.5h.7M455.5 358.7h.7M467.1 330.3h.7M470.9 333.1h.7M471.4 343.7h.7M452.1 342.8h.7M460.0 341.0h.7M463.4 348.3h.7M467.4 348.9h.7M457.2 360.2h.7M468.9 347.7h.7M464.5 343.7h.7M456.1 326.2h.7M466.9 358.9h.7M466.0 334.1h.7M463.5 346.6h.7M453.6 346.4h.7M478.7 334.3h.7M452.8 337.8h.7M462.1 337.2h.7M465.9 336.5h.7M464.0 346.3h.7M448.9 327.2h.7M451.3 325.9h.7M469.7 334.8h.7M473.9 358.4h.7M457.8 328.4h.7M456.8 358.0h.7M442.4 334.9h.7M476.7 335.1h.7M468.7 356.9h.7M464.5 350.8h.7M466.7 348.8h.7M448.2 358.6h.7M474.1 336.6h.7M451.7 344.7h.7M462.0 350.1h.7M462.3 343.8h.7M452.8 357.6h.7M460.1 356.8h.7M464.5 324.4h.7M466.8 350.6h.7M460.2 343.6h.7M457.3 342.3h.7M465.6 336.6h.7M457.8 355.0h.7M452.5 338.3h.7M478.8 355.3h.7M457.5 334.6h.7M449.0 353.6h.7M466.8 370.7h.7M461.9 352.4h.7M467.6 333.8h.7M477.6 357.6h.7M473.3 333.8h.7M460.8 337.7h.7M463.7 350.8h.7M462.3 323.9h.7M470.1 348.4h.7M460.0 353.1h.7M455.3 341.0h.7M469.8 356.9h.7M465.4 336.7h.7M466.0 343.8h.7M458.3 359.8h.7M448.0 342.7h.7M474.9 354.3h.7M466.9 338.5h.7M461.4 352.2h.7M461.9 334.3h.7M484.0 366.0h.7M458.8 357.0h.7M474.1 347.6h.7M469.4 356.5h.7M463.9 356.9h.7M458.5 360.9h.7M465.9 355.3h.7M472.7 336.4h.7M499.9 361.5h.7M490.5 382.0h.7M499.1 345.1h.7M495.1 345.4h.7M484.5 342.5h.7M500.9 340.9h.7M498.7 346.9h.7M487.2 343.2h.7M503.1 348.2h.7M485.3 330.9h.7M488.3 333.8h.7M511.1 340.4h.7M482.4 332.1h.7M489.7 329.9h.7M479.4 326.6h.7M478.7 356.4h.7M498.7 356.2h.7M487.5 348.3h.7M485.1 331.8h.7M483.9 335.6h.7M494.7 358.8h.7M474.1 340.8h.7M496.9 361.5h.7M494.5 323.2h.7M492.0 335.4h.7M485.2 335.9h.7M491.1 345.7h.7M459.3 352.5h.7M474.4 334.2h.7M479.2 373.4h.7M500.1 326.4h.7M494.3 340.1h.7M480.9 346.9h.7M491.2 325.7h.7M482.2 339.1h.7M482.6 353.9h.7M486.4 338.8h.7M484.4 360.8h.7M494.4 333.2h.7M489.4 355.0h.7M480.2 341.2h.7M474.4 340.7h.7M486.5 329.2h.7M506.6 338.3h.7M488.6 361.0h.7M487.2 321.0h.7M494.4 334.1h.7M481.6 346.1h.7M496.6 355.1h.7M505.8 349.9h.7M477.3 357.4h.7M501.3 338.5h.7M502.3 321.3h.7M496.7 328.5h.7M467.7 335.3h.7M479.4 335.1h.7M497.8 327.4h.7M478.8 323.6h.7M483.9 325.3h.7M484.8 345.9h.7M476.7 351.6h.7M488.5 339.7h.7M475.5 369.8h.7M492.3 351.5h.7M462.3 342.8h.7M475.0 330.4h.7M500.3 336.7h.7M499.4 328.0h.7M467.9 337.7h.7M477.2 336.2h.7M476.4 326.4h.7M480.9 347.3h.7M484.5 350.7h.7M473.8 335.0h.7M469.6 334.4h.7M508.0 340.8h.7M491.1 330.7h.7M489.8 320.7h.7M496.2 334.3h.7M488.3 336.3h.7M499.6 335.5h.7M491.5 333.6h.7M507.8 336.7h.7M488.6 346.5h.7M503.3 332.4h.7M481.4 322.3h.7M485.5 344.0h.7M512.8 324.6h.7M487.3 326.9h.7M487.4 337.0h.7M495.6 340.1h.7M462.5 353.3h.7M484.4 346.1h.7M493.8 333.5h.7M499.5 332.0h.7M475.6 328.7h.7M478.1 347.4h.7M495.6 331.2h.7M491.9 347.6h.7M496.5 336.8h.7M480.2 344.2h.7M497.3 337.3h.7M509.1 338.1h.7M502.1 329.5h.7M481.6 354.0h.7M478.2 335.8h.7M496.7 324.7h.7M489.9 339.5h.7M483.0 329.2h.7M467.5 335.6h.7M490.4 356.5h.7M482.2 341.8h.7M476.4 368.7h.7M512.4 325.8h.7M469.7 331.7h.7M489.9 334.8h.7M474.2 329.7h.7M476.7 335.8h.7M501.3 345.0h.7M509.6 343.4h.7M503.7 368.6h.7M491.3 332.9h.7M468.6 321.7h.7M497.3 340.8h.7M485.9 369.2h.7M496.2 328.1h.7M490.8 358.3h.7M469.8 328.1h.7M490.3 327.9h.7M494.3 355.6h.7M489.1 345.9h.7M484.8 338.4h.7M524.6 326.9h.7M490.5 333.7h.7M484.9 350.8h.7M487.5 357.7h.7M481.0 341.6h.7M504.5 328.4h.7M476.1 330.9h.7M487.5 356.8h.7M483.8 350.1h.7M481.3 340.6h.7M493.6 330.9h.7M495.8 335.9h.7M482.2 344.8h.7M490.4 326.1h.7M470.7 326.9h.7M486.6 347.7h.7M492.6 337.3h.7M468.9 360.9h.7M474.0 347.0h.7M495.8 330.1h.7M470.9 353.7h.7M491.5 332.9h.7M468.7 361.8h.7M469.8 334.9h.7M475.9 336.0h.7M480.8 326.7h.7M499.4 338.1h.7M475.2 330.5h.7M504.1 339.7h.7M495.0 342.0h.7M499.5 333.6h.7M487.9 328.9h.7M464.4 349.9h.7M492.2 343.8h.7M492.9 333.1h.7M480.7 328.4h.7M498.1 324.6h.7M468.9 346.3h.7M495.4 351.0h.7M479.6 339.8h.7M494.5 342.8h.7M490.1 347.5h.7M509.5 349.5h.7M479.5 337.8h.7M465.9 336.7h.7M485.6 342.3h.7M493.3 357.7h.7M487.9 343.4h.7M472.7 345.5h.7M484.4 328.4h.7M484.0 324.2h.7M491.1 342.5h.7M482.0 358.6h.7M473.0 338.7h.7M469.3 346.4h.7M465.2 345.4h.7M470.7 352.4h.7M485.6 357.2h.7M473.8 352.0h.7M499.8 336.0h.7M479.5 329.0h.7M493.9 338.1h.7M492.2 325.1h.7M485.9 333.0h.7M482.9 330.2h.7M478.8 336.2h.7M486.8 357.1h.7M492.9 343.0h.7M473.2 337.8h.7M475.4 334.4h.7M502.7 339.0h.7M497.0 339.8h.7M476.0 359.1h.7M512.4 346.0h.7M483.5 337.5h.7M491.1 329.2h.7M509.2 362.2h.7M472.1 350.4h.7M479.2 354.5h.7M491.3 347.0h.7M490.6 325.1h.7M478.0 324.9h.7M491.2 348.8h.7M499.6 330.8h.7M480.1 323.3h.7M476.3 341.7h.7M490.9 332.4h.7M501.1 357.3h.7M478.1 362.4h.7M487.6 323.2h.7M511.0 334.2h.7M481.3 330.8h.7M487.7 332.9h.7M491.3 337.1h.7M492.2 352.5h.7M504.8 325.9h.7M499.4 333.9h.7M503.5 334.3h.7M522.2 348.0h.7M499.9 353.3h.7M481.8 340.7h.7M481.0 341.8h.7M507.7 332.0h.7M457.4 338.1h.7M477.6 336.6h.7M452.8 329.9h.7M497.9 358.5h.7M504.0 343.7h.7M497.5 345.5h.7M489.2 341.0h.7M465.8 340.1h.7M500.8 355.5h.7M493.5 355.2h.7M492.8 353.3h.7M492.5 345.4h.7M479.4 335.6h.7M490.9 345.8h.7M482.5 363.9h.7M491.3 322.2h.7M498.6 370.2h.7M477.3 342.1h.7M490.7 339.8h.7M489.4 357.8h.7M484.9 355.3h.7M489.7 350.9h.7M500.0 328.7h.7M490.3 355.3h.7M496.2 340.8h.7M491.4 371.2h.7M487.1 323.2h.7M494.4 346.5h.7M483.0 354.3h.7M487.7 336.0h.7M485.6 333.6h.7M490.6 328.6h.7M475.2 336.8h.7M474.3 336.7h.7M477.3 346.3h.7M485.5 344.6h.7M488.6 339.1h.7M478.0 364.2h.7M487.9 325.6h.7M500.2 356.7h.7M492.8 332.5h.7M480.2 344.1h.7M501.2 368.1h.7M484.5 339.9h.7M487.8 352.7h.7M479.8 349.0h.7M475.5 353.5h.7M512.2 321.6h.7M462.7 325.9h.7M474.1 345.3h.7M493.7 331.2h.7M473.1 339.2h.7M478.5 329.1h.7M488.8 322.6h.7M483.5 343.1h.7M469.1 359.5h.7M479.7 326.4h.7M480.1 324.4h.7M490.2 333.9h.7M465.3 324.1h.7M477.8 348.8h.7M465.2 320.9h.7M495.6 338.5h.7M484.7 332.2h.7M464.1 338.3h.7M484.1 322.9h.7M477.5 323.0h.7M512.0 327.2h.7M506.4 355.3h.7M506.3 351.9h.7M474.0 334.7h.7M478.0 333.4h.7M497.4 351.3h.7M495.3 343.9h.7M514.2 344.8h.7M490.4 343.8h.7M492.2 339.3h.7M492.6 326.0h.7M487.6 328.5h.7M493.4 334.4h.7M487.1 349.6h.7M489.8 360.5h.7M484.6 345.5h.7M493.3 331.6h.7M490.4 338.7h.7M496.9 326.8h.7M477.4 343.5h.7M488.1 321.0h.7M492.9 341.2h.7M488.5 335.5h.7M480.1 348.1h.7M480.7 349.2h.7M480.0 344.0h.7M472.5 350.6h.7M478.5 342.6h.7M490.0 341.4h.7M475.7 321.8h.7M463.4 346.6h.7M481.1 345.3h.7M488.7 332.8h.7M478.1 345.8h.7M489.2 345.0h.7M498.0 335.1h.7M489.2 338.0h.7M490.4 341.4h.7M463.4 338.4h.7M497.8 357.9h.7M477.0 334.5h.7M478.4 339.5h.7M472.9 344.4h.7M487.6 349.7h.7M502.4 343.8h.7M470.5 347.1h.7M475.4 344.7h.7M477.0 325.7h.7M493.0 333.2h.7M481.7 339.5h.7M492.6 331.3h.7M489.5 336.2h.7M502.4 361.0h.7M482.6 329.3h.7M470.6 363.1h.7M506.0 349.0h.7M477.9 335.2h.7M490.8 364.8h.7M462.4 345.6h.7M491.6 354.6h.7M495.6 337.0h.7M488.3 334.8h.7M483.5 328.5h.7M485.3 352.6h.7M507.0 348.5h.7M477.8 338.7h.7M484.1 334.1h.7M483.4 333.5h.7M505.9 351.3h.7M485.9 330.6h.7M471.7 338.0h.7M494.4 355.9h.7M472.7 338.6h.7M492.6 346.3h.7M469.9 346.2h.7M486.5 340.6h.7M483.5 352.4h.7M497.8 350.0h.7M474.3 345.1h.7M482.6 348.1h.7M498.6 335.8h.7M472.0 341.4h.7M490.7 325.8h.7M486.8 334.3h.7M497.9 330.1h.7M480.0 327.4h.7M490.1 348.5h.7M488.2 351.0h.7M481.1 326.4h.7M477.4 340.7h.7M510.0 346.7h.7M490.8 343.1h.7M459.6 354.5h.7M495.2 335.5h.7M503.7 342.5h.7M499.1 326.8h.7M484.9 334.8h.7M482.9 349.5h.7M498.5 338.5h.7M494.5 349.9h.7M498.5 342.8h.7M476.1 347.1h.7M478.9 333.1h.7M465.7 351.2h.7M477.1 334.7h.7M483.0 332.0h.7M486.6 342.1h.7M494.9 335.9h.7M496.8 351.2h.7M475.0 337.9h.7M478.4 329.4h.7M463.1 346.9h.7M469.8 355.5h.7M492.2 334.4h.7M486.6 343.0h.7M496.9 337.2h.7M472.6 328.9h.7M481.2 334.3h.7M475.7 329.5h.7M473.2 331.5h.7M492.0 338.3h.7M483.5 344.6h.7M503.1 352.0h.7M481.2 346.1h.7M496.8 346.2h.7M515.6 335.6h.7M482.8 345.2h.7M480.1 331.0h.7M479.1 346.6h.7M485.4 337.6h.7M493.5 326.8h.7M509.0 336.6h.7M472.6 333.4h.7M485.1 342.0h.7M465.2 349.4h.7M465.7 389.8h.7M471.5 392.7h.7M478.4 387.3h.7M458.0 405.2h.7M459.3 405.2h.7M463.6 396.5h.7M457.3 369.4h.7M464.0 402.8h.7M456.1 397.5h.7M472.1 387.5h.7M457.8 380.6h.7M463.7 380.0h.7M457.5 387.3h.7M462.1 410.2h.7M458.6 378.3h.7M468.7 396.3h.7M458.8 388.0h.7M464.2 408.8h.7M452.1 408.0h.7M456.9 398.8h.7M457.8 387.1h.7M443.8 399.4h.7M465.9 401.3h.7M454.4 391.1h.7M456.6 402.6h.7M455.1 408.6h.7M462.2 399.7h.7M463.7 403.7h.7M460.4 410.0h.7M468.1 393.1h.7M459.4 415.5h.7M467.3 414.2h.7M453.2 407.7h.7M462.2 384.5h.7M443.7 408.4h.7M466.5 386.9h.7M448.0 407.8h.7M474.4 387.8h.7M455.6 384.3h.7M462.7 382.3h.7M479.3 405.1h.7M463.9 377.2h.7M467.5 412.4h.7M468.5 393.7h.7M455.7 383.2h.7M462.4 359.6h.7M468.7 402.1h.7M469.6 415.5h.7M459.1 415.0h.7M469.2 385.1h.7M465.8 405.4h.7M463.1 383.8h.7M471.2 408.5h.7M471.7 401.5h.7M456.7 387.5h.7M464.6 406.3h.7M459.8 400.5h.7M458.3 408.6h.7M467.9 404.4h.7M458.0 402.6h.7M464.6 393.3h.7M469.8 395.7h.7M461.5 391.8h.7M465.0 401.1h.7M452.4 380.3h.7M457.0 397.5h.7M460.0 385.2h.7M462.3 402.5h.7M468.6 390.0h.7M452.3 398.0h.7M449.6 377.0h.7M460.9 397.5h.7M458.8 404.7h.7M463.8 395.1h.7M457.4 410.2h.7M465.3 416.8h.7M466.3 405.9h.7M464.0 386.7h.7M462.6 402.6h.7M467.2 402.5h.7M466.4 406.3h.7M464.0 398.1h.7M460.0 409.8h.7M470.6 384.2h.7M469.7 414.6h.7M464.5 386.1h.7M472.8 413.3h.7M462.1 410.1h.7M459.5 400.0h.7M460.5 408.6h.7M465.3 402.3h.7M468.8 394.0h.7M460.2 379.3h.7M463.0 406.5h.7M455.5 408.9h.7M461.8 408.0h.7M464.1 385.5h.7M458.5 399.6h.7M470.0 391.5h.7M472.6 380.6h.7M460.7 390.9h.7M463.8 400.3h.7M464.9 407.4h.7M463.2 388.2h.7M466.4 402.4h.7M445.8 394.2h.7M463.4 402.2h.7M449.2 406.2h.7M463.1 387.3h.7M453.1 389.5h.7M466.2 392.2h.7M451.4 383.5h.7M466.3 392.5h.7M461.4 406.8h.7M467.7 389.9h.7M468.4 408.5h.7M455.7 397.8h.7M454.4 410.4h.7M455.0 394.0h.7M460.0 415.3h.7M465.1 398.1h.7M465.0 405.4h.7M459.5 408.1h.7M457.8 391.3h.7M461.0 403.4h.7M458.5 388.4h.7M453.3 404.4h.7M459.7 414.7h.7M460.3 407.2h.7M469.9 405.7h.7M466.1 394.8h.7M463.5 379.3h.7M466.2 382.4h.7M476.3 375.5h.7M463.1 360.0h.7M476.1 411.6h.7M451.8 408.4h.7M462.1 402.8h.7M464.1 405.8h.7M461.5 409.5h.7M468.8 409.8h.7M456.9 391.5h.7M465.6 383.2h.7M464.7 384.6h.7M463.8 400.0h.7M457.9 394.8h.7M468.9 411.0h.7M462.2 404.0h.7M461.1 407.7h.7M468.0 407.1h.7M454.9 409.0h.7M464.2 376.5h.7M457.2 398.2h.7M453.4 394.0h.7M467.7 391.0h.7M455.2 399.7h.7M462.4 386.0h.7M462.3 403.1h.7M460.1 395.5h.7M470.8 398.2h.7M463.7 382.1h.7M465.6 381.4h.7M463.4 377.9h.7M463.6 396.2h.7M461.7 385.5h.7M466.5 389.5h.7M452.9 412.7h.7M457.1 389.4h.7M470.4 407.1h.7M466.6 394.1h.7M459.2 402.0h.7M459.0 396.9h.7M459.9 394.1h.7M454.7 393.3h.7M452.7 410.0h.7M442.7 394.7h.7M458.7 386.8h.7M465.3 394.5h.7M475.4 380.8h.7M471.8 405.9h.7M464.8 395.7h.7M450.1 394.2h.7M462.3 385.8h.7M469.2 386.1h.7M455.4 394.7h.7M464.0 389.7h.7M466.2 403.6h.7M455.6 414.7h.7M462.0 414.1h.7M459.6 387.5h.7M469.9 387.9h.7M461.9 410.6h.7M465.1 380.5h.7M468.5 388.4h.7M473.7 404.2h.7M457.2 412.4h.7M468.5 408.6h.7M462.4 411.6h.7M454.8 400.7h.7M449.1 409.2h.7M454.3 388.8h.7M458.7 415.6h.7M465.6 405.5h.7M471.6 383.2h.7M468.0 402.3h.7M450.4 389.1h.7M468.3 385.3h.7M463.4 395.2h.7M455.4 388.5h.7M452.2 394.7h.7M480.5 384.8h.7M457.7 399.3h.7M463.6 399.3h.7M452.9 387.4h.7M456.7 390.9h.7M458.9 404.7h.7M461.9 409.7h.7M457.6 415.7h.7M459.2 400.4h.7M461.8 411.8h.7M448.6 390.8h.7M458.1 408.1h.7M464.9 402.7h.7M472.9 406.4h.7M470.6 401.2h.7M466.6 387.5h.7M469.3 388.4h.7M468.3 407.6h.7M454.8 400.7h.7M461.5 395.5h.7M456.8 412.4h.7M455.2 400.9h.7M462.0 382.8h.7M465.4 398.9h.7M458.7 394.9h.7M457.0 392.2h.7M452.8 411.2h.7M467.5 394.6h.7M452.7 376.2h.7M455.1 392.8h.7M459.0 375.5h.7M457.8 397.0h.7M464.8 399.1h.7M465.3 396.4h.7M454.4 404.7h.7M463.3 399.9h.7M465.1 410.1h.7M461.4 380.0h.7M453.9 413.5h.7M478.4 370.4h.7M470.9 406.0h.7M462.8 400.5h.7M467.9 406.9h.7M469.2 395.0h.7M462.9 397.5h.7M455.1 396.4h.7M457.3 407.1h.7M463.5 392.9h.7M470.6 400.4h.7M458.6 395.2h.7M469.0 392.4h.7M460.7 409.9h.7M462.8 414.9h.7M463.2 391.3h.7M459.6 400.2h.7M465.3 396.7h.7M460.5 404.4h.7M467.5 406.0h.7M473.6 396.2h.7M473.3 414.0h.7M475.1 415.2h.7M465.9 407.3h.7M459.4 404.9h.7M443.2 379.0h.7M467.5 398.8h.7M457.6 408.4h.7M469.2 411.9h.7M455.6 414.4h.7M463.7 404.5h.7M470.2 411.9h.7M469.1 404.9h.7M455.9 397.2h.7M468.2 384.1h.7M458.9 391.6h.7M455.8 398.6h.7M461.5 386.6h.7M464.3 388.2h.7M470.0 404.7h.7M455.4 403.4h.7M452.1 401.8h.7M450.5 405.0h.7M470.0 380.7h.7M459.2 408.4h.7M465.1 392.8h.7M468.7 406.5h.7M453.5 417.1h.7M452.5 392.4h.7M462.2 378.6h.7M461.3 404.9h.7M469.2 383.2h.7M463.6 404.8h.7M456.9 380.0h.7M457.0 400.7h.7M459.8 406.0h.7M457.2 394.2h.7M458.3 391.2h.7M448.9 390.1h.7M458.7 392.5h.7M451.2 390.6h.7M462.7 413.1h.7M456.4 395.2h.7M456.5 401.2h.7M465.6 410.2h.7M461.4 399.9h.7M473.1 402.7h.7M473.9 406.5h.7M463.8 394.5h.7M459.6 357.9h.7M469.8 400.1h.7M457.5 401.6h.7M448.4 395.8h.7M454.1 410.8h.7M471.2 396.1h.7M473.0 404.3h.7M466.3 396.1h.7M462.9 393.3h.7M466.2 385.0h.7M461.1 414.0h.7M464.2 366.1h.7M456.1 401.3h.7M469.1 398.6h.7M467.8 414.7h.7M453.4 397.5h.7M468.1 395.0h.7M465.9 417.0h.7M458.6 403.4h.7M472.1 369.4h.7M463.4 376.3h.7M450.6 399.1h.7M483.7 390.0h.7M459.1 406.7h.7M463.4 404.2h.7M470.3 402.2h.7M453.6 394.8h.7M459.7 388.5h.7M458.3 395.1h.7M464.7 385.5h.7M465.4 394.9h.7M457.4 392.0h.7M468.8 398.4h.7M457.9 389.5h.7M463.1 387.8h.7M458.8 408.6h.7M469.4 380.8h.7M463.5 416.8h.7M468.1 390.4h.7M463.1 395.2h.7M456.9 413.2h.7M466.5 402.7h.7M468.2 413.1h.7M463.6 402.8h.7M464.5 377.2h.7M460.2 398.9h.7M445.6 410.3h.7M462.9 401.5h.7M460.5 411.7h.7M466.7 395.3h.7M451.2 413.2h.7M471.5 408.9h.7M468.1 398.1h.7M460.9 404.9h.7M460.8 373.1h.7M450.9 414.9h.7M453.6 385.2h.7M467.3 415.0h.7M459.1 396.9h.7M453.8 385.4h.7M451.9 393.1h.7M464.3 386.8h.7M451.1 401.9h.7M463.8 398.8h.7M467.4 399.8h.7M469.2 394.3h.7M458.8 389.5h.7M462.9 403.0h.7M457.9 405.7h.7M466.4 401.8h.7M454.1 405.2h.7M453.3 386.0h.7M461.5 405.2h.7M462.5 399.6h.7M465.6 412.2h.7M457.9 405.6h.7M463.4 400.2h.7M472.6 384.2h.7M465.2 416.5h.7M477.2 405.4h.7M461.8 393.9h.7M451.2 402.6h.7M470.3 400.7h.7M458.5 400.4h.7M462.9 402.5h.7M472.7 409.7h.7M472.1 397.6h.7M468.0 383.5h.7M458.0 400.9h.7M457.0 395.5h.7M459.8 396.0h.7M467.5 378.0h.7M477.4 388.7h.7M464.7 414.4h.7M456.8 409.2h.7M463.5 403.6h.7M484.7 379.6h.7M461.5 393.9h.7M466.3 375.3h.7M465.3 394.5h.7M462.0 387.0h.7M482.8 363.9h.7M479.8 386.5h.7M476.2 393.5h.7M483.6 381.8h.7M498.4 387.8h.7M509.6 402.2h.7M497.0 374.9h.7M485.5 407.5h.7M513.4 367.4h.7M494.5 377.6h.7M497.7 400.8h.7M486.7 397.7h.7M483.2 392.6h.7M500.8 381.5h.7M500.1 412.2h.7M492.2 373.6h.7M498.0 380.9h.7M492.9 408.4h.7M493.3 375.1h.7M507.4 385.2h.7M502.0 372.9h.7M499.5 372.6h.7M491.0 382.3h.7M483.9 389.9h.7M482.3 387.6h.7M492.3 391.7h.7M491.0 358.7h.7M500.2 361.5h.7M498.9 390.2h.7M494.4 376.9h.7M517.8 382.1h.7M495.4 397.6h.7M491.4 381.4h.7M512.7 377.6h.7M489.3 389.2h.7M477.8 383.1h.7M484.9 377.4h.7M463.2 368.8h.7M503.2 388.7h.7M512.9 404.2h.7M480.1 398.2h.7M498.6 372.5h.7M501.4 410.2h.7M495.6 397.5h.7M493.3 383.6h.7M488.8 390.9h.7M493.5 377.4h.7M497.3 390.6h.7M505.7 403.7h.7M495.3 377.9h.7M502.1 398.9h.7M481.7 377.6h.7M500.5 365.5h.7M493.6 399.2h.7M494.7 405.7h.7M504.5 400.8h.7M480.2 401.4h.7M482.3 391.0h.7M485.3 394.6h.7M488.8 399.5h.7M494.9 383.0h.7M483.9 398.4h.7M514.7 399.0h.7M464.3 404.2h.7M493.2 407.1h.7M505.8 377.2h.7M492.2 371.9h.7M503.6 381.8h.7M506.7 372.6h.7M496.4 386.3h.7M506.1 381.5h.7M492.2 395.1h.7M486.0 397.5h.7M506.5 394.5h.7M507.6 387.6h.7M478.5 368.4h.7M498.5 405.0h.7M496.9 369.9h.7M489.3 382.9h.7M485.0 377.5h.7M515.9 399.5h.7M505.8 389.7h.7M492.7 383.8h.7M519.2 391.6h.7M506.4 369.1h.7M491.0 364.7h.7M496.7 362.2h.7M488.8 400.1h.7M497.0 375.4h.7M500.5 402.7h.7M491.1 396.6h.7M509.2 397.7h.7M496.7 408.9h.7M486.3 385.2h.7M494.5 394.6h.7M496.1 394.5h.7M473.2 372.2h.7M480.3 386.7h.7M501.3 385.3h.7M479.2 403.3h.7M493.9 407.6h.7M505.7 405.8h.7M493.4 372.1h.7M503.0 379.4h.7M480.9 384.9h.7M506.1 397.1h.7M489.3 410.6h.7M477.9 390.3h.7M496.2 394.1h.7M522.8 392.0h.7M496.7 380.9h.7M497.6 388.2h.7M506.9 370.9h.7M470.9 395.2h.7M486.7 396.1h.7M481.8 401.6h.7M504.2 402.1h.7M483.5 401.4h.7M502.5 387.1h.7M486.8 389.1h.7M502.2 408.2h.7M478.6 388.8h.7M486.6 381.4h.7M474.3 383.5h.7M505.3 384.3h.7M513.4 387.9h.7M496.6 388.8h.7M479.8 384.5h.7M524.8 395.2h.7M495.5 397.6h.7M513.3 395.5h.7M502.1 407.1h.7M482.5 360.9h.7M485.3 397.4h.7M498.8 360.5h.7M485.8 402.4h.7M493.8 396.5h.7M492.9 389.7h.7M477.7 376.6h.7M485.0 393.9h.7M494.6 405.8h.7M457.8 393.9h.7M474.4 406.5h.7M480.5 390.4h.7M475.1 383.0h.7M474.8 363.9h.7M477.9 389.9h.7M484.6 408.7h.7M487.0 407.3h.7M485.4 399.1h.7M498.3 382.1h.7M498.2 399.0h.7M509.1 386.9h.7M500.8 395.9h.7M483.5 391.2h.7M515.7 393.8h.7M501.0 379.3h.7M479.4 384.9h.7M501.2 405.9h.7M476.4 369.3h.7M505.5 375.4h.7M495.7 379.1h.7M504.8 405.4h.7M482.1 393.7h.7M498.1 396.7h.7M511.0 373.7h.7M488.0 409.0h.7M507.0 371.6h.7M491.5 362.2h.7M503.4 395.3h.7M494.9 399.3h.7M492.0 346.6h.7M482.7 382.5h.7M490.4 402.3h.7M489.2 366.9h.7M489.7 372.8h.7M497.1 396.2h.7M521.8 392.3h.7M468.1 416.7h.7M498.2 400.5h.7M486.6 399.9h.7M493.9 393.1h.7M497.7 358.5h.7M487.0 393.6h.7M463.7 390.4h.7M515.3 371.0h.7M486.6 397.4h.7M485.6 373.4h.7M476.8 366.9h.7M483.4 397.5h.7M488.2 374.7h.7M497.4 374.6h.7M481.9 394.3h.7M501.9 374.2h.7M498.1 411.1h.7M493.9 407.6h.7M482.0 389.4h.7M487.4 371.6h.7M498.2 397.4h.7M486.5 354.5h.7M493.8 405.7h.7M501.1 386.8h.7M485.7 386.5h.7M496.0 411.5h.7M500.0 374.7h.7M505.4 365.8h.7M497.5 388.6h.7M486.4 412.4h.7M500.8 382.2h.7M504.3 401.2h.7M490.1 373.2h.7M505.2 363.4h.7M491.3 416.5h.7M498.1 410.5h.7M479.7 408.8h.7M477.6 377.5h.7M503.5 399.2h.7M484.1 413.2h.7M486.4 405.0h.7M507.6 377.8h.7M474.7 391.4h.7M463.0 393.2h.7M464.9 387.1h.7M480.5 387.6h.7M491.7 388.2h.7M500.8 390.5h.7M508.6 378.3h.7M490.8 373.3h.7M488.7 369.8h.7M485.0 406.7h.7M507.9 391.9h.7M484.6 391.2h.7M505.1 402.3h.7M511.0 395.9h.7M501.8 375.1h.7M491.8 384.5h.7M496.0 406.7h.7M490.8 393.2h.7M493.2 385.9h.7M501.8 397.4h.7M495.7 383.2h.7M464.7 382.5h.7M491.5 375.1h.7M485.7 382.8h.7M496.9 370.0h.7M516.3 377.9h.7M470.1 397.9h.7M497.2 375.8h.7M480.0 373.2h.7M494.0 405.4h.7M521.3 372.9h.7M501.6 383.1h.7M511.5 361.7h.7M495.2 396.1h.7M476.7 398.9h.7M483.5 373.1h.7M519.1 370.0h.7M495.3 395.1h.7M483.5 382.5h.7M508.4 397.0h.7M498.1 386.5h.7M498.0 382.3h.7M515.1 365.7h.7M490.6 397.5h.7M497.1 393.3h.7M486.8 384.1h.7M488.0 406.7h.7M500.3 364.6h.7M497.2 395.9h.7M475.2 412.1h.7M520.3 373.3h.7M484.5 406.9h.7M486.5 384.7h.7M488.2 380.7h.7M500.6 404.9h.7M491.4 386.7h.7M496.6 364.2h.7M486.4 380.2h.7M506.2 391.6h.7M504.8 405.9h.7M498.2 376.6h.7M511.5 389.7h.7M485.8 368.3h.7M496.9 374.3h.7M471.3 408.5h.7M485.1 390.7h.7M492.1 368.7h.7M496.3 391.6h.7M478.3 378.4h.7M478.1 354.5h.7M506.8 393.8h.7M469.2 384.7h.7M486.4 331.6h.7M514.8 332.6h.7M463.3 336.0h.7M524.1 365.9h.7M529.0 372.1h.7M488.3 394.8h.7M490.6 341.4h.7M457.8 356.8h.7M469.8 332.8h.7M474.8 415.2h.7M458.6 376.8h.7M448.2 385.4h.7M503.5 409.3h.7M500.4 356.5h.7M511.5 364.6h.7M533.9 346.8h.7M462.2 392.6h.7M530.5 409.0h.7M484.7 369.9h.7M469.7 409.5h.7" stroke="#ff1010" stroke-width=".75" stroke-opacity=".5" fill="none"/>
<line x1="476.2" y1="319.8" x2="476.2" y2="417.8" stroke="#f26a6a" stroke-width="0.9"/>
<line x1="439.8" y1="365.6" x2="537.2" y2="365.6" stroke="#f26a6a" stroke-width="0.9"/>
<circle cx="476.2" cy="365.6" r="1.5" fill="#f7b0b0" stroke="#f05050" stroke-width=".6"/>
<circle cx="516.5" cy="365.6" r="1.5" fill="#f7b0b0" stroke="#f05050" stroke-width=".6"/>
<text class="S" x="478.5" y="363" font-size="4.8" fill="#e03030">R2</text>
<rect x="439.5" y="319.5" width="98" height="98" fill="none" stroke="#444" stroke-width="1"/>
<text class="Sb" x="441.8" y="326.4" font-size="6" fill="#000">74.61%</text>
<text class="Sb" x="535.6" y="326.4" font-size="6" text-anchor="end" fill="#000">9.94%</text>
<text class="Sb" x="441.8" y="416" font-size="6" fill="#000">10.02%</text>
<text class="Sb" x="535.6" y="416" font-size="6" text-anchor="end" fill="#000">5.44%</text>
<text class="S" x="440.3" y="318.5" font-size="4" textLength="54" lengthAdjust="spacingAndGlyphs" fill="#333">Plot P02, gated on P01.R1</text>
<text class="S" x="439.8" y="422.6" font-size="3.8" text-anchor="middle" fill="#333">10<tspan font-size="2.6" dy="-1.5">0</tspan></text>
<text class="S" transform="translate(438.2 417.8) rotate(-90)" font-size="3.8" text-anchor="middle" fill="#333">10<tspan font-size="2.6" dy="-1.5">0</tspan></text>
<line x1="439.8" y1="417.8" x2="439.8" y2="419" stroke="#666" stroke-width="0.5"/>
<line x1="438.6" y1="417.8" x2="439.8" y2="417.8" stroke="#666" stroke-width="0.5"/>
<text class="S" x="459.28" y="422.6" font-size="3.8" text-anchor="middle" fill="#333">10<tspan font-size="2.6" dy="-1.5">1</tspan></text>
<text class="S" transform="translate(438.2 398.2) rotate(-90)" font-size="3.8" text-anchor="middle" fill="#333">10<tspan font-size="2.6" dy="-1.5">1</tspan></text>
<line x1="459.28" y1="417.8" x2="459.28" y2="419" stroke="#666" stroke-width="0.5"/>
<line x1="438.6" y1="398.2" x2="439.8" y2="398.2" stroke="#666" stroke-width="0.5"/>
<text class="S" x="478.76" y="422.6" font-size="3.8" text-anchor="middle" fill="#333">10<tspan font-size="2.6" dy="-1.5">2</tspan></text>
<text class="S" transform="translate(438.2 378.6) rotate(-90)" font-size="3.8" text-anchor="middle" fill="#333">10<tspan font-size="2.6" dy="-1.5">2</tspan></text>
<line x1="478.76" y1="417.8" x2="478.76" y2="419" stroke="#666" stroke-width="0.5"/>
<line x1="438.6" y1="378.6" x2="439.8" y2="378.6" stroke="#666" stroke-width="0.5"/>
<text class="S" x="498.24" y="422.6" font-size="3.8" text-anchor="middle" fill="#333">10<tspan font-size="2.6" dy="-1.5">3</tspan></text>
<text class="S" transform="translate(438.2 359) rotate(-90)" font-size="3.8" text-anchor="middle" fill="#333">10<tspan font-size="2.6" dy="-1.5">3</tspan></text>
<line x1="498.24" y1="417.8" x2="498.24" y2="419" stroke="#666" stroke-width="0.5"/>
<line x1="438.6" y1="359" x2="439.8" y2="359" stroke="#666" stroke-width="0.5"/>
<text class="S" x="517.72" y="422.6" font-size="3.8" text-anchor="middle" fill="#333">10<tspan font-size="2.6" dy="-1.5">4</tspan></text>
<text class="S" transform="translate(438.2 339.4) rotate(-90)" font-size="3.8" text-anchor="middle" fill="#333">10<tspan font-size="2.6" dy="-1.5">4</tspan></text>
<line x1="517.72" y1="417.8" x2="517.72" y2="419" stroke="#666" stroke-width="0.5"/>
<line x1="438.6" y1="339.4" x2="439.8" y2="339.4" stroke="#666" stroke-width="0.5"/>
<text class="S" x="537.2" y="422.6" font-size="3.8" text-anchor="middle" fill="#333">10<tspan font-size="2.6" dy="-1.5">5</tspan></text>
<text class="S" transform="translate(438.2 319.8) rotate(-90)" font-size="3.8" text-anchor="middle" fill="#333">10<tspan font-size="2.6" dy="-1.5">5</tspan></text>
<line x1="537.2" y1="417.8" x2="537.2" y2="419" stroke="#666" stroke-width="0.5"/>
<line x1="438.6" y1="319.8" x2="439.8" y2="319.8" stroke="#666" stroke-width="0.5"/>
<text class="S" x="488.5" y="427.6" font-size="4.4" text-anchor="middle" textLength="70" lengthAdjust="spacingAndGlyphs" fill="#333">Red-R Fluorescence (RED-R-HLog)</text>
<text class="S" transform="translate(431.8 369.8) rotate(-90)" font-size="4.4" text-anchor="middle" textLength="74" lengthAdjust="spacingAndGlyphs" fill="#333">Green-B Fluorescence (GRN-B-HLog)</text>
<text class="Rb" x="488.7" y="313.8" font-size="8.8" text-anchor="middle" textLength="70.5" lengthAdjust="spacingAndGlyphs" fill="#111">MGC-803-shTRIP13</text>
<line x1="569.3" y1="193.5" x2="569.3" y2="270.8" stroke="#222" stroke-width="1"/>
<line x1="568.8" y1="270.2" x2="675.2" y2="270.2" stroke="#222" stroke-width="1"/>
<line x1="567.3" y1="270.2" x2="569.3" y2="270.2" stroke="#222" stroke-width="0.9"/>
<text class="Sb" transform="translate(566.7 272.1) scale(1.08 0.72)" font-size="7.2" text-anchor="end" fill="#1a1a1a">0</text>
<line x1="567.3" y1="244.8" x2="569.3" y2="244.8" stroke="#222" stroke-width="0.9"/>
<text class="Sb" transform="translate(566.7 246.7) scale(1.08 0.72)" font-size="7.2" text-anchor="end" fill="#1a1a1a">5</text>
<line x1="567.3" y1="219.4" x2="569.3" y2="219.4" stroke="#222" stroke-width="0.9"/>
<text class="Sb" transform="translate(566.7 221.3) scale(1.08 0.72)" font-size="7.2" text-anchor="end" fill="#1a1a1a">10</text>
<line x1="567.3" y1="194" x2="569.3" y2="194" stroke="#222" stroke-width="0.9"/>
<text class="Sb" transform="translate(566.7 195.9) scale(1.08 0.72)" font-size="7.2" text-anchor="end" fill="#1a1a1a">15</text>
<line x1="600.1" y1="270.2" x2="600.1" y2="272" stroke="#222" stroke-width="0.9"/>
<line x1="645.6" y1="270.2" x2="645.6" y2="272" stroke="#222" stroke-width="0.9"/>
<ellipse cx="598.5" cy="246.32" rx="1.3" ry="1.0" fill="#000"/>
<ellipse cx="601.3" cy="243.78" rx="1.3" ry="1.0" fill="#000"/>
<ellipse cx="603.7" cy="241.24" rx="1.3" ry="1.0" fill="#000"/>
<line x1="585.3" y1="243.78" x2="614.9" y2="243.78" stroke="#222" stroke-width="0.9"/>
<line x1="592.8" y1="241.5" x2="607.4" y2="241.5" stroke="#222" stroke-width="0.9"/>
<line x1="592.8" y1="246.07" x2="607.4" y2="246.07" stroke="#222" stroke-width="0.9"/>
<line x1="600.1" y1="241.5" x2="600.1" y2="246.07" stroke="#222" stroke-width="0.9"/>
<ellipse cx="645.6" cy="204.67" rx="1.3" ry="1.0" fill="#000"/>
<ellipse cx="649.3" cy="207.72" rx="1.3" ry="1.0" fill="#000"/>
<ellipse cx="643.8" cy="210.76" rx="1.3" ry="1.0" fill="#000"/>
<line x1="630.8" y1="207.72" x2="660.4" y2="207.72" stroke="#222" stroke-width="0.9"/>
<line x1="638.3" y1="205.43" x2="652.9" y2="205.43" stroke="#222" stroke-width="0.9"/>
<line x1="638.3" y1="210" x2="652.9" y2="210" stroke="#222" stroke-width="0.9"/>
<line x1="645.6" y1="205.43" x2="645.6" y2="210" stroke="#222" stroke-width="0.9"/>
<polyline points="600.1,202.2 600.1,200 645.6,200 645.6,202.2" fill="none" stroke="#222" stroke-width="0.9"/>
<text class="Sb" x="625" y="199.1" font-size="6.5" text-anchor="middle">*</text>
<text class="Sb" transform="translate(554.7 231.9) rotate(-90)" font-size="5.6" text-anchor="middle" textLength="44.6" lengthAdjust="spacingAndGlyphs" fill="#222">Apoptosis rate (%)</text>
<text class="Sb" transform="translate(602.6 276.4) rotate(-36)" font-size="5.7" text-anchor="end" textLength="33.8" lengthAdjust="spacingAndGlyphs" fill="#222">AGS-shCtrl</text>
<text class="Sb" transform="translate(648 277) rotate(-36)" font-size="5.7" text-anchor="end" textLength="43.6" lengthAdjust="spacingAndGlyphs" fill="#222">AGS-shTRIP13</text>
<line x1="572.4" y1="312.8" x2="572.4" y2="398.7" stroke="#222" stroke-width="1"/>
<line x1="571.9" y1="398.1" x2="675.6" y2="398.1" stroke="#222" stroke-width="1"/>
<line x1="570.4" y1="398.1" x2="572.4" y2="398.1" stroke="#222" stroke-width="0.9"/>
<text class="Sb" transform="translate(569.8 400) scale(1.08 0.72)" font-size="7.2" text-anchor="end" fill="#1a1a1a">0</text>
<line x1="570.4" y1="376.9" x2="572.4" y2="376.9" stroke="#222" stroke-width="0.9"/>
<text class="Sb" transform="translate(569.8 378.8) scale(1.08 0.72)" font-size="7.2" text-anchor="end" fill="#1a1a1a">5</text>
<line x1="570.4" y1="355.7" x2="572.4" y2="355.7" stroke="#222" stroke-width="0.9"/>
<text class="Sb" transform="translate(569.8 357.6) scale(1.08 0.72)" font-size="7.2" text-anchor="end" fill="#1a1a1a">10</text>
<line x1="570.4" y1="334.5" x2="572.4" y2="334.5" stroke="#222" stroke-width="0.9"/>
<text class="Sb" transform="translate(569.8 336.4) scale(1.08 0.72)" font-size="7.2" text-anchor="end" fill="#1a1a1a">15</text>
<line x1="570.4" y1="313.3" x2="572.4" y2="313.3" stroke="#222" stroke-width="0.9"/>
<text class="Sb" transform="translate(569.8 315.2) scale(1.08 0.72)" font-size="7.2" text-anchor="end" fill="#1a1a1a">20</text>
<line x1="601.9" y1="398.1" x2="601.9" y2="399.9" stroke="#222" stroke-width="0.9"/>
<line x1="646.4" y1="398.1" x2="646.4" y2="399.9" stroke="#222" stroke-width="0.9"/>
<ellipse cx="600.4" cy="360.79" rx="1.3" ry="1.0" fill="#000"/>
<ellipse cx="605.5" cy="364.6" rx="1.3" ry="1.0" fill="#000"/>
<ellipse cx="601.9" cy="366.51" rx="1.3" ry="1.0" fill="#000"/>
<line x1="587.1" y1="363.33" x2="616.7" y2="363.33" stroke="#222" stroke-width="0.9"/>
<line x1="594.6" y1="361.13" x2="609.2" y2="361.13" stroke="#222" stroke-width="0.9"/>
<line x1="594.6" y1="365.54" x2="609.2" y2="365.54" stroke="#222" stroke-width="0.9"/>
<line x1="601.9" y1="361.13" x2="601.9" y2="365.54" stroke="#222" stroke-width="0.9"/>
<ellipse cx="646.3" cy="330.26" rx="1.3" ry="1.0" fill="#000"/>
<ellipse cx="644.7" cy="334.58" rx="1.3" ry="1.0" fill="#000"/>
<ellipse cx="648.7" cy="334.08" rx="1.3" ry="1.0" fill="#000"/>
<line x1="631.6" y1="333.02" x2="661.2" y2="333.02" stroke="#222" stroke-width="0.9"/>
<line x1="639.1" y1="331.36" x2="653.7" y2="331.36" stroke="#222" stroke-width="0.9"/>
<line x1="639.1" y1="334.67" x2="653.7" y2="334.67" stroke="#222" stroke-width="0.9"/>
<line x1="646.4" y1="331.36" x2="646.4" y2="334.67" stroke="#222" stroke-width="0.9"/>
<polyline points="601.9,326.5 601.9,324.3 646.4,324.3 646.4,326.5" fill="none" stroke="#222" stroke-width="0.9"/>
<text class="Sb" x="624" y="324.1" font-size="6.5" text-anchor="middle">*</text>
<text class="Sb" transform="translate(557.8 356) rotate(-90)" font-size="5.6" text-anchor="middle" textLength="44.6" lengthAdjust="spacingAndGlyphs" fill="#222">Apoptosis rate (%)</text>
<text class="Sb" transform="translate(605 404.6) rotate(-36)" font-size="5.7" text-anchor="end" textLength="46.8" lengthAdjust="spacingAndGlyphs" fill="#222">MGC-803-shCtrl</text>
<text class="Sb" transform="translate(649.4 404.6) rotate(-36)" font-size="5.7" text-anchor="end" textLength="57.5" lengthAdjust="spacingAndGlyphs" fill="#222">MGC-803-shTRIP13</text>
<defs><linearGradient id="phbg" x1="0" y1="0" x2="1" y2="0"><stop offset="0" stop-color="#989a9a"/><stop offset="0.5" stop-color="#a5a7a6"/><stop offset="1" stop-color="#b3b3b1"/></linearGradient><linearGradient id="paper" x1="0" y1="0" x2="1" y2="0"><stop offset="0" stop-color="#aeb0b0"/><stop offset="0.4" stop-color="#bbbdbc"/><stop offset="1" stop-color="#c3c5c3"/></linearGradient><linearGradient id="rulg" x1="0" y1="0" x2="1" y2="0"><stop offset="0" stop-color="#b0b2b2"/><stop offset="1" stop-color="#c8c8c6"/></linearGradient><radialGradient id="tum" cx="0.45" cy="0.4" r="0.62"><stop offset="0" stop-color="#dba48c"/><stop offset="0.6" stop-color="#cb8d74"/><stop offset="1" stop-color="#b47762"/></radialGradient><pattern id="rul" width="2.08" height="12" patternUnits="userSpaceOnUse"><rect x="0" y="6" width="0.35" height="3.5" fill="#999"/></pattern></defs>
<rect x="327" y="453.3" width="225" height="67.4" fill="url(#phbg)"/>
<rect x="349.2" y="466.5" width="202.8" height="9.5" fill="url(#rulg)"/>
<rect x="349.2" y="476" width="202.8" height="3.9" fill="#a2a3a2"/>
<rect x="349.2" y="469.5" width="202.8" height="10.4" fill="url(#rul)"/>
<rect x="350.5" y="469.9" width="1.8" height="1.4" fill="#5a5a5a"/>
<rect x="358.82" y="469.9" width="1.8" height="1.4" fill="#5a5a5a"/>
<rect x="367.14" y="469.9" width="1.8" height="1.4" fill="#5a5a5a"/>
<rect x="375.46" y="469.9" width="1.8" height="1.4" fill="#5a5a5a"/>
<rect x="383.78" y="469.9" width="1.8" height="1.4" fill="#5a5a5a"/>
<rect x="392.1" y="469.9" width="1.8" height="1.4" fill="#5a5a5a"/>
<rect x="400.42" y="469.9" width="1.8" height="1.4" fill="#5a5a5a"/>
<rect x="408.74" y="469.9" width="1.8" height="1.4" fill="#5a5a5a"/>
<rect x="417.06" y="469.9" width="1.8" height="1.4" fill="#5a5a5a"/>
<rect x="425.38" y="469.9" width="1.8" height="1.4" fill="#5a5a5a"/>
<rect x="433.7" y="469.9" width="1.8" height="1.4" fill="#5a5a5a"/>
<rect x="442.02" y="469.9" width="1.8" height="1.4" fill="#5a5a5a"/>
<rect x="450.34" y="469.9" width="1.8" height="1.4" fill="#5a5a5a"/>
<rect x="458.66" y="469.9" width="1.8" height="1.4" fill="#5a5a5a"/>
<rect x="466.98" y="469.9" width="1.8" height="1.4" fill="#5a5a5a"/>
<rect x="475.3" y="469.9" width="1.8" height="1.4" fill="#5a5a5a"/>
<rect x="483.62" y="469.9" width="1.8" height="1.4" fill="#5a5a5a"/>
<rect x="491.94" y="469.9" width="1.8" height="1.4" fill="#5a5a5a"/>
<rect x="500.26" y="469.9" width="1.8" height="1.4" fill="#5a5a5a"/>
<rect x="508.58" y="469.9" width="1.8" height="1.4" fill="#5a5a5a"/>
<rect x="516.9" y="469.9" width="1.8" height="1.4" fill="#5a5a5a"/>
<rect x="525.22" y="469.9" width="1.8" height="1.4" fill="#5a5a5a"/>
<rect x="533.54" y="469.9" width="1.8" height="1.4" fill="#5a5a5a"/>
<rect x="541.86" y="469.9" width="1.8" height="1.4" fill="#5a5a5a"/>
<rect x="349.8" y="479.9" width="202.2" height="40.8" fill="url(#paper)"/>
<rect x="344.8" y="479.9" width="5" height="40.8" fill="#979898"/>
<rect x="340.5" y="483.5" width="1.6" height="0.5" fill="#6a6a6a"/>
<rect x="340.5" y="487.9" width="1.6" height="0.5" fill="#6a6a6a"/>
<rect x="340.5" y="492.3" width="1.6" height="0.5" fill="#6a6a6a"/>
<rect x="340.5" y="496.7" width="1.6" height="0.5" fill="#6a6a6a"/>
<rect x="340.5" y="501.1" width="1.6" height="0.5" fill="#6a6a6a"/>
<rect x="340.5" y="505.5" width="1.6" height="0.5" fill="#6a6a6a"/>
<rect x="340.5" y="509.9" width="1.6" height="0.5" fill="#6a6a6a"/>
<rect x="340.5" y="514.3" width="1.6" height="0.5" fill="#6a6a6a"/>
<rect x="340.5" y="518.7" width="1.6" height="0.5" fill="#6a6a6a"/>
<path d="M378.3 489.5Q378.7 491.2 378.2 492.8Q377.6 494.3 376.1 495.5Q374.5 496.7 372.4 496.4Q370.3 496.2 368.7 495.2Q367.0 494.3 366.3 492.7Q365.7 491.2 366.5 489.8Q367.4 488.3 368.9 487.3Q370.3 486.2 372.3 486.1Q374.4 486.1 376.2 487.0Q377.9 487.9 378.3 489.5Z" fill="url(#tum)"/>
<circle cx="369.1" cy="490.0" r="0.4" fill="#a05545" opacity="0.45"/>
<circle cx="374.7" cy="492.4" r="0.4" fill="#a05545" opacity="0.45"/>
<circle cx="376.1" cy="494.1" r="0.7" fill="#a05545" opacity="0.45"/>
<circle cx="373.2" cy="489.0" r="0.4" fill="#a05545" opacity="0.45"/>
<circle cx="372.5" cy="488.4" r="0.5" fill="#a05545" opacity="0.45"/>
<path d="M396.0 489.8Q396.5 491.2 395.8 492.5Q395.0 493.7 393.6 494.7Q392.3 495.8 390.2 495.7Q388.2 495.7 386.2 495.0Q384.3 494.3 383.9 492.7Q383.4 491.2 384.0 489.7Q384.6 488.3 386.4 487.4Q388.1 486.6 390.2 486.5Q392.4 486.4 394.0 487.4Q395.6 488.4 396.0 489.8Z" fill="url(#tum)"/>
<circle cx="388.4" cy="494.1" r="0.8" fill="#a05545" opacity="0.45"/>
<circle cx="392.9" cy="492.4" r="0.5" fill="#a05545" opacity="0.45"/>
<circle cx="388.0" cy="490.0" r="0.4" fill="#a05545" opacity="0.45"/>
<circle cx="392.3" cy="490.6" r="0.7" fill="#a05545" opacity="0.45"/>
<circle cx="389.3" cy="493.9" r="0.7" fill="#a05545" opacity="0.45"/>
<path d="M412.1 489.9Q412.4 491.2 412.0 492.5Q411.6 493.8 410.3 495.0Q409.0 496.2 407.0 496.0Q405.0 495.8 403.1 495.1Q401.2 494.4 401.0 492.8Q400.8 491.2 401.5 489.9Q402.3 488.7 403.6 487.6Q404.9 486.5 406.9 486.4Q409.0 486.3 410.3 487.4Q411.7 488.5 412.1 489.9Z" fill="url(#tum)"/>
<circle cx="403.8" cy="490.2" r="0.8" fill="#a05545" opacity="0.45"/>
<circle cx="408.9" cy="489.0" r="0.5" fill="#a05545" opacity="0.45"/>
<circle cx="403.9" cy="488.6" r="0.7" fill="#a05545" opacity="0.45"/>
<circle cx="404.5" cy="491.5" r="0.6" fill="#a05545" opacity="0.45"/>
<circle cx="404.6" cy="492.5" r="0.5" fill="#a05545" opacity="0.45"/>
<path d="M429.3 490.0Q430.3 491.2 429.2 492.4Q428.2 493.6 426.8 494.4Q425.3 495.3 423.4 495.2Q421.4 495.1 419.8 494.4Q418.2 493.6 417.0 492.4Q415.8 491.2 416.6 489.8Q417.5 488.4 419.4 487.8Q421.3 487.2 423.4 486.9Q425.6 486.6 427.0 487.7Q428.4 488.8 429.3 490.0Z" fill="url(#tum)"/>
<circle cx="422.4" cy="493.1" r="0.7" fill="#a05545" opacity="0.45"/>
<circle cx="420.1" cy="493.8" r="0.5" fill="#a05545" opacity="0.45"/>
<circle cx="421.4" cy="492.6" r="0.5" fill="#a05545" opacity="0.45"/>
<circle cx="421.7" cy="488.9" r="0.4" fill="#a05545" opacity="0.45"/>
<path d="M447.7 490.1Q448.5 491.2 447.7 492.3Q447.0 493.5 445.8 494.3Q444.6 495.2 442.8 495.1Q441.1 495.0 439.7 494.3Q438.3 493.6 437.5 492.4Q436.6 491.2 437.5 490.0Q438.3 488.8 439.7 488.0Q441.0 487.2 442.9 487.1Q444.7 487.0 445.8 488.0Q447.0 489.0 447.7 490.1Z" fill="url(#tum)"/>
<circle cx="440.5" cy="493.2" r="0.7" fill="#a05545" opacity="0.45"/>
<circle cx="441.1" cy="489.7" r="0.7" fill="#a05545" opacity="0.45"/>
<circle cx="445.7" cy="489.7" r="0.8" fill="#a05545" opacity="0.45"/>
<path d="M467.2 489.7Q467.9 491.2 467.1 492.7Q466.2 494.1 464.6 494.9Q462.9 495.7 461.1 495.5Q459.2 495.4 457.9 494.5Q456.5 493.7 455.2 492.5Q454.0 491.2 455.1 489.9Q456.2 488.5 457.6 487.5Q459.0 486.4 460.9 486.6Q462.8 486.9 464.7 487.5Q466.5 488.1 467.2 489.7Z" fill="url(#tum)"/>
<circle cx="461.7" cy="490.0" r="0.5" fill="#a05545" opacity="0.45"/>
<circle cx="462.7" cy="488.7" r="0.5" fill="#a05545" opacity="0.45"/>
<circle cx="461.4" cy="493.2" r="0.6" fill="#a05545" opacity="0.45"/>
<circle cx="459.3" cy="493.6" r="0.5" fill="#a05545" opacity="0.45"/>
<circle cx="457.3" cy="489.9" r="0.6" fill="#a05545" opacity="0.45"/>
<path d="M485.8 489.9Q486.0 491.2 485.5 492.3Q485.1 493.5 483.8 494.3Q482.5 495.1 480.7 495.2Q478.9 495.3 477.6 494.4Q476.4 493.5 475.7 492.3Q475.0 491.2 475.3 489.8Q475.5 488.5 477.1 487.6Q478.7 486.7 480.6 486.9Q482.6 487.1 484.1 487.8Q485.7 488.6 485.8 489.9Z" fill="url(#tum)"/>
<circle cx="481.3" cy="489.4" r="0.4" fill="#a05545" opacity="0.45"/>
<circle cx="477.3" cy="493.3" r="0.7" fill="#a05545" opacity="0.45"/>
<circle cx="484.0" cy="488.8" r="0.7" fill="#a05545" opacity="0.45"/>
<circle cx="480.6" cy="492.4" r="0.5" fill="#a05545" opacity="0.45"/>
<path d="M504.0 490.0Q504.9 491.2 503.8 492.3Q502.8 493.4 501.7 494.3Q500.6 495.2 499.0 495.3Q497.3 495.4 495.8 494.7Q494.3 493.9 493.9 492.6Q493.5 491.2 494.0 489.9Q494.5 488.6 495.9 487.8Q497.3 486.9 499.0 486.9Q500.8 486.8 501.9 487.8Q503.1 488.8 504.0 490.0Z" fill="url(#tum)"/>
<circle cx="500.2" cy="493.2" r="0.7" fill="#a05545" opacity="0.45"/>
<circle cx="498.5" cy="492.7" r="0.7" fill="#a05545" opacity="0.45"/>
<circle cx="499.5" cy="491.8" r="0.6" fill="#a05545" opacity="0.45"/>
<path d="M519.8 490.1Q520.4 491.2 519.9 492.3Q519.4 493.5 517.9 494.0Q516.5 494.4 514.9 494.7Q513.3 494.9 511.8 494.3Q510.2 493.7 509.8 492.4Q509.3 491.2 509.9 490.0Q510.5 488.9 512.0 488.3Q513.4 487.7 515.1 487.6Q516.7 487.4 518.0 488.2Q519.3 488.9 519.8 490.1Z" fill="url(#tum)"/>
<circle cx="514.6" cy="492.7" r="0.4" fill="#a05545" opacity="0.45"/>
<circle cx="516.6" cy="489.1" r="0.6" fill="#a05545" opacity="0.45"/>
<circle cx="514.9" cy="490.0" r="0.7" fill="#a05545" opacity="0.45"/>
<path d="M539.0 489.9Q539.4 491.2 538.9 492.4Q538.4 493.6 537.0 494.5Q535.6 495.4 533.7 495.1Q531.9 494.8 530.7 494.0Q529.5 493.3 528.8 492.2Q528.1 491.2 528.4 490.0Q528.7 488.8 530.3 488.2Q531.9 487.7 533.6 487.7Q535.2 487.7 537.0 488.2Q538.7 488.6 539.0 489.9Z" fill="url(#tum)"/>
<circle cx="534.7" cy="490.9" r="0.8" fill="#a05545" opacity="0.45"/>
<circle cx="532.4" cy="492.0" r="0.5" fill="#a05545" opacity="0.45"/>
<circle cx="533.1" cy="492.7" r="0.8" fill="#a05545" opacity="0.45"/>
<path d="M377.1 508.5Q377.6 509.4 376.8 510.2Q375.9 511.0 374.6 511.6Q373.3 512.1 371.7 512.0Q370.0 511.9 368.8 511.4Q367.5 510.9 366.8 510.2Q366.1 509.4 366.4 508.5Q366.8 507.6 368.3 507.1Q369.8 506.5 371.6 506.6Q373.4 506.6 375.0 507.1Q376.5 507.6 377.1 508.5Z" fill="url(#tum)"/>
<circle cx="370.1" cy="508.3" r="0.6" fill="#a05545" opacity="0.45"/>
<circle cx="370.1" cy="508.4" r="0.6" fill="#a05545" opacity="0.45"/>
<path d="M394.4 508.6Q395.2 509.4 394.6 510.3Q394.0 511.3 392.8 511.8Q391.5 512.3 389.9 512.5Q388.3 512.7 386.9 512.1Q385.5 511.5 385.3 510.4Q385.1 509.4 385.7 508.6Q386.4 507.7 387.5 507.2Q388.6 506.7 390.2 506.4Q391.7 506.1 392.6 506.9Q393.6 507.7 394.4 508.6Z" fill="url(#tum)"/>
<circle cx="391.3" cy="509.7" r="0.5" fill="#a05545" opacity="0.45"/>
<circle cx="391.7" cy="507.6" r="0.5" fill="#a05545" opacity="0.45"/>
<path d="M411.4 508.5Q411.8 509.4 411.1 510.1Q410.5 510.9 409.7 511.6Q408.8 512.3 407.4 512.1Q406.0 511.9 405.0 511.4Q404.0 510.9 403.6 510.2Q403.3 509.4 403.4 508.6Q403.5 507.7 404.7 507.2Q405.9 506.8 407.3 506.7Q408.7 506.7 409.9 507.2Q411.1 507.7 411.4 508.5Z" fill="url(#tum)"/>
<circle cx="409.0" cy="510.9" r="0.7" fill="#a05545" opacity="0.45"/>
<circle cx="405.7" cy="509.3" r="0.5" fill="#a05545" opacity="0.45"/>
<path d="M427.9 508.9Q427.9 509.4 427.8 509.9Q427.7 510.3 427.0 510.7Q426.3 511.0 425.4 510.9Q424.4 510.8 423.7 510.5Q423.0 510.3 422.7 509.8Q422.4 509.4 422.6 508.9Q422.8 508.4 423.6 508.1Q424.4 507.9 425.3 507.9Q426.3 507.8 427.1 508.1Q427.9 508.4 427.9 508.9Z" fill="url(#tum)"/>
<path d="M446.8 508.9Q446.9 509.4 446.8 509.9Q446.6 510.3 445.8 510.7Q445.0 511.0 444.1 510.8Q443.2 510.7 442.2 510.5Q441.3 510.4 441.1 509.9Q440.8 509.4 441.3 509.0Q441.8 508.6 442.4 508.3Q443.1 508.0 444.0 508.0Q445.0 507.9 445.8 508.2Q446.7 508.4 446.8 508.9Z" fill="url(#tum)"/>
<path d="M465.8 508.9Q465.9 509.4 465.7 509.9Q465.5 510.4 464.9 510.8Q464.3 511.2 463.4 511.1Q462.5 511.1 461.8 510.8Q461.1 510.5 460.9 510.0Q460.8 509.4 461.0 508.9Q461.2 508.4 461.9 508.1Q462.7 507.9 463.4 507.8Q464.2 507.7 465.0 508.0Q465.7 508.3 465.8 508.9Z" fill="url(#tum)"/>
<path d="M483.8 508.9Q484.0 509.4 483.7 509.9Q483.5 510.4 482.7 510.6Q482.0 510.8 481.1 510.9Q480.3 511.1 479.5 510.8Q478.8 510.4 478.5 509.9Q478.2 509.4 478.6 508.9Q479.0 508.5 479.7 508.1Q480.3 507.8 481.2 507.9Q482.0 507.9 482.8 508.2Q483.6 508.4 483.8 508.9Z" fill="url(#tum)"/>
<path d="M500.9 509.0Q501.3 509.4 500.9 509.8Q500.5 510.2 499.9 510.5Q499.2 510.7 498.5 510.7Q497.7 510.8 497.0 510.5Q496.4 510.3 496.1 509.8Q495.7 509.4 496.1 509.0Q496.4 508.5 497.1 508.3Q497.8 508.1 498.6 508.0Q499.4 507.9 499.9 508.2Q500.4 508.6 500.9 509.0Z" fill="url(#tum)"/>
<path d="M516.9 508.9Q517.2 509.4 516.8 509.8Q516.3 510.2 515.8 510.5Q515.2 510.8 514.4 510.8Q513.5 510.9 513.0 510.6Q512.5 510.2 512.2 509.8Q512.0 509.4 512.2 509.0Q512.3 508.5 512.9 508.2Q513.6 507.9 514.4 507.9Q515.3 507.9 515.9 508.2Q516.6 508.5 516.9 508.9Z" fill="url(#tum)"/>
<text class="R" x="558.5" y="493.9" font-size="8.6" textLength="70.8" lengthAdjust="spacingAndGlyphs" fill="#111">MGC-803-shCtrl</text>
<text class="R" x="557.8" y="512.9" font-size="8.6" textLength="86.8" lengthAdjust="spacingAndGlyphs" fill="#111">MGC-803-shTRIP13</text>
<line x1="529.9" y1="527.7" x2="542.8" y2="527.7" stroke="#ff0000" stroke-width="1.4"/>
<circle cx="536.2" cy="527.7" r="2.1" fill="#000"/>
<line x1="529.9" y1="538.8" x2="542.8" y2="538.8" stroke="#2020d0" stroke-width="1.4"/>
<rect x="534" y="536.6" width="4.4" height="4.4" fill="#000"/>
<text class="R" x="550.6" y="530.5" font-size="8.6" textLength="71" lengthAdjust="spacingAndGlyphs" fill="#111">MGC-803-shCtrl</text>
<text class="R" x="550.6" y="541.9" font-size="8.6" textLength="86.6" lengthAdjust="spacingAndGlyphs" fill="#111">MGC-803-shTRIP13</text>
<line x1="393.2" y1="534.3" x2="393.2" y2="683.1" stroke="#000" stroke-width="1.5"/>
<line x1="392.5" y1="682.4" x2="632" y2="682.4" stroke="#000" stroke-width="1.5"/>
<line x1="390" y1="534.9" x2="393.2" y2="534.9" stroke="#000" stroke-width="1.4"/>
<text class="Rb" x="388.6" y="539.7" font-size="11.7" text-anchor="end" textLength="23.9" lengthAdjust="spacingAndGlyphs" fill="#000" stroke="#000" stroke-width="0.25">800</text>
<line x1="390" y1="564.4" x2="393.2" y2="564.4" stroke="#000" stroke-width="1.4"/>
<text class="Rb" x="388.6" y="569.2" font-size="11.7" text-anchor="end" textLength="23.9" lengthAdjust="spacingAndGlyphs" fill="#000" stroke="#000" stroke-width="0.25">600</text>
<line x1="390" y1="593.9" x2="393.2" y2="593.9" stroke="#000" stroke-width="1.4"/>
<text class="Rb" x="388.6" y="598.7" font-size="11.7" text-anchor="end" textLength="23.9" lengthAdjust="spacingAndGlyphs" fill="#000" stroke="#000" stroke-width="0.25">400</text>
<line x1="390" y1="623.4" x2="393.2" y2="623.4" stroke="#000" stroke-width="1.4"/>
<text class="Rb" x="388.6" y="628.2" font-size="11.7" text-anchor="end" textLength="23.9" lengthAdjust="spacingAndGlyphs" fill="#000" stroke="#000" stroke-width="0.25">200</text>
<line x1="390" y1="652.9" x2="393.2" y2="652.9" stroke="#000" stroke-width="1.4"/>
<text class="Rb" x="388.6" y="657.7" font-size="11.7" text-anchor="end" textLength="7.5" lengthAdjust="spacingAndGlyphs" fill="#000" stroke="#000" stroke-width="0.25">0</text>
<line x1="390" y1="682.4" x2="393.2" y2="682.4" stroke="#000" stroke-width="1.4"/>
<text class="Rb" x="388.6" y="687.2" font-size="11.7" text-anchor="end" textLength="30.5" lengthAdjust="spacingAndGlyphs" fill="#000" stroke="#000" stroke-width="0.25">-200</text>
<line x1="395" y1="652.9" x2="632" y2="652.9" stroke="#555" stroke-width="1" stroke-dasharray="1.3 2.3"/>
<line x1="415.1" y1="682.4" x2="415.1" y2="685.4" stroke="#000" stroke-width="1.4"/>
<text class="Rb" x="415.1" y="697.2" font-size="11.7" text-anchor="middle" textLength="7.6" lengthAdjust="spacingAndGlyphs" fill="#000" stroke="#000" stroke-width="0.25">0</text>
<line x1="447.5" y1="682.4" x2="447.5" y2="685.4" stroke="#000" stroke-width="1.4"/>
<text class="Rb" x="447.5" y="697.2" font-size="11.7" text-anchor="middle" textLength="7.6" lengthAdjust="spacingAndGlyphs" fill="#000" stroke="#000" stroke-width="0.25">7</text>
<line x1="479.8" y1="682.4" x2="479.8" y2="685.4" stroke="#000" stroke-width="1.4"/>
<text class="Rb" x="479.8" y="697.2" font-size="11.7" text-anchor="middle" textLength="14" lengthAdjust="spacingAndGlyphs" fill="#000" stroke="#000" stroke-width="0.25">10</text>
<line x1="512.1" y1="682.4" x2="512.1" y2="685.4" stroke="#000" stroke-width="1.4"/>
<text class="Rb" x="512.1" y="697.2" font-size="11.7" text-anchor="middle" textLength="14" lengthAdjust="spacingAndGlyphs" fill="#000" stroke="#000" stroke-width="0.25">13</text>
<line x1="544.4" y1="682.4" x2="544.4" y2="685.4" stroke="#000" stroke-width="1.4"/>
<text class="Rb" x="544.4" y="697.2" font-size="11.7" text-anchor="middle" textLength="14" lengthAdjust="spacingAndGlyphs" fill="#000" stroke="#000" stroke-width="0.25">16</text>
<line x1="576.8" y1="682.4" x2="576.8" y2="685.4" stroke="#000" stroke-width="1.4"/>
<text class="Rb" x="576.8" y="697.2" font-size="11.7" text-anchor="middle" textLength="14" lengthAdjust="spacingAndGlyphs" fill="#000" stroke="#000" stroke-width="0.25">19</text>
<line x1="609.5" y1="682.4" x2="609.5" y2="685.4" stroke="#000" stroke-width="1.4"/>
<text class="Rb" x="609.5" y="697.2" font-size="11.7" text-anchor="middle" textLength="14" lengthAdjust="spacingAndGlyphs" fill="#000" stroke="#000" stroke-width="0.25">21</text>
<line x1="447.5" y1="639.77" x2="447.5" y2="648.03" stroke="#111" stroke-width="1.3"/>
<line x1="445.1" y1="639.77" x2="449.9" y2="639.77" stroke="#111" stroke-width="1.3"/>
<line x1="445.1" y1="648.03" x2="449.9" y2="648.03" stroke="#111" stroke-width="1.3"/>
<line x1="479.8" y1="627.53" x2="479.8" y2="642.28" stroke="#111" stroke-width="1.3"/>
<line x1="477.4" y1="627.53" x2="482.2" y2="627.53" stroke="#111" stroke-width="1.3"/>
<line x1="477.4" y1="642.28" x2="482.2" y2="642.28" stroke="#111" stroke-width="1.3"/>
<line x1="512.1" y1="604.08" x2="512.1" y2="628.56" stroke="#111" stroke-width="1.3"/>
<line x1="509.7" y1="604.08" x2="514.5" y2="604.08" stroke="#111" stroke-width="1.3"/>
<line x1="509.7" y1="628.56" x2="514.5" y2="628.56" stroke="#111" stroke-width="1.3"/>
<line x1="544.4" y1="589.33" x2="544.4" y2="624.73" stroke="#111" stroke-width="1.3"/>
<line x1="542" y1="589.33" x2="546.8" y2="589.33" stroke="#111" stroke-width="1.3"/>
<line x1="542" y1="624.73" x2="546.8" y2="624.73" stroke="#111" stroke-width="1.3"/>
<line x1="576.8" y1="557.02" x2="576.8" y2="601.27" stroke="#111" stroke-width="1.3"/>
<line x1="574.4" y1="557.02" x2="579.2" y2="557.02" stroke="#111" stroke-width="1.3"/>
<line x1="574.4" y1="601.27" x2="579.2" y2="601.27" stroke="#111" stroke-width="1.3"/>
<line x1="609.5" y1="552.89" x2="609.5" y2="594.19" stroke="#111" stroke-width="1.3"/>
<line x1="607.1" y1="552.89" x2="611.9" y2="552.89" stroke="#111" stroke-width="1.3"/>
<line x1="607.1" y1="594.19" x2="611.9" y2="594.19" stroke="#111" stroke-width="1.3"/>
<line x1="479.8" y1="648.62" x2="479.8" y2="653.05" stroke="#111" stroke-width="1.3"/>
<line x1="477.4" y1="648.62" x2="482.2" y2="648.62" stroke="#111" stroke-width="1.3"/>
<line x1="477.4" y1="653.05" x2="482.2" y2="653.05" stroke="#111" stroke-width="1.3"/>
<line x1="512.1" y1="643.02" x2="512.1" y2="654.52" stroke="#111" stroke-width="1.3"/>
<line x1="509.7" y1="643.02" x2="514.5" y2="643.02" stroke="#111" stroke-width="1.3"/>
<line x1="509.7" y1="654.52" x2="514.5" y2="654.52" stroke="#111" stroke-width="1.3"/>
<line x1="544.4" y1="638.3" x2="544.4" y2="656" stroke="#111" stroke-width="1.3"/>
<line x1="542" y1="638.3" x2="546.8" y2="638.3" stroke="#111" stroke-width="1.3"/>
<line x1="542" y1="656" x2="546.8" y2="656" stroke="#111" stroke-width="1.3"/>
<line x1="576.8" y1="627.82" x2="576.8" y2="655.85" stroke="#111" stroke-width="1.3"/>
<line x1="574.4" y1="627.82" x2="579.2" y2="627.82" stroke="#111" stroke-width="1.3"/>
<line x1="574.4" y1="655.85" x2="579.2" y2="655.85" stroke="#111" stroke-width="1.3"/>
<line x1="609.5" y1="622.37" x2="609.5" y2="654.82" stroke="#111" stroke-width="1.3"/>
<line x1="607.1" y1="622.37" x2="611.9" y2="622.37" stroke="#111" stroke-width="1.3"/>
<line x1="607.1" y1="654.82" x2="611.9" y2="654.82" stroke="#111" stroke-width="1.3"/>
<polyline points="415.1,652.9 447.5,652.46 479.8,650.83 512.1,648.77 544.4,647.15 576.8,641.84 609.5,638.59" fill="none" stroke="#1a1ad0" stroke-width="1.6"/>
<polyline points="415.1,652.9 447.5,643.9 479.8,634.9 512.1,616.32 544.4,607.03 576.8,579.15 609.5,573.54" fill="none" stroke="#ff1010" stroke-width="1.6"/>
<rect x="412.9" y="650.7" width="4.4" height="4.4" fill="#000"/>
<rect x="445.3" y="650.26" width="4.4" height="4.4" fill="#000"/>
<rect x="477.6" y="648.63" width="4.4" height="4.4" fill="#000"/>
<rect x="509.9" y="646.57" width="4.4" height="4.4" fill="#000"/>
<rect x="542.2" y="644.95" width="4.4" height="4.4" fill="#000"/>
<rect x="574.6" y="639.64" width="4.4" height="4.4" fill="#000"/>
<rect x="607.3" y="636.39" width="4.4" height="4.4" fill="#000"/>
<circle cx="415.1" cy="652.9" r="2.2" fill="#000"/>
<circle cx="447.5" cy="643.9" r="2.2" fill="#000"/>
<circle cx="479.8" cy="634.9" r="2.2" fill="#000"/>
<circle cx="512.1" cy="616.32" r="2.2" fill="#000"/>
<circle cx="544.4" cy="607.03" r="2.2" fill="#000"/>
<circle cx="576.8" cy="579.15" r="2.2" fill="#000"/>
<circle cx="609.5" cy="573.54" r="2.2" fill="#000"/>
<text class="Rb" transform="translate(350.6 607.7) scale(1.25 1) rotate(-90)" font-size="10.4" text-anchor="middle" textLength="99" lengthAdjust="spacingAndGlyphs" fill="#000">Tumor Volume (mm<tspan font-size="6.5" dy="-4">3</tspan><tspan dy="4">)</tspan></text>
</svg></body></html>
